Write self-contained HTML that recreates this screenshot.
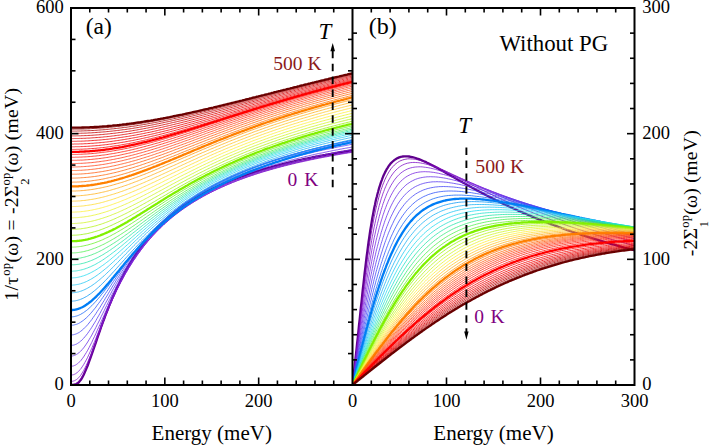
<!DOCTYPE html><html><head><meta charset="utf-8"><style>html,body{margin:0;padding:0;background:#fff;width:709px;height:445px;overflow:hidden}svg{display:block}text{font-family:"Liberation Serif",serif;fill:#000}</style></head><body>
<svg width="709" height="445" viewBox="0 0 709 445">
<defs><clipPath id="ca"><rect x="71.0" y="8.0" width="281.5" height="377.0"/></clipPath><clipPath id="cb"><rect x="352.5" y="8.0" width="282.0" height="377.0"/></clipPath></defs>
<g clip-path="url(#ca)" fill="none" stroke-linejoin="round">
<path d="M71.0,385.0 71.2,385.0 71.6,385.0 72.0,385.0 72.3,385.0 72.7,385.0 73.1,385.0 73.5,384.9 73.9,384.9 74.3,384.8 74.6,384.7 75.0,384.6 75.4,384.5 75.8,384.4 76.2,384.2 76.6,384.0 76.9,383.8 77.3,383.5 77.7,383.3 78.1,383.0 78.5,382.6 78.9,382.2 79.2,381.8 79.6,381.4 80.0,380.9 80.4,380.4 80.9,379.8 82.2,377.6 83.6,375.0 84.9,372.1 86.3,368.9 87.7,365.5 89.0,361.9 90.4,358.1 91.8,354.2 93.1,350.3 94.5,346.3 95.9,342.3 97.2,338.3 98.6,334.3 100.0,330.4 101.3,326.5 102.7,322.7 104.1,319.0 105.4,315.4 106.8,311.8 108.2,308.3 109.5,304.9 110.9,301.6 112.2,298.3 113.6,295.2 115.0,292.1 116.3,289.1 117.7,286.2 119.1,283.4 120.4,280.6 121.8,277.9 123.2,275.3 124.5,272.8 125.9,270.3 127.3,267.9 128.6,265.5 130.0,263.2 131.4,261.0 132.7,258.8 134.1,256.7 135.5,254.7 136.8,252.6 138.2,250.7 139.6,248.8 140.9,246.9 142.3,245.1 143.6,243.3 145.0,241.6 146.4,239.9 147.7,238.2 149.1,236.6 150.5,235.1 151.8,233.5 153.2,232.0 154.6,230.5 155.9,229.1 157.3,227.7 158.7,226.3 160.0,225.0 161.4,223.6 162.8,222.3 164.1,221.1 165.5,219.8 166.9,218.6 168.2,217.4 169.6,216.3 170.9,215.1 172.3,214.0 173.7,212.9 175.0,211.8 176.4,210.8 177.8,209.7 179.1,208.7 180.5,207.7 181.9,206.7 183.2,205.8 184.6,204.8 186.0,203.9 187.3,203.0 188.7,202.1 190.1,201.2 191.4,200.4 192.8,199.5 194.2,198.7 195.5,197.9 196.9,197.0 198.2,196.3 199.6,195.5 201.0,194.7 202.3,193.9 203.7,193.2 205.1,192.5 206.4,191.8 207.8,191.0 209.2,190.3 210.5,189.7 211.9,189.0 213.3,188.3 214.6,187.7 216.0,187.0 217.4,186.4 218.7,185.8 220.1,185.1 221.5,184.5 222.8,183.9 224.2,183.3 225.5,182.8 226.9,182.2 228.3,181.6 229.6,181.1 231.0,180.5 232.4,180.0 233.7,179.4 235.1,178.9 236.5,178.4 237.8,177.9 239.2,177.3 240.6,176.8 241.9,176.3 243.3,175.9 244.7,175.4 246.0,174.9 247.4,174.4 248.8,174.0 250.1,173.5 251.5,173.1 252.9,172.6 254.2,172.2 255.6,171.7 256.9,171.3 258.3,170.9 259.7,170.5 261.0,170.0 262.4,169.6 263.8,169.2 265.1,168.8 266.5,168.4 267.9,168.0 269.2,167.6 270.6,167.3 272.0,166.9 273.3,166.5 274.7,166.1 276.1,165.8 277.4,165.4 278.8,165.1 280.2,164.7 281.5,164.3 282.9,164.0 284.2,163.7 285.6,163.3 287.0,163.0 288.3,162.7 289.7,162.3 291.1,162.0 292.4,161.7 293.8,161.4 295.2,161.0 296.5,160.7 297.9,160.4 299.3,160.1 300.6,159.8 302.0,159.5 303.4,159.2 304.7,158.9 306.1,158.6 307.5,158.4 308.8,158.1 310.2,157.8 311.5,157.5 312.9,157.2 314.3,157.0 315.6,156.7 317.0,156.4 318.4,156.2 319.7,155.9 321.1,155.6 322.5,155.4 323.8,155.1 325.2,154.9 326.6,154.6 327.9,154.4 329.3,154.1 330.7,153.9 332.0,153.6 333.4,153.4 334.8,153.2 336.1,152.9 337.5,152.7 338.8,152.4 340.2,152.2 341.6,152.0 342.9,151.8 344.3,151.5 345.7,151.3 347.0,151.1 348.4,150.9 349.8,150.7 351.1,150.5 352.5,150.2" stroke="#5f008c" stroke-width="2.3"/>
<path d="M71.0,384.5 71.2,384.5 71.6,384.5 72.0,384.5 72.3,384.4 72.7,384.4 73.1,384.3 73.5,384.2 73.9,384.2 74.3,384.1 74.6,383.9 75.0,383.8 75.4,383.6 75.8,383.5 76.2,383.3 76.6,383.0 76.9,382.8 77.3,382.5 77.7,382.2 78.1,381.9 78.5,381.5 78.9,381.1 79.2,380.7 79.6,380.3 80.0,379.8 80.4,379.3 80.9,378.7 82.2,376.5 83.6,374.1 84.9,371.3 86.3,368.2 87.7,365.0 89.0,361.5 90.4,357.9 91.8,354.1 93.1,350.3 94.5,346.5 95.9,342.6 97.2,338.7 98.6,334.9 100.0,331.0 101.3,327.3 102.7,323.6 104.1,319.9 105.4,316.3 106.8,312.8 108.2,309.4 109.5,306.0 110.9,302.8 112.2,299.6 113.6,296.4 115.0,293.4 116.3,290.5 117.7,287.6 119.1,284.8 120.4,282.0 121.8,279.4 123.2,276.8 124.5,274.3 125.9,271.8 127.3,269.4 128.6,267.1 130.0,264.8 131.4,262.6 132.7,260.4 134.1,258.3 135.5,256.3 136.8,254.3 138.2,252.3 139.6,250.4 140.9,248.6 142.3,246.8 143.6,245.0 145.0,243.3 146.4,241.6 147.7,239.9 149.1,238.3 150.5,236.8 151.8,235.2 153.2,233.7 154.6,232.2 155.9,230.8 157.3,229.4 158.7,228.0 160.0,226.7 161.4,225.4 162.8,224.1 164.1,222.8 165.5,221.6 166.9,220.4 168.2,219.2 169.6,218.0 170.9,216.9 172.3,215.7 173.7,214.6 175.0,213.6 176.4,212.5 177.8,211.5 179.1,210.4 180.5,209.4 181.9,208.5 183.2,207.5 184.6,206.6 186.0,205.6 187.3,204.7 188.7,203.8 190.1,202.9 191.4,202.1 192.8,201.2 194.2,200.4 195.5,199.6 196.9,198.8 198.2,198.0 199.6,197.2 201.0,196.4 202.3,195.6 203.7,194.9 205.1,194.2 206.4,193.4 207.8,192.7 209.2,192.0 210.5,191.3 211.9,190.7 213.3,190.0 214.6,189.3 216.0,188.7 217.4,188.1 218.7,187.4 220.1,186.8 221.5,186.2 222.8,185.6 224.2,185.0 225.5,184.4 226.9,183.8 228.3,183.3 229.6,182.7 231.0,182.2 232.4,181.6 233.7,181.1 235.1,180.5 236.5,180.0 237.8,179.5 239.2,179.0 240.6,178.5 241.9,178.0 243.3,177.5 244.7,177.0 246.0,176.5 247.4,176.1 248.8,175.6 250.1,175.1 251.5,174.7 252.9,174.2 254.2,173.8 255.6,173.3 256.9,172.9 258.3,172.5 259.7,172.1 261.0,171.6 262.4,171.2 263.8,170.8 265.1,170.4 266.5,170.0 267.9,169.6 269.2,169.2 270.6,168.8 272.0,168.5 273.3,168.1 274.7,167.7 276.1,167.3 277.4,167.0 278.8,166.6 280.2,166.3 281.5,165.9 282.9,165.6 284.2,165.2 285.6,164.9 287.0,164.5 288.3,164.2 289.7,163.9 291.1,163.5 292.4,163.2 293.8,162.9 295.2,162.6 296.5,162.3 297.9,162.0 299.3,161.7 300.6,161.4 302.0,161.1 303.4,160.8 304.7,160.5 306.1,160.2 307.5,159.9 308.8,159.6 310.2,159.3 311.5,159.0 312.9,158.7 314.3,158.5 315.6,158.2 317.0,157.9 318.4,157.7 319.7,157.4 321.1,157.1 322.5,156.9 323.8,156.6 325.2,156.4 326.6,156.1 327.9,155.9 329.3,155.6 330.7,155.4 332.0,155.1 333.4,154.9 334.8,154.6 336.1,154.4 337.5,154.2 338.8,153.9 340.2,153.7 341.6,153.5 342.9,153.2 344.3,153.0 345.7,152.8 347.0,152.6 348.4,152.3 349.8,152.1 351.1,151.9 352.5,151.7" stroke="#7800af" stroke-width="0.8"/>
<path d="M71.0,381.4 71.2,381.4 71.6,381.4 72.0,381.3 72.3,381.3 72.7,381.2 73.1,381.1 73.5,381.0 73.9,380.9 74.3,380.8 74.6,380.6 75.0,380.4 75.4,380.2 75.8,380.0 76.2,379.8 76.6,379.5 76.9,379.2 77.3,378.9 77.7,378.6 78.1,378.2 78.5,377.8 78.9,377.4 79.2,377.0 79.6,376.6 80.0,376.1 80.4,375.6 80.9,375.0 82.2,372.9 83.6,370.6 84.9,368.1 86.3,365.3 87.7,362.2 89.0,359.0 90.4,355.7 91.8,352.2 93.1,348.7 94.5,345.1 95.9,341.5 97.2,337.8 98.6,334.2 100.0,330.5 101.3,327.0 102.7,323.4 104.1,319.9 105.4,316.4 106.8,313.1 108.2,309.7 109.5,306.5 110.9,303.3 112.2,300.2 113.6,297.1 115.0,294.2 116.3,291.3 117.7,288.5 119.1,285.7 120.4,283.0 121.8,280.4 123.2,277.8 124.5,275.4 125.9,272.9 127.3,270.6 128.6,268.3 130.0,266.0 131.4,263.8 132.7,261.7 134.1,259.6 135.5,257.6 136.8,255.6 138.2,253.6 139.6,251.7 140.9,249.9 142.3,248.1 143.6,246.3 145.0,244.6 146.4,242.9 147.7,241.3 149.1,239.7 150.5,238.1 151.8,236.6 153.2,235.1 154.6,233.6 155.9,232.2 157.3,230.7 158.7,229.4 160.0,228.0 161.4,226.7 162.8,225.4 164.1,224.1 165.5,222.9 166.9,221.7 168.2,220.5 169.6,219.3 170.9,218.2 172.3,217.0 173.7,215.9 175.0,214.9 176.4,213.8 177.8,212.8 179.1,211.7 180.5,210.7 181.9,209.7 183.2,208.8 184.6,207.8 186.0,206.9 187.3,206.0 188.7,205.1 190.1,204.2 191.4,203.3 192.8,202.4 194.2,201.6 195.5,200.8 196.9,200.0 198.2,199.2 199.6,198.4 201.0,197.6 202.3,196.8 203.7,196.1 205.1,195.3 206.4,194.6 207.8,193.9 209.2,193.2 210.5,192.5 211.9,191.8 213.3,191.1 214.6,190.5 216.0,189.8 217.4,189.2 218.7,188.5 220.1,187.9 221.5,187.3 222.8,186.7 224.2,186.1 225.5,185.5 226.9,184.9 228.3,184.3 229.6,183.8 231.0,183.2 232.4,182.6 233.7,182.1 235.1,181.6 236.5,181.0 237.8,180.5 239.2,180.0 240.6,179.5 241.9,179.0 243.3,178.5 244.7,178.0 246.0,177.5 247.4,177.0 248.8,176.5 250.1,176.1 251.5,175.6 252.9,175.2 254.2,174.7 255.6,174.3 256.9,173.8 258.3,173.4 259.7,173.0 261.0,172.5 262.4,172.1 263.8,171.7 265.1,171.3 266.5,170.9 267.9,170.5 269.2,170.1 270.6,169.7 272.0,169.3 273.3,168.9 274.7,168.6 276.1,168.2 277.4,167.8 278.8,167.5 280.2,167.1 281.5,166.7 282.9,166.4 284.2,166.0 285.6,165.7 287.0,165.3 288.3,165.0 289.7,164.7 291.1,164.3 292.4,164.0 293.8,163.7 295.2,163.4 296.5,163.0 297.9,162.7 299.3,162.4 300.6,162.1 302.0,161.8 303.4,161.5 304.7,161.2 306.1,160.9 307.5,160.6 308.8,160.3 310.2,160.0 311.5,159.7 312.9,159.5 314.3,159.2 315.6,158.9 317.0,158.6 318.4,158.3 319.7,158.1 321.1,157.8 322.5,157.5 323.8,157.3 325.2,157.0 326.6,156.8 327.9,156.5 329.3,156.3 330.7,156.0 332.0,155.8 333.4,155.5 334.8,155.3 336.1,155.0 337.5,154.8 338.8,154.5 340.2,154.3 341.6,154.1 342.9,153.8 344.3,153.6 345.7,153.4 347.0,153.2 348.4,152.9 349.8,152.7 351.1,152.5 352.5,152.3" stroke="#8214c8" stroke-width="0.8"/>
<path d="M71.0,375.0 71.2,375.0 71.6,375.0 72.0,375.0 72.3,374.9 72.7,374.9 73.1,374.8 73.5,374.7 73.9,374.5 74.3,374.4 74.6,374.2 75.0,374.0 75.4,373.8 75.8,373.6 76.2,373.3 76.6,373.0 76.9,372.8 77.3,372.5 77.7,372.1 78.1,371.8 78.5,371.4 78.9,371.0 79.2,370.6 79.6,370.2 80.0,369.8 80.4,369.3 80.9,368.7 82.2,366.8 83.6,364.7 84.9,362.4 86.3,359.9 87.7,357.2 89.0,354.3 90.4,351.3 91.8,348.2 93.1,345.0 94.5,341.7 95.9,338.4 97.2,335.0 98.6,331.7 100.0,328.3 101.3,324.9 102.7,321.6 104.1,318.3 105.4,315.0 106.8,311.8 108.2,308.6 109.5,305.5 110.9,302.5 112.2,299.5 113.6,296.6 115.0,293.7 116.3,290.9 117.7,288.1 119.1,285.4 120.4,282.8 121.8,280.3 123.2,277.8 124.5,275.3 125.9,272.9 127.3,270.6 128.6,268.3 130.0,266.1 131.4,264.0 132.7,261.8 134.1,259.8 135.5,257.8 136.8,255.8 138.2,253.9 139.6,252.0 140.9,250.1 142.3,248.4 143.6,246.6 145.0,244.9 146.4,243.2 147.7,241.6 149.1,240.0 150.5,238.4 151.8,236.9 153.2,235.4 154.6,233.9 155.9,232.5 157.3,231.1 158.7,229.7 160.0,228.3 161.4,227.0 162.8,225.7 164.1,224.4 165.5,223.2 166.9,222.0 168.2,220.8 169.6,219.6 170.9,218.4 172.3,217.3 173.7,216.2 175.0,215.1 176.4,214.0 177.8,213.0 179.1,212.0 180.5,210.9 181.9,209.9 183.2,209.0 184.6,208.0 186.0,207.1 187.3,206.1 188.7,205.2 190.1,204.3 191.4,203.5 192.8,202.6 194.2,201.7 195.5,200.9 196.9,200.1 198.2,199.3 199.6,198.5 201.0,197.7 202.3,196.9 203.7,196.1 205.1,195.4 206.4,194.7 207.8,193.9 209.2,193.2 210.5,192.5 211.9,191.8 213.3,191.1 214.6,190.5 216.0,189.8 217.4,189.1 218.7,188.5 220.1,187.9 221.5,187.2 222.8,186.6 224.2,186.0 225.5,185.4 226.9,184.8 228.3,184.2 229.6,183.7 231.0,183.1 232.4,182.5 233.7,182.0 235.1,181.4 236.5,180.9 237.8,180.3 239.2,179.8 240.6,179.3 241.9,178.8 243.3,178.3 244.7,177.8 246.0,177.3 247.4,176.8 248.8,176.3 250.1,175.8 251.5,175.4 252.9,174.9 254.2,174.5 255.6,174.0 256.9,173.6 258.3,173.1 259.7,172.7 261.0,172.2 262.4,171.8 263.8,171.4 265.1,171.0 266.5,170.6 267.9,170.2 269.2,169.8 270.6,169.4 272.0,169.0 273.3,168.6 274.7,168.2 276.1,167.8 277.4,167.4 278.8,167.1 280.2,166.7 281.5,166.3 282.9,166.0 284.2,165.6 285.6,165.2 287.0,164.9 288.3,164.5 289.7,164.2 291.1,163.9 292.4,163.5 293.8,163.2 295.2,162.9 296.5,162.5 297.9,162.2 299.3,161.9 300.6,161.6 302.0,161.3 303.4,161.0 304.7,160.7 306.1,160.3 307.5,160.0 308.8,159.7 310.2,159.5 311.5,159.2 312.9,158.9 314.3,158.6 315.6,158.3 317.0,158.0 318.4,157.7 319.7,157.5 321.1,157.2 322.5,156.9 323.8,156.6 325.2,156.4 326.6,156.1 327.9,155.9 329.3,155.6 330.7,155.3 332.0,155.1 333.4,154.8 334.8,154.6 336.1,154.3 337.5,154.1 338.8,153.8 340.2,153.6 341.6,153.4 342.9,153.1 344.3,152.9 345.7,152.6 347.0,152.4 348.4,152.2 349.8,152.0 351.1,151.7 352.5,151.5" stroke="#7d1ed4" stroke-width="0.8"/>
<path d="M71.0,366.2 71.2,366.2 71.6,366.2 72.0,366.2 72.3,366.1 72.7,366.1 73.1,366.0 73.5,365.9 73.9,365.7 74.3,365.6 74.6,365.4 75.0,365.3 75.4,365.1 75.8,364.9 76.2,364.6 76.6,364.4 76.9,364.1 77.3,363.8 77.7,363.5 78.1,363.2 78.5,362.9 78.9,362.5 79.2,362.2 79.6,361.8 80.0,361.4 80.4,361.0 80.9,360.5 82.2,358.8 83.6,356.9 84.9,354.8 86.3,352.6 87.7,350.2 89.0,347.7 90.4,345.0 91.8,342.3 93.1,339.4 94.5,336.5 95.9,333.5 97.2,330.5 98.6,327.4 100.0,324.4 101.3,321.3 102.7,318.2 104.1,315.2 105.4,312.1 106.8,309.1 108.2,306.1 109.5,303.2 110.9,300.3 112.2,297.5 113.6,294.7 115.0,291.9 116.3,289.2 117.7,286.6 119.1,284.0 120.4,281.5 121.8,279.0 123.2,276.5 124.5,274.2 125.9,271.8 127.3,269.6 128.6,267.3 130.0,265.2 131.4,263.0 132.7,261.0 134.1,258.9 135.5,256.9 136.8,255.0 138.2,253.1 139.6,251.2 140.9,249.4 142.3,247.6 143.6,245.9 145.0,244.2 146.4,242.5 147.7,240.9 149.1,239.3 150.5,237.7 151.8,236.2 153.2,234.7 154.6,233.2 155.9,231.8 157.3,230.4 158.7,229.0 160.0,227.7 161.4,226.3 162.8,225.0 164.1,223.8 165.5,222.5 166.9,221.3 168.2,220.1 169.6,218.9 170.9,217.7 172.3,216.6 173.7,215.5 175.0,214.4 176.4,213.3 177.8,212.3 179.1,211.2 180.5,210.2 181.9,209.2 183.2,208.2 184.6,207.2 186.0,206.3 187.3,205.4 188.7,204.4 190.1,203.5 191.4,202.6 192.8,201.8 194.2,200.9 195.5,200.1 196.9,199.2 198.2,198.4 199.6,197.6 201.0,196.8 202.3,196.0 203.7,195.2 205.1,194.5 206.4,193.7 207.8,193.0 209.2,192.3 210.5,191.6 211.9,190.8 213.3,190.2 214.6,189.5 216.0,188.8 217.4,188.1 218.7,187.5 220.1,186.8 221.5,186.2 222.8,185.6 224.2,184.9 225.5,184.3 226.9,183.7 228.3,183.1 229.6,182.5 231.0,182.0 232.4,181.4 233.7,180.8 235.1,180.3 236.5,179.7 237.8,179.2 239.2,178.6 240.6,178.1 241.9,177.6 243.3,177.1 244.7,176.6 246.0,176.1 247.4,175.6 248.8,175.1 250.1,174.6 251.5,174.1 252.9,173.6 254.2,173.2 255.6,172.7 256.9,172.2 258.3,171.8 259.7,171.3 261.0,170.9 262.4,170.5 263.8,170.0 265.1,169.6 266.5,169.2 267.9,168.8 269.2,168.3 270.6,167.9 272.0,167.5 273.3,167.1 274.7,166.7 276.1,166.4 277.4,166.0 278.8,165.6 280.2,165.2 281.5,164.8 282.9,164.5 284.2,164.1 285.6,163.7 287.0,163.4 288.3,163.0 289.7,162.7 291.1,162.3 292.4,162.0 293.8,161.6 295.2,161.3 296.5,161.0 297.9,160.6 299.3,160.3 300.6,160.0 302.0,159.6 303.4,159.3 304.7,159.0 306.1,158.7 307.5,158.4 308.8,158.1 310.2,157.8 311.5,157.5 312.9,157.2 314.3,156.9 315.6,156.6 317.0,156.3 318.4,156.0 319.7,155.7 321.1,155.5 322.5,155.2 323.8,154.9 325.2,154.6 326.6,154.3 327.9,154.1 329.3,153.8 330.7,153.5 332.0,153.3 333.4,153.0 334.8,152.8 336.1,152.5 337.5,152.3 338.8,152.0 340.2,151.8 341.6,151.5 342.9,151.3 344.3,151.0 345.7,150.8 347.0,150.5 348.4,150.3 349.8,150.1 351.1,149.8 352.5,149.6" stroke="#7828e1" stroke-width="0.8"/>
<path d="M71.0,356.0 71.2,356.0 71.6,356.0 72.0,356.0 72.3,356.0 72.7,355.9 73.1,355.8 73.5,355.7 73.9,355.6 74.3,355.5 74.6,355.3 75.0,355.2 75.4,355.0 75.8,354.8 76.2,354.6 76.6,354.4 76.9,354.2 77.3,353.9 77.7,353.7 78.1,353.4 78.5,353.1 78.9,352.8 79.2,352.5 79.6,352.1 80.0,351.8 80.4,351.4 80.9,351.0 82.2,349.5 83.6,347.9 84.9,346.1 86.3,344.1 87.7,342.0 89.0,339.8 90.4,337.5 91.8,335.1 93.1,332.6 94.5,330.0 95.9,327.4 97.2,324.7 98.6,322.0 100.0,319.2 101.3,316.4 102.7,313.6 104.1,310.8 105.4,308.1 106.8,305.3 108.2,302.5 109.5,299.8 110.9,297.1 112.2,294.4 113.6,291.8 115.0,289.2 116.3,286.6 117.7,284.1 119.1,281.7 120.4,279.2 121.8,276.8 123.2,274.5 124.5,272.2 125.9,270.0 127.3,267.8 128.6,265.6 130.0,263.5 131.4,261.4 132.7,259.4 134.1,257.4 135.5,255.4 136.8,253.5 138.2,251.6 139.6,249.8 140.9,248.0 142.3,246.3 143.6,244.5 145.0,242.9 146.4,241.2 147.7,239.6 149.1,238.0 150.5,236.5 151.8,234.9 153.2,233.4 154.6,232.0 155.9,230.5 157.3,229.1 158.7,227.8 160.0,226.4 161.4,225.1 162.8,223.8 164.1,222.5 165.5,221.3 166.9,220.0 168.2,218.8 169.6,217.6 170.9,216.5 172.3,215.3 173.7,214.2 175.0,213.1 176.4,212.0 177.8,211.0 179.1,209.9 180.5,208.9 181.9,207.9 183.2,206.9 184.6,205.9 186.0,204.9 187.3,204.0 188.7,203.1 190.1,202.2 191.4,201.3 192.8,200.4 194.2,199.5 195.5,198.6 196.9,197.8 198.2,197.0 199.6,196.1 201.0,195.3 202.3,194.5 203.7,193.8 205.1,193.0 206.4,192.2 207.8,191.5 209.2,190.7 210.5,190.0 211.9,189.3 213.3,188.6 214.6,187.9 216.0,187.2 217.4,186.5 218.7,185.9 220.1,185.2 221.5,184.6 222.8,183.9 224.2,183.3 225.5,182.7 226.9,182.0 228.3,181.4 229.6,180.8 231.0,180.2 232.4,179.7 233.7,179.1 235.1,178.5 236.5,178.0 237.8,177.4 239.2,176.9 240.6,176.3 241.9,175.8 243.3,175.3 244.7,174.7 246.0,174.2 247.4,173.7 248.8,173.2 250.1,172.7 251.5,172.2 252.9,171.7 254.2,171.3 255.6,170.8 256.9,170.3 258.3,169.8 259.7,169.4 261.0,168.9 262.4,168.5 263.8,168.0 265.1,167.6 266.5,167.2 267.9,166.7 269.2,166.3 270.6,165.9 272.0,165.5 273.3,165.1 274.7,164.7 276.1,164.3 277.4,163.9 278.8,163.5 280.2,163.1 281.5,162.7 282.9,162.3 284.2,162.0 285.6,161.6 287.0,161.2 288.3,160.8 289.7,160.5 291.1,160.1 292.4,159.8 293.8,159.4 295.2,159.1 296.5,158.7 297.9,158.4 299.3,158.0 300.6,157.7 302.0,157.4 303.4,157.1 304.7,156.7 306.1,156.4 307.5,156.1 308.8,155.8 310.2,155.5 311.5,155.1 312.9,154.8 314.3,154.5 315.6,154.2 317.0,153.9 318.4,153.6 319.7,153.3 321.1,153.1 322.5,152.8 323.8,152.5 325.2,152.2 326.6,151.9 327.9,151.6 329.3,151.4 330.7,151.1 332.0,150.8 333.4,150.5 334.8,150.3 336.1,150.0 337.5,149.8 338.8,149.5 340.2,149.2 341.6,149.0 342.9,148.7 344.3,148.5 345.7,148.2 347.0,148.0 348.4,147.7 349.8,147.5 351.1,147.2 352.5,147.0" stroke="#6932e8" stroke-width="0.8"/>
<path d="M71.0,345.4 71.2,345.4 71.6,345.4 72.0,345.3 72.3,345.3 72.7,345.2 73.1,345.2 73.5,345.1 73.9,345.0 74.3,344.9 74.6,344.8 75.0,344.6 75.4,344.5 75.8,344.3 76.2,344.2 76.6,344.0 76.9,343.8 77.3,343.6 77.7,343.3 78.1,343.1 78.5,342.8 78.9,342.6 79.2,342.3 79.6,342.0 80.0,341.7 80.4,341.4 80.9,341.0 82.2,339.7 83.6,338.3 84.9,336.8 86.3,335.1 87.7,333.3 89.0,331.4 90.4,329.4 91.8,327.3 93.1,325.1 94.5,322.9 95.9,320.6 97.2,318.2 98.6,315.8 100.0,313.3 101.3,310.8 102.7,308.3 104.1,305.8 105.4,303.3 106.8,300.8 108.2,298.3 109.5,295.8 110.9,293.3 112.2,290.8 113.6,288.3 115.0,285.9 116.3,283.5 117.7,281.1 119.1,278.8 120.4,276.5 121.8,274.2 123.2,272.0 124.5,269.8 125.9,267.7 127.3,265.5 128.6,263.5 130.0,261.4 131.4,259.4 132.7,257.4 134.1,255.5 135.5,253.6 136.8,251.7 138.2,249.9 139.6,248.1 140.9,246.4 142.3,244.6 143.6,243.0 145.0,241.3 146.4,239.7 147.7,238.1 149.1,236.5 150.5,235.0 151.8,233.5 153.2,232.0 154.6,230.5 155.9,229.1 157.3,227.7 158.7,226.3 160.0,225.0 161.4,223.7 162.8,222.4 164.1,221.1 165.5,219.9 166.9,218.6 168.2,217.4 169.6,216.2 170.9,215.1 172.3,213.9 173.7,212.8 175.0,211.7 176.4,210.6 177.8,209.5 179.1,208.5 180.5,207.4 181.9,206.4 183.2,205.4 184.6,204.4 186.0,203.5 187.3,202.5 188.7,201.6 190.1,200.7 191.4,199.8 192.8,198.9 194.2,198.0 195.5,197.1 196.9,196.3 198.2,195.4 199.6,194.6 201.0,193.8 202.3,193.0 203.7,192.2 205.1,191.4 206.4,190.6 207.8,189.9 209.2,189.1 210.5,188.4 211.9,187.6 213.3,186.9 214.6,186.2 216.0,185.5 217.4,184.8 218.7,184.2 220.1,183.5 221.5,182.8 222.8,182.2 224.2,181.5 225.5,180.9 226.9,180.3 228.3,179.6 229.6,179.0 231.0,178.4 232.4,177.8 233.7,177.2 235.1,176.7 236.5,176.1 237.8,175.5 239.2,175.0 240.6,174.4 241.9,173.9 243.3,173.3 244.7,172.8 246.0,172.3 247.4,171.7 248.8,171.2 250.1,170.7 251.5,170.2 252.9,169.7 254.2,169.2 255.6,168.7 256.9,168.3 258.3,167.8 259.7,167.3 261.0,166.9 262.4,166.4 263.8,165.9 265.1,165.5 266.5,165.1 267.9,164.6 269.2,164.2 270.6,163.7 272.0,163.3 273.3,162.9 274.7,162.5 276.1,162.1 277.4,161.7 278.8,161.3 280.2,160.9 281.5,160.5 282.9,160.1 284.2,159.7 285.6,159.3 287.0,158.9 288.3,158.5 289.7,158.2 291.1,157.8 292.4,157.4 293.8,157.1 295.2,156.7 296.5,156.4 297.9,156.0 299.3,155.7 300.6,155.3 302.0,155.0 303.4,154.6 304.7,154.3 306.1,154.0 307.5,153.6 308.8,153.3 310.2,153.0 311.5,152.7 312.9,152.3 314.3,152.0 315.6,151.7 317.0,151.4 318.4,151.1 319.7,150.8 321.1,150.5 322.5,150.2 323.8,149.9 325.2,149.6 326.6,149.3 327.9,149.0 329.3,148.8 330.7,148.5 332.0,148.2 333.4,147.9 334.8,147.6 336.1,147.4 337.5,147.1 338.8,146.8 340.2,146.6 341.6,146.3 342.9,146.0 344.3,145.8 345.7,145.5 347.0,145.2 348.4,145.0 349.8,144.7 351.1,144.5 352.5,144.2" stroke="#5a3cf0" stroke-width="0.8"/>
<path d="M71.0,334.9 71.2,334.9 71.6,334.9 72.0,334.9 72.3,334.9 72.7,334.8 73.1,334.8 73.5,334.7 73.9,334.6 74.3,334.5 74.6,334.4 75.0,334.3 75.4,334.2 75.8,334.0 76.2,333.9 76.6,333.7 76.9,333.6 77.3,333.4 77.7,333.2 78.1,333.0 78.5,332.8 78.9,332.6 79.2,332.3 79.6,332.1 80.0,331.8 80.4,331.5 80.9,331.2 82.2,330.1 83.6,328.9 84.9,327.6 86.3,326.2 87.7,324.7 89.0,323.0 90.4,321.3 91.8,319.5 93.1,317.6 94.5,315.6 95.9,313.6 97.2,311.5 98.6,309.4 100.0,307.3 101.3,305.1 102.7,302.8 104.1,300.6 105.4,298.3 106.8,296.1 108.2,293.8 109.5,291.5 110.9,289.2 112.2,287.0 113.6,284.7 115.0,282.5 116.3,280.2 117.7,278.0 119.1,275.9 120.4,273.7 121.8,271.6 123.2,269.5 124.5,267.4 125.9,265.3 127.3,263.3 128.6,261.3 130.0,259.4 131.4,257.5 132.7,255.6 134.1,253.7 135.5,251.9 136.8,250.1 138.2,248.3 139.6,246.6 140.9,244.9 142.3,243.2 143.6,241.5 145.0,239.9 146.4,238.3 147.7,236.7 149.1,235.2 150.5,233.7 151.8,232.2 153.2,230.8 154.6,229.3 155.9,227.9 157.3,226.5 158.7,225.2 160.0,223.9 161.4,222.5 162.8,221.3 164.1,220.0 165.5,218.7 166.9,217.5 168.2,216.3 169.6,215.1 170.9,214.0 172.3,212.8 173.7,211.7 175.0,210.6 176.4,209.5 177.8,208.4 179.1,207.4 180.5,206.3 181.9,205.3 183.2,204.3 184.6,203.3 186.0,202.4 187.3,201.4 188.7,200.5 190.1,199.5 191.4,198.6 192.8,197.7 194.2,196.8 195.5,195.9 196.9,195.1 198.2,194.2 199.6,193.4 201.0,192.6 202.3,191.8 203.7,191.0 205.1,190.2 206.4,189.4 207.8,188.6 209.2,187.9 210.5,187.1 211.9,186.4 213.3,185.6 214.6,184.9 216.0,184.2 217.4,183.5 218.7,182.8 220.1,182.1 221.5,181.5 222.8,180.8 224.2,180.2 225.5,179.5 226.9,178.9 228.3,178.2 229.6,177.6 231.0,177.0 232.4,176.4 233.7,175.8 235.1,175.2 236.5,174.6 237.8,174.0 239.2,173.5 240.6,172.9 241.9,172.3 243.3,171.8 244.7,171.3 246.0,170.7 247.4,170.2 248.8,169.7 250.1,169.1 251.5,168.6 252.9,168.1 254.2,167.6 255.6,167.1 256.9,166.6 258.3,166.1 259.7,165.6 261.0,165.2 262.4,164.7 263.8,164.2 265.1,163.8 266.5,163.3 267.9,162.9 269.2,162.4 270.6,162.0 272.0,161.5 273.3,161.1 274.7,160.7 276.1,160.3 277.4,159.8 278.8,159.4 280.2,159.0 281.5,158.6 282.9,158.2 284.2,157.8 285.6,157.4 287.0,157.0 288.3,156.6 289.7,156.2 291.1,155.9 292.4,155.5 293.8,155.1 295.2,154.7 296.5,154.4 297.9,154.0 299.3,153.7 300.6,153.3 302.0,152.9 303.4,152.6 304.7,152.2 306.1,151.9 307.5,151.6 308.8,151.2 310.2,150.9 311.5,150.6 312.9,150.2 314.3,149.9 315.6,149.6 317.0,149.3 318.4,149.0 319.7,148.6 321.1,148.3 322.5,148.0 323.8,147.7 325.2,147.4 326.6,147.1 327.9,146.8 329.3,146.5 330.7,146.2 332.0,145.9 333.4,145.6 334.8,145.4 336.1,145.1 337.5,144.8 338.8,144.5 340.2,144.2 341.6,144.0 342.9,143.7 344.3,143.4 345.7,143.1 347.0,142.9 348.4,142.6 349.8,142.4 351.1,142.1 352.5,141.8" stroke="#4648f5" stroke-width="0.8"/>
<path d="M71.0,325.3 71.2,325.3 71.6,325.3 72.0,325.3 72.3,325.2 72.7,325.2 73.1,325.1 73.5,325.1 73.9,325.0 74.3,324.9 74.6,324.8 75.0,324.8 75.4,324.6 75.8,324.5 76.2,324.4 76.6,324.3 76.9,324.1 77.3,324.0 77.7,323.8 78.1,323.6 78.5,323.5 78.9,323.3 79.2,323.1 79.6,322.9 80.0,322.6 80.4,322.4 80.9,322.1 82.2,321.2 83.6,320.2 84.9,319.1 86.3,317.9 87.7,316.6 89.0,315.2 90.4,313.7 91.8,312.1 93.1,310.5 94.5,308.8 95.9,307.1 97.2,305.2 98.6,303.4 100.0,301.5 101.3,299.6 102.7,297.6 104.1,295.6 105.4,293.6 106.8,291.6 108.2,289.5 109.5,287.5 110.9,285.4 112.2,283.4 113.6,281.3 115.0,279.3 116.3,277.2 117.7,275.2 119.1,273.2 120.4,271.2 121.8,269.2 123.2,267.3 124.5,265.3 125.9,263.4 127.3,261.5 128.6,259.6 130.0,257.8 131.4,255.9 132.7,254.1 134.1,252.4 135.5,250.6 136.8,248.9 138.2,247.2 139.6,245.5 140.9,243.9 142.3,242.2 143.6,240.6 145.0,239.1 146.4,237.5 147.7,236.0 149.1,234.5 150.5,233.0 151.8,231.6 153.2,230.2 154.6,228.8 155.9,227.4 157.3,226.0 158.7,224.7 160.0,223.4 161.4,222.1 162.8,220.8 164.1,219.6 165.5,218.3 166.9,217.1 168.2,215.9 169.6,214.8 170.9,213.6 172.3,212.5 173.7,211.4 175.0,210.3 176.4,209.2 177.8,208.1 179.1,207.0 180.5,206.0 181.9,205.0 183.2,204.0 184.6,203.0 186.0,202.0 187.3,201.1 188.7,200.1 190.1,199.2 191.4,198.3 192.8,197.4 194.2,196.5 195.5,195.6 196.9,194.7 198.2,193.9 199.6,193.0 201.0,192.2 202.3,191.4 203.7,190.6 205.1,189.8 206.4,189.0 207.8,188.2 209.2,187.4 210.5,186.7 211.9,185.9 213.3,185.2 214.6,184.5 216.0,183.8 217.4,183.1 218.7,182.4 220.1,181.7 221.5,181.0 222.8,180.3 224.2,179.7 225.5,179.0 226.9,178.3 228.3,177.7 229.6,177.1 231.0,176.4 232.4,175.8 233.7,175.2 235.1,174.6 236.5,174.0 237.8,173.4 239.2,172.9 240.6,172.3 241.9,171.7 243.3,171.1 244.7,170.6 246.0,170.0 247.4,169.5 248.8,169.0 250.1,168.4 251.5,167.9 252.9,167.4 254.2,166.9 255.6,166.4 256.9,165.9 258.3,165.4 259.7,164.9 261.0,164.4 262.4,163.9 263.8,163.4 265.1,162.9 266.5,162.5 267.9,162.0 269.2,161.6 270.6,161.1 272.0,160.7 273.3,160.2 274.7,159.8 276.1,159.3 277.4,158.9 278.8,158.5 280.2,158.1 281.5,157.6 282.9,157.2 284.2,156.8 285.6,156.4 287.0,156.0 288.3,155.6 289.7,155.2 291.1,154.8 292.4,154.4 293.8,154.0 295.2,153.7 296.5,153.3 297.9,152.9 299.3,152.5 300.6,152.2 302.0,151.8 303.4,151.5 304.7,151.1 306.1,150.7 307.5,150.4 308.8,150.0 310.2,149.7 311.5,149.4 312.9,149.0 314.3,148.7 315.6,148.4 317.0,148.0 318.4,147.7 319.7,147.4 321.1,147.0 322.5,146.7 323.8,146.4 325.2,146.1 326.6,145.8 327.9,145.5 329.3,145.2 330.7,144.9 332.0,144.6 333.4,144.3 334.8,144.0 336.1,143.7 337.5,143.4 338.8,143.1 340.2,142.8 341.6,142.5 342.9,142.2 344.3,142.0 345.7,141.7 347.0,141.4 348.4,141.1 349.8,140.9 351.1,140.6 352.5,140.3" stroke="#3255fa" stroke-width="0.8"/>
<path d="M71.0,316.9 71.2,316.9 71.6,316.9 72.0,316.8 72.3,316.8 72.7,316.8 73.1,316.7 73.5,316.7 73.9,316.6 74.3,316.6 74.6,316.5 75.0,316.4 75.4,316.3 75.8,316.2 76.2,316.1 76.6,316.0 76.9,315.9 77.3,315.8 77.7,315.6 78.1,315.5 78.5,315.3 78.9,315.2 79.2,315.0 79.6,314.8 80.0,314.6 80.4,314.5 80.9,314.2 82.2,313.4 83.6,312.6 84.9,311.6 86.3,310.6 87.7,309.5 89.0,308.3 90.4,307.0 91.8,305.7 93.1,304.3 94.5,302.8 95.9,301.3 97.2,299.8 98.6,298.2 100.0,296.5 101.3,294.8 102.7,293.1 104.1,291.4 105.4,289.6 106.8,287.8 108.2,286.0 109.5,284.1 110.9,282.3 112.2,280.5 113.6,278.6 115.0,276.8 116.3,274.9 117.7,273.1 119.1,271.2 120.4,269.4 121.8,267.6 123.2,265.8 124.5,264.0 125.9,262.2 127.3,260.4 128.6,258.7 130.0,256.9 131.4,255.2 132.7,253.5 134.1,251.9 135.5,250.2 136.8,248.6 138.2,246.9 139.6,245.4 140.9,243.8 142.3,242.2 143.6,240.7 145.0,239.2 146.4,237.7 147.7,236.2 149.1,234.8 150.5,233.4 151.8,232.0 153.2,230.6 154.6,229.2 155.9,227.9 157.3,226.6 158.7,225.3 160.0,224.0 161.4,222.7 162.8,221.5 164.1,220.2 165.5,219.0 166.9,217.8 168.2,216.7 169.6,215.5 170.9,214.4 172.3,213.3 173.7,212.2 175.0,211.1 176.4,210.0 177.8,208.9 179.1,207.9 180.5,206.9 181.9,205.9 183.2,204.9 184.6,203.9 186.0,202.9 187.3,202.0 188.7,201.0 190.1,200.1 191.4,199.2 192.8,198.3 194.2,197.4 195.5,196.5 196.9,195.6 198.2,194.8 199.6,193.9 201.0,193.1 202.3,192.3 203.7,191.5 205.1,190.7 206.4,189.9 207.8,189.1 209.2,188.3 210.5,187.6 211.9,186.8 213.3,186.1 214.6,185.3 216.0,184.6 217.4,183.9 218.7,183.2 220.1,182.5 221.5,181.8 222.8,181.1 224.2,180.5 225.5,179.8 226.9,179.2 228.3,178.5 229.6,177.9 231.0,177.2 232.4,176.6 233.7,176.0 235.1,175.4 236.5,174.8 237.8,174.2 239.2,173.6 240.6,173.0 241.9,172.4 243.3,171.9 244.7,171.3 246.0,170.7 247.4,170.2 248.8,169.6 250.1,169.1 251.5,168.6 252.9,168.0 254.2,167.5 255.6,167.0 256.9,166.5 258.3,166.0 259.7,165.5 261.0,165.0 262.4,164.5 263.8,164.0 265.1,163.5 266.5,163.0 267.9,162.6 269.2,162.1 270.6,161.6 272.0,161.2 273.3,160.7 274.7,160.3 276.1,159.8 277.4,159.4 278.8,158.9 280.2,158.5 281.5,158.1 282.9,157.7 284.2,157.2 285.6,156.8 287.0,156.4 288.3,156.0 289.7,155.6 291.1,155.2 292.4,154.8 293.8,154.4 295.2,154.0 296.5,153.6 297.9,153.2 299.3,152.9 300.6,152.5 302.0,152.1 303.4,151.7 304.7,151.4 306.1,151.0 307.5,150.6 308.8,150.3 310.2,149.9 311.5,149.6 312.9,149.2 314.3,148.9 315.6,148.5 317.0,148.2 318.4,147.9 319.7,147.5 321.1,147.2 322.5,146.9 323.8,146.5 325.2,146.2 326.6,145.9 327.9,145.6 329.3,145.3 330.7,144.9 332.0,144.6 333.4,144.3 334.8,144.0 336.1,143.7 337.5,143.4 338.8,143.1 340.2,142.8 341.6,142.5 342.9,142.2 344.3,141.9 345.7,141.6 347.0,141.4 348.4,141.1 349.8,140.8 351.1,140.5 352.5,140.2" stroke="#1969f8" stroke-width="0.8"/>
<path d="M71.0,310.1 71.2,310.1 71.6,310.1 72.0,310.0 72.3,310.0 72.7,310.0 73.1,310.0 73.5,309.9 73.9,309.9 74.3,309.8 74.6,309.8 75.0,309.7 75.4,309.6 75.8,309.5 76.2,309.5 76.6,309.4 76.9,309.3 77.3,309.1 77.7,309.0 78.1,308.9 78.5,308.8 78.9,308.6 79.2,308.5 79.6,308.4 80.0,308.2 80.4,308.0 80.9,307.8 82.2,307.2 83.6,306.5 84.9,305.7 86.3,304.8 87.7,303.8 89.0,302.8 90.4,301.8 91.8,300.6 93.1,299.4 94.5,298.2 95.9,296.9 97.2,295.5 98.6,294.2 100.0,292.7 101.3,291.3 102.7,289.8 104.1,288.2 105.4,286.7 106.8,285.1 108.2,283.5 109.5,281.9 110.9,280.3 112.2,278.6 113.6,277.0 115.0,275.3 116.3,273.7 117.7,272.0 119.1,270.4 120.4,268.7 121.8,267.0 123.2,265.4 124.5,263.7 125.9,262.1 127.3,260.5 128.6,258.9 130.0,257.3 131.4,255.7 132.7,254.1 134.1,252.5 135.5,251.0 136.8,249.5 138.2,247.9 139.6,246.4 140.9,245.0 142.3,243.5 143.6,242.0 145.0,240.6 146.4,239.2 147.7,237.8 149.1,236.4 150.5,235.1 151.8,233.7 153.2,232.4 154.6,231.1 155.9,229.8 157.3,228.5 158.7,227.3 160.0,226.0 161.4,224.8 162.8,223.6 164.1,222.4 165.5,221.2 166.9,220.1 168.2,218.9 169.6,217.8 170.9,216.7 172.3,215.6 173.7,214.5 175.0,213.5 176.4,212.4 177.8,211.4 179.1,210.3 180.5,209.3 181.9,208.3 183.2,207.4 184.6,206.4 186.0,205.4 187.3,204.5 188.7,203.6 190.1,202.7 191.4,201.7 192.8,200.8 194.2,200.0 195.5,199.1 196.9,198.2 198.2,197.4 199.6,196.5 201.0,195.7 202.3,194.9 203.7,194.1 205.1,193.3 206.4,192.5 207.8,191.7 209.2,191.0 210.5,190.2 211.9,189.5 213.3,188.7 214.6,188.0 216.0,187.3 217.4,186.6 218.7,185.8 220.1,185.2 221.5,184.5 222.8,183.8 224.2,183.1 225.5,182.4 226.9,181.8 228.3,181.1 229.6,180.5 231.0,179.9 232.4,179.2 233.7,178.6 235.1,178.0 236.5,177.4 237.8,176.8 239.2,176.2 240.6,175.6 241.9,175.0 243.3,174.4 244.7,173.9 246.0,173.3 247.4,172.7 248.8,172.2 250.1,171.6 251.5,171.1 252.9,170.6 254.2,170.0 255.6,169.5 256.9,169.0 258.3,168.5 259.7,168.0 261.0,167.5 262.4,167.0 263.8,166.5 265.1,166.0 266.5,165.5 267.9,165.0 269.2,164.5 270.6,164.1 272.0,163.6 273.3,163.1 274.7,162.7 276.1,162.2 277.4,161.8 278.8,161.3 280.2,160.9 281.5,160.5 282.9,160.0 284.2,159.6 285.6,159.2 287.0,158.7 288.3,158.3 289.7,157.9 291.1,157.5 292.4,157.1 293.8,156.7 295.2,156.3 296.5,155.9 297.9,155.5 299.3,155.1 300.6,154.7 302.0,154.3 303.4,154.0 304.7,153.6 306.1,153.2 307.5,152.8 308.8,152.5 310.2,152.1 311.5,151.8 312.9,151.4 314.3,151.0 315.6,150.7 317.0,150.3 318.4,150.0 319.7,149.7 321.1,149.3 322.5,149.0 323.8,148.6 325.2,148.3 326.6,148.0 327.9,147.6 329.3,147.3 330.7,147.0 332.0,146.7 333.4,146.4 334.8,146.0 336.1,145.7 337.5,145.4 338.8,145.1 340.2,144.8 341.6,144.5 342.9,144.2 344.3,143.9 345.7,143.6 347.0,143.3 348.4,143.0 349.8,142.7 351.1,142.4 352.5,142.1" stroke="#007df5" stroke-width="2.3"/>
<path d="M71.0,301.2 71.2,301.2 71.6,301.2 72.0,301.1 72.3,301.1 72.7,301.1 73.1,301.1 73.5,301.0 73.9,301.0 74.3,301.0 74.6,300.9 75.0,300.8 75.4,300.8 75.8,300.7 76.2,300.6 76.6,300.5 76.9,300.5 77.3,300.4 77.7,300.3 78.1,300.2 78.5,300.0 78.9,299.9 79.2,299.8 79.6,299.7 80.0,299.5 80.4,299.4 80.9,299.2 82.2,298.7 83.6,298.0 84.9,297.3 86.3,296.6 87.7,295.7 89.0,294.8 90.4,293.9 91.8,292.9 93.1,291.8 94.5,290.7 95.9,289.6 97.2,288.4 98.6,287.2 100.0,285.9 101.3,284.6 102.7,283.3 104.1,281.9 105.4,280.5 106.8,279.1 108.2,277.6 109.5,276.2 110.9,274.7 112.2,273.2 113.6,271.7 115.0,270.2 116.3,268.7 117.7,267.1 119.1,265.6 120.4,264.1 121.8,262.5 123.2,261.0 124.5,259.5 125.9,257.9 127.3,256.4 128.6,254.9 130.0,253.4 131.4,251.9 132.7,250.4 134.1,248.9 135.5,247.5 136.8,246.0 138.2,244.6 139.6,243.2 140.9,241.7 142.3,240.3 143.6,239.0 145.0,237.6 146.4,236.2 147.7,234.9 149.1,233.5 150.5,232.2 151.8,230.9 153.2,229.6 154.6,228.4 155.9,227.1 157.3,225.9 158.7,224.7 160.0,223.5 161.4,222.3 162.8,221.1 164.1,219.9 165.5,218.8 166.9,217.6 168.2,216.5 169.6,215.4 170.9,214.3 172.3,213.3 173.7,212.2 175.0,211.1 176.4,210.1 177.8,209.1 179.1,208.1 180.5,207.1 181.9,206.1 183.2,205.1 184.6,204.2 186.0,203.2 187.3,202.3 188.7,201.4 190.1,200.5 191.4,199.6 192.8,198.7 194.2,197.8 195.5,196.9 196.9,196.1 198.2,195.2 199.6,194.4 201.0,193.6 202.3,192.7 203.7,191.9 205.1,191.1 206.4,190.4 207.8,189.6 209.2,188.8 210.5,188.1 211.9,187.3 213.3,186.6 214.6,185.8 216.0,185.1 217.4,184.4 218.7,183.7 220.1,183.0 221.5,182.3 222.8,181.6 224.2,181.0 225.5,180.3 226.9,179.6 228.3,179.0 229.6,178.3 231.0,177.7 232.4,177.1 233.7,176.4 235.1,175.8 236.5,175.2 237.8,174.6 239.2,174.0 240.6,173.4 241.9,172.8 243.3,172.2 244.7,171.7 246.0,171.1 247.4,170.5 248.8,170.0 250.1,169.4 251.5,168.9 252.9,168.3 254.2,167.8 255.6,167.3 256.9,166.8 258.3,166.2 259.7,165.7 261.0,165.2 262.4,164.7 263.8,164.2 265.1,163.7 266.5,163.2 267.9,162.7 269.2,162.3 270.6,161.8 272.0,161.3 273.3,160.8 274.7,160.4 276.1,159.9 277.4,159.5 278.8,159.0 280.2,158.6 281.5,158.1 282.9,157.7 284.2,157.3 285.6,156.8 287.0,156.4 288.3,156.0 289.7,155.6 291.1,155.1 292.4,154.7 293.8,154.3 295.2,153.9 296.5,153.5 297.9,153.1 299.3,152.7 300.6,152.3 302.0,151.9 303.4,151.5 304.7,151.2 306.1,150.8 307.5,150.4 308.8,150.0 310.2,149.7 311.5,149.3 312.9,148.9 314.3,148.6 315.6,148.2 317.0,147.9 318.4,147.5 319.7,147.2 321.1,146.8 322.5,146.5 323.8,146.1 325.2,145.8 326.6,145.5 327.9,145.1 329.3,144.8 330.7,144.5 332.0,144.1 333.4,143.8 334.8,143.5 336.1,143.2 337.5,142.9 338.8,142.5 340.2,142.2 341.6,141.9 342.9,141.6 344.3,141.3 345.7,141.0 347.0,140.7 348.4,140.4 349.8,140.1 351.1,139.8 352.5,139.5" stroke="#0f98f5" stroke-width="0.8"/>
<path d="M71.0,292.8 71.2,292.8 71.6,292.8 72.0,292.8 72.3,292.8 72.7,292.8 73.1,292.8 73.5,292.7 73.9,292.7 74.3,292.7 74.6,292.6 75.0,292.6 75.4,292.5 75.8,292.4 76.2,292.4 76.6,292.3 76.9,292.2 77.3,292.1 77.7,292.1 78.1,292.0 78.5,291.9 78.9,291.8 79.2,291.7 79.6,291.5 80.0,291.4 80.4,291.3 80.9,291.2 82.2,290.7 83.6,290.1 84.9,289.5 86.3,288.8 87.7,288.1 89.0,287.3 90.4,286.5 91.8,285.6 93.1,284.7 94.5,283.7 95.9,282.7 97.2,281.6 98.6,280.5 100.0,279.4 101.3,278.2 102.7,277.0 104.1,275.8 105.4,274.5 106.8,273.2 108.2,271.9 109.5,270.6 110.9,269.3 112.2,267.9 113.6,266.5 115.0,265.2 116.3,263.8 117.7,262.4 119.1,261.0 120.4,259.5 121.8,258.1 123.2,256.7 124.5,255.3 125.9,253.9 127.3,252.5 128.6,251.0 130.0,249.6 131.4,248.2 132.7,246.8 134.1,245.4 135.5,244.1 136.8,242.7 138.2,241.3 139.6,240.0 140.9,238.6 142.3,237.3 143.6,235.9 145.0,234.6 146.4,233.3 147.7,232.0 149.1,230.8 150.5,229.5 151.8,228.2 153.2,227.0 154.6,225.8 155.9,224.6 157.3,223.4 158.7,222.2 160.0,221.0 161.4,219.9 162.8,218.7 164.1,217.6 165.5,216.5 166.9,215.3 168.2,214.3 169.6,213.2 170.9,212.1 172.3,211.1 173.7,210.0 175.0,209.0 176.4,208.0 177.8,207.0 179.1,206.0 180.5,205.0 181.9,204.0 183.2,203.1 184.6,202.1 186.0,201.2 187.3,200.2 188.7,199.3 190.1,198.4 191.4,197.5 192.8,196.7 194.2,195.8 195.5,194.9 196.9,194.1 198.2,193.2 199.6,192.4 201.0,191.6 202.3,190.8 203.7,190.0 205.1,189.2 206.4,188.4 207.8,187.6 209.2,186.9 210.5,186.1 211.9,185.4 213.3,184.6 214.6,183.9 216.0,183.2 217.4,182.5 218.7,181.8 220.1,181.1 221.5,180.4 222.8,179.7 224.2,179.0 225.5,178.3 226.9,177.7 228.3,177.0 229.6,176.4 231.0,175.7 232.4,175.1 233.7,174.5 235.1,173.9 236.5,173.3 237.8,172.6 239.2,172.0 240.6,171.4 241.9,170.9 243.3,170.3 244.7,169.7 246.0,169.1 247.4,168.6 248.8,168.0 250.1,167.4 251.5,166.9 252.9,166.4 254.2,165.8 255.6,165.3 256.9,164.8 258.3,164.2 259.7,163.7 261.0,163.2 262.4,162.7 263.8,162.2 265.1,161.7 266.5,161.2 267.9,160.7 269.2,160.2 270.6,159.7 272.0,159.3 273.3,158.8 274.7,158.3 276.1,157.9 277.4,157.4 278.8,156.9 280.2,156.5 281.5,156.1 282.9,155.6 284.2,155.2 285.6,154.7 287.0,154.3 288.3,153.9 289.7,153.4 291.1,153.0 292.4,152.6 293.8,152.2 295.2,151.8 296.5,151.4 297.9,151.0 299.3,150.6 300.6,150.2 302.0,149.8 303.4,149.4 304.7,149.0 306.1,148.6 307.5,148.2 308.8,147.9 310.2,147.5 311.5,147.1 312.9,146.7 314.3,146.4 315.6,146.0 317.0,145.7 318.4,145.3 319.7,144.9 321.1,144.6 322.5,144.2 323.8,143.9 325.2,143.6 326.6,143.2 327.9,142.9 329.3,142.5 330.7,142.2 332.0,141.9 333.4,141.5 334.8,141.2 336.1,140.9 337.5,140.6 338.8,140.2 340.2,139.9 341.6,139.6 342.9,139.3 344.3,139.0 345.7,138.7 347.0,138.4 348.4,138.1 349.8,137.8 351.1,137.5 352.5,137.2" stroke="#1eb4f5" stroke-width="0.8"/>
<path d="M71.0,285.1 71.2,285.1 71.6,285.1 72.0,285.1 72.3,285.1 72.7,285.1 73.1,285.0 73.5,285.0 73.9,285.0 74.3,285.0 74.6,284.9 75.0,284.9 75.4,284.8 75.8,284.8 76.2,284.7 76.6,284.6 76.9,284.6 77.3,284.5 77.7,284.4 78.1,284.3 78.5,284.3 78.9,284.2 79.2,284.1 79.6,284.0 80.0,283.9 80.4,283.8 80.9,283.6 82.2,283.2 83.6,282.7 84.9,282.2 86.3,281.6 87.7,280.9 89.0,280.2 90.4,279.5 91.8,278.7 93.1,277.9 94.5,277.0 95.9,276.1 97.2,275.2 98.6,274.2 100.0,273.2 101.3,272.1 102.7,271.0 104.1,269.9 105.4,268.8 106.8,267.7 108.2,266.5 109.5,265.3 110.9,264.1 112.2,262.8 113.6,261.6 115.0,260.3 116.3,259.0 117.7,257.8 119.1,256.5 120.4,255.2 121.8,253.8 123.2,252.5 124.5,251.2 125.9,249.9 127.3,248.6 128.6,247.3 130.0,245.9 131.4,244.6 132.7,243.3 134.1,242.0 135.5,240.7 136.8,239.4 138.2,238.1 139.6,236.8 140.9,235.6 142.3,234.3 143.6,233.0 145.0,231.8 146.4,230.5 147.7,229.3 149.1,228.1 150.5,226.9 151.8,225.7 153.2,224.5 154.6,223.3 155.9,222.1 157.3,221.0 158.7,219.8 160.0,218.7 161.4,217.6 162.8,216.5 164.1,215.4 165.5,214.3 166.9,213.2 168.2,212.1 169.6,211.1 170.9,210.0 172.3,209.0 173.7,208.0 175.0,207.0 176.4,206.0 177.8,205.0 179.1,204.0 180.5,203.0 181.9,202.1 183.2,201.2 184.6,200.2 186.0,199.3 187.3,198.4 188.7,197.5 190.1,196.6 191.4,195.7 192.8,194.9 194.2,194.0 195.5,193.1 196.9,192.3 198.2,191.5 199.6,190.6 201.0,189.8 202.3,189.0 203.7,188.2 205.1,187.5 206.4,186.7 207.8,185.9 209.2,185.1 210.5,184.4 211.9,183.6 213.3,182.9 214.6,182.2 216.0,181.5 217.4,180.8 218.7,180.1 220.1,179.4 221.5,178.7 222.8,178.0 224.2,177.3 225.5,176.6 226.9,176.0 228.3,175.3 229.6,174.7 231.0,174.0 232.4,173.4 233.7,172.8 235.1,172.2 236.5,171.5 237.8,170.9 239.2,170.3 240.6,169.7 241.9,169.1 243.3,168.6 244.7,168.0 246.0,167.4 247.4,166.8 248.8,166.3 250.1,165.7 251.5,165.2 252.9,164.6 254.2,164.1 255.6,163.5 256.9,163.0 258.3,162.5 259.7,162.0 261.0,161.5 262.4,160.9 263.8,160.4 265.1,159.9 266.5,159.4 267.9,158.9 269.2,158.5 270.6,158.0 272.0,157.5 273.3,157.0 274.7,156.5 276.1,156.1 277.4,155.6 278.8,155.2 280.2,154.7 281.5,154.2 282.9,153.8 284.2,153.4 285.6,152.9 287.0,152.5 288.3,152.0 289.7,151.6 291.1,151.2 292.4,150.8 293.8,150.4 295.2,149.9 296.5,149.5 297.9,149.1 299.3,148.7 300.6,148.3 302.0,147.9 303.4,147.5 304.7,147.1 306.1,146.7 307.5,146.4 308.8,146.0 310.2,145.6 311.5,145.2 312.9,144.8 314.3,144.5 315.6,144.1 317.0,143.7 318.4,143.4 319.7,143.0 321.1,142.7 322.5,142.3 323.8,142.0 325.2,141.6 326.6,141.3 327.9,140.9 329.3,140.6 330.7,140.2 332.0,139.9 333.4,139.6 334.8,139.2 336.1,138.9 337.5,138.6 338.8,138.2 340.2,137.9 341.6,137.6 342.9,137.3 344.3,137.0 345.7,136.7 347.0,136.4 348.4,136.0 349.8,135.7 351.1,135.4 352.5,135.1" stroke="#23c8f2" stroke-width="0.8"/>
<path d="M71.0,277.9 71.2,277.9 71.6,277.9 72.0,277.9 72.3,277.9 72.7,277.9 73.1,277.9 73.5,277.8 73.9,277.8 74.3,277.8 74.6,277.7 75.0,277.7 75.4,277.7 75.8,277.6 76.2,277.6 76.6,277.5 76.9,277.4 77.3,277.4 77.7,277.3 78.1,277.2 78.5,277.2 78.9,277.1 79.2,277.0 79.6,276.9 80.0,276.8 80.4,276.7 80.9,276.6 82.2,276.2 83.6,275.8 84.9,275.3 86.3,274.8 87.7,274.2 89.0,273.6 90.4,272.9 91.8,272.2 93.1,271.5 94.5,270.7 95.9,269.9 97.2,269.1 98.6,268.2 100.0,267.3 101.3,266.3 102.7,265.4 104.1,264.4 105.4,263.4 106.8,262.3 108.2,261.3 109.5,260.2 110.9,259.1 112.2,257.9 113.6,256.8 115.0,255.6 116.3,254.5 117.7,253.3 119.1,252.1 120.4,250.9 121.8,249.7 123.2,248.5 124.5,247.3 125.9,246.0 127.3,244.8 128.6,243.6 130.0,242.4 131.4,241.1 132.7,239.9 134.1,238.7 135.5,237.5 136.8,236.2 138.2,235.0 139.6,233.8 140.9,232.6 142.3,231.4 143.6,230.2 145.0,229.0 146.4,227.8 147.7,226.7 149.1,225.5 150.5,224.3 151.8,223.2 153.2,222.0 154.6,220.9 155.9,219.8 157.3,218.7 158.7,217.6 160.0,216.5 161.4,215.4 162.8,214.3 164.1,213.2 165.5,212.2 166.9,211.1 168.2,210.1 169.6,209.1 170.9,208.1 172.3,207.1 173.7,206.1 175.0,205.1 176.4,204.1 177.8,203.1 179.1,202.2 180.5,201.3 181.9,200.3 183.2,199.4 184.6,198.5 186.0,197.6 187.3,196.7 188.7,195.8 190.1,194.9 191.4,194.1 192.8,193.2 194.2,192.3 195.5,191.5 196.9,190.7 198.2,189.9 199.6,189.0 201.0,188.2 202.3,187.4 203.7,186.7 205.1,185.9 206.4,185.1 207.8,184.3 209.2,183.6 210.5,182.8 211.9,182.1 213.3,181.4 214.6,180.7 216.0,179.9 217.4,179.2 218.7,178.5 220.1,177.8 221.5,177.1 222.8,176.5 224.2,175.8 225.5,175.1 226.9,174.5 228.3,173.8 229.6,173.2 231.0,172.5 232.4,171.9 233.7,171.3 235.1,170.7 236.5,170.0 237.8,169.4 239.2,168.8 240.6,168.2 241.9,167.6 243.3,167.1 244.7,166.5 246.0,165.9 247.4,165.3 248.8,164.8 250.1,164.2 251.5,163.7 252.9,163.1 254.2,162.6 255.6,162.0 256.9,161.5 258.3,161.0 259.7,160.4 261.0,159.9 262.4,159.4 263.8,158.9 265.1,158.4 266.5,157.9 267.9,157.4 269.2,156.9 270.6,156.4 272.0,155.9 273.3,155.5 274.7,155.0 276.1,154.5 277.4,154.1 278.8,153.6 280.2,153.1 281.5,152.7 282.9,152.2 284.2,151.8 285.6,151.3 287.0,150.9 288.3,150.5 289.7,150.0 291.1,149.6 292.4,149.2 293.8,148.8 295.2,148.3 296.5,147.9 297.9,147.5 299.3,147.1 300.6,146.7 302.0,146.3 303.4,145.9 304.7,145.5 306.1,145.1 307.5,144.7 308.8,144.3 310.2,143.9 311.5,143.6 312.9,143.2 314.3,142.8 315.6,142.4 317.0,142.1 318.4,141.7 319.7,141.3 321.1,141.0 322.5,140.6 323.8,140.3 325.2,139.9 326.6,139.6 327.9,139.2 329.3,138.9 330.7,138.5 332.0,138.2 333.4,137.8 334.8,137.5 336.1,137.2 337.5,136.8 338.8,136.5 340.2,136.2 341.6,135.9 342.9,135.5 344.3,135.2 345.7,134.9 347.0,134.6 348.4,134.3 349.8,134.0 351.1,133.7 352.5,133.4" stroke="#28dcf0" stroke-width="0.8"/>
<path d="M71.0,271.2 71.2,271.2 71.6,271.2 72.0,271.2 72.3,271.2 72.7,271.2 73.1,271.1 73.5,271.1 73.9,271.1 74.3,271.1 74.6,271.0 75.0,271.0 75.4,271.0 75.8,270.9 76.2,270.9 76.6,270.8 76.9,270.8 77.3,270.7 77.7,270.7 78.1,270.6 78.5,270.5 78.9,270.4 79.2,270.4 79.6,270.3 80.0,270.2 80.4,270.1 80.9,270.0 82.2,269.7 83.6,269.3 84.9,268.9 86.3,268.4 87.7,267.9 89.0,267.3 90.4,266.8 91.8,266.1 93.1,265.5 94.5,264.8 95.9,264.1 97.2,263.3 98.6,262.5 100.0,261.7 101.3,260.9 102.7,260.0 104.1,259.1 105.4,258.2 106.8,257.2 108.2,256.2 109.5,255.3 110.9,254.2 112.2,253.2 113.6,252.2 115.0,251.1 116.3,250.1 117.7,249.0 119.1,247.9 120.4,246.8 121.8,245.7 123.2,244.5 124.5,243.4 125.9,242.3 127.3,241.1 128.6,240.0 130.0,238.9 131.4,237.7 132.7,236.6 134.1,235.4 135.5,234.3 136.8,233.1 138.2,232.0 139.6,230.8 140.9,229.7 142.3,228.6 143.6,227.4 145.0,226.3 146.4,225.2 147.7,224.1 149.1,223.0 150.5,221.8 151.8,220.7 153.2,219.7 154.6,218.6 155.9,217.5 157.3,216.4 158.7,215.4 160.0,214.3 161.4,213.3 162.8,212.2 164.1,211.2 165.5,210.2 166.9,209.2 168.2,208.2 169.6,207.2 170.9,206.2 172.3,205.2 173.7,204.2 175.0,203.3 176.4,202.3 177.8,201.4 179.1,200.5 180.5,199.5 181.9,198.6 183.2,197.7 184.6,196.8 186.0,195.9 187.3,195.1 188.7,194.2 190.1,193.3 191.4,192.5 192.8,191.6 194.2,190.8 195.5,190.0 196.9,189.2 198.2,188.4 199.6,187.6 201.0,186.8 202.3,186.0 203.7,185.2 205.1,184.4 206.4,183.7 207.8,182.9 209.2,182.2 210.5,181.4 211.9,180.7 213.3,180.0 214.6,179.3 216.0,178.5 217.4,177.8 218.7,177.1 220.1,176.5 221.5,175.8 222.8,175.1 224.2,174.4 225.5,173.8 226.9,173.1 228.3,172.5 229.6,171.8 231.0,171.2 232.4,170.5 233.7,169.9 235.1,169.3 236.5,168.7 237.8,168.1 239.2,167.5 240.6,166.9 241.9,166.3 243.3,165.7 244.7,165.1 246.0,164.6 247.4,164.0 248.8,163.4 250.1,162.9 251.5,162.3 252.9,161.8 254.2,161.2 255.6,160.7 256.9,160.1 258.3,159.6 259.7,159.1 261.0,158.6 262.4,158.1 263.8,157.6 265.1,157.0 266.5,156.5 267.9,156.0 269.2,155.6 270.6,155.1 272.0,154.6 273.3,154.1 274.7,153.6 276.1,153.1 277.4,152.7 278.8,152.2 280.2,151.8 281.5,151.3 282.9,150.8 284.2,150.4 285.6,150.0 287.0,149.5 288.3,149.1 289.7,148.6 291.1,148.2 292.4,147.8 293.8,147.3 295.2,146.9 296.5,146.5 297.9,146.1 299.3,145.7 300.6,145.3 302.0,144.9 303.4,144.5 304.7,144.1 306.1,143.7 307.5,143.3 308.8,142.9 310.2,142.5 311.5,142.1 312.9,141.7 314.3,141.4 315.6,141.0 317.0,140.6 318.4,140.2 319.7,139.9 321.1,139.5 322.5,139.1 323.8,138.8 325.2,138.4 326.6,138.1 327.9,137.7 329.3,137.4 330.7,137.0 332.0,136.7 333.4,136.3 334.8,136.0 336.1,135.7 337.5,135.3 338.8,135.0 340.2,134.7 341.6,134.3 342.9,134.0 344.3,133.7 345.7,133.4 347.0,133.0 348.4,132.7 349.8,132.4 351.1,132.1 352.5,131.8" stroke="#28e1cd" stroke-width="0.8"/>
<path d="M71.0,264.9 71.2,264.9 71.6,264.9 72.0,264.9 72.3,264.8 72.7,264.8 73.1,264.8 73.5,264.8 73.9,264.8 74.3,264.8 74.6,264.7 75.0,264.7 75.4,264.7 75.8,264.6 76.2,264.6 76.6,264.5 76.9,264.5 77.3,264.4 77.7,264.4 78.1,264.3 78.5,264.3 78.9,264.2 79.2,264.1 79.6,264.1 80.0,264.0 80.4,263.9 80.9,263.8 82.2,263.5 83.6,263.2 84.9,262.8 86.3,262.4 87.7,261.9 89.0,261.4 90.4,260.9 91.8,260.3 93.1,259.8 94.5,259.1 95.9,258.5 97.2,257.8 98.6,257.1 100.0,256.3 101.3,255.6 102.7,254.8 104.1,254.0 105.4,253.1 106.8,252.3 108.2,251.4 109.5,250.5 110.9,249.6 112.2,248.6 113.6,247.7 115.0,246.7 116.3,245.7 117.7,244.7 119.1,243.7 120.4,242.7 121.8,241.7 123.2,240.7 124.5,239.6 125.9,238.6 127.3,237.5 128.6,236.5 130.0,235.4 131.4,234.3 132.7,233.2 134.1,232.2 135.5,231.1 136.8,230.0 138.2,228.9 139.6,227.9 140.9,226.8 142.3,225.7 143.6,224.7 145.0,223.6 146.4,222.5 147.7,221.5 149.1,220.4 150.5,219.4 151.8,218.3 153.2,217.3 154.6,216.2 155.9,215.2 157.3,214.2 158.7,213.2 160.0,212.1 161.4,211.1 162.8,210.1 164.1,209.2 165.5,208.2 166.9,207.2 168.2,206.2 169.6,205.3 170.9,204.3 172.3,203.4 173.7,202.4 175.0,201.5 176.4,200.6 177.8,199.7 179.1,198.7 180.5,197.9 181.9,197.0 183.2,196.1 184.6,195.2 186.0,194.3 187.3,193.5 188.7,192.6 190.1,191.8 191.4,190.9 192.8,190.1 194.2,189.3 195.5,188.5 196.9,187.7 198.2,186.9 199.6,186.1 201.0,185.3 202.3,184.5 203.7,183.8 205.1,183.0 206.4,182.3 207.8,181.5 209.2,180.8 210.5,180.1 211.9,179.3 213.3,178.6 214.6,177.9 216.0,177.2 217.4,176.5 218.7,175.8 220.1,175.1 221.5,174.5 222.8,173.8 224.2,173.1 225.5,172.5 226.9,171.8 228.3,171.2 229.6,170.5 231.0,169.9 232.4,169.3 233.7,168.6 235.1,168.0 236.5,167.4 237.8,166.8 239.2,166.2 240.6,165.6 241.9,165.0 243.3,164.4 244.7,163.9 246.0,163.3 247.4,162.7 248.8,162.2 250.1,161.6 251.5,161.1 252.9,160.5 254.2,160.0 255.6,159.4 256.9,158.9 258.3,158.4 259.7,157.8 261.0,157.3 262.4,156.8 263.8,156.3 265.1,155.8 266.5,155.3 267.9,154.8 269.2,154.3 270.6,153.8 272.0,153.3 273.3,152.8 274.7,152.4 276.1,151.9 277.4,151.4 278.8,150.9 280.2,150.5 281.5,150.0 282.9,149.6 284.2,149.1 285.6,148.7 287.0,148.2 288.3,147.8 289.7,147.3 291.1,146.9 292.4,146.5 293.8,146.1 295.2,145.6 296.5,145.2 297.9,144.8 299.3,144.4 300.6,144.0 302.0,143.6 303.4,143.2 304.7,142.8 306.1,142.4 307.5,142.0 308.8,141.6 310.2,141.2 311.5,140.8 312.9,140.4 314.3,140.0 315.6,139.6 317.0,139.3 318.4,138.9 319.7,138.5 321.1,138.2 322.5,137.8 323.8,137.4 325.2,137.1 326.6,136.7 327.9,136.4 329.3,136.0 330.7,135.7 332.0,135.3 333.4,135.0 334.8,134.6 336.1,134.3 337.5,133.9 338.8,133.6 340.2,133.3 341.6,132.9 342.9,132.6 344.3,132.3 345.7,132.0 347.0,131.6 348.4,131.3 349.8,131.0 351.1,130.7 352.5,130.4" stroke="#28e6aa" stroke-width="0.8"/>
<path d="M71.0,258.8 71.2,258.8 71.6,258.8 72.0,258.8 72.3,258.8 72.7,258.8 73.1,258.8 73.5,258.8 73.9,258.7 74.3,258.7 74.6,258.7 75.0,258.7 75.4,258.6 75.8,258.6 76.2,258.6 76.6,258.5 76.9,258.5 77.3,258.4 77.7,258.4 78.1,258.3 78.5,258.3 78.9,258.2 79.2,258.2 79.6,258.1 80.0,258.0 80.4,258.0 80.9,257.9 82.2,257.6 83.6,257.3 84.9,257.0 86.3,256.6 87.7,256.2 89.0,255.7 90.4,255.3 91.8,254.8 93.1,254.2 94.5,253.7 95.9,253.1 97.2,252.5 98.6,251.8 100.0,251.1 101.3,250.5 102.7,249.7 104.1,249.0 105.4,248.2 106.8,247.4 108.2,246.6 109.5,245.8 110.9,245.0 112.2,244.1 113.6,243.3 115.0,242.4 116.3,241.5 117.7,240.6 119.1,239.6 120.4,238.7 121.8,237.7 123.2,236.8 124.5,235.8 125.9,234.8 127.3,233.9 128.6,232.9 130.0,231.9 131.4,230.9 132.7,229.9 134.1,228.9 135.5,227.9 136.8,226.9 138.2,225.9 139.6,224.8 140.9,223.8 142.3,222.8 143.6,221.8 145.0,220.8 146.4,219.8 147.7,218.8 149.1,217.8 150.5,216.8 151.8,215.8 153.2,214.8 154.6,213.8 155.9,212.8 157.3,211.8 158.7,210.9 160.0,209.9 161.4,208.9 162.8,208.0 164.1,207.0 165.5,206.1 166.9,205.1 168.2,204.2 169.6,203.3 170.9,202.4 172.3,201.4 173.7,200.5 175.0,199.6 176.4,198.7 177.8,197.8 179.1,197.0 180.5,196.1 181.9,195.2 183.2,194.4 184.6,193.5 186.0,192.7 187.3,191.8 188.7,191.0 190.1,190.2 191.4,189.4 192.8,188.5 194.2,187.7 195.5,186.9 196.9,186.2 198.2,185.4 199.6,184.6 201.0,183.8 202.3,183.1 203.7,182.3 205.1,181.6 206.4,180.8 207.8,180.1 209.2,179.4 210.5,178.6 211.9,177.9 213.3,177.2 214.6,176.5 216.0,175.8 217.4,175.1 218.7,174.5 220.1,173.8 221.5,173.1 222.8,172.4 224.2,171.8 225.5,171.1 226.9,170.5 228.3,169.9 229.6,169.2 231.0,168.6 232.4,168.0 233.7,167.3 235.1,166.7 236.5,166.1 237.8,165.5 239.2,164.9 240.6,164.3 241.9,163.8 243.3,163.2 244.7,162.6 246.0,162.0 247.4,161.5 248.8,160.9 250.1,160.3 251.5,159.8 252.9,159.2 254.2,158.7 255.6,158.2 256.9,157.6 258.3,157.1 259.7,156.6 261.0,156.1 262.4,155.5 263.8,155.0 265.1,154.5 266.5,154.0 267.9,153.5 269.2,153.0 270.6,152.5 272.0,152.1 273.3,151.6 274.7,151.1 276.1,150.6 277.4,150.1 278.8,149.7 280.2,149.2 281.5,148.8 282.9,148.3 284.2,147.8 285.6,147.4 287.0,147.0 288.3,146.5 289.7,146.1 291.1,145.6 292.4,145.2 293.8,144.8 295.2,144.3 296.5,143.9 297.9,143.5 299.3,143.1 300.6,142.7 302.0,142.3 303.4,141.9 304.7,141.5 306.1,141.1 307.5,140.7 308.8,140.3 310.2,139.9 311.5,139.5 312.9,139.1 314.3,138.7 315.6,138.3 317.0,138.0 318.4,137.6 319.7,137.2 321.1,136.8 322.5,136.5 323.8,136.1 325.2,135.7 326.6,135.4 327.9,135.0 329.3,134.7 330.7,134.3 332.0,134.0 333.4,133.6 334.8,133.3 336.1,132.9 337.5,132.6 338.8,132.2 340.2,131.9 341.6,131.6 342.9,131.2 344.3,130.9 345.7,130.6 347.0,130.3 348.4,129.9 349.8,129.6 351.1,129.3 352.5,129.0" stroke="#3ceb7d" stroke-width="0.8"/>
<path d="M71.0,253.0 71.2,253.0 71.6,253.0 72.0,253.0 72.3,252.9 72.7,252.9 73.1,252.9 73.5,252.9 73.9,252.9 74.3,252.9 74.6,252.8 75.0,252.8 75.4,252.8 75.8,252.8 76.2,252.7 76.6,252.7 76.9,252.7 77.3,252.6 77.7,252.6 78.1,252.5 78.5,252.5 78.9,252.4 79.2,252.4 79.6,252.3 80.0,252.3 80.4,252.2 80.9,252.1 82.2,251.9 83.6,251.6 84.9,251.3 86.3,250.9 87.7,250.6 89.0,250.2 90.4,249.7 91.8,249.3 93.1,248.8 94.5,248.3 95.9,247.8 97.2,247.2 98.6,246.6 100.0,246.0 101.3,245.4 102.7,244.7 104.1,244.1 105.4,243.4 106.8,242.6 108.2,241.9 109.5,241.2 110.9,240.4 112.2,239.6 113.6,238.8 115.0,238.0 116.3,237.2 117.7,236.3 119.1,235.5 120.4,234.6 121.8,233.7 123.2,232.8 124.5,231.9 125.9,231.0 127.3,230.1 128.6,229.2 130.0,228.3 131.4,227.3 132.7,226.4 134.1,225.5 135.5,224.5 136.8,223.6 138.2,222.6 139.6,221.7 140.9,220.7 142.3,219.8 143.6,218.8 145.0,217.8 146.4,216.9 147.7,215.9 149.1,215.0 150.5,214.0 151.8,213.1 153.2,212.2 154.6,211.2 155.9,210.3 157.3,209.3 158.7,208.4 160.0,207.5 161.4,206.6 162.8,205.6 164.1,204.7 165.5,203.8 166.9,202.9 168.2,202.0 169.6,201.1 170.9,200.2 172.3,199.3 173.7,198.5 175.0,197.6 176.4,196.7 177.8,195.9 179.1,195.0 180.5,194.2 181.9,193.3 183.2,192.5 184.6,191.6 186.0,190.8 187.3,190.0 188.7,189.2 190.1,188.4 191.4,187.6 192.8,186.8 194.2,186.0 195.5,185.2 196.9,184.5 198.2,183.7 199.6,182.9 201.0,182.2 202.3,181.4 203.7,180.7 205.1,180.0 206.4,179.2 207.8,178.5 209.2,177.8 210.5,177.1 211.9,176.4 213.3,175.7 214.6,175.0 216.0,174.3 217.4,173.6 218.7,172.9 220.1,172.3 221.5,171.6 222.8,171.0 224.2,170.3 225.5,169.7 226.9,169.0 228.3,168.4 229.6,167.8 231.0,167.1 232.4,166.5 233.7,165.9 235.1,165.3 236.5,164.7 237.8,164.1 239.2,163.5 240.6,162.9 241.9,162.3 243.3,161.8 244.7,161.2 246.0,160.6 247.4,160.1 248.8,159.5 250.1,158.9 251.5,158.4 252.9,157.8 254.2,157.3 255.6,156.8 256.9,156.2 258.3,155.7 259.7,155.2 261.0,154.7 262.4,154.2 263.8,153.6 265.1,153.1 266.5,152.6 267.9,152.1 269.2,151.6 270.6,151.2 272.0,150.7 273.3,150.2 274.7,149.7 276.1,149.2 277.4,148.8 278.8,148.3 280.2,147.8 281.5,147.4 282.9,146.9 284.2,146.5 285.6,146.0 287.0,145.6 288.3,145.1 289.7,144.7 291.1,144.2 292.4,143.8 293.8,143.4 295.2,143.0 296.5,142.5 297.9,142.1 299.3,141.7 300.6,141.3 302.0,140.9 303.4,140.5 304.7,140.0 306.1,139.6 307.5,139.2 308.8,138.9 310.2,138.5 311.5,138.1 312.9,137.7 314.3,137.3 315.6,136.9 317.0,136.5 318.4,136.1 319.7,135.8 321.1,135.4 322.5,135.0 323.8,134.7 325.2,134.3 326.6,133.9 327.9,133.6 329.3,133.2 330.7,132.9 332.0,132.5 333.4,132.2 334.8,131.8 336.1,131.5 337.5,131.1 338.8,130.8 340.2,130.4 341.6,130.1 342.9,129.8 344.3,129.4 345.7,129.1 347.0,128.8 348.4,128.5 349.8,128.1 351.1,127.8 352.5,127.5" stroke="#50f050" stroke-width="0.8"/>
<path d="M71.0,247.2 71.2,247.2 71.6,247.1 72.0,247.1 72.3,247.1 72.7,247.1 73.1,247.1 73.5,247.1 73.9,247.1 74.3,247.1 74.6,247.0 75.0,247.0 75.4,247.0 75.8,247.0 76.2,246.9 76.6,246.9 76.9,246.9 77.3,246.8 77.7,246.8 78.1,246.8 78.5,246.7 78.9,246.7 79.2,246.6 79.6,246.6 80.0,246.5 80.4,246.5 80.9,246.4 82.2,246.2 83.6,245.9 84.9,245.6 86.3,245.3 87.7,245.0 89.0,244.6 90.4,244.2 91.8,243.8 93.1,243.4 94.5,242.9 95.9,242.4 97.2,241.9 98.6,241.4 100.0,240.8 101.3,240.3 102.7,239.7 104.1,239.0 105.4,238.4 106.8,237.7 108.2,237.1 109.5,236.4 110.9,235.7 112.2,234.9 113.6,234.2 115.0,233.5 116.3,232.7 117.7,231.9 119.1,231.1 120.4,230.3 121.8,229.5 123.2,228.7 124.5,227.8 125.9,227.0 127.3,226.2 128.6,225.3 130.0,224.4 131.4,223.6 132.7,222.7 134.1,221.8 135.5,220.9 136.8,220.0 138.2,219.1 139.6,218.2 140.9,217.3 142.3,216.4 143.6,215.5 145.0,214.6 146.4,213.7 147.7,212.8 149.1,211.9 150.5,211.0 151.8,210.1 153.2,209.2 154.6,208.3 155.9,207.4 157.3,206.5 158.7,205.7 160.0,204.8 161.4,203.9 162.8,203.0 164.1,202.1 165.5,201.2 166.9,200.4 168.2,199.5 169.6,198.6 170.9,197.8 172.3,196.9 173.7,196.1 175.0,195.2 176.4,194.4 177.8,193.6 179.1,192.7 180.5,191.9 181.9,191.1 183.2,190.3 184.6,189.5 186.0,188.7 187.3,187.9 188.7,187.1 190.1,186.3 191.4,185.5 192.8,184.8 194.2,184.0 195.5,183.2 196.9,182.5 198.2,181.7 199.6,181.0 201.0,180.2 202.3,179.5 203.7,178.8 205.1,178.1 206.4,177.3 207.8,176.6 209.2,175.9 210.5,175.2 211.9,174.5 213.3,173.9 214.6,173.2 216.0,172.5 217.4,171.8 218.7,171.2 220.1,170.5 221.5,169.8 222.8,169.2 224.2,168.6 225.5,167.9 226.9,167.3 228.3,166.7 229.6,166.0 231.0,165.4 232.4,164.8 233.7,164.2 235.1,163.6 236.5,163.0 237.8,162.4 239.2,161.8 240.6,161.2 241.9,160.6 243.3,160.1 244.7,159.5 246.0,158.9 247.4,158.4 248.8,157.8 250.1,157.3 251.5,156.7 252.9,156.2 254.2,155.6 255.6,155.1 256.9,154.6 258.3,154.1 259.7,153.5 261.0,153.0 262.4,152.5 263.8,152.0 265.1,151.5 266.5,151.0 267.9,150.5 269.2,150.0 270.6,149.5 272.0,149.0 273.3,148.5 274.7,148.1 276.1,147.6 277.4,147.1 278.8,146.7 280.2,146.2 281.5,145.7 282.9,145.3 284.2,144.8 285.6,144.4 287.0,143.9 288.3,143.5 289.7,143.0 291.1,142.6 292.4,142.2 293.8,141.7 295.2,141.3 296.5,140.9 297.9,140.5 299.3,140.0 300.6,139.6 302.0,139.2 303.4,138.8 304.7,138.4 306.1,138.0 307.5,137.6 308.8,137.2 310.2,136.8 311.5,136.4 312.9,136.0 314.3,135.6 315.6,135.2 317.0,134.9 318.4,134.5 319.7,134.1 321.1,133.7 322.5,133.4 323.8,133.0 325.2,132.6 326.6,132.3 327.9,131.9 329.3,131.5 330.7,131.2 332.0,130.8 333.4,130.5 334.8,130.1 336.1,129.8 337.5,129.4 338.8,129.1 340.2,128.7 341.6,128.4 342.9,128.1 344.3,127.7 345.7,127.4 347.0,127.1 348.4,126.7 349.8,126.4 351.1,126.1 352.5,125.8" stroke="#68f028" stroke-width="0.8"/>
<path d="M71.0,241.2 71.2,241.2 71.6,241.2 72.0,241.2 72.3,241.2 72.7,241.2 73.1,241.2 73.5,241.2 73.9,241.2 74.3,241.2 74.6,241.2 75.0,241.1 75.4,241.1 75.8,241.1 76.2,241.1 76.6,241.0 76.9,241.0 77.3,241.0 77.7,240.9 78.1,240.9 78.5,240.8 78.9,240.8 79.2,240.8 79.6,240.7 80.0,240.7 80.4,240.6 80.9,240.6 82.2,240.3 83.6,240.1 84.9,239.9 86.3,239.6 87.7,239.3 89.0,238.9 90.4,238.6 91.8,238.2 93.1,237.8 94.5,237.4 95.9,236.9 97.2,236.5 98.6,236.0 100.0,235.5 101.3,234.9 102.7,234.4 104.1,233.8 105.4,233.2 106.8,232.6 108.2,232.0 109.5,231.4 110.9,230.7 112.2,230.1 113.6,229.4 115.0,228.7 116.3,228.0 117.7,227.2 119.1,226.5 120.4,225.8 121.8,225.0 123.2,224.2 124.5,223.5 125.9,222.7 127.3,221.9 128.6,221.1 130.0,220.3 131.4,219.5 132.7,218.6 134.1,217.8 135.5,217.0 136.8,216.1 138.2,215.3 139.6,214.5 140.9,213.6 142.3,212.8 143.6,211.9 145.0,211.1 146.4,210.2 147.7,209.3 149.1,208.5 150.5,207.6 151.8,206.8 153.2,205.9 154.6,205.1 155.9,204.2 157.3,203.4 158.7,202.5 160.0,201.7 161.4,200.8 162.8,200.0 164.1,199.1 165.5,198.3 166.9,197.4 168.2,196.6 169.6,195.8 170.9,195.0 172.3,194.1 173.7,193.3 175.0,192.5 176.4,191.7 177.8,190.9 179.1,190.1 180.5,189.3 181.9,188.5 183.2,187.7 184.6,186.9 186.0,186.1 187.3,185.4 188.7,184.6 190.1,183.8 191.4,183.1 192.8,182.3 194.2,181.6 195.5,180.8 196.9,180.1 198.2,179.3 199.6,178.6 201.0,177.9 202.3,177.2 203.7,176.5 205.1,175.8 206.4,175.0 207.8,174.4 209.2,173.7 210.5,173.0 211.9,172.3 213.3,171.6 214.6,170.9 216.0,170.3 217.4,169.6 218.7,169.0 220.1,168.3 221.5,167.7 222.8,167.0 224.2,166.4 225.5,165.8 226.9,165.1 228.3,164.5 229.6,163.9 231.0,163.3 232.4,162.7 233.7,162.1 235.1,161.5 236.5,160.9 237.8,160.3 239.2,159.7 240.6,159.1 241.9,158.6 243.3,158.0 244.7,157.4 246.0,156.9 247.4,156.3 248.8,155.7 250.1,155.2 251.5,154.7 252.9,154.1 254.2,153.6 255.6,153.0 256.9,152.5 258.3,152.0 259.7,151.5 261.0,151.0 262.4,150.5 263.8,149.9 265.1,149.4 266.5,148.9 267.9,148.4 269.2,148.0 270.6,147.5 272.0,147.0 273.3,146.5 274.7,146.0 276.1,145.5 277.4,145.1 278.8,144.6 280.2,144.1 281.5,143.7 282.9,143.2 284.2,142.8 285.6,142.3 287.0,141.9 288.3,141.4 289.7,141.0 291.1,140.5 292.4,140.1 293.8,139.7 295.2,139.3 296.5,138.8 297.9,138.4 299.3,138.0 300.6,137.6 302.0,137.2 303.4,136.7 304.7,136.3 306.1,135.9 307.5,135.5 308.8,135.1 310.2,134.7 311.5,134.3 312.9,133.9 314.3,133.6 315.6,133.2 317.0,132.8 318.4,132.4 319.7,132.0 321.1,131.6 322.5,131.3 323.8,130.9 325.2,130.5 326.6,130.2 327.9,129.8 329.3,129.4 330.7,129.1 332.0,128.7 333.4,128.4 334.8,128.0 336.1,127.7 337.5,127.3 338.8,127.0 340.2,126.6 341.6,126.3 342.9,125.9 344.3,125.6 345.7,125.3 347.0,124.9 348.4,124.6 349.8,124.3 351.1,124.0 352.5,123.6" stroke="#80f000" stroke-width="2.3"/>
<path d="M71.0,235.3 71.2,235.3 71.6,235.3 72.0,235.3 72.3,235.3 72.7,235.3 73.1,235.3 73.5,235.2 73.9,235.2 74.3,235.2 74.6,235.2 75.0,235.2 75.4,235.2 75.8,235.1 76.2,235.1 76.6,235.1 76.9,235.1 77.3,235.0 77.7,235.0 78.1,235.0 78.5,234.9 78.9,234.9 79.2,234.8 79.6,234.8 80.0,234.8 80.4,234.7 80.9,234.6 82.2,234.5 83.6,234.2 84.9,234.0 86.3,233.8 87.7,233.5 89.0,233.2 90.4,232.8 91.8,232.5 93.1,232.1 94.5,231.7 95.9,231.3 97.2,230.9 98.6,230.5 100.0,230.0 101.3,229.5 102.7,229.0 104.1,228.5 105.4,227.9 106.8,227.4 108.2,226.8 109.5,226.2 110.9,225.6 112.2,225.0 113.6,224.3 115.0,223.7 116.3,223.0 117.7,222.4 119.1,221.7 120.4,221.0 121.8,220.3 123.2,219.6 124.5,218.8 125.9,218.1 127.3,217.4 128.6,216.6 130.0,215.9 131.4,215.1 132.7,214.3 134.1,213.5 135.5,212.8 136.8,212.0 138.2,211.2 139.6,210.4 140.9,209.6 142.3,208.8 143.6,208.0 145.0,207.2 146.4,206.4 147.7,205.6 149.1,204.7 150.5,203.9 151.8,203.1 153.2,202.3 154.6,201.5 155.9,200.7 157.3,199.8 158.7,199.0 160.0,198.2 161.4,197.4 162.8,196.6 164.1,195.8 165.5,195.0 166.9,194.2 168.2,193.4 169.6,192.6 170.9,191.8 172.3,191.0 173.7,190.2 175.0,189.4 176.4,188.6 177.8,187.8 179.1,187.1 180.5,186.3 181.9,185.5 183.2,184.8 184.6,184.0 186.0,183.2 187.3,182.5 188.7,181.7 190.1,181.0 191.4,180.2 192.8,179.5 194.2,178.8 195.5,178.1 196.9,177.3 198.2,176.6 199.6,175.9 201.0,175.2 202.3,174.5 203.7,173.8 205.1,173.1 206.4,172.4 207.8,171.7 209.2,171.0 210.5,170.4 211.9,169.7 213.3,169.0 214.6,168.4 216.0,167.7 217.4,167.1 218.7,166.4 220.1,165.8 221.5,165.1 222.8,164.5 224.2,163.9 225.5,163.3 226.9,162.6 228.3,162.0 229.6,161.4 231.0,160.8 232.4,160.2 233.7,159.6 235.1,159.0 236.5,158.4 237.8,157.9 239.2,157.3 240.6,156.7 241.9,156.1 243.3,155.6 244.7,155.0 246.0,154.4 247.4,153.9 248.8,153.3 250.1,152.8 251.5,152.3 252.9,151.7 254.2,151.2 255.6,150.7 256.9,150.1 258.3,149.6 259.7,149.1 261.0,148.6 262.4,148.1 263.8,147.6 265.1,147.1 266.5,146.6 267.9,146.1 269.2,145.6 270.6,145.1 272.0,144.6 273.3,144.1 274.7,143.6 276.1,143.2 277.4,142.7 278.8,142.2 280.2,141.8 281.5,141.3 282.9,140.9 284.2,140.4 285.6,140.0 287.0,139.5 288.3,139.1 289.7,138.6 291.1,138.2 292.4,137.7 293.8,137.3 295.2,136.9 296.5,136.5 297.9,136.0 299.3,135.6 300.6,135.2 302.0,134.8 303.4,134.4 304.7,134.0 306.1,133.6 307.5,133.1 308.8,132.7 310.2,132.3 311.5,132.0 312.9,131.6 314.3,131.2 315.6,130.8 317.0,130.4 318.4,130.0 319.7,129.6 321.1,129.3 322.5,128.9 323.8,128.5 325.2,128.1 326.6,127.8 327.9,127.4 329.3,127.0 330.7,126.7 332.0,126.3 333.4,126.0 334.8,125.6 336.1,125.3 337.5,124.9 338.8,124.6 340.2,124.2 341.6,123.9 342.9,123.5 344.3,123.2 345.7,122.9 347.0,122.5 348.4,122.2 349.8,121.9 351.1,121.5 352.5,121.2" stroke="#9bf20d" stroke-width="0.8"/>
<path d="M71.0,229.4 71.2,229.4 71.6,229.4 72.0,229.4 72.3,229.4 72.7,229.4 73.1,229.4 73.5,229.3 73.9,229.3 74.3,229.3 74.6,229.3 75.0,229.3 75.4,229.3 75.8,229.2 76.2,229.2 76.6,229.2 76.9,229.2 77.3,229.1 77.7,229.1 78.1,229.1 78.5,229.0 78.9,229.0 79.2,229.0 79.6,228.9 80.0,228.9 80.4,228.9 80.9,228.8 82.2,228.6 83.6,228.4 84.9,228.2 86.3,228.0 87.7,227.7 89.0,227.4 90.4,227.1 91.8,226.8 93.1,226.5 94.5,226.1 95.9,225.8 97.2,225.4 98.6,224.9 100.0,224.5 101.3,224.1 102.7,223.6 104.1,223.1 105.4,222.6 106.8,222.1 108.2,221.6 109.5,221.0 110.9,220.4 112.2,219.9 113.6,219.3 115.0,218.7 116.3,218.1 117.7,217.4 119.1,216.8 120.4,216.2 121.8,215.5 123.2,214.8 124.5,214.2 125.9,213.5 127.3,212.8 128.6,212.1 130.0,211.4 131.4,210.6 132.7,209.9 134.1,209.2 135.5,208.4 136.8,207.7 138.2,207.0 139.6,206.2 140.9,205.4 142.3,204.7 143.6,203.9 145.0,203.2 146.4,202.4 147.7,201.6 149.1,200.8 150.5,200.1 151.8,199.3 153.2,198.5 154.6,197.7 155.9,197.0 157.3,196.2 158.7,195.4 160.0,194.6 161.4,193.8 162.8,193.1 164.1,192.3 165.5,191.5 166.9,190.7 168.2,190.0 169.6,189.2 170.9,188.4 172.3,187.7 173.7,186.9 175.0,186.2 176.4,185.4 177.8,184.6 179.1,183.9 180.5,183.1 181.9,182.4 183.2,181.7 184.6,180.9 186.0,180.2 187.3,179.4 188.7,178.7 190.1,178.0 191.4,177.3 192.8,176.6 194.2,175.8 195.5,175.1 196.9,174.4 198.2,173.7 199.6,173.0 201.0,172.3 202.3,171.7 203.7,171.0 205.1,170.3 206.4,169.6 207.8,168.9 209.2,168.3 210.5,167.6 211.9,167.0 213.3,166.3 214.6,165.7 216.0,165.0 217.4,164.4 218.7,163.7 220.1,163.1 221.5,162.5 222.8,161.8 224.2,161.2 225.5,160.6 226.9,160.0 228.3,159.4 229.6,158.8 231.0,158.2 232.4,157.6 233.7,157.0 235.1,156.4 236.5,155.8 237.8,155.3 239.2,154.7 240.6,154.1 241.9,153.6 243.3,153.0 244.7,152.4 246.0,151.9 247.4,151.3 248.8,150.8 250.1,150.3 251.5,149.7 252.9,149.2 254.2,148.7 255.6,148.1 256.9,147.6 258.3,147.1 259.7,146.6 261.0,146.1 262.4,145.6 263.8,145.1 265.1,144.6 266.5,144.1 267.9,143.6 269.2,143.1 270.6,142.6 272.0,142.1 273.3,141.6 274.7,141.2 276.1,140.7 277.4,140.2 278.8,139.7 280.2,139.3 281.5,138.8 282.9,138.4 284.2,137.9 285.6,137.5 287.0,137.0 288.3,136.6 289.7,136.1 291.1,135.7 292.4,135.3 293.8,134.8 295.2,134.4 296.5,134.0 297.9,133.5 299.3,133.1 300.6,132.7 302.0,132.3 303.4,131.9 304.7,131.5 306.1,131.1 307.5,130.7 308.8,130.3 310.2,129.9 311.5,129.5 312.9,129.1 314.3,128.7 315.6,128.3 317.0,127.9 318.4,127.5 319.7,127.1 321.1,126.8 322.5,126.4 323.8,126.0 325.2,125.6 326.6,125.3 327.9,124.9 329.3,124.5 330.7,124.2 332.0,123.8 333.4,123.4 334.8,123.1 336.1,122.7 337.5,122.4 338.8,122.0 340.2,121.7 341.6,121.3 342.9,121.0 344.3,120.7 345.7,120.3 347.0,120.0 348.4,119.6 349.8,119.3 351.1,119.0 352.5,118.7" stroke="#b7f31b" stroke-width="0.8"/>
<path d="M71.0,223.5 71.2,223.5 71.6,223.5 72.0,223.5 72.3,223.5 72.7,223.5 73.1,223.5 73.5,223.5 73.9,223.5 74.3,223.5 74.6,223.5 75.0,223.5 75.4,223.4 75.8,223.4 76.2,223.4 76.6,223.4 76.9,223.4 77.3,223.3 77.7,223.3 78.1,223.3 78.5,223.2 78.9,223.2 79.2,223.2 79.6,223.1 80.0,223.1 80.4,223.1 80.9,223.0 82.2,222.9 83.6,222.7 84.9,222.5 86.3,222.3 87.7,222.0 89.0,221.8 90.4,221.5 91.8,221.2 93.1,220.9 94.5,220.5 95.9,220.2 97.2,219.8 98.6,219.4 100.0,219.0 101.3,218.6 102.7,218.2 104.1,217.7 105.4,217.3 106.8,216.8 108.2,216.3 109.5,215.8 110.9,215.3 112.2,214.7 113.6,214.2 115.0,213.6 116.3,213.1 117.7,212.5 119.1,211.9 120.4,211.3 121.8,210.7 123.2,210.0 124.5,209.4 125.9,208.8 127.3,208.1 128.6,207.4 130.0,206.8 131.4,206.1 132.7,205.4 134.1,204.7 135.5,204.0 136.8,203.3 138.2,202.6 139.6,201.9 140.9,201.2 142.3,200.5 143.6,199.8 145.0,199.0 146.4,198.3 147.7,197.6 149.1,196.8 150.5,196.1 151.8,195.4 153.2,194.6 154.6,193.9 155.9,193.1 157.3,192.4 158.7,191.6 160.0,190.9 161.4,190.2 162.8,189.4 164.1,188.7 165.5,187.9 166.9,187.2 168.2,186.4 169.6,185.7 170.9,185.0 172.3,184.2 173.7,183.5 175.0,182.8 176.4,182.0 177.8,181.3 179.1,180.6 180.5,179.8 181.9,179.1 183.2,178.4 184.6,177.7 186.0,177.0 187.3,176.3 188.7,175.6 190.1,174.9 191.4,174.2 192.8,173.5 194.2,172.8 195.5,172.1 196.9,171.4 198.2,170.7 199.6,170.0 201.0,169.3 202.3,168.7 203.7,168.0 205.1,167.3 206.4,166.7 207.8,166.0 209.2,165.4 210.5,164.7 211.9,164.1 213.3,163.4 214.6,162.8 216.0,162.2 217.4,161.5 218.7,160.9 220.1,160.3 221.5,159.7 222.8,159.1 224.2,158.4 225.5,157.8 226.9,157.2 228.3,156.6 229.6,156.0 231.0,155.4 232.4,154.9 233.7,154.3 235.1,153.7 236.5,153.1 237.8,152.6 239.2,152.0 240.6,151.4 241.9,150.9 243.3,150.3 244.7,149.8 246.0,149.2 247.4,148.7 248.8,148.1 250.1,147.6 251.5,147.1 252.9,146.5 254.2,146.0 255.6,145.5 256.9,145.0 258.3,144.5 259.7,143.9 261.0,143.4 262.4,142.9 263.8,142.4 265.1,141.9 266.5,141.4 267.9,140.9 269.2,140.5 270.6,140.0 272.0,139.5 273.3,139.0 274.7,138.5 276.1,138.1 277.4,137.6 278.8,137.1 280.2,136.7 281.5,136.2 282.9,135.8 284.2,135.3 285.6,134.9 287.0,134.4 288.3,134.0 289.7,133.5 291.1,133.1 292.4,132.7 293.8,132.2 295.2,131.8 296.5,131.4 297.9,130.9 299.3,130.5 300.6,130.1 302.0,129.7 303.4,129.3 304.7,128.9 306.1,128.5 307.5,128.0 308.8,127.6 310.2,127.2 311.5,126.8 312.9,126.5 314.3,126.1 315.6,125.7 317.0,125.3 318.4,124.9 319.7,124.5 321.1,124.1 322.5,123.8 323.8,123.4 325.2,123.0 326.6,122.6 327.9,122.3 329.3,121.9 330.7,121.5 332.0,121.2 333.4,120.8 334.8,120.5 336.1,120.1 337.5,119.8 338.8,119.4 340.2,119.1 341.6,118.7 342.9,118.4 344.3,118.0 345.7,117.7 347.0,117.3 348.4,117.0 349.8,116.7 351.1,116.3 352.5,116.0" stroke="#d2f528" stroke-width="0.8"/>
<path d="M71.0,217.8 71.2,217.8 71.6,217.8 72.0,217.8 72.3,217.8 72.7,217.8 73.1,217.8 73.5,217.8 73.9,217.7 74.3,217.7 74.6,217.7 75.0,217.7 75.4,217.7 75.8,217.7 76.2,217.7 76.6,217.6 76.9,217.6 77.3,217.6 77.7,217.6 78.1,217.5 78.5,217.5 78.9,217.5 79.2,217.4 79.6,217.4 80.0,217.4 80.4,217.3 80.9,217.3 82.2,217.1 83.6,217.0 84.9,216.8 86.3,216.6 87.7,216.4 89.0,216.1 90.4,215.9 91.8,215.6 93.1,215.3 94.5,215.0 95.9,214.7 97.2,214.3 98.6,214.0 100.0,213.6 101.3,213.2 102.7,212.8 104.1,212.4 105.4,212.0 106.8,211.5 108.2,211.1 109.5,210.6 110.9,210.1 112.2,209.6 113.6,209.1 115.0,208.6 116.3,208.0 117.7,207.5 119.1,206.9 120.4,206.4 121.8,205.8 123.2,205.2 124.5,204.6 125.9,204.0 127.3,203.4 128.6,202.8 130.0,202.1 131.4,201.5 132.7,200.9 134.1,200.2 135.5,199.6 136.8,198.9 138.2,198.2 139.6,197.6 140.9,196.9 142.3,196.2 143.6,195.5 145.0,194.8 146.4,194.1 147.7,193.4 149.1,192.7 150.5,192.0 151.8,191.3 153.2,190.6 154.6,189.9 155.9,189.2 157.3,188.5 158.7,187.8 160.0,187.1 161.4,186.4 162.8,185.7 164.1,184.9 165.5,184.2 166.9,183.5 168.2,182.8 169.6,182.1 170.9,181.4 172.3,180.7 173.7,180.0 175.0,179.3 176.4,178.5 177.8,177.8 179.1,177.1 180.5,176.4 181.9,175.7 183.2,175.0 184.6,174.3 186.0,173.7 187.3,173.0 188.7,172.3 190.1,171.6 191.4,170.9 192.8,170.2 194.2,169.6 195.5,168.9 196.9,168.2 198.2,167.6 199.6,166.9 201.0,166.2 202.3,165.6 203.7,164.9 205.1,164.3 206.4,163.6 207.8,163.0 209.2,162.3 210.5,161.7 211.9,161.1 213.3,160.4 214.6,159.8 216.0,159.2 217.4,158.6 218.7,158.0 220.1,157.3 221.5,156.7 222.8,156.1 224.2,155.5 225.5,154.9 226.9,154.3 228.3,153.8 229.6,153.2 231.0,152.6 232.4,152.0 233.7,151.4 235.1,150.9 236.5,150.3 237.8,149.7 239.2,149.2 240.6,148.6 241.9,148.1 243.3,147.5 244.7,147.0 246.0,146.4 247.4,145.9 248.8,145.3 250.1,144.8 251.5,144.3 252.9,143.8 254.2,143.2 255.6,142.7 256.9,142.2 258.3,141.7 259.7,141.2 261.0,140.7 262.4,140.2 263.8,139.7 265.1,139.2 266.5,138.7 267.9,138.2 269.2,137.7 270.6,137.2 272.0,136.8 273.3,136.3 274.7,135.8 276.1,135.3 277.4,134.9 278.8,134.4 280.2,134.0 281.5,133.5 282.9,133.0 284.2,132.6 285.6,132.1 287.0,131.7 288.3,131.3 289.7,130.8 291.1,130.4 292.4,129.9 293.8,129.5 295.2,129.1 296.5,128.7 297.9,128.2 299.3,127.8 300.6,127.4 302.0,127.0 303.4,126.6 304.7,126.2 306.1,125.7 307.5,125.3 308.8,124.9 310.2,124.5 311.5,124.1 312.9,123.7 314.3,123.4 315.6,123.0 317.0,122.6 318.4,122.2 319.7,121.8 321.1,121.4 322.5,121.0 323.8,120.7 325.2,120.3 326.6,119.9 327.9,119.6 329.3,119.2 330.7,118.8 332.0,118.5 333.4,118.1 334.8,117.7 336.1,117.4 337.5,117.0 338.8,116.7 340.2,116.3 341.6,116.0 342.9,115.6 344.3,115.3 345.7,114.9 347.0,114.6 348.4,114.3 349.8,113.9 351.1,113.6 352.5,113.3" stroke="#e8f232" stroke-width="0.8"/>
<path d="M71.0,212.1 71.2,212.1 71.6,212.1 72.0,212.1 72.3,212.1 72.7,212.1 73.1,212.1 73.5,212.1 73.9,212.1 74.3,212.1 74.6,212.1 75.0,212.0 75.4,212.0 75.8,212.0 76.2,212.0 76.6,212.0 76.9,212.0 77.3,211.9 77.7,211.9 78.1,211.9 78.5,211.9 78.9,211.8 79.2,211.8 79.6,211.8 80.0,211.7 80.4,211.7 80.9,211.7 82.2,211.5 83.6,211.4 84.9,211.2 86.3,211.0 87.7,210.8 89.0,210.6 90.4,210.3 91.8,210.1 93.1,209.8 94.5,209.5 95.9,209.2 97.2,208.9 98.6,208.6 100.0,208.2 101.3,207.9 102.7,207.5 104.1,207.1 105.4,206.7 106.8,206.3 108.2,205.9 109.5,205.4 110.9,205.0 112.2,204.5 113.6,204.0 115.0,203.5 116.3,203.0 117.7,202.5 119.1,202.0 120.4,201.5 121.8,200.9 123.2,200.4 124.5,199.8 125.9,199.3 127.3,198.7 128.6,198.1 130.0,197.5 131.4,196.9 132.7,196.3 134.1,195.7 135.5,195.1 136.8,194.4 138.2,193.8 139.6,193.2 140.9,192.5 142.3,191.9 143.6,191.2 145.0,190.6 146.4,189.9 147.7,189.3 149.1,188.6 150.5,187.9 151.8,187.2 153.2,186.6 154.6,185.9 155.9,185.2 157.3,184.5 158.7,183.9 160.0,183.2 161.4,182.5 162.8,181.8 164.1,181.1 165.5,180.4 166.9,179.8 168.2,179.1 169.6,178.4 170.9,177.7 172.3,177.0 173.7,176.3 175.0,175.7 176.4,175.0 177.8,174.3 179.1,173.6 180.5,172.9 181.9,172.3 183.2,171.6 184.6,170.9 186.0,170.2 187.3,169.6 188.7,168.9 190.1,168.2 191.4,167.6 192.8,166.9 194.2,166.3 195.5,165.6 196.9,165.0 198.2,164.3 199.6,163.7 201.0,163.0 202.3,162.4 203.7,161.7 205.1,161.1 206.4,160.5 207.8,159.8 209.2,159.2 210.5,158.6 211.9,158.0 213.3,157.4 214.6,156.7 216.0,156.1 217.4,155.5 218.7,154.9 220.1,154.3 221.5,153.7 222.8,153.1 224.2,152.5 225.5,152.0 226.9,151.4 228.3,150.8 229.6,150.2 231.0,149.6 232.4,149.1 233.7,148.5 235.1,147.9 236.5,147.4 237.8,146.8 239.2,146.3 240.6,145.7 241.9,145.2 243.3,144.6 244.7,144.1 246.0,143.5 247.4,143.0 248.8,142.5 250.1,142.0 251.5,141.4 252.9,140.9 254.2,140.4 255.6,139.9 256.9,139.4 258.3,138.9 259.7,138.4 261.0,137.9 262.4,137.4 263.8,136.9 265.1,136.4 266.5,135.9 267.9,135.4 269.2,134.9 270.6,134.4 272.0,134.0 273.3,133.5 274.7,133.0 276.1,132.6 277.4,132.1 278.8,131.6 280.2,131.2 281.5,130.7 282.9,130.3 284.2,129.8 285.6,129.4 287.0,128.9 288.3,128.5 289.7,128.0 291.1,127.6 292.4,127.2 293.8,126.7 295.2,126.3 296.5,125.9 297.9,125.5 299.3,125.0 300.6,124.6 302.0,124.2 303.4,123.8 304.7,123.4 306.1,123.0 307.5,122.6 308.8,122.2 310.2,121.8 311.5,121.4 312.9,121.0 314.3,120.6 315.6,120.2 317.0,119.8 318.4,119.4 319.7,119.0 321.1,118.7 322.5,118.3 323.8,117.9 325.2,117.5 326.6,117.1 327.9,116.8 329.3,116.4 330.7,116.0 332.0,115.7 333.4,115.3 334.8,115.0 336.1,114.6 337.5,114.2 338.8,113.9 340.2,113.5 341.6,113.2 342.9,112.8 344.3,112.5 345.7,112.2 347.0,111.8 348.4,111.5 349.8,111.1 351.1,110.8 352.5,110.5" stroke="#fff03c" stroke-width="0.8"/>
<path d="M71.0,206.6 71.2,206.6 71.6,206.6 72.0,206.6 72.3,206.6 72.7,206.6 73.1,206.5 73.5,206.5 73.9,206.5 74.3,206.5 74.6,206.5 75.0,206.5 75.4,206.5 75.8,206.5 76.2,206.4 76.6,206.4 76.9,206.4 77.3,206.4 77.7,206.4 78.1,206.3 78.5,206.3 78.9,206.3 79.2,206.3 79.6,206.2 80.0,206.2 80.4,206.2 80.9,206.1 82.2,206.0 83.6,205.9 84.9,205.7 86.3,205.5 87.7,205.3 89.0,205.1 90.4,204.9 91.8,204.7 93.1,204.4 94.5,204.2 95.9,203.9 97.2,203.6 98.6,203.3 100.0,203.0 101.3,202.6 102.7,202.3 104.1,201.9 105.4,201.5 106.8,201.1 108.2,200.7 109.5,200.3 110.9,199.9 112.2,199.5 113.6,199.0 115.0,198.6 116.3,198.1 117.7,197.6 119.1,197.1 120.4,196.6 121.8,196.1 123.2,195.6 124.5,195.1 125.9,194.5 127.3,194.0 128.6,193.4 130.0,192.9 131.4,192.3 132.7,191.7 134.1,191.1 135.5,190.6 136.8,190.0 138.2,189.4 139.6,188.8 140.9,188.2 142.3,187.5 143.6,186.9 145.0,186.3 146.4,185.7 147.7,185.1 149.1,184.4 150.5,183.8 151.8,183.1 153.2,182.5 154.6,181.9 155.9,181.2 157.3,180.6 158.7,179.9 160.0,179.3 161.4,178.6 162.8,177.9 164.1,177.3 165.5,176.6 166.9,176.0 168.2,175.3 169.6,174.7 170.9,174.0 172.3,173.3 173.7,172.7 175.0,172.0 176.4,171.4 177.8,170.7 179.1,170.1 180.5,169.4 181.9,168.7 183.2,168.1 184.6,167.4 186.0,166.8 187.3,166.1 188.7,165.5 190.1,164.9 191.4,164.2 192.8,163.6 194.2,162.9 195.5,162.3 196.9,161.7 198.2,161.0 199.6,160.4 201.0,159.8 202.3,159.1 203.7,158.5 205.1,157.9 206.4,157.3 207.8,156.7 209.2,156.0 210.5,155.4 211.9,154.8 213.3,154.2 214.6,153.6 216.0,153.0 217.4,152.4 218.7,151.8 220.1,151.3 221.5,150.7 222.8,150.1 224.2,149.5 225.5,148.9 226.9,148.3 228.3,147.8 229.6,147.2 231.0,146.6 232.4,146.1 233.7,145.5 235.1,145.0 236.5,144.4 237.8,143.9 239.2,143.3 240.6,142.8 241.9,142.2 243.3,141.7 244.7,141.2 246.0,140.6 247.4,140.1 248.8,139.6 250.1,139.1 251.5,138.5 252.9,138.0 254.2,137.5 255.6,137.0 256.9,136.5 258.3,136.0 259.7,135.5 261.0,135.0 262.4,134.5 263.8,134.0 265.1,133.5 266.5,133.0 267.9,132.6 269.2,132.1 270.6,131.6 272.0,131.1 273.3,130.7 274.7,130.2 276.1,129.7 277.4,129.3 278.8,128.8 280.2,128.3 281.5,127.9 282.9,127.4 284.2,127.0 285.6,126.5 287.0,126.1 288.3,125.7 289.7,125.2 291.1,124.8 292.4,124.4 293.8,123.9 295.2,123.5 296.5,123.1 297.9,122.7 299.3,122.2 300.6,121.8 302.0,121.4 303.4,121.0 304.7,120.6 306.1,120.2 307.5,119.8 308.8,119.4 310.2,119.0 311.5,118.6 312.9,118.2 314.3,117.8 315.6,117.4 317.0,117.0 318.4,116.6 319.7,116.2 321.1,115.8 322.5,115.5 323.8,115.1 325.2,114.7 326.6,114.3 327.9,114.0 329.3,113.6 330.7,113.2 332.0,112.9 333.4,112.5 334.8,112.1 336.1,111.8 337.5,111.4 338.8,111.1 340.2,110.7 341.6,110.4 342.9,110.0 344.3,109.7 345.7,109.3 347.0,109.0 348.4,108.7 349.8,108.3 351.1,108.0 352.5,107.6" stroke="#ffdc34" stroke-width="0.8"/>
<path d="M71.0,201.2 71.2,201.2 71.6,201.2 72.0,201.2 72.3,201.2 72.7,201.2 73.1,201.1 73.5,201.1 73.9,201.1 74.3,201.1 74.6,201.1 75.0,201.1 75.4,201.1 75.8,201.1 76.2,201.1 76.6,201.0 76.9,201.0 77.3,201.0 77.7,201.0 78.1,201.0 78.5,200.9 78.9,200.9 79.2,200.9 79.6,200.9 80.0,200.8 80.4,200.8 80.9,200.8 82.2,200.6 83.6,200.5 84.9,200.4 86.3,200.2 87.7,200.0 89.0,199.8 90.4,199.6 91.8,199.4 93.1,199.2 94.5,198.9 95.9,198.7 97.2,198.4 98.6,198.1 100.0,197.8 101.3,197.5 102.7,197.2 104.1,196.8 105.4,196.5 106.8,196.1 108.2,195.7 109.5,195.3 110.9,194.9 112.2,194.5 113.6,194.1 115.0,193.7 116.3,193.2 117.7,192.8 119.1,192.3 120.4,191.8 121.8,191.4 123.2,190.9 124.5,190.4 125.9,189.9 127.3,189.4 128.6,188.8 130.0,188.3 131.4,187.8 132.7,187.2 134.1,186.7 135.5,186.1 136.8,185.6 138.2,185.0 139.6,184.4 140.9,183.9 142.3,183.3 143.6,182.7 145.0,182.1 146.4,181.5 147.7,180.9 149.1,180.3 150.5,179.7 151.8,179.1 153.2,178.5 154.6,177.8 155.9,177.2 157.3,176.6 158.7,176.0 160.0,175.4 161.4,174.7 162.8,174.1 164.1,173.5 165.5,172.8 166.9,172.2 168.2,171.6 169.6,170.9 170.9,170.3 172.3,169.7 173.7,169.0 175.0,168.4 176.4,167.8 177.8,167.1 179.1,166.5 180.5,165.9 181.9,165.2 183.2,164.6 184.6,164.0 186.0,163.3 187.3,162.7 188.7,162.1 190.1,161.5 191.4,160.8 192.8,160.2 194.2,159.6 195.5,159.0 196.9,158.4 198.2,157.7 199.6,157.1 201.0,156.5 202.3,155.9 203.7,155.3 205.1,154.7 206.4,154.1 207.8,153.5 209.2,152.9 210.5,152.3 211.9,151.7 213.3,151.1 214.6,150.5 216.0,149.9 217.4,149.3 218.7,148.8 220.1,148.2 221.5,147.6 222.8,147.0 224.2,146.5 225.5,145.9 226.9,145.3 228.3,144.8 229.6,144.2 231.0,143.7 232.4,143.1 233.7,142.6 235.1,142.0 236.5,141.5 237.8,140.9 239.2,140.4 240.6,139.8 241.9,139.3 243.3,138.8 244.7,138.3 246.0,137.7 247.4,137.2 248.8,136.7 250.1,136.2 251.5,135.7 252.9,135.1 254.2,134.6 255.6,134.1 256.9,133.6 258.3,133.1 259.7,132.6 261.0,132.1 262.4,131.7 263.8,131.2 265.1,130.7 266.5,130.2 267.9,129.7 269.2,129.2 270.6,128.8 272.0,128.3 273.3,127.8 274.7,127.4 276.1,126.9 277.4,126.4 278.8,126.0 280.2,125.5 281.5,125.1 282.9,124.6 284.2,124.2 285.6,123.7 287.0,123.3 288.3,122.9 289.7,122.4 291.1,122.0 292.4,121.6 293.8,121.1 295.2,120.7 296.5,120.3 297.9,119.9 299.3,119.4 300.6,119.0 302.0,118.6 303.4,118.2 304.7,117.8 306.1,117.4 307.5,117.0 308.8,116.6 310.2,116.2 311.5,115.8 312.9,115.4 314.3,115.0 315.6,114.6 317.0,114.2 318.4,113.8 319.7,113.4 321.1,113.1 322.5,112.7 323.8,112.3 325.2,111.9 326.6,111.6 327.9,111.2 329.3,110.8 330.7,110.5 332.0,110.1 333.4,109.7 334.8,109.4 336.1,109.0 337.5,108.6 338.8,108.3 340.2,107.9 341.6,107.6 342.9,107.2 344.3,106.9 345.7,106.5 347.0,106.2 348.4,105.9 349.8,105.5 351.1,105.2 352.5,104.8" stroke="#ffc82c" stroke-width="0.8"/>
<path d="M71.0,196.0 71.2,196.0 71.6,196.0 72.0,196.0 72.3,196.0 72.7,196.0 73.1,196.0 73.5,195.9 73.9,195.9 74.3,195.9 74.6,195.9 75.0,195.9 75.4,195.9 75.8,195.9 76.2,195.9 76.6,195.8 76.9,195.8 77.3,195.8 77.7,195.8 78.1,195.8 78.5,195.8 78.9,195.7 79.2,195.7 79.6,195.7 80.0,195.7 80.4,195.6 80.9,195.6 82.2,195.5 83.6,195.4 84.9,195.2 86.3,195.1 87.7,194.9 89.0,194.7 90.4,194.5 91.8,194.3 93.1,194.1 94.5,193.9 95.9,193.6 97.2,193.4 98.6,193.1 100.0,192.8 101.3,192.5 102.7,192.2 104.1,191.9 105.4,191.6 106.8,191.2 108.2,190.9 109.5,190.5 110.9,190.1 112.2,189.7 113.6,189.3 115.0,188.9 116.3,188.5 117.7,188.1 119.1,187.7 120.4,187.2 121.8,186.8 123.2,186.3 124.5,185.8 125.9,185.4 127.3,184.9 128.6,184.4 130.0,183.9 131.4,183.4 132.7,182.9 134.1,182.3 135.5,181.8 136.8,181.3 138.2,180.8 139.6,180.2 140.9,179.7 142.3,179.1 143.6,178.5 145.0,178.0 146.4,177.4 147.7,176.8 149.1,176.3 150.5,175.7 151.8,175.1 153.2,174.5 154.6,173.9 155.9,173.3 157.3,172.7 158.7,172.1 160.0,171.6 161.4,170.9 162.8,170.3 164.1,169.7 165.5,169.1 166.9,168.5 168.2,167.9 169.6,167.3 170.9,166.7 172.3,166.1 173.7,165.5 175.0,164.9 176.4,164.3 177.8,163.6 179.1,163.0 180.5,162.4 181.9,161.8 183.2,161.2 184.6,160.6 186.0,160.0 187.3,159.4 188.7,158.8 190.1,158.2 191.4,157.5 192.8,156.9 194.2,156.3 195.5,155.7 196.9,155.1 198.2,154.5 199.6,153.9 201.0,153.3 202.3,152.7 203.7,152.2 205.1,151.6 206.4,151.0 207.8,150.4 209.2,149.8 210.5,149.2 211.9,148.6 213.3,148.1 214.6,147.5 216.0,146.9 217.4,146.3 218.7,145.8 220.1,145.2 221.5,144.6 222.8,144.1 224.2,143.5 225.5,143.0 226.9,142.4 228.3,141.8 229.6,141.3 231.0,140.7 232.4,140.2 233.7,139.7 235.1,139.1 236.5,138.6 237.8,138.0 239.2,137.5 240.6,137.0 241.9,136.5 243.3,135.9 244.7,135.4 246.0,134.9 247.4,134.4 248.8,133.9 250.1,133.4 251.5,132.9 252.9,132.3 254.2,131.8 255.6,131.3 256.9,130.9 258.3,130.4 259.7,129.9 261.0,129.4 262.4,128.9 263.8,128.4 265.1,127.9 266.5,127.5 267.9,127.0 269.2,126.5 270.6,126.0 272.0,125.6 273.3,125.1 274.7,124.6 276.1,124.2 277.4,123.7 278.8,123.3 280.2,122.8 281.5,122.4 282.9,121.9 284.2,121.5 285.6,121.0 287.0,120.6 288.3,120.2 289.7,119.7 291.1,119.3 292.4,118.9 293.8,118.4 295.2,118.0 296.5,117.6 297.9,117.2 299.3,116.7 300.6,116.3 302.0,115.9 303.4,115.5 304.7,115.1 306.1,114.7 307.5,114.3 308.8,113.9 310.2,113.5 311.5,113.1 312.9,112.7 314.3,112.3 315.6,111.9 317.0,111.5 318.4,111.1 319.7,110.8 321.1,110.4 322.5,110.0 323.8,109.6 325.2,109.2 326.6,108.9 327.9,108.5 329.3,108.1 330.7,107.8 332.0,107.4 333.4,107.0 334.8,106.7 336.1,106.3 337.5,106.0 338.8,105.6 340.2,105.2 341.6,104.9 342.9,104.5 344.3,104.2 345.7,103.8 347.0,103.5 348.4,103.2 349.8,102.8 351.1,102.5 352.5,102.1" stroke="#ffb220" stroke-width="0.8"/>
<path d="M71.0,191.0 71.2,191.0 71.6,191.0 72.0,191.0 72.3,191.0 72.7,191.0 73.1,191.0 73.5,191.0 73.9,191.0 74.3,191.0 74.6,191.0 75.0,191.0 75.4,191.0 75.8,191.0 76.2,190.9 76.6,190.9 76.9,190.9 77.3,190.9 77.7,190.9 78.1,190.9 78.5,190.8 78.9,190.8 79.2,190.8 79.6,190.8 80.0,190.7 80.4,190.7 80.9,190.7 82.2,190.6 83.6,190.5 84.9,190.3 86.3,190.2 87.7,190.0 89.0,189.9 90.4,189.7 91.8,189.5 93.1,189.3 94.5,189.1 95.9,188.8 97.2,188.6 98.6,188.3 100.0,188.1 101.3,187.8 102.7,187.5 104.1,187.2 105.4,186.9 106.8,186.6 108.2,186.3 109.5,185.9 110.9,185.6 112.2,185.2 113.6,184.8 115.0,184.4 116.3,184.0 117.7,183.6 119.1,183.2 120.4,182.8 121.8,182.4 123.2,182.0 124.5,181.5 125.9,181.1 127.3,180.6 128.6,180.1 130.0,179.7 131.4,179.2 132.7,178.7 134.1,178.2 135.5,177.7 136.8,177.2 138.2,176.7 139.6,176.2 140.9,175.6 142.3,175.1 143.6,174.6 145.0,174.1 146.4,173.5 147.7,173.0 149.1,172.4 150.5,171.9 151.8,171.3 153.2,170.8 154.6,170.2 155.9,169.6 157.3,169.1 158.7,168.5 160.0,167.9 161.4,167.3 162.8,166.8 164.1,166.2 165.5,165.6 166.9,165.0 168.2,164.4 169.6,163.8 170.9,163.2 172.3,162.7 173.7,162.1 175.0,161.5 176.4,160.9 177.8,160.3 179.1,159.7 180.5,159.1 181.9,158.5 183.2,157.9 184.6,157.3 186.0,156.8 187.3,156.2 188.7,155.6 190.1,155.0 191.4,154.4 192.8,153.8 194.2,153.2 195.5,152.6 196.9,152.1 198.2,151.5 199.6,150.9 201.0,150.3 202.3,149.7 203.7,149.1 205.1,148.6 206.4,148.0 207.8,147.4 209.2,146.9 210.5,146.3 211.9,145.7 213.3,145.2 214.6,144.6 216.0,144.0 217.4,143.5 218.7,142.9 220.1,142.4 221.5,141.8 222.8,141.2 224.2,140.7 225.5,140.1 226.9,139.6 228.3,139.1 229.6,138.5 231.0,138.0 232.4,137.4 233.7,136.9 235.1,136.4 236.5,135.9 237.8,135.3 239.2,134.8 240.6,134.3 241.9,133.8 243.3,133.2 244.7,132.7 246.0,132.2 247.4,131.7 248.8,131.2 250.1,130.7 251.5,130.2 252.9,129.7 254.2,129.2 255.6,128.7 256.9,128.2 258.3,127.7 259.7,127.2 261.0,126.8 262.4,126.3 263.8,125.8 265.1,125.3 266.5,124.9 267.9,124.4 269.2,123.9 270.6,123.4 272.0,123.0 273.3,122.5 274.7,122.1 276.1,121.6 277.4,121.2 278.8,120.7 280.2,120.3 281.5,119.8 282.9,119.4 284.2,118.9 285.6,118.5 287.0,118.0 288.3,117.6 289.7,117.2 291.1,116.7 292.4,116.3 293.8,115.9 295.2,115.5 296.5,115.1 297.9,114.6 299.3,114.2 300.6,113.8 302.0,113.4 303.4,113.0 304.7,112.6 306.1,112.2 307.5,111.8 308.8,111.4 310.2,111.0 311.5,110.6 312.9,110.2 314.3,109.8 315.6,109.4 317.0,109.0 318.4,108.6 319.7,108.2 321.1,107.9 322.5,107.5 323.8,107.1 325.2,106.7 326.6,106.3 327.9,106.0 329.3,105.6 330.7,105.2 332.0,104.9 333.4,104.5 334.8,104.1 336.1,103.8 337.5,103.4 338.8,103.1 340.2,102.7 341.6,102.4 342.9,102.0 344.3,101.7 345.7,101.3 347.0,101.0 348.4,100.6 349.8,100.3 351.1,100.0 352.5,99.6" stroke="#ff9910" stroke-width="0.8"/>
<path d="M71.0,186.4 71.2,186.4 71.6,186.4 72.0,186.4 72.3,186.4 72.7,186.4 73.1,186.4 73.5,186.4 73.9,186.4 74.3,186.4 74.6,186.4 75.0,186.4 75.4,186.4 75.8,186.4 76.2,186.4 76.6,186.3 76.9,186.3 77.3,186.3 77.7,186.3 78.1,186.3 78.5,186.3 78.9,186.2 79.2,186.2 79.6,186.2 80.0,186.2 80.4,186.1 80.9,186.1 82.2,186.0 83.6,185.9 84.9,185.8 86.3,185.7 87.7,185.5 89.0,185.3 90.4,185.2 91.8,185.0 93.1,184.8 94.5,184.6 95.9,184.4 97.2,184.2 98.6,183.9 100.0,183.7 101.3,183.4 102.7,183.1 104.1,182.9 105.4,182.6 106.8,182.3 108.2,181.9 109.5,181.6 110.9,181.3 112.2,180.9 113.6,180.6 115.0,180.2 116.3,179.9 117.7,179.5 119.1,179.1 120.4,178.7 121.8,178.3 123.2,177.9 124.5,177.5 125.9,177.0 127.3,176.6 128.6,176.2 130.0,175.7 131.4,175.3 132.7,174.8 134.1,174.3 135.5,173.9 136.8,173.4 138.2,172.9 139.6,172.4 140.9,171.9 142.3,171.4 143.6,170.9 145.0,170.4 146.4,169.9 147.7,169.4 149.1,168.8 150.5,168.3 151.8,167.8 153.2,167.2 154.6,166.7 155.9,166.2 157.3,165.6 158.7,165.1 160.0,164.5 161.4,164.0 162.8,163.4 164.1,162.9 165.5,162.3 166.9,161.7 168.2,161.2 169.6,160.6 170.9,160.0 172.3,159.5 173.7,158.9 175.0,158.3 176.4,157.8 177.8,157.2 179.1,156.6 180.5,156.1 181.9,155.5 183.2,154.9 184.6,154.3 186.0,153.8 187.3,153.2 188.7,152.6 190.1,152.1 191.4,151.5 192.8,150.9 194.2,150.3 195.5,149.8 196.9,149.2 198.2,148.6 199.6,148.1 201.0,147.5 202.3,146.9 203.7,146.4 205.1,145.8 206.4,145.3 207.8,144.7 209.2,144.1 210.5,143.6 211.9,143.0 213.3,142.5 214.6,141.9 216.0,141.4 217.4,140.8 218.7,140.3 220.1,139.7 221.5,139.2 222.8,138.7 224.2,138.1 225.5,137.6 226.9,137.1 228.3,136.5 229.6,136.0 231.0,135.5 232.4,134.9 233.7,134.4 235.1,133.9 236.5,133.4 237.8,132.8 239.2,132.3 240.6,131.8 241.9,131.3 243.3,130.8 244.7,130.3 246.0,129.8 247.4,129.3 248.8,128.8 250.1,128.3 251.5,127.8 252.9,127.3 254.2,126.8 255.6,126.3 256.9,125.8 258.3,125.4 259.7,124.9 261.0,124.4 262.4,123.9 263.8,123.4 265.1,123.0 266.5,122.5 267.9,122.0 269.2,121.6 270.6,121.1 272.0,120.7 273.3,120.2 274.7,119.7 276.1,119.3 277.4,118.8 278.8,118.4 280.2,117.9 281.5,117.5 282.9,117.1 284.2,116.6 285.6,116.2 287.0,115.7 288.3,115.3 289.7,114.9 291.1,114.5 292.4,114.0 293.8,113.6 295.2,113.2 296.5,112.8 297.9,112.4 299.3,111.9 300.6,111.5 302.0,111.1 303.4,110.7 304.7,110.3 306.1,109.9 307.5,109.5 308.8,109.1 310.2,108.7 311.5,108.3 312.9,107.9 314.3,107.5 315.6,107.1 317.0,106.7 318.4,106.4 319.7,106.0 321.1,105.6 322.5,105.2 323.8,104.8 325.2,104.5 326.6,104.1 327.9,103.7 329.3,103.4 330.7,103.0 332.0,102.6 333.4,102.3 334.8,101.9 336.1,101.5 337.5,101.2 338.8,100.8 340.2,100.5 341.6,100.1 342.9,99.8 344.3,99.4 345.7,99.1 347.0,98.7 348.4,98.4 349.8,98.0 351.1,97.7 352.5,97.4" stroke="#ff8000" stroke-width="2.3"/>
<path d="M71.0,182.2 71.2,182.2 71.6,182.2 72.0,182.2 72.3,182.2 72.7,182.2 73.1,182.2 73.5,182.1 73.9,182.1 74.3,182.1 74.6,182.1 75.0,182.1 75.4,182.1 75.8,182.1 76.2,182.1 76.6,182.1 76.9,182.1 77.3,182.0 77.7,182.0 78.1,182.0 78.5,182.0 78.9,182.0 79.2,182.0 79.6,181.9 80.0,181.9 80.4,181.9 80.9,181.9 82.2,181.8 83.6,181.7 84.9,181.6 86.3,181.4 87.7,181.3 89.0,181.1 90.4,181.0 91.8,180.8 93.1,180.6 94.5,180.4 95.9,180.2 97.2,180.0 98.6,179.8 100.0,179.6 101.3,179.3 102.7,179.1 104.1,178.8 105.4,178.5 106.8,178.2 108.2,177.9 109.5,177.6 110.9,177.3 112.2,177.0 113.6,176.7 115.0,176.3 116.3,176.0 117.7,175.6 119.1,175.2 120.4,174.9 121.8,174.5 123.2,174.1 124.5,173.7 125.9,173.3 127.3,172.9 128.6,172.5 130.0,172.0 131.4,171.6 132.7,171.2 134.1,170.7 135.5,170.3 136.8,169.8 138.2,169.4 139.6,168.9 140.9,168.4 142.3,167.9 143.6,167.5 145.0,167.0 146.4,166.5 147.7,166.0 149.1,165.5 150.5,165.0 151.8,164.5 153.2,164.0 154.6,163.4 155.9,162.9 157.3,162.4 158.7,161.9 160.0,161.3 161.4,160.8 162.8,160.3 164.1,159.7 165.5,159.2 166.9,158.7 168.2,158.1 169.6,157.6 170.9,157.0 172.3,156.5 173.7,156.0 175.0,155.4 176.4,154.9 177.8,154.3 179.1,153.8 180.5,153.2 181.9,152.6 183.2,152.1 184.6,151.5 186.0,151.0 187.3,150.4 188.7,149.9 190.1,149.3 191.4,148.8 192.8,148.2 194.2,147.7 195.5,147.1 196.9,146.6 198.2,146.0 199.6,145.5 201.0,144.9 202.3,144.4 203.7,143.8 205.1,143.3 206.4,142.7 207.8,142.2 209.2,141.6 210.5,141.1 211.9,140.5 213.3,140.0 214.6,139.5 216.0,138.9 217.4,138.4 218.7,137.9 220.1,137.3 221.5,136.8 222.8,136.3 224.2,135.7 225.5,135.2 226.9,134.7 228.3,134.2 229.6,133.6 231.0,133.1 232.4,132.6 233.7,132.1 235.1,131.6 236.5,131.1 237.8,130.6 239.2,130.1 240.6,129.5 241.9,129.0 243.3,128.5 244.7,128.0 246.0,127.5 247.4,127.1 248.8,126.6 250.1,126.1 251.5,125.6 252.9,125.1 254.2,124.6 255.6,124.1 256.9,123.6 258.3,123.2 259.7,122.7 261.0,122.2 262.4,121.7 263.8,121.3 265.1,120.8 266.5,120.3 267.9,119.9 269.2,119.4 270.6,119.0 272.0,118.5 273.3,118.1 274.7,117.6 276.1,117.2 277.4,116.7 278.8,116.3 280.2,115.8 281.5,115.4 282.9,114.9 284.2,114.5 285.6,114.1 287.0,113.6 288.3,113.2 289.7,112.8 291.1,112.4 292.4,111.9 293.8,111.5 295.2,111.1 296.5,110.7 297.9,110.3 299.3,109.9 300.6,109.4 302.0,109.0 303.4,108.6 304.7,108.2 306.1,107.8 307.5,107.4 308.8,107.0 310.2,106.6 311.5,106.2 312.9,105.8 314.3,105.5 315.6,105.1 317.0,104.7 318.4,104.3 319.7,103.9 321.1,103.5 322.5,103.2 323.8,102.8 325.2,102.4 326.6,102.0 327.9,101.7 329.3,101.3 330.7,100.9 332.0,100.6 333.4,100.2 334.8,99.8 336.1,99.5 337.5,99.1 338.8,98.8 340.2,98.4 341.6,98.1 342.9,97.7 344.3,97.4 345.7,97.0 347.0,96.7 348.4,96.3 349.8,96.0 351.1,95.6 352.5,95.3" stroke="#ff7406" stroke-width="0.8"/>
<path d="M71.0,178.1 71.2,178.1 71.6,178.1 72.0,178.1 72.3,178.1 72.7,178.1 73.1,178.1 73.5,178.1 73.9,178.1 74.3,178.1 74.6,178.1 75.0,178.1 75.4,178.1 75.8,178.0 76.2,178.0 76.6,178.0 76.9,178.0 77.3,178.0 77.7,178.0 78.1,178.0 78.5,177.9 78.9,177.9 79.2,177.9 79.6,177.9 80.0,177.9 80.4,177.8 80.9,177.8 82.2,177.7 83.6,177.6 84.9,177.5 86.3,177.4 87.7,177.3 89.0,177.1 90.4,177.0 91.8,176.8 93.1,176.7 94.5,176.5 95.9,176.3 97.2,176.1 98.6,175.9 100.0,175.6 101.3,175.4 102.7,175.2 104.1,174.9 105.4,174.7 106.8,174.4 108.2,174.1 109.5,173.8 110.9,173.5 112.2,173.2 113.6,172.9 115.0,172.6 116.3,172.3 117.7,171.9 119.1,171.6 120.4,171.2 121.8,170.8 123.2,170.5 124.5,170.1 125.9,169.7 127.3,169.3 128.6,168.9 130.0,168.5 131.4,168.1 132.7,167.7 134.1,167.3 135.5,166.8 136.8,166.4 138.2,166.0 139.6,165.5 140.9,165.1 142.3,164.6 143.6,164.2 145.0,163.7 146.4,163.2 147.7,162.7 149.1,162.3 150.5,161.8 151.8,161.3 153.2,160.8 154.6,160.3 155.9,159.8 157.3,159.3 158.7,158.8 160.0,158.3 161.4,157.8 162.8,157.3 164.1,156.8 165.5,156.2 166.9,155.7 168.2,155.2 169.6,154.7 170.9,154.2 172.3,153.6 173.7,153.1 175.0,152.6 176.4,152.0 177.8,151.5 179.1,151.0 180.5,150.4 181.9,149.9 183.2,149.4 184.6,148.8 186.0,148.3 187.3,147.8 188.7,147.2 190.1,146.7 191.4,146.2 192.8,145.6 194.2,145.1 195.5,144.5 196.9,144.0 198.2,143.5 199.6,142.9 201.0,142.4 202.3,141.9 203.7,141.3 205.1,140.8 206.4,140.3 207.8,139.7 209.2,139.2 210.5,138.7 211.9,138.1 213.3,137.6 214.6,137.1 216.0,136.6 217.4,136.0 218.7,135.5 220.1,135.0 221.5,134.5 222.8,133.9 224.2,133.4 225.5,132.9 226.9,132.4 228.3,131.9 229.6,131.4 231.0,130.9 232.4,130.4 233.7,129.8 235.1,129.3 236.5,128.8 237.8,128.3 239.2,127.8 240.6,127.3 241.9,126.8 243.3,126.4 244.7,125.9 246.0,125.4 247.4,124.9 248.8,124.4 250.1,123.9 251.5,123.4 252.9,122.9 254.2,122.5 255.6,122.0 256.9,121.5 258.3,121.0 259.7,120.6 261.0,120.1 262.4,119.6 263.8,119.2 265.1,118.7 266.5,118.3 267.9,117.8 269.2,117.3 270.6,116.9 272.0,116.4 273.3,116.0 274.7,115.5 276.1,115.1 277.4,114.6 278.8,114.2 280.2,113.8 281.5,113.3 282.9,112.9 284.2,112.5 285.6,112.0 287.0,111.6 288.3,111.2 289.7,110.7 291.1,110.3 292.4,109.9 293.8,109.5 295.2,109.1 296.5,108.7 297.9,108.2 299.3,107.8 300.6,107.4 302.0,107.0 303.4,106.6 304.7,106.2 306.1,105.8 307.5,105.4 308.8,105.0 310.2,104.6 311.5,104.2 312.9,103.8 314.3,103.4 315.6,103.1 317.0,102.7 318.4,102.3 319.7,101.9 321.1,101.5 322.5,101.1 323.8,100.8 325.2,100.4 326.6,100.0 327.9,99.6 329.3,99.3 330.7,98.9 332.0,98.5 333.4,98.2 334.8,97.8 336.1,97.5 337.5,97.1 338.8,96.8 340.2,96.4 341.6,96.0 342.9,95.7 344.3,95.3 345.7,95.0 347.0,94.7 348.4,94.3 349.8,94.0 351.1,93.6 352.5,93.3" stroke="#ff690c" stroke-width="0.8"/>
<path d="M71.0,174.2 71.2,174.2 71.6,174.2 72.0,174.2 72.3,174.2 72.7,174.2 73.1,174.2 73.5,174.2 73.9,174.2 74.3,174.2 74.6,174.2 75.0,174.2 75.4,174.2 75.8,174.2 76.2,174.2 76.6,174.2 76.9,174.1 77.3,174.1 77.7,174.1 78.1,174.1 78.5,174.1 78.9,174.1 79.2,174.0 79.6,174.0 80.0,174.0 80.4,174.0 80.9,174.0 82.2,173.9 83.6,173.8 84.9,173.7 86.3,173.6 87.7,173.5 89.0,173.3 90.4,173.2 91.8,173.0 93.1,172.9 94.5,172.7 95.9,172.5 97.2,172.3 98.6,172.1 100.0,171.9 101.3,171.7 102.7,171.5 104.1,171.2 105.4,171.0 106.8,170.7 108.2,170.5 109.5,170.2 110.9,169.9 112.2,169.6 113.6,169.3 115.0,169.0 116.3,168.7 117.7,168.4 119.1,168.0 120.4,167.7 121.8,167.4 123.2,167.0 124.5,166.6 125.9,166.3 127.3,165.9 128.6,165.5 130.0,165.1 131.4,164.8 132.7,164.4 134.1,164.0 135.5,163.5 136.8,163.1 138.2,162.7 139.6,162.3 140.9,161.8 142.3,161.4 143.6,161.0 145.0,160.5 146.4,160.1 147.7,159.6 149.1,159.2 150.5,158.7 151.8,158.2 153.2,157.8 154.6,157.3 155.9,156.8 157.3,156.3 158.7,155.8 160.0,155.4 161.4,154.9 162.8,154.4 164.1,153.9 165.5,153.4 166.9,152.9 168.2,152.4 169.6,151.9 170.9,151.4 172.3,150.9 173.7,150.3 175.0,149.8 176.4,149.3 177.8,148.8 179.1,148.3 180.5,147.8 181.9,147.3 183.2,146.7 184.6,146.2 186.0,145.7 187.3,145.2 188.7,144.7 190.1,144.1 191.4,143.6 192.8,143.1 194.2,142.6 195.5,142.0 196.9,141.5 198.2,141.0 199.6,140.5 201.0,140.0 202.3,139.4 203.7,138.9 205.1,138.4 206.4,137.9 207.8,137.4 209.2,136.8 210.5,136.3 211.9,135.8 213.3,135.3 214.6,134.8 216.0,134.3 217.4,133.7 218.7,133.2 220.1,132.7 221.5,132.2 222.8,131.7 224.2,131.2 225.5,130.7 226.9,130.2 228.3,129.7 229.6,129.2 231.0,128.7 232.4,128.2 233.7,127.7 235.1,127.2 236.5,126.7 237.8,126.2 239.2,125.7 240.6,125.2 241.9,124.7 243.3,124.2 244.7,123.7 246.0,123.3 247.4,122.8 248.8,122.3 250.1,121.8 251.5,121.3 252.9,120.9 254.2,120.4 255.6,119.9 256.9,119.5 258.3,119.0 259.7,118.5 261.0,118.1 262.4,117.6 263.8,117.1 265.1,116.7 266.5,116.2 267.9,115.8 269.2,115.3 270.6,114.9 272.0,114.4 273.3,114.0 274.7,113.5 276.1,113.1 277.4,112.6 278.8,112.2 280.2,111.8 281.5,111.3 282.9,110.9 284.2,110.5 285.6,110.0 287.0,109.6 288.3,109.2 289.7,108.8 291.1,108.3 292.4,107.9 293.8,107.5 295.2,107.1 296.5,106.7 297.9,106.3 299.3,105.9 300.6,105.5 302.0,105.1 303.4,104.6 304.7,104.2 306.1,103.8 307.5,103.4 308.8,103.1 310.2,102.7 311.5,102.3 312.9,101.9 314.3,101.5 315.6,101.1 317.0,100.7 318.4,100.3 319.7,100.0 321.1,99.6 322.5,99.2 323.8,98.8 325.2,98.4 326.6,98.1 327.9,97.7 329.3,97.3 330.7,97.0 332.0,96.6 333.4,96.2 334.8,95.9 336.1,95.5 337.5,95.2 338.8,94.8 340.2,94.5 341.6,94.1 342.9,93.7 344.3,93.4 345.7,93.1 347.0,92.7 348.4,92.4 349.8,92.0 351.1,91.7 352.5,91.3" stroke="#ff5d12" stroke-width="0.8"/>
<path d="M71.0,170.5 71.2,170.5 71.6,170.5 72.0,170.5 72.3,170.5 72.7,170.5 73.1,170.5 73.5,170.5 73.9,170.5 74.3,170.5 74.6,170.5 75.0,170.5 75.4,170.5 75.8,170.5 76.2,170.5 76.6,170.5 76.9,170.4 77.3,170.4 77.7,170.4 78.1,170.4 78.5,170.4 78.9,170.4 79.2,170.4 79.6,170.3 80.0,170.3 80.4,170.3 80.9,170.3 82.2,170.2 83.6,170.1 84.9,170.0 86.3,169.9 87.7,169.8 89.0,169.7 90.4,169.5 91.8,169.4 93.1,169.2 94.5,169.1 95.9,168.9 97.2,168.7 98.6,168.5 100.0,168.3 101.3,168.1 102.7,167.9 104.1,167.7 105.4,167.4 106.8,167.2 108.2,167.0 109.5,166.7 110.9,166.4 112.2,166.1 113.6,165.9 115.0,165.6 116.3,165.3 117.7,165.0 119.1,164.7 120.4,164.3 121.8,164.0 123.2,163.7 124.5,163.3 125.9,163.0 127.3,162.6 128.6,162.3 130.0,161.9 131.4,161.5 132.7,161.1 134.1,160.8 135.5,160.4 136.8,160.0 138.2,159.6 139.6,159.2 140.9,158.7 142.3,158.3 143.6,157.9 145.0,157.5 146.4,157.0 147.7,156.6 149.1,156.2 150.5,155.7 151.8,155.3 153.2,154.8 154.6,154.4 155.9,153.9 157.3,153.4 158.7,153.0 160.0,152.5 161.4,152.0 162.8,151.6 164.1,151.1 165.5,150.6 166.9,150.1 168.2,149.6 169.6,149.2 170.9,148.7 172.3,148.2 173.7,147.7 175.0,147.2 176.4,146.7 177.8,146.2 179.1,145.7 180.5,145.2 181.9,144.7 183.2,144.2 184.6,143.7 186.0,143.2 187.3,142.7 188.7,142.2 190.1,141.7 191.4,141.2 192.8,140.6 194.2,140.1 195.5,139.6 196.9,139.1 198.2,138.6 199.6,138.1 201.0,137.6 202.3,137.1 203.7,136.6 205.1,136.1 206.4,135.6 207.8,135.1 209.2,134.5 210.5,134.0 211.9,133.5 213.3,133.0 214.6,132.5 216.0,132.0 217.4,131.5 218.7,131.0 220.1,130.5 221.5,130.0 222.8,129.5 224.2,129.0 225.5,128.5 226.9,128.0 228.3,127.5 229.6,127.0 231.0,126.5 232.4,126.1 233.7,125.6 235.1,125.1 236.5,124.6 237.8,124.1 239.2,123.6 240.6,123.1 241.9,122.7 243.3,122.2 244.7,121.7 246.0,121.2 247.4,120.7 248.8,120.3 250.1,119.8 251.5,119.3 252.9,118.9 254.2,118.4 255.6,117.9 256.9,117.5 258.3,117.0 259.7,116.5 261.0,116.1 262.4,115.6 263.8,115.2 265.1,114.7 266.5,114.3 267.9,113.8 269.2,113.4 270.6,112.9 272.0,112.5 273.3,112.0 274.7,111.6 276.1,111.2 277.4,110.7 278.8,110.3 280.2,109.8 281.5,109.4 282.9,109.0 284.2,108.6 285.6,108.1 287.0,107.7 288.3,107.3 289.7,106.9 291.1,106.4 292.4,106.0 293.8,105.6 295.2,105.2 296.5,104.8 297.9,104.4 299.3,104.0 300.6,103.6 302.0,103.2 303.4,102.8 304.7,102.4 306.1,102.0 307.5,101.6 308.8,101.2 310.2,100.8 311.5,100.4 312.9,100.0 314.3,99.6 315.6,99.2 317.0,98.8 318.4,98.5 319.7,98.1 321.1,97.7 322.5,97.3 323.8,97.0 325.2,96.6 326.6,96.2 327.9,95.8 329.3,95.5 330.7,95.1 332.0,94.7 333.4,94.4 334.8,94.0 336.1,93.7 337.5,93.3 338.8,92.9 340.2,92.6 341.6,92.2 342.9,91.9 344.3,91.5 345.7,91.2 347.0,90.8 348.4,90.5 349.8,90.2 351.1,89.8 352.5,89.5" stroke="#ff5218" stroke-width="0.8"/>
<path d="M71.0,167.0 71.2,167.0 71.6,167.0 72.0,167.0 72.3,167.0 72.7,167.0 73.1,167.0 73.5,167.0 73.9,167.0 74.3,167.0 74.6,166.9 75.0,166.9 75.4,166.9 75.8,166.9 76.2,166.9 76.6,166.9 76.9,166.9 77.3,166.9 77.7,166.9 78.1,166.9 78.5,166.8 78.9,166.8 79.2,166.8 79.6,166.8 80.0,166.8 80.4,166.8 80.9,166.7 82.2,166.7 83.6,166.6 84.9,166.5 86.3,166.4 87.7,166.3 89.0,166.2 90.4,166.0 91.8,165.9 93.1,165.8 94.5,165.6 95.9,165.4 97.2,165.3 98.6,165.1 100.0,164.9 101.3,164.7 102.7,164.5 104.1,164.3 105.4,164.1 106.8,163.8 108.2,163.6 109.5,163.3 110.9,163.1 112.2,162.8 113.6,162.5 115.0,162.3 116.3,162.0 117.7,161.7 119.1,161.4 120.4,161.1 121.8,160.8 123.2,160.5 124.5,160.1 125.9,159.8 127.3,159.5 128.6,159.1 130.0,158.8 131.4,158.4 132.7,158.0 134.1,157.7 135.5,157.3 136.8,156.9 138.2,156.5 139.6,156.1 140.9,155.7 142.3,155.3 143.6,154.9 145.0,154.5 146.4,154.1 147.7,153.7 149.1,153.3 150.5,152.9 151.8,152.4 153.2,152.0 154.6,151.6 155.9,151.1 157.3,150.7 158.7,150.2 160.0,149.8 161.4,149.3 162.8,148.9 164.1,148.4 165.5,147.9 166.9,147.5 168.2,147.0 169.6,146.5 170.9,146.1 172.3,145.6 173.7,145.1 175.0,144.6 176.4,144.1 177.8,143.7 179.1,143.2 180.5,142.7 181.9,142.2 183.2,141.7 184.6,141.2 186.0,140.7 187.3,140.3 188.7,139.8 190.1,139.3 191.4,138.8 192.8,138.3 194.2,137.8 195.5,137.3 196.9,136.8 198.2,136.3 199.6,135.8 201.0,135.3 202.3,134.8 203.7,134.3 205.1,133.8 206.4,133.3 207.8,132.8 209.2,132.3 210.5,131.8 211.9,131.4 213.3,130.9 214.6,130.4 216.0,129.9 217.4,129.4 218.7,128.9 220.1,128.4 221.5,127.9 222.8,127.4 224.2,126.9 225.5,126.4 226.9,126.0 228.3,125.5 229.6,125.0 231.0,124.5 232.4,124.0 233.7,123.5 235.1,123.1 236.5,122.6 237.8,122.1 239.2,121.6 240.6,121.1 241.9,120.7 243.3,120.2 244.7,119.7 246.0,119.3 247.4,118.8 248.8,118.3 250.1,117.9 251.5,117.4 252.9,116.9 254.2,116.5 255.6,116.0 256.9,115.6 258.3,115.1 259.7,114.6 261.0,114.2 262.4,113.7 263.8,113.3 265.1,112.8 266.5,112.4 267.9,111.9 269.2,111.5 270.6,111.1 272.0,110.6 273.3,110.2 274.7,109.7 276.1,109.3 277.4,108.9 278.8,108.4 280.2,108.0 281.5,107.6 282.9,107.2 284.2,106.7 285.6,106.3 287.0,105.9 288.3,105.5 289.7,105.1 291.1,104.6 292.4,104.2 293.8,103.8 295.2,103.4 296.5,103.0 297.9,102.6 299.3,102.2 300.6,101.8 302.0,101.4 303.4,101.0 304.7,100.6 306.1,100.2 307.5,99.8 308.8,99.4 310.2,99.0 311.5,98.6 312.9,98.2 314.3,97.8 315.6,97.5 317.0,97.1 318.4,96.7 319.7,96.3 321.1,95.9 322.5,95.6 323.8,95.2 325.2,94.8 326.6,94.4 327.9,94.1 329.3,93.7 330.7,93.3 332.0,93.0 333.4,92.6 334.8,92.2 336.1,91.9 337.5,91.5 338.8,91.2 340.2,90.8 341.6,90.5 342.9,90.1 344.3,89.8 345.7,89.4 347.0,89.1 348.4,88.7 349.8,88.4 351.1,88.0 352.5,87.7" stroke="#ff461e" stroke-width="0.8"/>
<path d="M71.0,163.6 71.2,163.6 71.6,163.6 72.0,163.6 72.3,163.6 72.7,163.6 73.1,163.6 73.5,163.6 73.9,163.6 74.3,163.6 74.6,163.5 75.0,163.5 75.4,163.5 75.8,163.5 76.2,163.5 76.6,163.5 76.9,163.5 77.3,163.5 77.7,163.5 78.1,163.5 78.5,163.4 78.9,163.4 79.2,163.4 79.6,163.4 80.0,163.4 80.4,163.4 80.9,163.3 82.2,163.3 83.6,163.2 84.9,163.1 86.3,163.0 87.7,162.9 89.0,162.8 90.4,162.7 91.8,162.6 93.1,162.4 94.5,162.3 95.9,162.1 97.2,161.9 98.6,161.8 100.0,161.6 101.3,161.4 102.7,161.2 104.1,161.0 105.4,160.8 106.8,160.6 108.2,160.3 109.5,160.1 110.9,159.9 112.2,159.6 113.6,159.4 115.0,159.1 116.3,158.8 117.7,158.5 119.1,158.3 120.4,158.0 121.8,157.7 123.2,157.4 124.5,157.1 125.9,156.7 127.3,156.4 128.6,156.1 130.0,155.8 131.4,155.4 132.7,155.1 134.1,154.7 135.5,154.4 136.8,154.0 138.2,153.6 139.6,153.2 140.9,152.9 142.3,152.5 143.6,152.1 145.0,151.7 146.4,151.3 147.7,150.9 149.1,150.5 150.5,150.1 151.8,149.7 153.2,149.3 154.6,148.8 155.9,148.4 157.3,148.0 158.7,147.6 160.0,147.1 161.4,146.7 162.8,146.2 164.1,145.8 165.5,145.4 166.9,144.9 168.2,144.5 169.6,144.0 170.9,143.5 172.3,143.1 173.7,142.6 175.0,142.2 176.4,141.7 177.8,141.2 179.1,140.8 180.5,140.3 181.9,139.8 183.2,139.4 184.6,138.9 186.0,138.4 187.3,137.9 188.7,137.5 190.1,137.0 191.4,136.5 192.8,136.0 194.2,135.5 195.5,135.1 196.9,134.6 198.2,134.1 199.6,133.6 201.0,133.1 202.3,132.6 203.7,132.2 205.1,131.7 206.4,131.2 207.8,130.7 209.2,130.2 210.5,129.7 211.9,129.3 213.3,128.8 214.6,128.3 216.0,127.8 217.4,127.3 218.7,126.9 220.1,126.4 221.5,125.9 222.8,125.4 224.2,124.9 225.5,124.5 226.9,124.0 228.3,123.5 229.6,123.0 231.0,122.6 232.4,122.1 233.7,121.6 235.1,121.1 236.5,120.7 237.8,120.2 239.2,119.7 240.6,119.3 241.9,118.8 243.3,118.3 244.7,117.9 246.0,117.4 247.4,116.9 248.8,116.5 250.1,116.0 251.5,115.6 252.9,115.1 254.2,114.7 255.6,114.2 256.9,113.7 258.3,113.3 259.7,112.8 261.0,112.4 262.4,112.0 263.8,111.5 265.1,111.1 266.5,110.6 267.9,110.2 269.2,109.7 270.6,109.3 272.0,108.9 273.3,108.4 274.7,108.0 276.1,107.6 277.4,107.1 278.8,106.7 280.2,106.3 281.5,105.9 282.9,105.4 284.2,105.0 285.6,104.6 287.0,104.2 288.3,103.8 289.7,103.4 291.1,102.9 292.4,102.5 293.8,102.1 295.2,101.7 296.5,101.3 297.9,100.9 299.3,100.5 300.6,100.1 302.0,99.7 303.4,99.3 304.7,98.9 306.1,98.5 307.5,98.1 308.8,97.7 310.2,97.3 311.5,97.0 312.9,96.6 314.3,96.2 315.6,95.8 317.0,95.4 318.4,95.0 319.7,94.7 321.1,94.3 322.5,93.9 323.8,93.5 325.2,93.2 326.6,92.8 327.9,92.4 329.3,92.1 330.7,91.7 332.0,91.3 333.4,91.0 334.8,90.6 336.1,90.3 337.5,89.9 338.8,89.5 340.2,89.2 341.6,88.8 342.9,88.5 344.3,88.1 345.7,87.8 347.0,87.4 348.4,87.1 349.8,86.8 351.1,86.4 352.5,86.1" stroke="#ff3818" stroke-width="0.8"/>
<path d="M71.0,160.3 71.2,160.3 71.6,160.3 72.0,160.3 72.3,160.3 72.7,160.3 73.1,160.3 73.5,160.3 73.9,160.3 74.3,160.3 74.6,160.3 75.0,160.3 75.4,160.3 75.8,160.3 76.2,160.3 76.6,160.3 76.9,160.3 77.3,160.2 77.7,160.2 78.1,160.2 78.5,160.2 78.9,160.2 79.2,160.2 79.6,160.2 80.0,160.2 80.4,160.1 80.9,160.1 82.2,160.1 83.6,160.0 84.9,159.9 86.3,159.8 87.7,159.7 89.0,159.6 90.4,159.5 91.8,159.4 93.1,159.2 94.5,159.1 95.9,158.9 97.2,158.8 98.6,158.6 100.0,158.5 101.3,158.3 102.7,158.1 104.1,157.9 105.4,157.7 106.8,157.5 108.2,157.3 109.5,157.0 110.9,156.8 112.2,156.6 113.6,156.3 115.0,156.1 116.3,155.8 117.7,155.6 119.1,155.3 120.4,155.0 121.8,154.7 123.2,154.4 124.5,154.1 125.9,153.8 127.3,153.5 128.6,153.2 130.0,152.9 131.4,152.6 132.7,152.2 134.1,151.9 135.5,151.5 136.8,151.2 138.2,150.8 139.6,150.5 140.9,150.1 142.3,149.8 143.6,149.4 145.0,149.0 146.4,148.6 147.7,148.2 149.1,147.9 150.5,147.5 151.8,147.1 153.2,146.7 154.6,146.3 155.9,145.9 157.3,145.4 158.7,145.0 160.0,144.6 161.4,144.2 162.8,143.8 164.1,143.3 165.5,142.9 166.9,142.5 168.2,142.0 169.6,141.6 170.9,141.2 172.3,140.7 173.7,140.3 175.0,139.8 176.4,139.4 177.8,138.9 179.1,138.5 180.5,138.0 181.9,137.6 183.2,137.1 184.6,136.6 186.0,136.2 187.3,135.7 188.7,135.3 190.1,134.8 191.4,134.3 192.8,133.9 194.2,133.4 195.5,132.9 196.9,132.5 198.2,132.0 199.6,131.5 201.0,131.1 202.3,130.6 203.7,130.1 205.1,129.7 206.4,129.2 207.8,128.7 209.2,128.2 210.5,127.8 211.9,127.3 213.3,126.8 214.6,126.4 216.0,125.9 217.4,125.4 218.7,124.9 220.1,124.5 221.5,124.0 222.8,123.5 224.2,123.1 225.5,122.6 226.9,122.1 228.3,121.7 229.6,121.2 231.0,120.7 232.4,120.3 233.7,119.8 235.1,119.3 236.5,118.9 237.8,118.4 239.2,118.0 240.6,117.5 241.9,117.0 243.3,116.6 244.7,116.1 246.0,115.7 247.4,115.2 248.8,114.8 250.1,114.3 251.5,113.9 252.9,113.4 254.2,113.0 255.6,112.5 256.9,112.1 258.3,111.6 259.7,111.2 261.0,110.8 262.4,110.3 263.8,109.9 265.1,109.4 266.5,109.0 267.9,108.6 269.2,108.1 270.6,107.7 272.0,107.3 273.3,106.8 274.7,106.4 276.1,106.0 277.4,105.6 278.8,105.1 280.2,104.7 281.5,104.3 282.9,103.9 284.2,103.5 285.6,103.0 287.0,102.6 288.3,102.2 289.7,101.8 291.1,101.4 292.4,101.0 293.8,100.6 295.2,100.2 296.5,99.8 297.9,99.4 299.3,99.0 300.6,98.6 302.0,98.2 303.4,97.8 304.7,97.4 306.1,97.0 307.5,96.6 308.8,96.2 310.2,95.8 311.5,95.4 312.9,95.1 314.3,94.7 315.6,94.3 317.0,93.9 318.4,93.5 319.7,93.2 321.1,92.8 322.5,92.4 323.8,92.0 325.2,91.7 326.6,91.3 327.9,90.9 329.3,90.6 330.7,90.2 332.0,89.9 333.4,89.5 334.8,89.1 336.1,88.8 337.5,88.4 338.8,88.1 340.2,87.7 341.6,87.4 342.9,87.0 344.3,86.7 345.7,86.3 347.0,86.0 348.4,85.6 349.8,85.3 351.1,85.0 352.5,84.6" stroke="#ff2a12" stroke-width="0.8"/>
<path d="M71.0,157.3 71.2,157.3 71.6,157.3 72.0,157.3 72.3,157.3 72.7,157.3 73.1,157.3 73.5,157.3 73.9,157.3 74.3,157.3 74.6,157.3 75.0,157.2 75.4,157.2 75.8,157.2 76.2,157.2 76.6,157.2 76.9,157.2 77.3,157.2 77.7,157.2 78.1,157.2 78.5,157.2 78.9,157.1 79.2,157.1 79.6,157.1 80.0,157.1 80.4,157.1 80.9,157.1 82.2,157.0 83.6,156.9 84.9,156.9 86.3,156.8 87.7,156.7 89.0,156.6 90.4,156.5 91.8,156.4 93.1,156.2 94.5,156.1 95.9,156.0 97.2,155.8 98.6,155.7 100.0,155.5 101.3,155.3 102.7,155.1 104.1,155.0 105.4,154.8 106.8,154.6 108.2,154.4 109.5,154.1 110.9,153.9 112.2,153.7 113.6,153.5 115.0,153.2 116.3,153.0 117.7,152.7 119.1,152.5 120.4,152.2 121.8,151.9 123.2,151.7 124.5,151.4 125.9,151.1 127.3,150.8 128.6,150.5 130.0,150.2 131.4,149.9 132.7,149.6 134.1,149.2 135.5,148.9 136.8,148.6 138.2,148.2 139.6,147.9 140.9,147.5 142.3,147.2 143.6,146.8 145.0,146.5 146.4,146.1 147.7,145.7 149.1,145.4 150.5,145.0 151.8,144.6 153.2,144.2 154.6,143.8 155.9,143.4 157.3,143.1 158.7,142.7 160.0,142.3 161.4,141.8 162.8,141.4 164.1,141.0 165.5,140.6 166.9,140.2 168.2,139.8 169.6,139.4 170.9,138.9 172.3,138.5 173.7,138.1 175.0,137.6 176.4,137.2 177.8,136.8 179.1,136.3 180.5,135.9 181.9,135.5 183.2,135.0 184.6,134.6 186.0,134.1 187.3,133.7 188.7,133.2 190.1,132.8 191.4,132.3 192.8,131.9 194.2,131.4 195.5,131.0 196.9,130.5 198.2,130.1 199.6,129.6 201.0,129.2 202.3,128.7 203.7,128.2 205.1,127.8 206.4,127.3 207.8,126.9 209.2,126.4 210.5,126.0 211.9,125.5 213.3,125.0 214.6,124.6 216.0,124.1 217.4,123.7 218.7,123.2 220.1,122.7 221.5,122.3 222.8,121.8 224.2,121.4 225.5,120.9 226.9,120.5 228.3,120.0 229.6,119.5 231.0,119.1 232.4,118.6 233.7,118.2 235.1,117.7 236.5,117.3 237.8,116.8 239.2,116.4 240.6,115.9 241.9,115.5 243.3,115.0 244.7,114.6 246.0,114.1 247.4,113.7 248.8,113.2 250.1,112.8 251.5,112.4 252.9,111.9 254.2,111.5 255.6,111.0 256.9,110.6 258.3,110.2 259.7,109.7 261.0,109.3 262.4,108.9 263.8,108.4 265.1,108.0 266.5,107.6 267.9,107.1 269.2,106.7 270.6,106.3 272.0,105.9 273.3,105.4 274.7,105.0 276.1,104.6 277.4,104.2 278.8,103.7 280.2,103.3 281.5,102.9 282.9,102.5 284.2,102.1 285.6,101.7 287.0,101.3 288.3,100.9 289.7,100.5 291.1,100.0 292.4,99.6 293.8,99.2 295.2,98.8 296.5,98.4 297.9,98.0 299.3,97.6 300.6,97.3 302.0,96.9 303.4,96.5 304.7,96.1 306.1,95.7 307.5,95.3 308.8,94.9 310.2,94.5 311.5,94.2 312.9,93.8 314.3,93.4 315.6,93.0 317.0,92.6 318.4,92.3 319.7,91.9 321.1,91.5 322.5,91.1 323.8,90.8 325.2,90.4 326.6,90.0 327.9,89.7 329.3,89.3 330.7,89.0 332.0,88.6 333.4,88.2 334.8,87.9 336.1,87.5 337.5,87.2 338.8,86.8 340.2,86.5 341.6,86.1 342.9,85.8 344.3,85.4 345.7,85.1 347.0,84.7 348.4,84.4 349.8,84.0 351.1,83.7 352.5,83.4" stroke="#ff1c0c" stroke-width="0.8"/>
<path d="M71.0,154.4 71.2,154.4 71.6,154.4 72.0,154.4 72.3,154.4 72.7,154.4 73.1,154.4 73.5,154.4 73.9,154.4 74.3,154.4 74.6,154.4 75.0,154.4 75.4,154.4 75.8,154.4 76.2,154.4 76.6,154.4 76.9,154.4 77.3,154.4 77.7,154.4 78.1,154.3 78.5,154.3 78.9,154.3 79.2,154.3 79.6,154.3 80.0,154.3 80.4,154.3 80.9,154.2 82.2,154.2 83.6,154.1 84.9,154.0 86.3,154.0 87.7,153.9 89.0,153.8 90.4,153.7 91.8,153.6 93.1,153.4 94.5,153.3 95.9,153.2 97.2,153.0 98.6,152.9 100.0,152.7 101.3,152.6 102.7,152.4 104.1,152.2 105.4,152.1 106.8,151.9 108.2,151.7 109.5,151.5 110.9,151.3 112.2,151.0 113.6,150.8 115.0,150.6 116.3,150.4 117.7,150.1 119.1,149.9 120.4,149.6 121.8,149.4 123.2,149.1 124.5,148.8 125.9,148.5 127.3,148.3 128.6,148.0 130.0,147.7 131.4,147.4 132.7,147.1 134.1,146.8 135.5,146.5 136.8,146.2 138.2,145.8 139.6,145.5 140.9,145.2 142.3,144.8 143.6,144.5 145.0,144.1 146.4,143.8 147.7,143.4 149.1,143.1 150.5,142.7 151.8,142.4 153.2,142.0 154.6,141.6 155.9,141.2 157.3,140.9 158.7,140.5 160.0,140.1 161.4,139.7 162.8,139.3 164.1,138.9 165.5,138.5 166.9,138.1 168.2,137.7 169.6,137.3 170.9,136.9 172.3,136.5 173.7,136.1 175.0,135.7 176.4,135.2 177.8,134.8 179.1,134.4 180.5,134.0 181.9,133.6 183.2,133.1 184.6,132.7 186.0,132.3 187.3,131.8 188.7,131.4 190.1,131.0 191.4,130.5 192.8,130.1 194.2,129.7 195.5,129.2 196.9,128.8 198.2,128.3 199.6,127.9 201.0,127.5 202.3,127.0 203.7,126.6 205.1,126.1 206.4,125.7 207.8,125.2 209.2,124.8 210.5,124.3 211.9,123.9 213.3,123.5 214.6,123.0 216.0,122.6 217.4,122.1 218.7,121.7 220.1,121.2 221.5,120.8 222.8,120.3 224.2,119.9 225.5,119.4 226.9,119.0 228.3,118.5 229.6,118.1 231.0,117.7 232.4,117.2 233.7,116.8 235.1,116.3 236.5,115.9 237.8,115.4 239.2,115.0 240.6,114.6 241.9,114.1 243.3,113.7 244.7,113.2 246.0,112.8 247.4,112.4 248.8,111.9 250.1,111.5 251.5,111.1 252.9,110.6 254.2,110.2 255.6,109.8 256.9,109.3 258.3,108.9 259.7,108.5 261.0,108.0 262.4,107.6 263.8,107.2 265.1,106.8 266.5,106.4 267.9,105.9 269.2,105.5 270.6,105.1 272.0,104.7 273.3,104.3 274.7,103.8 276.1,103.4 277.4,103.0 278.8,102.6 280.2,102.2 281.5,101.8 282.9,101.4 284.2,101.0 285.6,100.6 287.0,100.2 288.3,99.8 289.7,99.4 291.1,99.0 292.4,98.6 293.8,98.2 295.2,97.8 296.5,97.4 297.9,97.0 299.3,96.6 300.6,96.2 302.0,95.8 303.4,95.4 304.7,95.0 306.1,94.6 307.5,94.3 308.8,93.9 310.2,93.5 311.5,93.1 312.9,92.7 314.3,92.4 315.6,92.0 317.0,91.6 318.4,91.2 319.7,90.9 321.1,90.5 322.5,90.1 323.8,89.8 325.2,89.4 326.6,89.0 327.9,88.7 329.3,88.3 330.7,88.0 332.0,87.6 333.4,87.2 334.8,86.9 336.1,86.5 337.5,86.2 338.8,85.8 340.2,85.5 341.6,85.1 342.9,84.8 344.3,84.5 345.7,84.1 347.0,83.8 348.4,83.4 349.8,83.1 351.1,82.7 352.5,82.4" stroke="#ff0e06" stroke-width="0.8"/>
<path d="M71.0,151.9 71.2,151.9 71.6,151.9 72.0,151.9 72.3,151.9 72.7,151.9 73.1,151.9 73.5,151.9 73.9,151.9 74.3,151.9 74.6,151.9 75.0,151.9 75.4,151.9 75.8,151.8 76.2,151.8 76.6,151.8 76.9,151.8 77.3,151.8 77.7,151.8 78.1,151.8 78.5,151.8 78.9,151.8 79.2,151.8 79.6,151.7 80.0,151.7 80.4,151.7 80.9,151.7 82.2,151.6 83.6,151.6 84.9,151.5 86.3,151.4 87.7,151.3 89.0,151.3 90.4,151.2 91.8,151.1 93.1,150.9 94.5,150.8 95.9,150.7 97.2,150.6 98.6,150.4 100.0,150.3 101.3,150.1 102.7,150.0 104.1,149.8 105.4,149.6 106.8,149.4 108.2,149.3 109.5,149.1 110.9,148.9 112.2,148.7 113.6,148.4 115.0,148.2 116.3,148.0 117.7,147.8 119.1,147.5 120.4,147.3 121.8,147.1 123.2,146.8 124.5,146.5 125.9,146.3 127.3,146.0 128.6,145.7 130.0,145.5 131.4,145.2 132.7,144.9 134.1,144.6 135.5,144.3 136.8,144.0 138.2,143.7 139.6,143.4 140.9,143.1 142.3,142.7 143.6,142.4 145.0,142.1 146.4,141.8 147.7,141.4 149.1,141.1 150.5,140.7 151.8,140.4 153.2,140.0 154.6,139.7 155.9,139.3 157.3,138.9 158.7,138.6 160.0,138.2 161.4,137.8 162.8,137.5 164.1,137.1 165.5,136.7 166.9,136.3 168.2,135.9 169.6,135.5 170.9,135.1 172.3,134.7 173.7,134.3 175.0,133.9 176.4,133.5 177.8,133.1 179.1,132.7 180.5,132.3 181.9,131.9 183.2,131.5 184.6,131.1 186.0,130.7 187.3,130.3 188.7,129.8 190.1,129.4 191.4,129.0 192.8,128.6 194.2,128.2 195.5,127.7 196.9,127.3 198.2,126.9 199.6,126.5 201.0,126.0 202.3,125.6 203.7,125.2 205.1,124.7 206.4,124.3 207.8,123.9 209.2,123.4 210.5,123.0 211.9,122.6 213.3,122.1 214.6,121.7 216.0,121.3 217.4,120.8 218.7,120.4 220.1,120.0 221.5,119.5 222.8,119.1 224.2,118.7 225.5,118.2 226.9,117.8 228.3,117.4 229.6,116.9 231.0,116.5 232.4,116.1 233.7,115.6 235.1,115.2 236.5,114.8 237.8,114.4 239.2,113.9 240.6,113.5 241.9,113.1 243.3,112.6 244.7,112.2 246.0,111.8 247.4,111.3 248.8,110.9 250.1,110.5 251.5,110.1 252.9,109.6 254.2,109.2 255.6,108.8 256.9,108.4 258.3,108.0 259.7,107.5 261.0,107.1 262.4,106.7 263.8,106.3 265.1,105.9 266.5,105.5 267.9,105.0 269.2,104.6 270.6,104.2 272.0,103.8 273.3,103.4 274.7,103.0 276.1,102.6 277.4,102.2 278.8,101.8 280.2,101.4 281.5,101.0 282.9,100.6 284.2,100.2 285.6,99.8 287.0,99.4 288.3,99.0 289.7,98.6 291.1,98.2 292.4,97.8 293.8,97.4 295.2,97.0 296.5,96.6 297.9,96.2 299.3,95.8 300.6,95.5 302.0,95.1 303.4,94.7 304.7,94.3 306.1,93.9 307.5,93.5 308.8,93.2 310.2,92.8 311.5,92.4 312.9,92.0 314.3,91.7 315.6,91.3 317.0,90.9 318.4,90.6 319.7,90.2 321.1,89.8 322.5,89.5 323.8,89.1 325.2,88.7 326.6,88.4 327.9,88.0 329.3,87.7 330.7,87.3 332.0,87.0 333.4,86.6 334.8,86.3 336.1,85.9 337.5,85.6 338.8,85.2 340.2,84.9 341.6,84.5 342.9,84.2 344.3,83.8 345.7,83.5 347.0,83.2 348.4,82.8 349.8,82.5 351.1,82.2 352.5,81.8" stroke="#ff0000" stroke-width="2.3"/>
<path d="M71.0,149.4 71.2,149.4 71.6,149.4 72.0,149.4 72.3,149.4 72.7,149.4 73.1,149.4 73.5,149.4 73.9,149.4 74.3,149.4 74.6,149.4 75.0,149.4 75.4,149.4 75.8,149.4 76.2,149.4 76.6,149.3 76.9,149.3 77.3,149.3 77.7,149.3 78.1,149.3 78.5,149.3 78.9,149.3 79.2,149.3 79.6,149.3 80.0,149.3 80.4,149.2 80.9,149.2 82.2,149.2 83.6,149.1 84.9,149.0 86.3,149.0 87.7,148.9 89.0,148.8 90.4,148.7 91.8,148.6 93.1,148.5 94.5,148.4 95.9,148.3 97.2,148.1 98.6,148.0 100.0,147.9 101.3,147.7 102.7,147.6 104.1,147.4 105.4,147.3 106.8,147.1 108.2,146.9 109.5,146.7 110.9,146.5 112.2,146.3 113.6,146.1 115.0,145.9 116.3,145.7 117.7,145.5 119.1,145.3 120.4,145.1 121.8,144.8 123.2,144.6 124.5,144.3 125.9,144.1 127.3,143.8 128.6,143.6 130.0,143.3 131.4,143.0 132.7,142.8 134.1,142.5 135.5,142.2 136.8,141.9 138.2,141.6 139.6,141.3 140.9,141.0 142.3,140.7 143.6,140.4 145.0,140.1 146.4,139.8 147.7,139.4 149.1,139.1 150.5,138.8 151.8,138.4 153.2,138.1 154.6,137.8 155.9,137.4 157.3,137.1 158.7,136.7 160.0,136.4 161.4,136.0 162.8,135.6 164.1,135.3 165.5,134.9 166.9,134.5 168.2,134.2 169.6,133.8 170.9,133.4 172.3,133.0 173.7,132.7 175.0,132.3 176.4,131.9 177.8,131.5 179.1,131.1 180.5,130.7 181.9,130.3 183.2,129.9 184.6,129.5 186.0,129.1 187.3,128.7 188.7,128.3 190.1,127.9 191.4,127.5 192.8,127.1 194.2,126.7 195.5,126.3 196.9,125.9 198.2,125.5 199.6,125.1 201.0,124.6 202.3,124.2 203.7,123.8 205.1,123.4 206.4,123.0 207.8,122.6 209.2,122.1 210.5,121.7 211.9,121.3 213.3,120.9 214.6,120.5 216.0,120.0 217.4,119.6 218.7,119.2 220.1,118.8 221.5,118.4 222.8,117.9 224.2,117.5 225.5,117.1 226.9,116.7 228.3,116.2 229.6,115.8 231.0,115.4 232.4,115.0 233.7,114.6 235.1,114.1 236.5,113.7 237.8,113.3 239.2,112.9 240.6,112.5 241.9,112.0 243.3,111.6 244.7,111.2 246.0,110.8 247.4,110.4 248.8,110.0 250.1,109.5 251.5,109.1 252.9,108.7 254.2,108.3 255.6,107.9 256.9,107.5 258.3,107.1 259.7,106.6 261.0,106.2 262.4,105.8 263.8,105.4 265.1,105.0 266.5,104.6 267.9,104.2 269.2,103.8 270.6,103.4 272.0,103.0 273.3,102.6 274.7,102.2 276.1,101.8 277.4,101.4 278.8,101.0 280.2,100.6 281.5,100.2 282.9,99.8 284.2,99.4 285.6,99.0 287.0,98.6 288.3,98.2 289.7,97.8 291.1,97.5 292.4,97.1 293.8,96.7 295.2,96.3 296.5,95.9 297.9,95.5 299.3,95.1 300.6,94.8 302.0,94.4 303.4,94.0 304.7,93.6 306.1,93.3 307.5,92.9 308.8,92.5 310.2,92.1 311.5,91.8 312.9,91.4 314.3,91.0 315.6,90.7 317.0,90.3 318.4,89.9 319.7,89.6 321.1,89.2 322.5,88.9 323.8,88.5 325.2,88.1 326.6,87.8 327.9,87.4 329.3,87.1 330.7,86.7 332.0,86.4 333.4,86.0 334.8,85.7 336.1,85.3 337.5,85.0 338.8,84.6 340.2,84.3 341.6,84.0 342.9,83.6 344.3,83.3 345.7,82.9 347.0,82.6 348.4,82.3 349.8,81.9 351.1,81.6 352.5,81.3" stroke="#fa0000" stroke-width="0.8"/>
<path d="M71.0,146.8 71.2,146.8 71.6,146.8 72.0,146.8 72.3,146.8 72.7,146.8 73.1,146.8 73.5,146.8 73.9,146.8 74.3,146.8 74.6,146.8 75.0,146.8 75.4,146.7 75.8,146.7 76.2,146.7 76.6,146.7 76.9,146.7 77.3,146.7 77.7,146.7 78.1,146.7 78.5,146.7 78.9,146.7 79.2,146.7 79.6,146.7 80.0,146.6 80.4,146.6 80.9,146.6 82.2,146.6 83.6,146.5 84.9,146.4 86.3,146.4 87.7,146.3 89.0,146.2 90.4,146.1 91.8,146.0 93.1,145.9 94.5,145.8 95.9,145.7 97.2,145.6 98.6,145.5 100.0,145.3 101.3,145.2 102.7,145.0 104.1,144.9 105.4,144.7 106.8,144.6 108.2,144.4 109.5,144.2 110.9,144.1 112.2,143.9 113.6,143.7 115.0,143.5 116.3,143.3 117.7,143.1 119.1,142.9 120.4,142.6 121.8,142.4 123.2,142.2 124.5,142.0 125.9,141.7 127.3,141.5 128.6,141.2 130.0,141.0 131.4,140.7 132.7,140.5 134.1,140.2 135.5,139.9 136.8,139.6 138.2,139.4 139.6,139.1 140.9,138.8 142.3,138.5 143.6,138.2 145.0,137.9 146.4,137.6 147.7,137.3 149.1,137.0 150.5,136.6 151.8,136.3 153.2,136.0 154.6,135.7 155.9,135.3 157.3,135.0 158.7,134.7 160.0,134.3 161.4,134.0 162.8,133.6 164.1,133.3 165.5,132.9 166.9,132.6 168.2,132.2 169.6,131.9 170.9,131.5 172.3,131.1 173.7,130.8 175.0,130.4 176.4,130.0 177.8,129.7 179.1,129.3 180.5,128.9 181.9,128.5 183.2,128.1 184.6,127.8 186.0,127.4 187.3,127.0 188.7,126.6 190.1,126.2 191.4,125.8 192.8,125.4 194.2,125.0 195.5,124.6 196.9,124.2 198.2,123.8 199.6,123.4 201.0,123.0 202.3,122.6 203.7,122.2 205.1,121.8 206.4,121.4 207.8,121.0 209.2,120.6 210.5,120.2 211.9,119.8 213.3,119.4 214.6,119.0 216.0,118.6 217.4,118.2 218.7,117.8 220.1,117.4 221.5,116.9 222.8,116.5 224.2,116.1 225.5,115.7 226.9,115.3 228.3,114.9 229.6,114.5 231.0,114.1 232.4,113.7 233.7,113.2 235.1,112.8 236.5,112.4 237.8,112.0 239.2,111.6 240.6,111.2 241.9,110.8 243.3,110.4 244.7,110.0 246.0,109.6 247.4,109.2 248.8,108.7 250.1,108.3 251.5,107.9 252.9,107.5 254.2,107.1 255.6,106.7 256.9,106.3 258.3,105.9 259.7,105.5 261.0,105.1 262.4,104.7 263.8,104.3 265.1,103.9 266.5,103.5 267.9,103.1 269.2,102.7 270.6,102.3 272.0,101.9 273.3,101.5 274.7,101.1 276.1,100.7 277.4,100.3 278.8,100.0 280.2,99.6 281.5,99.2 282.9,98.8 284.2,98.4 285.6,98.0 287.0,97.6 288.3,97.2 289.7,96.9 291.1,96.5 292.4,96.1 293.8,95.7 295.2,95.3 296.5,95.0 297.9,94.6 299.3,94.2 300.6,93.8 302.0,93.5 303.4,93.1 304.7,92.7 306.1,92.3 307.5,92.0 308.8,91.6 310.2,91.2 311.5,90.9 312.9,90.5 314.3,90.2 315.6,89.8 317.0,89.4 318.4,89.1 319.7,88.7 321.1,88.4 322.5,88.0 323.8,87.6 325.2,87.3 326.6,86.9 327.9,86.6 329.3,86.2 330.7,85.9 332.0,85.5 333.4,85.2 334.8,84.9 336.1,84.5 337.5,84.2 338.8,83.8 340.2,83.5 341.6,83.1 342.9,82.8 344.3,82.5 345.7,82.1 347.0,81.8 348.4,81.5 349.8,81.1 351.1,80.8 352.5,80.5" stroke="#f50000" stroke-width="0.8"/>
<path d="M71.0,144.1 71.2,144.1 71.6,144.1 72.0,144.1 72.3,144.1 72.7,144.1 73.1,144.1 73.5,144.1 73.9,144.1 74.3,144.0 74.6,144.0 75.0,144.0 75.4,144.0 75.8,144.0 76.2,144.0 76.6,144.0 76.9,144.0 77.3,144.0 77.7,144.0 78.1,144.0 78.5,144.0 78.9,144.0 79.2,144.0 79.6,143.9 80.0,143.9 80.4,143.9 80.9,143.9 82.2,143.9 83.6,143.8 84.9,143.7 86.3,143.7 87.7,143.6 89.0,143.5 90.4,143.4 91.8,143.3 93.1,143.3 94.5,143.1 95.9,143.0 97.2,142.9 98.6,142.8 100.0,142.7 101.3,142.5 102.7,142.4 104.1,142.3 105.4,142.1 106.8,142.0 108.2,141.8 109.5,141.6 110.9,141.5 112.2,141.3 113.6,141.1 115.0,140.9 116.3,140.7 117.7,140.5 119.1,140.3 120.4,140.1 121.8,139.9 123.2,139.7 124.5,139.5 125.9,139.2 127.3,139.0 128.6,138.8 130.0,138.5 131.4,138.3 132.7,138.0 134.1,137.8 135.5,137.5 136.8,137.3 138.2,137.0 139.6,136.7 140.9,136.4 142.3,136.2 143.6,135.9 145.0,135.6 146.4,135.3 147.7,135.0 149.1,134.7 150.5,134.4 151.8,134.1 153.2,133.8 154.6,133.5 155.9,133.1 157.3,132.8 158.7,132.5 160.0,132.2 161.4,131.8 162.8,131.5 164.1,131.2 165.5,130.8 166.9,130.5 168.2,130.2 169.6,129.8 170.9,129.5 172.3,129.1 173.7,128.8 175.0,128.4 176.4,128.0 177.8,127.7 179.1,127.3 180.5,127.0 181.9,126.6 183.2,126.2 184.6,125.8 186.0,125.5 187.3,125.1 188.7,124.7 190.1,124.3 191.4,124.0 192.8,123.6 194.2,123.2 195.5,122.8 196.9,122.4 198.2,122.1 199.6,121.7 201.0,121.3 202.3,120.9 203.7,120.5 205.1,120.1 206.4,119.7 207.8,119.3 209.2,118.9 210.5,118.5 211.9,118.1 213.3,117.7 214.6,117.4 216.0,117.0 217.4,116.6 218.7,116.2 220.1,115.8 221.5,115.4 222.8,115.0 224.2,114.6 225.5,114.2 226.9,113.8 228.3,113.4 229.6,113.0 231.0,112.6 232.4,112.2 233.7,111.8 235.1,111.4 236.5,111.0 237.8,110.6 239.2,110.2 240.6,109.8 241.9,109.4 243.3,109.0 244.7,108.6 246.0,108.2 247.4,107.8 248.8,107.4 250.1,107.0 251.5,106.6 252.9,106.2 254.2,105.8 255.6,105.4 256.9,105.0 258.3,104.6 259.7,104.2 261.0,103.8 262.4,103.4 263.8,103.0 265.1,102.6 266.5,102.2 267.9,101.8 269.2,101.5 270.6,101.1 272.0,100.7 273.3,100.3 274.7,99.9 276.1,99.5 277.4,99.1 278.8,98.7 280.2,98.4 281.5,98.0 282.9,97.6 284.2,97.2 285.6,96.8 287.0,96.5 288.3,96.1 289.7,95.7 291.1,95.3 292.4,94.9 293.8,94.6 295.2,94.2 296.5,93.8 297.9,93.5 299.3,93.1 300.6,92.7 302.0,92.3 303.4,92.0 304.7,91.6 306.1,91.2 307.5,90.9 308.8,90.5 310.2,90.2 311.5,89.8 312.9,89.4 314.3,89.1 315.6,88.7 317.0,88.4 318.4,88.0 319.7,87.6 321.1,87.3 322.5,86.9 323.8,86.6 325.2,86.2 326.6,85.9 327.9,85.5 329.3,85.2 330.7,84.9 332.0,84.5 333.4,84.2 334.8,83.8 336.1,83.5 337.5,83.1 338.8,82.8 340.2,82.5 341.6,82.1 342.9,81.8 344.3,81.5 345.7,81.1 347.0,80.8 348.4,80.5 349.8,80.1 351.1,79.8 352.5,79.5" stroke="#f00000" stroke-width="0.8"/>
<path d="M71.0,141.3 71.2,141.3 71.6,141.3 72.0,141.3 72.3,141.3 72.7,141.3 73.1,141.3 73.5,141.3 73.9,141.3 74.3,141.3 74.6,141.3 75.0,141.3 75.4,141.3 75.8,141.3 76.2,141.3 76.6,141.3 76.9,141.2 77.3,141.2 77.7,141.2 78.1,141.2 78.5,141.2 78.9,141.2 79.2,141.2 79.6,141.2 80.0,141.2 80.4,141.2 80.9,141.2 82.2,141.1 83.6,141.1 84.9,141.0 86.3,140.9 87.7,140.9 89.0,140.8 90.4,140.7 91.8,140.6 93.1,140.5 94.5,140.4 95.9,140.3 97.2,140.2 98.6,140.1 100.0,140.0 101.3,139.9 102.7,139.7 104.1,139.6 105.4,139.5 106.8,139.3 108.2,139.2 109.5,139.0 110.9,138.8 112.2,138.7 113.6,138.5 115.0,138.3 116.3,138.1 117.7,137.9 119.1,137.7 120.4,137.5 121.8,137.3 123.2,137.1 124.5,136.9 125.9,136.7 127.3,136.5 128.6,136.3 130.0,136.0 131.4,135.8 132.7,135.5 134.1,135.3 135.5,135.1 136.8,134.8 138.2,134.5 139.6,134.3 140.9,134.0 142.3,133.8 143.6,133.5 145.0,133.2 146.4,132.9 147.7,132.6 149.1,132.4 150.5,132.1 151.8,131.8 153.2,131.5 154.6,131.2 155.9,130.9 157.3,130.6 158.7,130.2 160.0,129.9 161.4,129.6 162.8,129.3 164.1,129.0 165.5,128.6 166.9,128.3 168.2,128.0 169.6,127.7 170.9,127.3 172.3,127.0 173.7,126.6 175.0,126.3 176.4,126.0 177.8,125.6 179.1,125.3 180.5,124.9 181.9,124.6 183.2,124.2 184.6,123.8 186.0,123.5 187.3,123.1 188.7,122.8 190.1,122.4 191.4,122.0 192.8,121.7 194.2,121.3 195.5,120.9 196.9,120.5 198.2,120.2 199.6,119.8 201.0,119.4 202.3,119.0 203.7,118.7 205.1,118.3 206.4,117.9 207.8,117.5 209.2,117.1 210.5,116.8 211.9,116.4 213.3,116.0 214.6,115.6 216.0,115.2 217.4,114.8 218.7,114.5 220.1,114.1 221.5,113.7 222.8,113.3 224.2,112.9 225.5,112.5 226.9,112.1 228.3,111.7 229.6,111.3 231.0,111.0 232.4,110.6 233.7,110.2 235.1,109.8 236.5,109.4 237.8,109.0 239.2,108.6 240.6,108.2 241.9,107.8 243.3,107.4 244.7,107.0 246.0,106.7 247.4,106.3 248.8,105.9 250.1,105.5 251.5,105.1 252.9,104.7 254.2,104.3 255.6,103.9 256.9,103.5 258.3,103.2 259.7,102.8 261.0,102.4 262.4,102.0 263.8,101.6 265.1,101.2 266.5,100.8 267.9,100.5 269.2,100.1 270.6,99.7 272.0,99.3 273.3,98.9 274.7,98.5 276.1,98.2 277.4,97.8 278.8,97.4 280.2,97.0 281.5,96.7 282.9,96.3 284.2,95.9 285.6,95.5 287.0,95.2 288.3,94.8 289.7,94.4 291.1,94.0 292.4,93.7 293.8,93.3 295.2,92.9 296.5,92.6 297.9,92.2 299.3,91.8 300.6,91.5 302.0,91.1 303.4,90.7 304.7,90.4 306.1,90.0 307.5,89.7 308.8,89.3 310.2,88.9 311.5,88.6 312.9,88.2 314.3,87.9 315.6,87.5 317.0,87.2 318.4,86.8 319.7,86.5 321.1,86.1 322.5,85.8 323.8,85.4 325.2,85.1 326.6,84.7 327.9,84.4 329.3,84.0 330.7,83.7 332.0,83.3 333.4,83.0 334.8,82.7 336.1,82.3 337.5,82.0 338.8,81.7 340.2,81.3 341.6,81.0 342.9,80.7 344.3,80.3 345.7,80.0 347.0,79.7 348.4,79.3 349.8,79.0 351.1,78.7 352.5,78.4" stroke="#eb0000" stroke-width="0.8"/>
<path d="M71.0,138.6 71.2,138.6 71.6,138.6 72.0,138.6 72.3,138.6 72.7,138.6 73.1,138.6 73.5,138.6 73.9,138.5 74.3,138.5 74.6,138.5 75.0,138.5 75.4,138.5 75.8,138.5 76.2,138.5 76.6,138.5 76.9,138.5 77.3,138.5 77.7,138.5 78.1,138.5 78.5,138.5 78.9,138.5 79.2,138.5 79.6,138.4 80.0,138.4 80.4,138.4 80.9,138.4 82.2,138.4 83.6,138.3 84.9,138.3 86.3,138.2 87.7,138.1 89.0,138.1 90.4,138.0 91.8,137.9 93.1,137.8 94.5,137.7 95.9,137.6 97.2,137.5 98.6,137.4 100.0,137.3 101.3,137.2 102.7,137.1 104.1,136.9 105.4,136.8 106.8,136.7 108.2,136.5 109.5,136.4 110.9,136.2 112.2,136.0 113.6,135.9 115.0,135.7 116.3,135.5 117.7,135.3 119.1,135.2 120.4,135.0 121.8,134.8 123.2,134.6 124.5,134.4 125.9,134.2 127.3,134.0 128.6,133.7 130.0,133.5 131.4,133.3 132.7,133.1 134.1,132.8 135.5,132.6 136.8,132.3 138.2,132.1 139.6,131.9 140.9,131.6 142.3,131.3 143.6,131.1 145.0,130.8 146.4,130.5 147.7,130.3 149.1,130.0 150.5,129.7 151.8,129.4 153.2,129.1 154.6,128.9 155.9,128.6 157.3,128.3 158.7,128.0 160.0,127.7 161.4,127.4 162.8,127.1 164.1,126.8 165.5,126.4 166.9,126.1 168.2,125.8 169.6,125.5 170.9,125.2 172.3,124.8 173.7,124.5 175.0,124.2 176.4,123.8 177.8,123.5 179.1,123.2 180.5,122.8 181.9,122.5 183.2,122.1 184.6,121.8 186.0,121.5 187.3,121.1 188.7,120.8 190.1,120.4 191.4,120.0 192.8,119.7 194.2,119.3 195.5,119.0 196.9,118.6 198.2,118.3 199.6,117.9 201.0,117.5 202.3,117.2 203.7,116.8 205.1,116.4 206.4,116.1 207.8,115.7 209.2,115.3 210.5,114.9 211.9,114.6 213.3,114.2 214.6,113.8 216.0,113.5 217.4,113.1 218.7,112.7 220.1,112.3 221.5,111.9 222.8,111.6 224.2,111.2 225.5,110.8 226.9,110.4 228.3,110.0 229.6,109.7 231.0,109.3 232.4,108.9 233.7,108.5 235.1,108.1 236.5,107.8 237.8,107.4 239.2,107.0 240.6,106.6 241.9,106.2 243.3,105.9 244.7,105.5 246.0,105.1 247.4,104.7 248.8,104.3 250.1,103.9 251.5,103.6 252.9,103.2 254.2,102.8 255.6,102.4 256.9,102.0 258.3,101.7 259.7,101.3 261.0,100.9 262.4,100.5 263.8,100.2 265.1,99.8 266.5,99.4 267.9,99.0 269.2,98.6 270.6,98.3 272.0,97.9 273.3,97.5 274.7,97.1 276.1,96.8 277.4,96.4 278.8,96.0 280.2,95.6 281.5,95.3 282.9,94.9 284.2,94.5 285.6,94.2 287.0,93.8 288.3,93.4 289.7,93.1 291.1,92.7 292.4,92.3 293.8,92.0 295.2,91.6 296.5,91.2 297.9,90.9 299.3,90.5 300.6,90.2 302.0,89.8 303.4,89.4 304.7,89.1 306.1,88.7 307.5,88.4 308.8,88.0 310.2,87.7 311.5,87.3 312.9,86.9 314.3,86.6 315.6,86.2 317.0,85.9 318.4,85.5 319.7,85.2 321.1,84.9 322.5,84.5 323.8,84.2 325.2,83.8 326.6,83.5 327.9,83.1 329.3,82.8 330.7,82.5 332.0,82.1 333.4,81.8 334.8,81.4 336.1,81.1 337.5,80.8 338.8,80.4 340.2,80.1 341.6,79.8 342.9,79.4 344.3,79.1 345.7,78.8 347.0,78.5 348.4,78.1 349.8,77.8 351.1,77.5 352.5,77.2" stroke="#de0000" stroke-width="0.8"/>
<path d="M71.0,135.9 71.2,135.9 71.6,135.9 72.0,135.9 72.3,135.9 72.7,135.9 73.1,135.9 73.5,135.9 73.9,135.9 74.3,135.9 74.6,135.9 75.0,135.9 75.4,135.9 75.8,135.9 76.2,135.9 76.6,135.8 76.9,135.8 77.3,135.8 77.7,135.8 78.1,135.8 78.5,135.8 78.9,135.8 79.2,135.8 79.6,135.8 80.0,135.8 80.4,135.8 80.9,135.8 82.2,135.7 83.6,135.7 84.9,135.6 86.3,135.6 87.7,135.5 89.0,135.4 90.4,135.4 91.8,135.3 93.1,135.2 94.5,135.1 95.9,135.0 97.2,134.9 98.6,134.8 100.0,134.7 101.3,134.6 102.7,134.5 104.1,134.3 105.4,134.2 106.8,134.1 108.2,133.9 109.5,133.8 110.9,133.6 112.2,133.5 113.6,133.3 115.0,133.2 116.3,133.0 117.7,132.8 119.1,132.6 120.4,132.5 121.8,132.3 123.2,132.1 124.5,131.9 125.9,131.7 127.3,131.5 128.6,131.3 130.0,131.1 131.4,130.9 132.7,130.6 134.1,130.4 135.5,130.2 136.8,130.0 138.2,129.7 139.6,129.5 140.9,129.2 142.3,129.0 143.6,128.7 145.0,128.5 146.4,128.2 147.7,128.0 149.1,127.7 150.5,127.4 151.8,127.2 153.2,126.9 154.6,126.6 155.9,126.3 157.3,126.0 158.7,125.8 160.0,125.5 161.4,125.2 162.8,124.9 164.1,124.6 165.5,124.3 166.9,124.0 168.2,123.7 169.6,123.4 170.9,123.0 172.3,122.7 173.7,122.4 175.0,122.1 176.4,121.8 177.8,121.4 179.1,121.1 180.5,120.8 181.9,120.5 183.2,120.1 184.6,119.8 186.0,119.5 187.3,119.1 188.7,118.8 190.1,118.4 191.4,118.1 192.8,117.8 194.2,117.4 195.5,117.1 196.9,116.7 198.2,116.4 199.6,116.0 201.0,115.7 202.3,115.3 203.7,115.0 205.1,114.6 206.4,114.2 207.8,113.9 209.2,113.5 210.5,113.2 211.9,112.8 213.3,112.4 214.6,112.1 216.0,111.7 217.4,111.3 218.7,111.0 220.1,110.6 221.5,110.2 222.8,109.9 224.2,109.5 225.5,109.1 226.9,108.8 228.3,108.4 229.6,108.0 231.0,107.7 232.4,107.3 233.7,106.9 235.1,106.5 236.5,106.2 237.8,105.8 239.2,105.4 240.6,105.0 241.9,104.7 243.3,104.3 244.7,103.9 246.0,103.6 247.4,103.2 248.8,102.8 250.1,102.4 251.5,102.1 252.9,101.7 254.2,101.3 255.6,100.9 256.9,100.6 258.3,100.2 259.7,99.8 261.0,99.5 262.4,99.1 263.8,98.7 265.1,98.3 266.5,98.0 267.9,97.6 269.2,97.2 270.6,96.9 272.0,96.5 273.3,96.1 274.7,95.7 276.1,95.4 277.4,95.0 278.8,94.6 280.2,94.3 281.5,93.9 282.9,93.6 284.2,93.2 285.6,92.8 287.0,92.5 288.3,92.1 289.7,91.7 291.1,91.4 292.4,91.0 293.8,90.7 295.2,90.3 296.5,89.9 297.9,89.6 299.3,89.2 300.6,88.9 302.0,88.5 303.4,88.2 304.7,87.8 306.1,87.4 307.5,87.1 308.8,86.7 310.2,86.4 311.5,86.0 312.9,85.7 314.3,85.3 315.6,85.0 317.0,84.6 318.4,84.3 319.7,84.0 321.1,83.6 322.5,83.3 323.8,82.9 325.2,82.6 326.6,82.2 327.9,81.9 329.3,81.6 330.7,81.2 332.0,80.9 333.4,80.6 334.8,80.2 336.1,79.9 337.5,79.6 338.8,79.2 340.2,78.9 341.6,78.6 342.9,78.2 344.3,77.9 345.7,77.6 347.0,77.3 348.4,76.9 349.8,76.6 351.1,76.3 352.5,76.0" stroke="#d00000" stroke-width="0.8"/>
<path d="M71.0,133.4 71.2,133.4 71.6,133.4 72.0,133.4 72.3,133.4 72.7,133.4 73.1,133.4 73.5,133.4 73.9,133.4 74.3,133.4 74.6,133.4 75.0,133.4 75.4,133.4 75.8,133.3 76.2,133.3 76.6,133.3 76.9,133.3 77.3,133.3 77.7,133.3 78.1,133.3 78.5,133.3 78.9,133.3 79.2,133.3 79.6,133.3 80.0,133.3 80.4,133.3 80.9,133.2 82.2,133.2 83.6,133.2 84.9,133.1 86.3,133.1 87.7,133.0 89.0,132.9 90.4,132.9 91.8,132.8 93.1,132.7 94.5,132.6 95.9,132.5 97.2,132.4 98.6,132.3 100.0,132.2 101.3,132.1 102.7,132.0 104.1,131.9 105.4,131.8 106.8,131.6 108.2,131.5 109.5,131.4 110.9,131.2 112.2,131.1 113.6,130.9 115.0,130.8 116.3,130.6 117.7,130.4 119.1,130.3 120.4,130.1 121.8,129.9 123.2,129.7 124.5,129.6 125.9,129.4 127.3,129.2 128.6,129.0 130.0,128.8 131.4,128.6 132.7,128.4 134.1,128.1 135.5,127.9 136.8,127.7 138.2,127.5 139.6,127.2 140.9,127.0 142.3,126.8 143.6,126.5 145.0,126.3 146.4,126.0 147.7,125.8 149.1,125.5 150.5,125.3 151.8,125.0 153.2,124.8 154.6,124.5 155.9,124.2 157.3,123.9 158.7,123.7 160.0,123.4 161.4,123.1 162.8,122.8 164.1,122.5 165.5,122.2 166.9,121.9 168.2,121.7 169.6,121.4 170.9,121.1 172.3,120.7 173.7,120.4 175.0,120.1 176.4,119.8 177.8,119.5 179.1,119.2 180.5,118.9 181.9,118.6 183.2,118.2 184.6,117.9 186.0,117.6 187.3,117.3 188.7,116.9 190.1,116.6 191.4,116.3 192.8,115.9 194.2,115.6 195.5,115.3 196.9,114.9 198.2,114.6 199.6,114.3 201.0,113.9 202.3,113.6 203.7,113.2 205.1,112.9 206.4,112.5 207.8,112.2 209.2,111.8 210.5,111.5 211.9,111.1 213.3,110.8 214.6,110.4 216.0,110.1 217.4,109.7 218.7,109.4 220.1,109.0 221.5,108.6 222.8,108.3 224.2,107.9 225.5,107.6 226.9,107.2 228.3,106.8 229.6,106.5 231.0,106.1 232.4,105.8 233.7,105.4 235.1,105.0 236.5,104.7 237.8,104.3 239.2,103.9 240.6,103.6 241.9,103.2 243.3,102.8 244.7,102.5 246.0,102.1 247.4,101.8 248.8,101.4 250.1,101.0 251.5,100.7 252.9,100.3 254.2,99.9 255.6,99.6 256.9,99.2 258.3,98.8 259.7,98.5 261.0,98.1 262.4,97.7 263.8,97.4 265.1,97.0 266.5,96.6 267.9,96.3 269.2,95.9 270.6,95.5 272.0,95.2 273.3,94.8 274.7,94.5 276.1,94.1 277.4,93.7 278.8,93.4 280.2,93.0 281.5,92.7 282.9,92.3 284.2,91.9 285.6,91.6 287.0,91.2 288.3,90.9 289.7,90.5 291.1,90.1 292.4,89.8 293.8,89.4 295.2,89.1 296.5,88.7 297.9,88.4 299.3,88.0 300.6,87.7 302.0,87.3 303.4,87.0 304.7,86.6 306.1,86.3 307.5,85.9 308.8,85.6 310.2,85.2 311.5,84.9 312.9,84.5 314.3,84.2 315.6,83.8 317.0,83.5 318.4,83.2 319.7,82.8 321.1,82.5 322.5,82.1 323.8,81.8 325.2,81.5 326.6,81.1 327.9,80.8 329.3,80.4 330.7,80.1 332.0,79.8 333.4,79.4 334.8,79.1 336.1,78.8 337.5,78.4 338.8,78.1 340.2,77.8 341.6,77.5 342.9,77.1 344.3,76.8 345.7,76.5 347.0,76.2 348.4,75.8 349.8,75.5 351.1,75.2 352.5,74.9" stroke="#c30000" stroke-width="0.8"/>
<path d="M71.0,131.1 71.2,131.1 71.6,131.1 72.0,131.1 72.3,131.1 72.7,131.1 73.1,131.1 73.5,131.1 73.9,131.1 74.3,131.1 74.6,131.1 75.0,131.1 75.4,131.1 75.8,131.1 76.2,131.1 76.6,131.1 76.9,131.1 77.3,131.0 77.7,131.0 78.1,131.0 78.5,131.0 78.9,131.0 79.2,131.0 79.6,131.0 80.0,131.0 80.4,131.0 80.9,131.0 82.2,130.9 83.6,130.9 84.9,130.8 86.3,130.8 87.7,130.7 89.0,130.7 90.4,130.6 91.8,130.5 93.1,130.5 94.5,130.4 95.9,130.3 97.2,130.2 98.6,130.1 100.0,130.0 101.3,129.9 102.7,129.8 104.1,129.7 105.4,129.6 106.8,129.4 108.2,129.3 109.5,129.2 110.9,129.0 112.2,128.9 113.6,128.8 115.0,128.6 116.3,128.5 117.7,128.3 119.1,128.1 120.4,128.0 121.8,127.8 123.2,127.6 124.5,127.4 125.9,127.3 127.3,127.1 128.6,126.9 130.0,126.7 131.4,126.5 132.7,126.3 134.1,126.1 135.5,125.9 136.8,125.7 138.2,125.4 139.6,125.2 140.9,125.0 142.3,124.8 143.6,124.5 145.0,124.3 146.4,124.1 147.7,123.8 149.1,123.6 150.5,123.3 151.8,123.1 153.2,122.8 154.6,122.6 155.9,122.3 157.3,122.1 158.7,121.8 160.0,121.5 161.4,121.2 162.8,121.0 164.1,120.7 165.5,120.4 166.9,120.1 168.2,119.9 169.6,119.6 170.9,119.3 172.3,119.0 173.7,118.7 175.0,118.4 176.4,118.1 177.8,117.8 179.1,117.5 180.5,117.2 181.9,116.9 183.2,116.6 184.6,116.2 186.0,115.9 187.3,115.6 188.7,115.3 190.1,115.0 191.4,114.7 192.8,114.3 194.2,114.0 195.5,113.7 196.9,113.4 198.2,113.0 199.6,112.7 201.0,112.4 202.3,112.0 203.7,111.7 205.1,111.4 206.4,111.0 207.8,110.7 209.2,110.4 210.5,110.0 211.9,109.7 213.3,109.3 214.6,109.0 216.0,108.6 217.4,108.3 218.7,107.9 220.1,107.6 221.5,107.2 222.8,106.9 224.2,106.5 225.5,106.2 226.9,105.8 228.3,105.5 229.6,105.1 231.0,104.8 232.4,104.4 233.7,104.1 235.1,103.7 236.5,103.4 237.8,103.0 239.2,102.7 240.6,102.3 241.9,101.9 243.3,101.6 244.7,101.2 246.0,100.9 247.4,100.5 248.8,100.2 250.1,99.8 251.5,99.4 252.9,99.1 254.2,98.7 255.6,98.4 256.9,98.0 258.3,97.7 259.7,97.3 261.0,96.9 262.4,96.6 263.8,96.2 265.1,95.9 266.5,95.5 267.9,95.1 269.2,94.8 270.6,94.4 272.0,94.1 273.3,93.7 274.7,93.4 276.1,93.0 277.4,92.7 278.8,92.3 280.2,91.9 281.5,91.6 282.9,91.2 284.2,90.9 285.6,90.5 287.0,90.2 288.3,89.8 289.7,89.5 291.1,89.1 292.4,88.8 293.8,88.4 295.2,88.1 296.5,87.7 297.9,87.4 299.3,87.0 300.6,86.7 302.0,86.3 303.4,86.0 304.7,85.6 306.1,85.3 307.5,84.9 308.8,84.6 310.2,84.3 311.5,83.9 312.9,83.6 314.3,83.2 315.6,82.9 317.0,82.5 318.4,82.2 319.7,81.9 321.1,81.5 322.5,81.2 323.8,80.9 325.2,80.5 326.6,80.2 327.9,79.9 329.3,79.5 330.7,79.2 332.0,78.9 333.4,78.5 334.8,78.2 336.1,77.9 337.5,77.5 338.8,77.2 340.2,76.9 341.6,76.6 342.9,76.2 344.3,75.9 345.7,75.6 347.0,75.3 348.4,74.9 349.8,74.6 351.1,74.3 352.5,74.0" stroke="#ac0000" stroke-width="0.8"/>
<path d="M71.0,129.2 71.2,129.2 71.6,129.2 72.0,129.2 72.3,129.2 72.7,129.2 73.1,129.2 73.5,129.2 73.9,129.2 74.3,129.1 74.6,129.1 75.0,129.1 75.4,129.1 75.8,129.1 76.2,129.1 76.6,129.1 76.9,129.1 77.3,129.1 77.7,129.1 78.1,129.1 78.5,129.1 78.9,129.1 79.2,129.1 79.6,129.1 80.0,129.1 80.4,129.1 80.9,129.0 82.2,129.0 83.6,129.0 84.9,128.9 86.3,128.9 87.7,128.8 89.0,128.8 90.4,128.7 91.8,128.6 93.1,128.5 94.5,128.5 95.9,128.4 97.2,128.3 98.6,128.2 100.0,128.1 101.3,128.0 102.7,127.9 104.1,127.8 105.4,127.7 106.8,127.6 108.2,127.5 109.5,127.3 110.9,127.2 112.2,127.1 113.6,126.9 115.0,126.8 116.3,126.6 117.7,126.5 119.1,126.3 120.4,126.2 121.8,126.0 123.2,125.8 124.5,125.7 125.9,125.5 127.3,125.3 128.6,125.1 130.0,124.9 131.4,124.8 132.7,124.6 134.1,124.4 135.5,124.2 136.8,124.0 138.2,123.7 139.6,123.5 140.9,123.3 142.3,123.1 143.6,122.9 145.0,122.7 146.4,122.4 147.7,122.2 149.1,122.0 150.5,121.7 151.8,121.5 153.2,121.2 154.6,121.0 155.9,120.7 157.3,120.5 158.7,120.2 160.0,120.0 161.4,119.7 162.8,119.4 164.1,119.2 165.5,118.9 166.9,118.6 168.2,118.4 169.6,118.1 170.9,117.8 172.3,117.5 173.7,117.2 175.0,117.0 176.4,116.7 177.8,116.4 179.1,116.1 180.5,115.8 181.9,115.5 183.2,115.2 184.6,114.9 186.0,114.6 187.3,114.3 188.7,114.0 190.1,113.7 191.4,113.4 192.8,113.0 194.2,112.7 195.5,112.4 196.9,112.1 198.2,111.8 199.6,111.5 201.0,111.1 202.3,110.8 203.7,110.5 205.1,110.2 206.4,109.8 207.8,109.5 209.2,109.2 210.5,108.8 211.9,108.5 213.3,108.2 214.6,107.8 216.0,107.5 217.4,107.2 218.7,106.8 220.1,106.5 221.5,106.2 222.8,105.8 224.2,105.5 225.5,105.1 226.9,104.8 228.3,104.5 229.6,104.1 231.0,103.8 232.4,103.4 233.7,103.1 235.1,102.7 236.5,102.4 237.8,102.0 239.2,101.7 240.6,101.3 241.9,101.0 243.3,100.6 244.7,100.3 246.0,99.9 247.4,99.6 248.8,99.2 250.1,98.9 251.5,98.5 252.9,98.2 254.2,97.8 255.6,97.5 256.9,97.1 258.3,96.8 259.7,96.4 261.0,96.1 262.4,95.7 263.8,95.4 265.1,95.0 266.5,94.7 267.9,94.3 269.2,94.0 270.6,93.6 272.0,93.3 273.3,92.9 274.7,92.6 276.1,92.2 277.4,91.9 278.8,91.5 280.2,91.2 281.5,90.8 282.9,90.5 284.2,90.1 285.6,89.8 287.0,89.4 288.3,89.1 289.7,88.7 291.1,88.4 292.4,88.1 293.8,87.7 295.2,87.4 296.5,87.0 297.9,86.7 299.3,86.3 300.6,86.0 302.0,85.6 303.4,85.3 304.7,85.0 306.1,84.6 307.5,84.3 308.8,83.9 310.2,83.6 311.5,83.3 312.9,82.9 314.3,82.6 315.6,82.2 317.0,81.9 318.4,81.6 319.7,81.2 321.1,80.9 322.5,80.6 323.8,80.2 325.2,79.9 326.6,79.6 327.9,79.2 329.3,78.9 330.7,78.6 332.0,78.2 333.4,77.9 334.8,77.6 336.1,77.3 337.5,76.9 338.8,76.6 340.2,76.3 341.6,76.0 342.9,75.6 344.3,75.3 345.7,75.0 347.0,74.7 348.4,74.4 349.8,74.0 351.1,73.7 352.5,73.4" stroke="#960000" stroke-width="0.8"/>
<path d="M71.0,127.7 71.2,127.7 71.6,127.7 72.0,127.7 72.3,127.7 72.7,127.7 73.1,127.7 73.5,127.7 73.9,127.7 74.3,127.7 74.6,127.7 75.0,127.7 75.4,127.7 75.8,127.7 76.2,127.6 76.6,127.6 76.9,127.6 77.3,127.6 77.7,127.6 78.1,127.6 78.5,127.6 78.9,127.6 79.2,127.6 79.6,127.6 80.0,127.6 80.4,127.6 80.9,127.6 82.2,127.5 83.6,127.5 84.9,127.4 86.3,127.4 87.7,127.3 89.0,127.3 90.4,127.2 91.8,127.2 93.1,127.1 94.5,127.0 95.9,126.9 97.2,126.9 98.6,126.8 100.0,126.7 101.3,126.6 102.7,126.5 104.1,126.4 105.4,126.3 106.8,126.2 108.2,126.0 109.5,125.9 110.9,125.8 112.2,125.7 113.6,125.5 115.0,125.4 116.3,125.3 117.7,125.1 119.1,125.0 120.4,124.8 121.8,124.7 123.2,124.5 124.5,124.3 125.9,124.2 127.3,124.0 128.6,123.8 130.0,123.6 131.4,123.5 132.7,123.3 134.1,123.1 135.5,122.9 136.8,122.7 138.2,122.5 139.6,122.3 140.9,122.1 142.3,121.9 143.6,121.7 145.0,121.4 146.4,121.2 147.7,121.0 149.1,120.8 150.5,120.6 151.8,120.3 153.2,120.1 154.6,119.8 155.9,119.6 157.3,119.4 158.7,119.1 160.0,118.9 161.4,118.6 162.8,118.4 164.1,118.1 165.5,117.9 166.9,117.6 168.2,117.3 169.6,117.1 170.9,116.8 172.3,116.5 173.7,116.2 175.0,116.0 176.4,115.7 177.8,115.4 179.1,115.1 180.5,114.8 181.9,114.6 183.2,114.3 184.6,114.0 186.0,113.7 187.3,113.4 188.7,113.1 190.1,112.8 191.4,112.5 192.8,112.2 194.2,111.9 195.5,111.6 196.9,111.3 198.2,111.0 199.6,110.7 201.0,110.3 202.3,110.0 203.7,109.7 205.1,109.4 206.4,109.1 207.8,108.8 209.2,108.4 210.5,108.1 211.9,107.8 213.3,107.5 214.6,107.1 216.0,106.8 217.4,106.5 218.7,106.2 220.1,105.8 221.5,105.5 222.8,105.2 224.2,104.8 225.5,104.5 226.9,104.2 228.3,103.8 229.6,103.5 231.0,103.2 232.4,102.8 233.7,102.5 235.1,102.2 236.5,101.8 237.8,101.5 239.2,101.2 240.6,100.8 241.9,100.5 243.3,100.1 244.7,99.8 246.0,99.4 247.4,99.1 248.8,98.8 250.1,98.4 251.5,98.1 252.9,97.7 254.2,97.4 255.6,97.1 256.9,96.7 258.3,96.4 259.7,96.0 261.0,95.7 262.4,95.3 263.8,95.0 265.1,94.6 266.5,94.3 267.9,94.0 269.2,93.6 270.6,93.3 272.0,92.9 273.3,92.6 274.7,92.2 276.1,91.9 277.4,91.5 278.8,91.2 280.2,90.9 281.5,90.5 282.9,90.2 284.2,89.8 285.6,89.5 287.0,89.1 288.3,88.8 289.7,88.5 291.1,88.1 292.4,87.8 293.8,87.4 295.2,87.1 296.5,86.8 297.9,86.4 299.3,86.1 300.6,85.7 302.0,85.4 303.4,85.1 304.7,84.7 306.1,84.4 307.5,84.1 308.8,83.7 310.2,83.4 311.5,83.0 312.9,82.7 314.3,82.4 315.6,82.0 317.0,81.7 318.4,81.4 319.7,81.0 321.1,80.7 322.5,80.4 323.8,80.1 325.2,79.7 326.6,79.4 327.9,79.1 329.3,78.7 330.7,78.4 332.0,78.1 333.4,77.8 334.8,77.4 336.1,77.1 337.5,76.8 338.8,76.5 340.2,76.1 341.6,75.8 342.9,75.5 344.3,75.2 345.7,74.9 347.0,74.6 348.4,74.2 349.8,73.9 351.1,73.6 352.5,73.3" stroke="#690000" stroke-width="2.3"/>
</g>
<g clip-path="url(#cb)" fill="none" stroke-linejoin="round">
<path d="M352.5,385.0 352.7,383.4 353.3,377.9 354.0,372.3 354.6,366.7 355.2,361.0 355.9,355.2 356.5,349.3 357.1,343.4 357.8,337.4 358.4,331.3 359.0,325.2 359.7,319.2 360.3,313.1 360.9,307.0 361.6,301.1 362.2,295.1 362.8,289.2 363.5,283.4 364.1,277.9 364.7,272.3 365.4,266.9 366.0,261.6 366.6,256.6 367.3,251.6 367.9,246.9 368.5,242.3 369.2,237.8 369.8,233.5 370.4,229.4 371.1,225.5 371.7,221.7 372.3,218.0 373.0,214.5 373.6,211.2 374.2,208.0 374.9,205.0 375.5,202.1 376.1,199.3 376.8,196.7 377.4,194.2 378.1,191.8 378.7,189.5 379.3,187.4 380.0,185.3 380.6,183.4 381.2,181.6 381.9,179.8 382.5,178.1 383.1,176.6 383.8,175.1 384.4,173.7 385.0,172.4 385.7,171.1 386.3,170.0 386.9,168.9 387.6,167.8 388.2,166.8 388.8,165.9 389.5,165.0 390.1,164.2 391.0,163.1 392.7,161.5 394.3,160.1 396.0,159.0 397.6,158.1 399.2,157.4 400.9,156.9 402.5,156.5 404.2,156.3 405.8,156.3 407.4,156.4 409.1,156.5 410.7,156.8 412.4,157.1 414.0,157.5 415.6,158.0 417.3,158.6 418.9,159.1 420.6,159.8 422.2,160.5 423.8,161.2 425.5,161.9 427.1,162.7 428.8,163.5 430.4,164.4 432.0,165.2 433.7,166.1 435.3,166.9 437.0,167.8 438.6,168.7 440.2,169.7 441.9,170.6 443.5,171.5 445.2,172.4 446.8,173.4 448.4,174.3 450.1,175.2 451.7,176.2 453.4,177.1 455.0,178.1 456.7,179.0 458.3,179.9 459.9,180.9 461.6,181.8 463.2,182.7 464.9,183.6 466.5,184.6 468.1,185.5 469.8,186.4 471.4,187.3 473.1,188.2 474.7,189.1 476.3,190.0 478.0,190.9 479.6,191.7 481.3,192.6 482.9,193.5 484.5,194.3 486.2,195.2 487.8,196.0 489.5,196.9 491.1,197.7 492.7,198.5 494.4,199.4 496.0,200.2 497.7,201.0 499.3,201.8 500.9,202.6 502.6,203.4 504.2,204.2 505.9,205.0 507.5,205.7 509.1,206.5 510.8,207.3 512.4,208.0 514.1,208.8 515.7,209.5 517.3,210.2 519.0,211.0 520.6,211.7 522.3,212.4 523.9,213.1 525.5,213.8 527.2,214.5 528.8,215.2 530.5,215.9 532.1,216.6 533.7,217.3 535.4,218.0 537.0,218.6 538.7,219.3 540.3,219.9 541.9,220.6 543.6,221.2 545.2,221.9 546.9,222.5 548.5,223.1 550.1,223.8 551.8,224.4 553.4,225.0 555.1,225.6 556.7,226.2 558.3,226.8 560.0,227.4 561.6,228.0 563.3,228.6 564.9,229.2 566.5,229.8 568.2,230.3 569.8,230.9 571.5,231.5 573.1,232.0 574.8,232.6 576.4,233.1 578.0,233.7 579.7,234.2 581.3,234.8 583.0,235.3 584.6,235.8 586.2,236.4 587.9,236.9 589.5,237.4 591.2,237.9 592.8,238.4 594.4,238.9 596.1,239.4 597.7,239.9 599.4,240.4 601.0,240.9 602.6,241.4 604.3,241.9 605.9,242.4 607.6,242.9 609.2,243.3 610.8,243.8 612.5,244.3 614.1,244.7 615.8,245.2 617.4,245.7 619.0,246.1 620.7,246.6 622.3,247.0 624.0,247.5 625.6,247.9 627.2,248.4 628.9,248.8 630.5,249.2 632.2,249.7 633.8,250.1 635.4,250.5" stroke="#5f008c" stroke-width="2.3"/>
<path d="M352.5,385.0 352.7,383.4 353.3,378.0 354.0,372.7 354.6,367.3 355.2,361.8 355.9,356.3 356.5,350.9 357.1,345.3 357.8,339.7 358.4,334.1 359.0,328.5 359.7,322.9 360.3,317.2 360.9,311.7 361.6,306.2 362.2,300.6 362.8,295.1 363.5,289.9 364.1,284.5 364.7,279.3 365.4,274.3 366.0,269.3 366.6,264.4 367.3,259.7 367.9,255.2 368.5,250.7 369.2,246.4 369.8,242.2 370.4,238.2 371.1,234.3 371.7,230.5 372.3,226.9 373.0,223.4 373.6,220.1 374.2,216.9 374.9,213.8 375.5,210.8 376.1,208.0 376.8,205.3 377.4,202.7 378.1,200.2 378.7,197.8 379.3,195.6 380.0,193.4 380.6,191.3 381.2,189.4 381.9,187.5 382.5,185.7 383.1,184.0 383.8,182.4 384.4,180.9 385.0,179.4 385.7,178.0 386.3,176.7 386.9,175.5 387.6,174.3 388.2,173.2 388.8,172.1 389.5,171.1 390.1,170.1 391.0,168.8 392.7,166.8 394.3,165.1 396.0,163.6 397.6,162.4 399.2,161.4 400.9,160.6 402.5,160.0 404.2,159.5 405.8,159.2 407.4,158.9 409.1,158.8 410.7,158.9 412.4,159.0 414.0,159.1 415.6,159.4 417.3,159.7 418.9,160.1 420.6,160.6 422.2,161.1 423.8,161.6 425.5,162.2 427.1,162.8 428.8,163.4 430.4,164.1 432.0,164.8 433.7,165.5 435.3,166.3 437.0,167.0 438.6,167.8 440.2,168.6 441.9,169.4 443.5,170.2 445.2,171.0 446.8,171.8 448.4,172.7 450.1,173.5 451.7,174.3 453.4,175.2 455.0,176.0 456.7,176.9 458.3,177.7 459.9,178.6 461.6,179.4 463.2,180.3 464.9,181.1 466.5,182.0 468.1,182.8 469.8,183.7 471.4,184.5 473.1,185.4 474.7,186.2 476.3,187.0 478.0,187.8 479.6,188.7 481.3,189.5 482.9,190.3 484.5,191.1 486.2,191.9 487.8,192.7 489.5,193.5 491.1,194.3 492.7,195.1 494.4,195.9 496.0,196.7 497.7,197.4 499.3,198.2 500.9,199.0 502.6,199.7 504.2,200.5 505.9,201.2 507.5,202.0 509.1,202.7 510.8,203.4 512.4,204.1 514.1,204.9 515.7,205.6 517.3,206.3 519.0,207.0 520.6,207.7 522.3,208.4 523.9,209.1 525.5,209.8 527.2,210.4 528.8,211.1 530.5,211.8 532.1,212.4 533.7,213.1 535.4,213.8 537.0,214.4 538.7,215.1 540.3,215.7 541.9,216.3 543.6,217.0 545.2,217.6 546.9,218.2 548.5,218.8 550.1,219.4 551.8,220.0 553.4,220.6 555.1,221.2 556.7,221.8 558.3,222.4 560.0,223.0 561.6,223.6 563.3,224.2 564.9,224.7 566.5,225.3 568.2,225.9 569.8,226.4 571.5,227.0 573.1,227.5 574.8,228.1 576.4,228.6 578.0,229.2 579.7,229.7 581.3,230.2 583.0,230.8 584.6,231.3 586.2,231.8 587.9,232.3 589.5,232.8 591.2,233.3 592.8,233.9 594.4,234.4 596.1,234.9 597.7,235.4 599.4,235.8 601.0,236.3 602.6,236.8 604.3,237.3 605.9,237.8 607.6,238.3 609.2,238.7 610.8,239.2 612.5,239.7 614.1,240.1 615.8,240.6 617.4,241.0 619.0,241.5 620.7,242.0 622.3,242.4 624.0,242.8 625.6,243.3 627.2,243.7 628.9,244.2 630.5,244.6 632.2,245.0 633.8,245.5 635.4,245.9" stroke="#7800af" stroke-width="0.8"/>
<path d="M352.5,385.0 352.7,383.5 353.3,378.3 354.0,373.1 354.6,367.9 355.2,362.7 355.9,357.5 356.5,352.3 357.1,347.1 357.8,341.9 358.4,336.7 359.0,331.5 359.7,326.3 360.3,321.2 360.9,316.1 361.6,311.0 362.2,306.0 362.8,301.1 363.5,296.1 364.1,291.2 364.7,286.5 365.4,281.8 366.0,277.2 366.6,272.6 367.3,268.3 367.9,263.9 368.5,259.7 369.2,255.7 369.8,251.7 370.4,247.8 371.1,244.0 371.7,240.4 372.3,236.8 373.0,233.4 373.6,230.1 374.2,226.9 374.9,223.8 375.5,220.9 376.1,218.0 376.8,215.3 377.4,212.6 378.1,210.1 378.7,207.6 379.3,205.3 380.0,203.0 380.6,200.9 381.2,198.8 381.9,196.8 382.5,194.9 383.1,193.1 383.8,191.4 384.4,189.7 385.0,188.1 385.7,186.6 386.3,185.2 386.9,183.8 387.6,182.5 388.2,181.2 388.8,180.0 389.5,178.9 390.1,177.8 391.0,176.3 392.7,173.9 394.3,171.8 396.0,170.0 397.6,168.5 399.2,167.2 400.9,166.0 402.5,165.1 404.2,164.3 405.8,163.7 407.4,163.2 409.1,162.9 410.7,162.6 412.4,162.5 414.0,162.4 415.6,162.5 417.3,162.6 418.9,162.7 420.6,163.0 422.2,163.3 423.8,163.6 425.5,164.0 427.1,164.4 428.8,164.9 430.4,165.4 432.0,166.0 433.7,166.5 435.3,167.1 437.0,167.7 438.6,168.4 440.2,169.0 441.9,169.7 443.5,170.4 445.2,171.1 446.8,171.8 448.4,172.5 450.1,173.2 451.7,174.0 453.4,174.7 455.0,175.5 456.7,176.2 458.3,177.0 459.9,177.7 461.6,178.5 463.2,179.2 464.9,180.0 466.5,180.8 468.1,181.6 469.8,182.3 471.4,183.1 473.1,183.9 474.7,184.6 476.3,185.4 478.0,186.1 479.6,186.9 481.3,187.7 482.9,188.4 484.5,189.2 486.2,189.9 487.8,190.7 489.5,191.4 491.1,192.2 492.7,192.9 494.4,193.6 496.0,194.4 497.7,195.1 499.3,195.8 500.9,196.5 502.6,197.2 504.2,198.0 505.9,198.7 507.5,199.4 509.1,200.1 510.8,200.8 512.4,201.4 514.1,202.1 515.7,202.8 517.3,203.5 519.0,204.2 520.6,204.8 522.3,205.5 523.9,206.2 525.5,206.8 527.2,207.5 528.8,208.1 530.5,208.7 532.1,209.4 533.7,210.0 535.4,210.7 537.0,211.3 538.7,211.9 540.3,212.5 541.9,213.1 543.6,213.7 545.2,214.3 546.9,214.9 548.5,215.5 550.1,216.1 551.8,216.7 553.4,217.3 555.1,217.9 556.7,218.5 558.3,219.0 560.0,219.6 561.6,220.2 563.3,220.7 564.9,221.3 566.5,221.8 568.2,222.4 569.8,222.9 571.5,223.5 573.1,224.0 574.8,224.5 576.4,225.1 578.0,225.6 579.7,226.1 581.3,226.6 583.0,227.2 584.6,227.7 586.2,228.2 587.9,228.7 589.5,229.2 591.2,229.7 592.8,230.2 594.4,230.7 596.1,231.2 597.7,231.7 599.4,232.2 601.0,232.6 602.6,233.1 604.3,233.6 605.9,234.1 607.6,234.5 609.2,235.0 610.8,235.5 612.5,235.9 614.1,236.4 615.8,236.8 617.4,237.3 619.0,237.7 620.7,238.2 622.3,238.6 624.0,239.1 625.6,239.5 627.2,239.9 628.9,240.4 630.5,240.8 632.2,241.2 633.8,241.7 635.4,242.1" stroke="#8214c8" stroke-width="0.8"/>
<path d="M352.5,385.0 352.7,383.6 353.3,378.7 354.0,373.8 354.6,369.0 355.2,364.1 355.9,359.2 356.5,354.4 357.1,349.5 357.8,344.7 358.4,340.0 359.0,335.2 359.7,330.4 360.3,325.7 360.9,321.0 361.6,316.4 362.2,311.7 362.8,307.3 363.5,302.7 364.1,298.3 364.7,293.9 365.4,289.6 366.0,285.4 366.6,281.2 367.3,277.1 367.9,273.1 368.5,269.2 369.2,265.3 369.8,261.6 370.4,257.9 371.1,254.3 371.7,250.8 372.3,247.4 373.0,244.2 373.6,240.9 374.2,237.8 374.9,234.8 375.5,231.9 376.1,229.1 376.8,226.3 377.4,223.7 378.1,221.1 378.7,218.6 379.3,216.2 380.0,213.9 380.6,211.7 381.2,209.6 381.9,207.5 382.5,205.5 383.1,203.6 383.8,201.8 384.4,200.0 385.0,198.3 385.7,196.7 386.3,195.1 386.9,193.6 387.6,192.2 388.2,190.8 388.8,189.5 389.5,188.2 390.1,187.0 391.0,185.3 392.7,182.6 394.3,180.1 396.0,178.0 397.6,176.1 399.2,174.5 400.9,173.0 402.5,171.8 404.2,170.7 405.8,169.8 407.4,169.0 409.1,168.4 410.7,167.9 412.4,167.5 414.0,167.2 415.6,167.0 417.3,166.9 418.9,166.8 420.6,166.8 422.2,166.9 423.8,167.1 425.5,167.3 427.1,167.5 428.8,167.8 430.4,168.1 432.0,168.5 433.7,168.9 435.3,169.3 437.0,169.8 438.6,170.3 440.2,170.8 441.9,171.3 443.5,171.9 445.2,172.4 446.8,173.0 448.4,173.6 450.1,174.2 451.7,174.9 453.4,175.5 455.0,176.1 456.7,176.8 458.3,177.4 459.9,178.1 461.6,178.8 463.2,179.4 464.9,180.1 466.5,180.8 468.1,181.5 469.8,182.2 471.4,182.9 473.1,183.5 474.7,184.2 476.3,184.9 478.0,185.6 479.6,186.3 481.3,187.0 482.9,187.7 484.5,188.4 486.2,189.1 487.8,189.7 489.5,190.4 491.1,191.1 492.7,191.8 494.4,192.5 496.0,193.1 497.7,193.8 499.3,194.5 500.9,195.2 502.6,195.8 504.2,196.5 505.9,197.2 507.5,197.8 509.1,198.5 510.8,199.1 512.4,199.8 514.1,200.4 515.7,201.1 517.3,201.7 519.0,202.3 520.6,203.0 522.3,203.6 523.9,204.2 525.5,204.8 527.2,205.5 528.8,206.1 530.5,206.7 532.1,207.3 533.7,207.9 535.4,208.5 537.0,209.1 538.7,209.7 540.3,210.3 541.9,210.9 543.6,211.4 545.2,212.0 546.9,212.6 548.5,213.2 550.1,213.7 551.8,214.3 553.4,214.9 555.1,215.4 556.7,216.0 558.3,216.5 560.0,217.1 561.6,217.6 563.3,218.2 564.9,218.7 566.5,219.2 568.2,219.8 569.8,220.3 571.5,220.8 573.1,221.3 574.8,221.8 576.4,222.4 578.0,222.9 579.7,223.4 581.3,223.9 583.0,224.4 584.6,224.9 586.2,225.4 587.9,225.9 589.5,226.4 591.2,226.9 592.8,227.3 594.4,227.8 596.1,228.3 597.7,228.8 599.4,229.3 601.0,229.7 602.6,230.2 604.3,230.7 605.9,231.1 607.6,231.6 609.2,232.0 610.8,232.5 612.5,232.9 614.1,233.4 615.8,233.8 617.4,234.3 619.0,234.7 620.7,235.1 622.3,235.6 624.0,236.0 625.6,236.4 627.2,236.9 628.9,237.3 630.5,237.7 632.2,238.1 633.8,238.6 635.4,239.0" stroke="#7d1ed4" stroke-width="0.8"/>
<path d="M352.5,385.0 352.7,383.7 353.3,379.2 354.0,374.7 354.6,370.2 355.2,365.7 355.9,361.2 356.5,356.8 357.1,352.4 357.8,347.9 358.4,343.6 359.0,339.2 359.7,334.8 360.3,330.6 360.9,326.3 361.6,322.0 362.2,317.8 362.8,313.7 363.5,309.5 364.1,305.5 364.7,301.5 365.4,297.5 366.0,293.6 366.6,289.8 367.3,286.0 367.9,282.2 368.5,278.6 369.2,275.0 369.8,271.5 370.4,268.1 371.1,264.7 371.7,261.4 372.3,258.2 373.0,255.0 373.6,251.9 374.2,248.9 374.9,246.0 375.5,243.2 376.1,240.4 376.8,237.7 377.4,235.1 378.1,232.6 378.7,230.1 379.3,227.7 380.0,225.4 380.6,223.1 381.2,221.0 381.9,218.9 382.5,216.8 383.1,214.8 383.8,212.9 384.4,211.1 385.0,209.3 385.7,207.6 386.3,206.0 386.9,204.4 387.6,202.8 388.2,201.3 388.8,199.9 389.5,198.5 390.1,197.2 391.0,195.3 392.7,192.3 394.3,189.6 396.0,187.1 397.6,184.9 399.2,183.0 400.9,181.2 402.5,179.7 404.2,178.3 405.8,177.1 407.4,176.1 409.1,175.2 410.7,174.4 412.4,173.7 414.0,173.2 415.6,172.7 417.3,172.4 418.9,172.1 420.6,171.9 422.2,171.8 423.8,171.7 425.5,171.7 427.1,171.8 428.8,171.8 430.4,172.0 432.0,172.2 433.7,172.4 435.3,172.7 437.0,173.0 438.6,173.3 440.2,173.7 441.9,174.1 443.5,174.5 445.2,174.9 446.8,175.4 448.4,175.8 450.1,176.3 451.7,176.8 453.4,177.3 455.0,177.9 456.7,178.4 458.3,178.9 459.9,179.5 461.6,180.1 463.2,180.6 464.9,181.2 466.5,181.8 468.1,182.4 469.8,183.0 471.4,183.6 473.1,184.2 474.7,184.8 476.3,185.4 478.0,186.0 479.6,186.6 481.3,187.3 482.9,187.9 484.5,188.5 486.2,189.1 487.8,189.7 489.5,190.4 491.1,191.0 492.7,191.6 494.4,192.2 496.0,192.8 497.7,193.5 499.3,194.1 500.9,194.7 502.6,195.3 504.2,195.9 505.9,196.5 507.5,197.1 509.1,197.7 510.8,198.3 512.4,198.9 514.1,199.5 515.7,200.1 517.3,200.7 519.0,201.3 520.6,201.9 522.3,202.5 523.9,203.1 525.5,203.7 527.2,204.3 528.8,204.8 530.5,205.4 532.1,206.0 533.7,206.6 535.4,207.1 537.0,207.7 538.7,208.2 540.3,208.8 541.9,209.4 543.6,209.9 545.2,210.5 546.9,211.0 548.5,211.6 550.1,212.1 551.8,212.6 553.4,213.2 555.1,213.7 556.7,214.2 558.3,214.8 560.0,215.3 561.6,215.8 563.3,216.3 564.9,216.8 566.5,217.3 568.2,217.9 569.8,218.4 571.5,218.9 573.1,219.4 574.8,219.9 576.4,220.4 578.0,220.9 579.7,221.3 581.3,221.8 583.0,222.3 584.6,222.8 586.2,223.3 587.9,223.7 589.5,224.2 591.2,224.7 592.8,225.2 594.4,225.6 596.1,226.1 597.7,226.6 599.4,227.0 601.0,227.5 602.6,227.9 604.3,228.4 605.9,228.8 607.6,229.3 609.2,229.7 610.8,230.1 612.5,230.6 614.1,231.0 615.8,231.5 617.4,231.9 619.0,232.3 620.7,232.7 622.3,233.2 624.0,233.6 625.6,234.0 627.2,234.4 628.9,234.8 630.5,235.3 632.2,235.7 633.8,236.1 635.4,236.5" stroke="#7828e1" stroke-width="0.8"/>
<path d="M352.5,385.0 352.7,383.8 353.3,379.7 354.0,375.6 354.6,371.5 355.2,367.4 355.9,363.3 356.5,359.3 357.1,355.3 357.8,351.2 358.4,347.2 359.0,343.2 359.7,339.3 360.3,335.4 360.9,331.4 361.6,327.6 362.2,323.7 362.8,319.9 363.5,316.1 364.1,312.5 364.7,308.8 365.4,305.1 366.0,301.5 366.6,298.0 367.3,294.5 367.9,291.0 368.5,287.7 369.2,284.3 369.8,281.0 370.4,277.8 371.1,274.6 371.7,271.5 372.3,268.5 373.0,265.5 373.6,262.6 374.2,259.8 374.9,256.9 375.5,254.2 376.1,251.5 376.8,248.9 377.4,246.4 378.1,243.9 378.7,241.5 379.3,239.1 380.0,236.8 380.6,234.6 381.2,232.4 381.9,230.3 382.5,228.3 383.1,226.3 383.8,224.3 384.4,222.4 385.0,220.6 385.7,218.9 386.3,217.1 386.9,215.5 387.6,213.9 388.2,212.3 388.8,210.8 389.5,209.3 390.1,207.9 391.0,205.9 392.7,202.6 394.3,199.7 396.0,196.9 397.6,194.5 399.2,192.2 400.9,190.2 402.5,188.4 404.2,186.7 405.8,185.2 407.4,183.9 409.1,182.8 410.7,181.7 412.4,180.8 414.0,180.0 415.6,179.3 417.3,178.7 418.9,178.2 420.6,177.8 422.2,177.5 423.8,177.2 425.5,177.0 427.1,176.8 428.8,176.8 430.4,176.7 432.0,176.8 433.7,176.8 435.3,176.9 437.0,177.0 438.6,177.2 440.2,177.4 441.9,177.7 443.5,177.9 445.2,178.2 446.8,178.5 448.4,178.9 450.1,179.2 451.7,179.6 453.4,180.0 455.0,180.4 456.7,180.8 458.3,181.3 459.9,181.7 461.6,182.2 463.2,182.6 464.9,183.1 466.5,183.6 468.1,184.1 469.8,184.6 471.4,185.1 473.1,185.6 474.7,186.2 476.3,186.7 478.0,187.2 479.6,187.8 481.3,188.3 482.9,188.8 484.5,189.4 486.2,189.9 487.8,190.5 489.5,191.0 491.1,191.6 492.7,192.2 494.4,192.7 496.0,193.3 497.7,193.8 499.3,194.4 500.9,194.9 502.6,195.5 504.2,196.1 505.9,196.6 507.5,197.2 509.1,197.7 510.8,198.3 512.4,198.8 514.1,199.4 515.7,199.9 517.3,200.5 519.0,201.0 520.6,201.6 522.3,202.1 523.9,202.7 525.5,203.2 527.2,203.7 528.8,204.3 530.5,204.8 532.1,205.3 533.7,205.9 535.4,206.4 537.0,206.9 538.7,207.5 540.3,208.0 541.9,208.5 543.6,209.0 545.2,209.5 546.9,210.1 548.5,210.6 550.1,211.1 551.8,211.6 553.4,212.1 555.1,212.6 556.7,213.1 558.3,213.6 560.0,214.1 561.6,214.6 563.3,215.1 564.9,215.6 566.5,216.1 568.2,216.6 569.8,217.0 571.5,217.5 573.1,218.0 574.8,218.5 576.4,218.9 578.0,219.4 579.7,219.9 581.3,220.3 583.0,220.8 584.6,221.3 586.2,221.7 587.9,222.2 589.5,222.6 591.2,223.1 592.8,223.5 594.4,224.0 596.1,224.4 597.7,224.9 599.4,225.3 601.0,225.8 602.6,226.2 604.3,226.6 605.9,227.1 607.6,227.5 609.2,227.9 610.8,228.4 612.5,228.8 614.1,229.2 615.8,229.6 617.4,230.0 619.0,230.5 620.7,230.9 622.3,231.3 624.0,231.7 625.6,232.1 627.2,232.5 628.9,232.9 630.5,233.3 632.2,233.7 633.8,234.1 635.4,234.5" stroke="#6932e8" stroke-width="0.8"/>
<path d="M352.5,385.0 352.7,383.9 353.3,380.2 354.0,376.4 354.6,372.8 355.2,369.0 355.9,365.3 356.5,361.7 357.1,358.0 357.8,354.3 358.4,350.7 359.0,347.0 359.7,343.4 360.3,339.9 360.9,336.3 361.6,332.7 362.2,329.3 362.8,325.8 363.5,322.3 364.1,318.9 364.7,315.5 365.4,312.2 366.0,308.9 366.6,305.6 367.3,302.4 367.9,299.2 368.5,296.1 369.2,293.0 369.8,289.9 370.4,286.9 371.1,283.9 371.7,281.0 372.3,278.2 373.0,275.4 373.6,272.6 374.2,269.9 374.9,267.2 375.5,264.6 376.1,262.1 376.8,259.6 377.4,257.1 378.1,254.7 378.7,252.4 379.3,250.1 380.0,247.8 380.6,245.6 381.2,243.5 381.9,241.4 382.5,239.4 383.1,237.4 383.8,235.5 384.4,233.6 385.0,231.7 385.7,229.9 386.3,228.2 386.9,226.5 387.6,224.9 388.2,223.3 388.8,221.7 389.5,220.2 390.1,218.7 391.0,216.6 392.7,213.2 394.3,210.0 396.0,207.0 397.6,204.3 399.2,201.9 400.9,199.6 402.5,197.5 404.2,195.6 405.8,193.9 407.4,192.3 409.1,190.9 410.7,189.6 412.4,188.5 414.0,187.4 415.6,186.5 417.3,185.7 418.9,185.0 420.6,184.3 422.2,183.8 423.8,183.3 425.5,182.9 427.1,182.6 428.8,182.3 430.4,182.1 432.0,181.9 433.7,181.8 435.3,181.8 437.0,181.7 438.6,181.8 440.2,181.8 441.9,181.9 443.5,182.0 445.2,182.2 446.8,182.3 448.4,182.5 450.1,182.8 451.7,183.0 453.4,183.3 455.0,183.6 456.7,183.9 458.3,184.2 459.9,184.5 461.6,184.9 463.2,185.3 464.9,185.6 466.5,186.0 468.1,186.4 469.8,186.9 471.4,187.3 473.1,187.7 474.7,188.1 476.3,188.6 478.0,189.0 479.6,189.5 481.3,189.9 482.9,190.4 484.5,190.9 486.2,191.4 487.8,191.8 489.5,192.3 491.1,192.8 492.7,193.3 494.4,193.8 496.0,194.3 497.7,194.8 499.3,195.3 500.9,195.8 502.6,196.3 504.2,196.8 505.9,197.3 507.5,197.8 509.1,198.3 510.8,198.8 512.4,199.3 514.1,199.8 515.7,200.3 517.3,200.8 519.0,201.3 520.6,201.8 522.3,202.3 523.9,202.8 525.5,203.3 527.2,203.8 528.8,204.3 530.5,204.8 532.1,205.2 533.7,205.7 535.4,206.2 537.0,206.7 538.7,207.2 540.3,207.7 541.9,208.2 543.6,208.7 545.2,209.2 546.9,209.6 548.5,210.1 550.1,210.6 551.8,211.1 553.4,211.5 555.1,212.0 556.7,212.5 558.3,213.0 560.0,213.4 561.6,213.9 563.3,214.4 564.9,214.8 566.5,215.3 568.2,215.7 569.8,216.2 571.5,216.6 573.1,217.1 574.8,217.6 576.4,218.0 578.0,218.4 579.7,218.9 581.3,219.3 583.0,219.8 584.6,220.2 586.2,220.7 587.9,221.1 589.5,221.5 591.2,222.0 592.8,222.4 594.4,222.8 596.1,223.2 597.7,223.7 599.4,224.1 601.0,224.5 602.6,224.9 604.3,225.4 605.9,225.8 607.6,226.2 609.2,226.6 610.8,227.0 612.5,227.4 614.1,227.8 615.8,228.2 617.4,228.6 619.0,229.0 620.7,229.4 622.3,229.8 624.0,230.2 625.6,230.6 627.2,231.0 628.9,231.4 630.5,231.8 632.2,232.2 633.8,232.6 635.4,232.9" stroke="#5a3cf0" stroke-width="0.8"/>
<path d="M352.5,385.0 352.7,384.0 353.3,380.6 354.0,377.2 354.6,373.9 355.2,370.5 355.9,367.1 356.5,363.8 357.1,360.4 357.8,357.1 358.4,353.8 359.0,350.5 359.7,347.2 360.3,343.9 360.9,340.7 361.6,337.4 362.2,334.3 362.8,331.1 363.5,327.9 364.1,324.8 364.7,321.7 365.4,318.6 366.0,315.6 366.6,312.5 367.3,309.6 367.9,306.6 368.5,303.7 369.2,300.8 369.8,298.0 370.4,295.2 371.1,292.4 371.7,289.7 372.3,287.0 373.0,284.4 373.6,281.8 374.2,279.2 374.9,276.7 375.5,274.2 376.1,271.8 376.8,269.4 377.4,267.1 378.1,264.8 378.7,262.5 379.3,260.3 380.0,258.1 380.6,256.0 381.2,253.9 381.9,251.9 382.5,249.9 383.1,247.9 383.8,246.0 384.4,244.1 385.0,242.3 385.7,240.5 386.3,238.8 386.9,237.1 387.6,235.4 388.2,233.8 388.8,232.2 389.5,230.7 390.1,229.2 391.0,227.0 392.7,223.5 394.3,220.1 396.0,217.0 397.6,214.2 399.2,211.5 400.9,209.0 402.5,206.8 404.2,204.6 405.8,202.7 407.4,200.9 409.1,199.3 410.7,197.8 412.4,196.4 414.0,195.2 415.6,194.0 417.3,193.0 418.9,192.1 420.6,191.3 422.2,190.5 423.8,189.8 425.5,189.3 427.1,188.7 428.8,188.3 430.4,187.9 432.0,187.6 433.7,187.3 435.3,187.0 437.0,186.9 438.6,186.7 440.2,186.6 441.9,186.6 443.5,186.5 445.2,186.6 446.8,186.6 448.4,186.7 450.1,186.8 451.7,186.9 453.4,187.0 455.0,187.2 456.7,187.4 458.3,187.6 459.9,187.8 461.6,188.1 463.2,188.3 464.9,188.6 466.5,188.9 468.1,189.2 469.8,189.5 471.4,189.9 473.1,190.2 474.7,190.6 476.3,190.9 478.0,191.3 479.6,191.6 481.3,192.0 482.9,192.4 484.5,192.8 486.2,193.2 487.8,193.6 489.5,194.0 491.1,194.4 492.7,194.9 494.4,195.3 496.0,195.7 497.7,196.1 499.3,196.6 500.9,197.0 502.6,197.4 504.2,197.9 505.9,198.3 507.5,198.8 509.1,199.2 510.8,199.7 512.4,200.1 514.1,200.6 515.7,201.0 517.3,201.5 519.0,201.9 520.6,202.4 522.3,202.8 523.9,203.3 525.5,203.7 527.2,204.2 528.8,204.6 530.5,205.1 532.1,205.6 533.7,206.0 535.4,206.5 537.0,206.9 538.7,207.4 540.3,207.8 541.9,208.3 543.6,208.7 545.2,209.2 546.9,209.6 548.5,210.0 550.1,210.5 551.8,210.9 553.4,211.4 555.1,211.8 556.7,212.3 558.3,212.7 560.0,213.1 561.6,213.6 563.3,214.0 564.9,214.4 566.5,214.9 568.2,215.3 569.8,215.7 571.5,216.2 573.1,216.6 574.8,217.0 576.4,217.4 578.0,217.9 579.7,218.3 581.3,218.7 583.0,219.1 584.6,219.5 586.2,220.0 587.9,220.4 589.5,220.8 591.2,221.2 592.8,221.6 594.4,222.0 596.1,222.4 597.7,222.8 599.4,223.2 601.0,223.6 602.6,224.0 604.3,224.4 605.9,224.8 607.6,225.2 609.2,225.6 610.8,226.0 612.5,226.4 614.1,226.8 615.8,227.2 617.4,227.6 619.0,227.9 620.7,228.3 622.3,228.7 624.0,229.1 625.6,229.5 627.2,229.9 628.9,230.2 630.5,230.6 632.2,231.0 633.8,231.3 635.4,231.7" stroke="#4648f5" stroke-width="0.8"/>
<path d="M352.5,385.0 352.7,384.1 353.3,381.0 354.0,377.9 354.6,374.9 355.2,371.8 355.9,368.7 356.5,365.7 357.1,362.6 357.8,359.6 358.4,356.6 359.0,353.5 359.7,350.5 360.3,347.6 360.9,344.6 361.6,341.6 362.2,338.7 362.8,335.8 363.5,332.9 364.1,330.0 364.7,327.1 365.4,324.3 366.0,321.5 366.6,318.7 367.3,316.0 367.9,313.3 368.5,310.5 369.2,307.9 369.8,305.2 370.4,302.6 371.1,300.0 371.7,297.5 372.3,295.0 373.0,292.5 373.6,290.1 374.2,287.7 374.9,285.3 375.5,282.9 376.1,280.6 376.8,278.4 377.4,276.1 378.1,273.9 378.7,271.8 379.3,269.6 380.0,267.6 380.6,265.5 381.2,263.5 381.9,261.5 382.5,259.6 383.1,257.7 383.8,255.8 384.4,254.0 385.0,252.2 385.7,250.4 386.3,248.7 386.9,247.0 387.6,245.4 388.2,243.7 388.8,242.2 389.5,240.6 390.1,239.1 391.0,236.9 392.7,233.3 394.3,229.9 396.0,226.7 397.6,223.7 399.2,220.9 400.9,218.3 402.5,215.8 404.2,213.6 405.8,211.4 407.4,209.5 409.1,207.7 410.7,206.0 412.4,204.4 414.0,203.0 415.6,201.6 417.3,200.4 418.9,199.3 420.6,198.3 422.2,197.4 423.8,196.5 425.5,195.8 427.1,195.1 428.8,194.4 430.4,193.9 432.0,193.4 433.7,192.9 435.3,192.5 437.0,192.2 438.6,191.9 440.2,191.7 441.9,191.5 443.5,191.3 445.2,191.2 446.8,191.1 448.4,191.0 450.1,191.0 451.7,191.0 453.4,191.1 455.0,191.1 456.7,191.2 458.3,191.3 459.9,191.4 461.6,191.5 463.2,191.7 464.9,191.9 466.5,192.1 468.1,192.3 469.8,192.5 471.4,192.7 473.1,193.0 474.7,193.3 476.3,193.5 478.0,193.8 479.6,194.1 481.3,194.4 482.9,194.7 484.5,195.0 486.2,195.4 487.8,195.7 489.5,196.0 491.1,196.4 492.7,196.7 494.4,197.1 496.0,197.4 497.7,197.8 499.3,198.2 500.9,198.6 502.6,198.9 504.2,199.3 505.9,199.7 507.5,200.1 509.1,200.5 510.8,200.9 512.4,201.3 514.1,201.7 515.7,202.1 517.3,202.5 519.0,202.9 520.6,203.3 522.3,203.7 523.9,204.1 525.5,204.5 527.2,204.9 528.8,205.3 530.5,205.7 532.1,206.1 533.7,206.6 535.4,207.0 537.0,207.4 538.7,207.8 540.3,208.2 541.9,208.6 543.6,209.0 545.2,209.4 546.9,209.8 548.5,210.3 550.1,210.7 551.8,211.1 553.4,211.5 555.1,211.9 556.7,212.3 558.3,212.7 560.0,213.1 561.6,213.5 563.3,213.9 564.9,214.3 566.5,214.7 568.2,215.1 569.8,215.5 571.5,216.0 573.1,216.4 574.8,216.8 576.4,217.2 578.0,217.5 579.7,217.9 581.3,218.3 583.0,218.7 584.6,219.1 586.2,219.5 587.9,219.9 589.5,220.3 591.2,220.7 592.8,221.1 594.4,221.5 596.1,221.9 597.7,222.2 599.4,222.6 601.0,223.0 602.6,223.4 604.3,223.8 605.9,224.1 607.6,224.5 609.2,224.9 610.8,225.3 612.5,225.6 614.1,226.0 615.8,226.4 617.4,226.8 619.0,227.1 620.7,227.5 622.3,227.9 624.0,228.2 625.6,228.6 627.2,228.9 628.9,229.3 630.5,229.7 632.2,230.0 633.8,230.4 635.4,230.7" stroke="#3255fa" stroke-width="0.8"/>
<path d="M352.5,385.0 352.7,384.2 353.3,381.3 354.0,378.5 354.6,375.7 355.2,372.9 355.9,370.1 356.5,367.3 357.1,364.5 357.8,361.7 358.4,359.0 359.0,356.2 359.7,353.4 360.3,350.7 360.9,348.0 361.6,345.3 362.2,342.6 362.8,339.9 363.5,337.2 364.1,334.6 364.7,331.9 365.4,329.3 366.0,326.7 366.6,324.1 367.3,321.6 367.9,319.1 368.5,316.6 369.2,314.1 369.8,311.6 370.4,309.2 371.1,306.8 371.7,304.4 372.3,302.1 373.0,299.7 373.6,297.4 374.2,295.2 374.9,292.9 375.5,290.7 376.1,288.5 376.8,286.4 377.4,284.2 378.1,282.2 378.7,280.1 379.3,278.1 380.0,276.1 380.6,274.1 381.2,272.1 381.9,270.3 382.5,268.4 383.1,266.5 383.8,264.7 384.4,262.9 385.0,261.2 385.7,259.5 386.3,257.8 386.9,256.1 387.6,254.5 388.2,252.9 388.8,251.3 389.5,249.8 390.1,248.3 391.0,246.1 392.7,242.5 394.3,239.0 396.0,235.8 397.6,232.7 399.2,229.8 400.9,227.1 402.5,224.5 404.2,222.1 405.8,219.9 407.4,217.7 409.1,215.8 410.7,213.9 412.4,212.2 414.0,210.6 415.6,209.1 417.3,207.7 418.9,206.4 420.6,205.3 422.2,204.2 423.8,203.2 425.5,202.2 427.1,201.4 428.8,200.6 430.4,199.9 432.0,199.2 433.7,198.6 435.3,198.1 437.0,197.6 438.6,197.2 440.2,196.8 441.9,196.5 443.5,196.2 445.2,195.9 446.8,195.7 448.4,195.5 450.1,195.4 451.7,195.3 453.4,195.2 455.0,195.1 456.7,195.1 458.3,195.1 459.9,195.1 461.6,195.1 463.2,195.2 464.9,195.3 466.5,195.4 468.1,195.5 469.8,195.6 471.4,195.7 473.1,195.9 474.7,196.1 476.3,196.3 478.0,196.5 479.6,196.7 481.3,196.9 482.9,197.1 484.5,197.4 486.2,197.6 487.8,197.9 489.5,198.2 491.1,198.4 492.7,198.7 494.4,199.0 496.0,199.3 497.7,199.6 499.3,199.9 500.9,200.2 502.6,200.6 504.2,200.9 505.9,201.2 507.5,201.5 509.1,201.9 510.8,202.2 512.4,202.6 514.1,202.9 515.7,203.3 517.3,203.6 519.0,204.0 520.6,204.3 522.3,204.7 523.9,205.1 525.5,205.4 527.2,205.8 528.8,206.1 530.5,206.5 532.1,206.9 533.7,207.3 535.4,207.6 537.0,208.0 538.7,208.4 540.3,208.7 541.9,209.1 543.6,209.5 545.2,209.9 546.9,210.2 548.5,210.6 550.1,211.0 551.8,211.4 553.4,211.8 555.1,212.1 556.7,212.5 558.3,212.9 560.0,213.3 561.6,213.6 563.3,214.0 564.9,214.4 566.5,214.8 568.2,215.1 569.8,215.5 571.5,215.9 573.1,216.3 574.8,216.6 576.4,217.0 578.0,217.4 579.7,217.8 581.3,218.1 583.0,218.5 584.6,218.9 586.2,219.2 587.9,219.6 589.5,220.0 591.2,220.3 592.8,220.7 594.4,221.1 596.1,221.4 597.7,221.8 599.4,222.2 601.0,222.5 602.6,222.9 604.3,223.2 605.9,223.6 607.6,224.0 609.2,224.3 610.8,224.7 612.5,225.0 614.1,225.4 615.8,225.7 617.4,226.1 619.0,226.5 620.7,226.8 622.3,227.2 624.0,227.5 625.6,227.8 627.2,228.2 628.9,228.5 630.5,228.9 632.2,229.2 633.8,229.6 635.4,229.9" stroke="#1969f8" stroke-width="0.8"/>
<path d="M352.5,385.0 352.7,384.2 353.3,381.6 354.0,379.0 354.6,376.5 355.2,373.9 355.9,371.3 356.5,368.7 357.1,366.2 357.8,363.6 358.4,361.1 359.0,358.5 359.7,356.0 360.3,353.5 360.9,350.9 361.6,348.4 362.2,345.9 362.8,343.4 363.5,341.0 364.1,338.5 364.7,336.1 365.4,333.7 366.0,331.3 366.6,328.9 367.3,326.5 367.9,324.2 368.5,321.8 369.2,319.5 369.8,317.2 370.4,314.9 371.1,312.7 371.7,310.5 372.3,308.2 373.0,306.0 373.6,303.9 374.2,301.8 374.9,299.6 375.5,297.5 376.1,295.5 376.8,293.4 377.4,291.4 378.1,289.4 378.7,287.5 379.3,285.5 380.0,283.6 380.6,281.7 381.2,279.9 381.9,278.0 382.5,276.2 383.1,274.4 383.8,272.7 384.4,271.0 385.0,269.3 385.7,267.6 386.3,265.9 386.9,264.3 387.6,262.7 388.2,261.2 388.8,259.6 389.5,258.1 390.1,256.6 391.0,254.5 392.7,250.9 394.3,247.4 396.0,244.1 397.6,241.0 399.2,238.1 400.9,235.3 402.5,232.6 404.2,230.1 405.8,227.7 407.4,225.5 409.1,223.4 410.7,221.4 412.4,219.6 414.0,217.8 415.6,216.2 417.3,214.7 418.9,213.3 420.6,211.9 422.2,210.7 423.8,209.5 425.5,208.5 427.1,207.5 428.8,206.5 430.4,205.7 432.0,204.9 433.7,204.1 435.3,203.5 437.0,202.9 438.6,202.3 440.2,201.8 441.9,201.3 443.5,200.9 445.2,200.5 446.8,200.2 448.4,199.9 450.1,199.6 451.7,199.4 453.4,199.2 455.0,199.0 456.7,198.9 458.3,198.8 459.9,198.7 461.6,198.6 463.2,198.6 464.9,198.6 466.5,198.6 468.1,198.6 469.8,198.6 471.4,198.7 473.1,198.8 474.7,198.9 476.3,199.0 478.0,199.1 479.6,199.2 481.3,199.4 482.9,199.5 484.5,199.7 486.2,199.9 487.8,200.1 489.5,200.3 491.1,200.5 492.7,200.7 494.4,200.9 496.0,201.2 497.7,201.4 499.3,201.7 500.9,201.9 502.6,202.2 504.2,202.4 505.9,202.7 507.5,203.0 509.1,203.3 510.8,203.6 512.4,203.9 514.1,204.2 515.7,204.5 517.3,204.8 519.0,205.1 520.6,205.4 522.3,205.7 523.9,206.0 525.5,206.3 527.2,206.6 528.8,207.0 530.5,207.3 532.1,207.6 533.7,208.0 535.4,208.3 537.0,208.6 538.7,209.0 540.3,209.3 541.9,209.6 543.6,210.0 545.2,210.3 546.9,210.7 548.5,211.0 550.1,211.3 551.8,211.7 553.4,212.0 555.1,212.4 556.7,212.7 558.3,213.1 560.0,213.4 561.6,213.8 563.3,214.1 564.9,214.5 566.5,214.8 568.2,215.2 569.8,215.5 571.5,215.8 573.1,216.2 574.8,216.5 576.4,216.9 578.0,217.2 579.7,217.6 581.3,217.9 583.0,218.3 584.6,218.6 586.2,219.0 587.9,219.3 589.5,219.7 591.2,220.0 592.8,220.4 594.4,220.7 596.1,221.0 597.7,221.4 599.4,221.7 601.0,222.1 602.6,222.4 604.3,222.8 605.9,223.1 607.6,223.4 609.2,223.8 610.8,224.1 612.5,224.5 614.1,224.8 615.8,225.1 617.4,225.5 619.0,225.8 620.7,226.1 622.3,226.5 624.0,226.8 625.6,227.1 627.2,227.5 628.9,227.8 630.5,228.1 632.2,228.5 633.8,228.8 635.4,229.1" stroke="#007df5" stroke-width="2.3"/>
<path d="M352.5,385.0 352.7,384.3 353.3,381.9 354.0,379.5 354.6,377.1 355.2,374.7 355.9,372.3 356.5,370.0 357.1,367.6 357.8,365.2 358.4,362.9 359.0,360.5 359.7,358.2 360.3,355.8 360.9,353.5 361.6,351.2 362.2,348.9 362.8,346.6 363.5,344.3 364.1,342.0 364.7,339.7 365.4,337.5 366.0,335.2 366.6,333.0 367.3,330.8 367.9,328.6 368.5,326.4 369.2,324.3 369.8,322.1 370.4,320.0 371.1,317.9 371.7,315.8 372.3,313.7 373.0,311.6 373.6,309.6 374.2,307.6 374.9,305.6 375.5,303.6 376.1,301.7 376.8,299.7 377.4,297.8 378.1,295.9 378.7,294.0 379.3,292.2 380.0,290.4 380.6,288.6 381.2,286.8 381.9,285.0 382.5,283.3 383.1,281.6 383.8,279.9 384.4,278.2 385.0,276.6 385.7,274.9 386.3,273.3 386.9,271.8 387.6,270.2 388.2,268.7 388.8,267.2 389.5,265.7 390.1,264.2 391.0,262.1 392.7,258.5 394.3,255.1 396.0,251.8 397.6,248.7 399.2,245.7 400.9,242.9 402.5,240.2 404.2,237.6 405.8,235.2 407.4,232.9 409.1,230.7 410.7,228.6 412.4,226.6 414.0,224.8 415.6,223.0 417.3,221.4 418.9,219.8 420.6,218.4 422.2,217.0 423.8,215.7 425.5,214.5 427.1,213.4 428.8,212.3 430.4,211.3 432.0,210.4 433.7,209.5 435.3,208.7 437.0,208.0 438.6,207.3 440.2,206.7 441.9,206.1 443.5,205.5 445.2,205.0 446.8,204.6 448.4,204.2 450.1,203.8 451.7,203.5 453.4,203.2 455.0,202.9 456.7,202.6 458.3,202.4 459.9,202.2 461.6,202.1 463.2,202.0 464.9,201.9 466.5,201.8 468.1,201.7 469.8,201.7 471.4,201.6 473.1,201.6 474.7,201.6 476.3,201.7 478.0,201.7 479.6,201.8 481.3,201.8 482.9,201.9 484.5,202.0 486.2,202.1 487.8,202.3 489.5,202.4 491.1,202.5 492.7,202.7 494.4,202.9 496.0,203.0 497.7,203.2 499.3,203.4 500.9,203.6 502.6,203.8 504.2,204.0 505.9,204.2 507.5,204.5 509.1,204.7 510.8,204.9 512.4,205.2 514.1,205.4 515.7,205.7 517.3,205.9 519.0,206.2 520.6,206.4 522.3,206.7 523.9,207.0 525.5,207.3 527.2,207.5 528.8,207.8 530.5,208.1 532.1,208.4 533.7,208.7 535.4,209.0 537.0,209.3 538.7,209.6 540.3,209.9 541.9,210.2 543.6,210.5 545.2,210.8 546.9,211.1 548.5,211.4 550.1,211.7 551.8,212.0 553.4,212.3 555.1,212.7 556.7,213.0 558.3,213.3 560.0,213.6 561.6,213.9 563.3,214.2 564.9,214.6 566.5,214.9 568.2,215.2 569.8,215.5 571.5,215.8 573.1,216.2 574.8,216.5 576.4,216.8 578.0,217.1 579.7,217.5 581.3,217.8 583.0,218.1 584.6,218.4 586.2,218.8 587.9,219.1 589.5,219.4 591.2,219.7 592.8,220.0 594.4,220.4 596.1,220.7 597.7,221.0 599.4,221.3 601.0,221.7 602.6,222.0 604.3,222.3 605.9,222.6 607.6,223.0 609.2,223.3 610.8,223.6 612.5,223.9 614.1,224.2 615.8,224.6 617.4,224.9 619.0,225.2 620.7,225.5 622.3,225.8 624.0,226.2 625.6,226.5 627.2,226.8 628.9,227.1 630.5,227.4 632.2,227.7 633.8,228.1 635.4,228.4" stroke="#0f98f5" stroke-width="0.8"/>
<path d="M352.5,385.0 352.7,384.3 353.3,382.1 354.0,379.9 354.6,377.7 355.2,375.5 355.9,373.3 356.5,371.1 357.1,368.9 357.8,366.7 358.4,364.5 359.0,362.3 359.7,360.1 360.3,358.0 360.9,355.8 361.6,353.6 362.2,351.5 362.8,349.3 363.5,347.2 364.1,345.1 364.7,343.0 365.4,340.9 366.0,338.8 366.6,336.7 367.3,334.6 367.9,332.6 368.5,330.6 369.2,328.5 369.8,326.5 370.4,324.5 371.1,322.5 371.7,320.6 372.3,318.6 373.0,316.7 373.6,314.8 374.2,312.9 374.9,311.0 375.5,309.1 376.1,307.2 376.8,305.4 377.4,303.6 378.1,301.8 378.7,300.0 379.3,298.2 380.0,296.5 380.6,294.8 381.2,293.1 381.9,291.4 382.5,289.7 383.1,288.1 383.8,286.5 384.4,284.8 385.0,283.3 385.7,281.7 386.3,280.1 386.9,278.6 387.6,277.1 388.2,275.6 388.8,274.2 389.5,272.7 390.1,271.3 391.0,269.2 392.7,265.7 394.3,262.3 396.0,259.1 397.6,256.0 399.2,253.0 400.9,250.1 402.5,247.4 404.2,244.8 405.8,242.3 407.4,239.9 409.1,237.6 410.7,235.5 412.4,233.5 414.0,231.5 415.6,229.7 417.3,227.9 418.9,226.3 420.6,224.7 422.2,223.2 423.8,221.8 425.5,220.5 427.1,219.2 428.8,218.1 430.4,217.0 432.0,215.9 433.7,214.9 435.3,214.0 437.0,213.2 438.6,212.4 440.2,211.6 441.9,210.9 443.5,210.3 445.2,209.7 446.8,209.1 448.4,208.6 450.1,208.1 451.7,207.7 453.4,207.3 455.0,206.9 456.7,206.6 458.3,206.2 459.9,206.0 461.6,205.7 463.2,205.5 464.9,205.3 466.5,205.1 468.1,205.0 469.8,204.8 471.4,204.7 473.1,204.6 474.7,204.6 476.3,204.5 478.0,204.5 479.6,204.5 481.3,204.5 482.9,204.5 484.5,204.5 486.2,204.6 487.8,204.6 489.5,204.7 491.1,204.8 492.7,204.8 494.4,205.0 496.0,205.1 497.7,205.2 499.3,205.3 500.9,205.5 502.6,205.6 504.2,205.8 505.9,205.9 507.5,206.1 509.1,206.3 510.8,206.5 512.4,206.6 514.1,206.8 515.7,207.1 517.3,207.3 519.0,207.5 520.6,207.7 522.3,207.9 523.9,208.1 525.5,208.4 527.2,208.6 528.8,208.9 530.5,209.1 532.1,209.3 533.7,209.6 535.4,209.9 537.0,210.1 538.7,210.4 540.3,210.6 541.9,210.9 543.6,211.2 545.2,211.4 546.9,211.7 548.5,212.0 550.1,212.3 551.8,212.5 553.4,212.8 555.1,213.1 556.7,213.4 558.3,213.7 560.0,214.0 561.6,214.3 563.3,214.5 564.9,214.8 566.5,215.1 568.2,215.4 569.8,215.7 571.5,216.0 573.1,216.3 574.8,216.6 576.4,216.9 578.0,217.2 579.7,217.5 581.3,217.8 583.0,218.1 584.6,218.4 586.2,218.7 587.9,219.0 589.5,219.3 591.2,219.6 592.8,219.9 594.4,220.2 596.1,220.5 597.7,220.8 599.4,221.1 601.0,221.4 602.6,221.7 604.3,222.0 605.9,222.3 607.6,222.6 609.2,222.9 610.8,223.2 612.5,223.5 614.1,223.8 615.8,224.1 617.4,224.5 619.0,224.8 620.7,225.1 622.3,225.4 624.0,225.7 625.6,226.0 627.2,226.3 628.9,226.6 630.5,226.9 632.2,227.2 633.8,227.5 635.4,227.8" stroke="#1eb4f5" stroke-width="0.8"/>
<path d="M352.5,385.0 352.7,384.4 353.3,382.3 354.0,380.3 354.6,378.2 355.2,376.2 355.9,374.1 356.5,372.1 357.1,370.0 357.8,368.0 358.4,365.9 359.0,363.9 359.7,361.9 360.3,359.9 360.9,357.8 361.6,355.8 362.2,353.8 362.8,351.8 363.5,349.8 364.1,347.9 364.7,345.9 365.4,343.9 366.0,342.0 366.6,340.0 367.3,338.1 367.9,336.2 368.5,334.3 369.2,332.4 369.8,330.5 370.4,328.6 371.1,326.7 371.7,324.9 372.3,323.0 373.0,321.2 373.6,319.4 374.2,317.6 374.9,315.8 375.5,314.1 376.1,312.3 376.8,310.6 377.4,308.8 378.1,307.1 378.7,305.4 379.3,303.8 380.0,302.1 380.6,300.4 381.2,298.8 381.9,297.2 382.5,295.6 383.1,294.0 383.8,292.5 384.4,290.9 385.0,289.4 385.7,287.9 386.3,286.4 386.9,284.9 387.6,283.5 388.2,282.0 388.8,280.6 389.5,279.2 390.1,277.8 391.0,275.8 392.7,272.4 394.3,269.1 396.0,265.9 397.6,262.8 399.2,259.8 400.9,257.0 402.5,254.2 404.2,251.6 405.8,249.1 407.4,246.7 409.1,244.4 410.7,242.2 412.4,240.0 414.0,238.0 415.6,236.1 417.3,234.3 418.9,232.6 420.6,230.9 422.2,229.3 423.8,227.8 425.5,226.4 427.1,225.1 428.8,223.8 430.4,222.6 432.0,221.5 433.7,220.4 435.3,219.4 437.0,218.4 438.6,217.5 440.2,216.6 441.9,215.8 443.5,215.1 445.2,214.4 446.8,213.7 448.4,213.1 450.1,212.5 451.7,212.0 453.4,211.5 455.0,211.0 456.7,210.6 458.3,210.2 459.9,209.8 461.6,209.5 463.2,209.2 464.9,208.9 466.5,208.6 468.1,208.4 469.8,208.2 471.4,208.0 473.1,207.8 474.7,207.7 476.3,207.5 478.0,207.4 479.6,207.3 481.3,207.3 482.9,207.2 484.5,207.2 486.2,207.2 487.8,207.1 489.5,207.1 491.1,207.2 492.7,207.2 494.4,207.2 496.0,207.3 497.7,207.3 499.3,207.4 500.9,207.5 502.6,207.6 504.2,207.7 505.9,207.8 507.5,207.9 509.1,208.0 510.8,208.2 512.4,208.3 514.1,208.5 515.7,208.6 517.3,208.8 519.0,209.0 520.6,209.1 522.3,209.3 523.9,209.5 525.5,209.7 527.2,209.9 528.8,210.1 530.5,210.3 532.1,210.5 533.7,210.7 535.4,210.9 537.0,211.1 538.7,211.4 540.3,211.6 541.9,211.8 543.6,212.0 545.2,212.3 546.9,212.5 548.5,212.8 550.1,213.0 551.8,213.3 553.4,213.5 555.1,213.8 556.7,214.0 558.3,214.3 560.0,214.5 561.6,214.8 563.3,215.0 564.9,215.3 566.5,215.6 568.2,215.8 569.8,216.1 571.5,216.4 573.1,216.6 574.8,216.9 576.4,217.2 578.0,217.5 579.7,217.7 581.3,218.0 583.0,218.3 584.6,218.6 586.2,218.8 587.9,219.1 589.5,219.4 591.2,219.7 592.8,219.9 594.4,220.2 596.1,220.5 597.7,220.8 599.4,221.1 601.0,221.4 602.6,221.6 604.3,221.9 605.9,222.2 607.6,222.5 609.2,222.8 610.8,223.1 612.5,223.4 614.1,223.6 615.8,223.9 617.4,224.2 619.0,224.5 620.7,224.8 622.3,225.1 624.0,225.4 625.6,225.6 627.2,225.9 628.9,226.2 630.5,226.5 632.2,226.8 633.8,227.1 635.4,227.4" stroke="#23c8f2" stroke-width="0.8"/>
<path d="M352.5,385.0 352.7,384.4 353.3,382.5 354.0,380.6 354.6,378.7 355.2,376.8 355.9,374.8 356.5,373.0 357.1,371.0 357.8,369.1 358.4,367.2 359.0,365.3 359.7,363.4 360.3,361.6 360.9,359.7 361.6,357.8 362.2,355.9 362.8,354.1 363.5,352.2 364.1,350.3 364.7,348.5 365.4,346.7 366.0,344.8 366.6,343.0 367.3,341.2 367.9,339.4 368.5,337.6 369.2,335.8 369.8,334.0 370.4,332.3 371.1,330.5 371.7,328.8 372.3,327.0 373.0,325.3 373.6,323.6 374.2,321.9 374.9,320.2 375.5,318.5 376.1,316.9 376.8,315.2 377.4,313.6 378.1,312.0 378.7,310.4 379.3,308.8 380.0,307.2 380.6,305.6 381.2,304.1 381.9,302.5 382.5,301.0 383.1,299.5 383.8,298.0 384.4,296.5 385.0,295.0 385.7,293.6 386.3,292.2 386.9,290.7 387.6,289.3 388.2,287.9 388.8,286.6 389.5,285.2 390.1,283.9 391.0,281.9 392.7,278.6 394.3,275.3 396.0,272.2 397.6,269.1 399.2,266.2 400.9,263.4 402.5,260.7 404.2,258.1 405.8,255.5 407.4,253.1 409.1,250.8 410.7,248.5 412.4,246.4 414.0,244.3 415.6,242.4 417.3,240.5 418.9,238.7 420.6,237.0 422.2,235.3 423.8,233.7 425.5,232.2 427.1,230.8 428.8,229.5 430.4,228.2 432.0,226.9 433.7,225.8 435.3,224.7 437.0,223.6 438.6,222.6 440.2,221.7 441.9,220.8 443.5,219.9 445.2,219.1 446.8,218.4 448.4,217.7 450.1,217.0 451.7,216.4 453.4,215.8 455.0,215.2 456.7,214.7 458.3,214.2 459.9,213.8 461.6,213.3 463.2,213.0 464.9,212.6 466.5,212.2 468.1,211.9 469.8,211.6 471.4,211.4 473.1,211.1 474.7,210.9 476.3,210.7 478.0,210.5 479.6,210.4 481.3,210.2 482.9,210.1 484.5,210.0 486.2,209.9 487.8,209.8 489.5,209.8 491.1,209.7 492.7,209.7 494.4,209.7 496.0,209.7 497.7,209.7 499.3,209.7 500.9,209.7 502.6,209.8 504.2,209.8 505.9,209.9 507.5,209.9 509.1,210.0 510.8,210.1 512.4,210.2 514.1,210.3 515.7,210.4 517.3,210.5 519.0,210.6 520.6,210.8 522.3,210.9 523.9,211.0 525.5,211.2 527.2,211.3 528.8,211.5 530.5,211.7 532.1,211.8 533.7,212.0 535.4,212.2 537.0,212.4 538.7,212.5 540.3,212.7 541.9,212.9 543.6,213.1 545.2,213.3 546.9,213.5 548.5,213.7 550.1,213.9 551.8,214.2 553.4,214.4 555.1,214.6 556.7,214.8 558.3,215.0 560.0,215.3 561.6,215.5 563.3,215.7 564.9,216.0 566.5,216.2 568.2,216.4 569.8,216.7 571.5,216.9 573.1,217.2 574.8,217.4 576.4,217.6 578.0,217.9 579.7,218.1 581.3,218.4 583.0,218.6 584.6,218.9 586.2,219.2 587.9,219.4 589.5,219.7 591.2,219.9 592.8,220.2 594.4,220.4 596.1,220.7 597.7,221.0 599.4,221.2 601.0,221.5 602.6,221.8 604.3,222.0 605.9,222.3 607.6,222.5 609.2,222.8 610.8,223.1 612.5,223.3 614.1,223.6 615.8,223.9 617.4,224.2 619.0,224.4 620.7,224.7 622.3,225.0 624.0,225.2 625.6,225.5 627.2,225.8 628.9,226.0 630.5,226.3 632.2,226.6 633.8,226.9 635.4,227.1" stroke="#28dcf0" stroke-width="0.8"/>
<path d="M352.5,385.0 352.7,384.5 353.3,382.7 354.0,380.9 354.6,379.1 355.2,377.3 355.9,375.5 356.5,373.7 357.1,371.9 357.8,370.2 358.4,368.4 359.0,366.6 359.7,364.8 360.3,363.1 360.9,361.3 361.6,359.5 362.2,357.8 362.8,356.0 363.5,354.3 364.1,352.6 364.7,350.8 365.4,349.1 366.0,347.4 366.6,345.7 367.3,344.0 367.9,342.3 368.5,340.6 369.2,338.9 369.8,337.2 370.4,335.6 371.1,333.9 371.7,332.3 372.3,330.6 373.0,329.0 373.6,327.4 374.2,325.8 374.9,324.2 375.5,322.6 376.1,321.0 376.8,319.5 377.4,317.9 378.1,316.4 378.7,314.8 379.3,313.3 380.0,311.8 380.6,310.3 381.2,308.8 381.9,307.4 382.5,305.9 383.1,304.5 383.8,303.0 384.4,301.6 385.0,300.2 385.7,298.8 386.3,297.4 386.9,296.1 387.6,294.7 388.2,293.4 388.8,292.0 389.5,290.7 390.1,289.4 391.0,287.5 392.7,284.3 394.3,281.1 396.0,278.1 397.6,275.1 399.2,272.2 400.9,269.4 402.5,266.7 404.2,264.1 405.8,261.6 407.4,259.2 409.1,256.9 410.7,254.6 412.4,252.4 414.0,250.4 415.6,248.4 417.3,246.4 418.9,244.6 420.6,242.8 422.2,241.1 423.8,239.5 425.5,237.9 427.1,236.4 428.8,235.0 430.4,233.6 432.0,232.3 433.7,231.1 435.3,229.9 437.0,228.8 438.6,227.7 440.2,226.7 441.9,225.7 443.5,224.8 445.2,223.9 446.8,223.1 448.4,222.3 450.1,221.5 451.7,220.8 453.4,220.1 455.0,219.5 456.7,218.9 458.3,218.3 459.9,217.8 461.6,217.3 463.2,216.8 464.9,216.4 466.5,216.0 468.1,215.6 469.8,215.2 471.4,214.9 473.1,214.6 474.7,214.3 476.3,214.0 478.0,213.8 479.6,213.5 481.3,213.3 482.9,213.1 484.5,213.0 486.2,212.8 487.8,212.7 489.5,212.6 491.1,212.5 492.7,212.4 494.4,212.3 496.0,212.2 497.7,212.2 499.3,212.1 500.9,212.1 502.6,212.1 504.2,212.1 505.9,212.1 507.5,212.1 509.1,212.1 510.8,212.2 512.4,212.2 514.1,212.3 515.7,212.3 517.3,212.4 519.0,212.5 520.6,212.6 522.3,212.6 523.9,212.7 525.5,212.8 527.2,213.0 528.8,213.1 530.5,213.2 532.1,213.3 533.7,213.5 535.4,213.6 537.0,213.7 538.7,213.9 540.3,214.0 541.9,214.2 543.6,214.4 545.2,214.5 546.9,214.7 548.5,214.9 550.1,215.1 551.8,215.2 553.4,215.4 555.1,215.6 556.7,215.8 558.3,216.0 560.0,216.2 561.6,216.4 563.3,216.6 564.9,216.8 566.5,217.0 568.2,217.2 569.8,217.4 571.5,217.6 573.1,217.9 574.8,218.1 576.4,218.3 578.0,218.5 579.7,218.8 581.3,219.0 583.0,219.2 584.6,219.4 586.2,219.7 587.9,219.9 589.5,220.1 591.2,220.4 592.8,220.6 594.4,220.8 596.1,221.1 597.7,221.3 599.4,221.6 601.0,221.8 602.6,222.0 604.3,222.3 605.9,222.5 607.6,222.8 609.2,223.0 610.8,223.3 612.5,223.5 614.1,223.8 615.8,224.0 617.4,224.3 619.0,224.5 620.7,224.8 622.3,225.0 624.0,225.3 625.6,225.5 627.2,225.8 628.9,226.1 630.5,226.3 632.2,226.6 633.8,226.8 635.4,227.1" stroke="#28e1cd" stroke-width="0.8"/>
<path d="M352.5,385.0 352.7,384.5 353.3,382.8 354.0,381.1 354.6,379.5 355.2,377.8 355.9,376.1 356.5,374.4 357.1,372.8 357.8,371.1 358.4,369.4 359.0,367.8 359.7,366.1 360.3,364.4 360.9,362.8 361.6,361.1 362.2,359.5 362.8,357.8 363.5,356.2 364.1,354.6 364.7,352.9 365.4,351.3 366.0,349.7 366.6,348.1 367.3,346.5 367.9,344.9 368.5,343.3 369.2,341.7 369.8,340.1 370.4,338.5 371.1,337.0 371.7,335.4 372.3,333.9 373.0,332.3 373.6,330.8 374.2,329.3 374.9,327.8 375.5,326.3 376.1,324.8 376.8,323.3 377.4,321.8 378.1,320.4 378.7,318.9 379.3,317.4 380.0,316.0 380.6,314.6 381.2,313.2 381.9,311.8 382.5,310.4 383.1,309.0 383.8,307.6 384.4,306.3 385.0,304.9 385.7,303.6 386.3,302.3 386.9,300.9 387.6,299.6 388.2,298.3 388.8,297.1 389.5,295.8 390.1,294.5 391.0,292.7 392.7,289.6 394.3,286.5 396.0,283.5 397.6,280.6 399.2,277.8 400.9,275.1 402.5,272.4 404.2,269.8 405.8,267.4 407.4,264.9 409.1,262.6 410.7,260.4 412.4,258.2 414.0,256.1 415.6,254.1 417.3,252.1 418.9,250.2 420.6,248.4 422.2,246.7 423.8,245.0 425.5,243.4 427.1,241.9 428.8,240.4 430.4,239.0 432.0,237.6 433.7,236.3 435.3,235.0 437.0,233.8 438.6,232.7 440.2,231.6 441.9,230.6 443.5,229.6 445.2,228.6 446.8,227.7 448.4,226.8 450.1,226.0 451.7,225.2 453.4,224.5 455.0,223.8 456.7,223.1 458.3,222.5 459.9,221.9 461.6,221.3 463.2,220.8 464.9,220.2 466.5,219.8 468.1,219.3 469.8,218.9 471.4,218.5 473.1,218.1 474.7,217.7 476.3,217.4 478.0,217.1 479.6,216.8 481.3,216.5 482.9,216.3 484.5,216.0 486.2,215.8 487.8,215.6 489.5,215.4 491.1,215.3 492.7,215.1 494.4,215.0 496.0,214.9 497.7,214.8 499.3,214.7 500.9,214.6 502.6,214.5 504.2,214.5 505.9,214.4 507.5,214.4 509.1,214.4 510.8,214.4 512.4,214.4 514.1,214.4 515.7,214.4 517.3,214.4 519.0,214.4 520.6,214.5 522.3,214.5 523.9,214.6 525.5,214.7 527.2,214.7 528.8,214.8 530.5,214.9 532.1,215.0 533.7,215.1 535.4,215.2 537.0,215.3 538.7,215.4 540.3,215.5 541.9,215.6 543.6,215.8 545.2,215.9 546.9,216.0 548.5,216.2 550.1,216.3 551.8,216.5 553.4,216.6 555.1,216.8 556.7,216.9 558.3,217.1 560.0,217.3 561.6,217.4 563.3,217.6 564.9,217.8 566.5,218.0 568.2,218.2 569.8,218.3 571.5,218.5 573.1,218.7 574.8,218.9 576.4,219.1 578.0,219.3 579.7,219.5 581.3,219.7 583.0,219.9 584.6,220.1 586.2,220.3 587.9,220.5 589.5,220.8 591.2,221.0 592.8,221.2 594.4,221.4 596.1,221.6 597.7,221.8 599.4,222.1 601.0,222.3 602.6,222.5 604.3,222.7 605.9,223.0 607.6,223.2 609.2,223.4 610.8,223.6 612.5,223.9 614.1,224.1 615.8,224.3 617.4,224.6 619.0,224.8 620.7,225.0 622.3,225.3 624.0,225.5 625.6,225.8 627.2,226.0 628.9,226.2 630.5,226.5 632.2,226.7 633.8,227.0 635.4,227.2" stroke="#28e6aa" stroke-width="0.8"/>
<path d="M352.5,385.0 352.7,384.5 353.3,383.0 354.0,381.4 354.6,379.8 355.2,378.2 355.9,376.6 356.5,375.1 357.1,373.5 357.8,371.9 358.4,370.4 359.0,368.8 359.7,367.2 360.3,365.7 360.9,364.1 361.6,362.5 362.2,361.0 362.8,359.4 363.5,357.9 364.1,356.4 364.7,354.8 365.4,353.3 366.0,351.8 366.6,350.2 367.3,348.7 367.9,347.2 368.5,345.7 369.2,344.2 369.8,342.7 370.4,341.2 371.1,339.8 371.7,338.3 372.3,336.8 373.0,335.4 373.6,333.9 374.2,332.5 374.9,331.0 375.5,329.6 376.1,328.2 376.8,326.8 377.4,325.4 378.1,324.0 378.7,322.6 379.3,321.2 380.0,319.8 380.6,318.5 381.2,317.1 381.9,315.8 382.5,314.4 383.1,313.1 383.8,311.8 384.4,310.5 385.0,309.2 385.7,307.9 386.3,306.7 386.9,305.4 387.6,304.1 388.2,302.9 388.8,301.7 389.5,300.5 390.1,299.2 391.0,297.5 392.7,294.4 394.3,291.4 396.0,288.6 397.6,285.7 399.2,283.0 400.9,280.3 402.5,277.7 404.2,275.2 405.8,272.7 407.4,270.3 409.1,268.0 410.7,265.8 412.4,263.6 414.0,261.5 415.6,259.5 417.3,257.5 418.9,255.6 420.6,253.8 422.2,252.0 423.8,250.3 425.5,248.7 427.1,247.1 428.8,245.6 430.4,244.1 432.0,242.7 433.7,241.3 435.3,240.0 437.0,238.8 438.6,237.6 440.2,236.4 441.9,235.3 443.5,234.3 445.2,233.3 446.8,232.3 448.4,231.4 450.1,230.5 451.7,229.6 453.4,228.8 455.0,228.0 456.7,227.3 458.3,226.6 459.9,225.9 461.6,225.3 463.2,224.7 464.9,224.1 466.5,223.5 468.1,223.0 469.8,222.5 471.4,222.1 473.1,221.6 474.7,221.2 476.3,220.8 478.0,220.4 479.6,220.1 481.3,219.8 482.9,219.4 484.5,219.2 486.2,218.9 487.8,218.6 489.5,218.4 491.1,218.2 492.7,218.0 494.4,217.8 496.0,217.6 497.7,217.5 499.3,217.3 500.9,217.2 502.6,217.1 504.2,217.0 505.9,216.9 507.5,216.8 509.1,216.7 510.8,216.7 512.4,216.6 514.1,216.6 515.7,216.5 517.3,216.5 519.0,216.5 520.6,216.5 522.3,216.5 523.9,216.5 525.5,216.6 527.2,216.6 528.8,216.6 530.5,216.7 532.1,216.7 533.7,216.8 535.4,216.9 537.0,216.9 538.7,217.0 540.3,217.1 541.9,217.2 543.6,217.3 545.2,217.4 546.9,217.5 548.5,217.6 550.1,217.7 551.8,217.8 553.4,217.9 555.1,218.1 556.7,218.2 558.3,218.3 560.0,218.5 561.6,218.6 563.3,218.8 564.9,218.9 566.5,219.1 568.2,219.2 569.8,219.4 571.5,219.5 573.1,219.7 574.8,219.9 576.4,220.0 578.0,220.2 579.7,220.4 581.3,220.6 583.0,220.8 584.6,220.9 586.2,221.1 587.9,221.3 589.5,221.5 591.2,221.7 592.8,221.9 594.4,222.1 596.1,222.3 597.7,222.5 599.4,222.7 601.0,222.9 602.6,223.1 604.3,223.3 605.9,223.5 607.6,223.7 609.2,223.9 610.8,224.1 612.5,224.3 614.1,224.6 615.8,224.8 617.4,225.0 619.0,225.2 620.7,225.4 622.3,225.6 624.0,225.9 625.6,226.1 627.2,226.3 628.9,226.5 630.5,226.8 632.2,227.0 633.8,227.2 635.4,227.4" stroke="#3ceb7d" stroke-width="0.8"/>
<path d="M352.5,385.0 352.7,384.6 353.3,383.1 354.0,381.6 354.6,380.1 355.2,378.6 355.9,377.1 356.5,375.6 357.1,374.1 357.8,372.7 358.4,371.2 359.0,369.7 359.7,368.2 360.3,366.8 360.9,365.3 361.6,363.8 362.2,362.3 362.8,360.9 363.5,359.4 364.1,358.0 364.7,356.5 365.4,355.1 366.0,353.6 366.6,352.2 367.3,350.7 367.9,349.3 368.5,347.9 369.2,346.5 369.8,345.1 370.4,343.7 371.1,342.2 371.7,340.9 372.3,339.5 373.0,338.1 373.6,336.7 374.2,335.3 374.9,334.0 375.5,332.6 376.1,331.2 376.8,329.9 377.4,328.6 378.1,327.2 378.7,325.9 379.3,324.6 380.0,323.3 380.6,322.0 381.2,320.7 381.9,319.4 382.5,318.1 383.1,316.9 383.8,315.6 384.4,314.4 385.0,313.1 385.7,311.9 386.3,310.7 386.9,309.5 387.6,308.3 388.2,307.1 388.8,305.9 389.5,304.7 390.1,303.5 391.0,301.8 392.7,298.9 394.3,296.0 396.0,293.2 397.6,290.4 399.2,287.7 400.9,285.1 402.5,282.6 404.2,280.1 405.8,277.7 407.4,275.3 409.1,273.0 410.7,270.8 412.4,268.7 414.0,266.6 415.6,264.5 417.3,262.6 418.9,260.7 420.6,258.8 422.2,257.0 423.8,255.3 425.5,253.7 427.1,252.0 428.8,250.5 430.4,249.0 432.0,247.5 433.7,246.1 435.3,244.8 437.0,243.5 438.6,242.3 440.2,241.1 441.9,239.9 443.5,238.8 445.2,237.7 446.8,236.7 448.4,235.7 450.1,234.8 451.7,233.9 453.4,233.0 455.0,232.2 456.7,231.4 458.3,230.6 459.9,229.9 461.6,229.2 463.2,228.5 464.9,227.9 466.5,227.3 468.1,226.7 469.8,226.2 471.4,225.6 473.1,225.1 474.7,224.7 476.3,224.2 478.0,223.8 479.6,223.4 481.3,223.0 482.9,222.6 484.5,222.3 486.2,221.9 487.8,221.6 489.5,221.4 491.1,221.1 492.7,220.8 494.4,220.6 496.0,220.4 497.7,220.2 499.3,220.0 500.9,219.8 502.6,219.6 504.2,219.5 505.9,219.3 507.5,219.2 509.1,219.1 510.8,219.0 512.4,218.9 514.1,218.8 515.7,218.8 517.3,218.7 519.0,218.6 520.6,218.6 522.3,218.6 523.9,218.5 525.5,218.5 527.2,218.5 528.8,218.5 530.5,218.5 532.1,218.5 533.7,218.6 535.4,218.6 537.0,218.6 538.7,218.7 540.3,218.7 541.9,218.8 543.6,218.8 545.2,218.9 546.9,219.0 548.5,219.1 550.1,219.1 551.8,219.2 553.4,219.3 555.1,219.4 556.7,219.5 558.3,219.6 560.0,219.7 561.6,219.9 563.3,220.0 564.9,220.1 566.5,220.2 568.2,220.4 569.8,220.5 571.5,220.6 573.1,220.8 574.8,220.9 576.4,221.1 578.0,221.2 579.7,221.4 581.3,221.5 583.0,221.7 584.6,221.8 586.2,222.0 587.9,222.2 589.5,222.3 591.2,222.5 592.8,222.7 594.4,222.8 596.1,223.0 597.7,223.2 599.4,223.4 601.0,223.6 602.6,223.8 604.3,223.9 605.9,224.1 607.6,224.3 609.2,224.5 610.8,224.7 612.5,224.9 614.1,225.1 615.8,225.3 617.4,225.5 619.0,225.7 620.7,225.9 622.3,226.1 624.0,226.3 625.6,226.5 627.2,226.7 628.9,226.9 630.5,227.1 632.2,227.3 633.8,227.6 635.4,227.8" stroke="#50f050" stroke-width="0.8"/>
<path d="M352.5,385.0 352.7,384.6 353.3,383.2 354.0,381.8 354.6,380.4 355.2,378.9 355.9,377.5 356.5,376.1 357.1,374.7 357.8,373.3 358.4,371.9 359.0,370.5 359.7,369.1 360.3,367.7 360.9,366.3 361.6,364.9 362.2,363.6 362.8,362.2 363.5,360.8 364.1,359.4 364.7,358.0 365.4,356.7 366.0,355.3 366.6,353.9 367.3,352.6 367.9,351.2 368.5,349.9 369.2,348.5 369.8,347.2 370.4,345.8 371.1,344.5 371.7,343.2 372.3,341.8 373.0,340.5 373.6,339.2 374.2,337.9 374.9,336.6 375.5,335.3 376.1,334.0 376.8,332.7 377.4,331.4 378.1,330.2 378.7,328.9 379.3,327.7 380.0,326.4 380.6,325.2 381.2,323.9 381.9,322.7 382.5,321.5 383.1,320.3 383.8,319.1 384.4,317.9 385.0,316.7 385.7,315.5 386.3,314.3 386.9,313.1 387.6,312.0 388.2,310.8 388.8,309.7 389.5,308.6 390.1,307.4 391.0,305.8 392.7,302.9 394.3,300.1 396.0,297.4 397.6,294.7 399.2,292.1 400.9,289.6 402.5,287.1 404.2,284.6 405.8,282.3 407.4,279.9 409.1,277.7 410.7,275.5 412.4,273.4 414.0,271.3 415.6,269.3 417.3,267.3 418.9,265.4 420.6,263.6 422.2,261.8 423.8,260.0 425.5,258.3 427.1,256.7 428.8,255.1 430.4,253.6 432.0,252.1 433.7,250.7 435.3,249.3 437.0,248.0 438.6,246.7 440.2,245.5 441.9,244.3 443.5,243.1 445.2,242.0 446.8,240.9 448.4,239.9 450.1,238.9 451.7,238.0 453.4,237.1 455.0,236.2 456.7,235.3 458.3,234.5 459.9,233.7 461.6,233.0 463.2,232.3 464.9,231.6 466.5,230.9 468.1,230.3 469.8,229.7 471.4,229.1 473.1,228.5 474.7,228.0 476.3,227.5 478.0,227.0 479.6,226.6 481.3,226.1 482.9,225.7 484.5,225.3 486.2,224.9 487.8,224.6 489.5,224.3 491.1,223.9 492.7,223.6 494.4,223.3 496.0,223.1 497.7,222.8 499.3,222.6 500.9,222.4 502.6,222.2 504.2,222.0 505.9,221.8 507.5,221.6 509.1,221.4 510.8,221.3 512.4,221.2 514.1,221.0 515.7,220.9 517.3,220.8 519.0,220.7 520.6,220.7 522.3,220.6 523.9,220.5 525.5,220.5 527.2,220.4 528.8,220.4 530.5,220.4 532.1,220.4 533.7,220.3 535.4,220.3 537.0,220.3 538.7,220.4 540.3,220.4 541.9,220.4 543.6,220.4 545.2,220.5 546.9,220.5 548.5,220.5 550.1,220.6 551.8,220.7 553.4,220.7 555.1,220.8 556.7,220.9 558.3,220.9 560.0,221.0 561.6,221.1 563.3,221.2 564.9,221.3 566.5,221.4 568.2,221.5 569.8,221.6 571.5,221.7 573.1,221.8 574.8,222.0 576.4,222.1 578.0,222.2 579.7,222.3 581.3,222.5 583.0,222.6 584.6,222.7 586.2,222.9 587.9,223.0 589.5,223.2 591.2,223.3 592.8,223.5 594.4,223.6 596.1,223.8 597.7,223.9 599.4,224.1 601.0,224.3 602.6,224.4 604.3,224.6 605.9,224.8 607.6,224.9 609.2,225.1 610.8,225.3 612.5,225.5 614.1,225.7 615.8,225.8 617.4,226.0 619.0,226.2 620.7,226.4 622.3,226.6 624.0,226.8 625.6,227.0 627.2,227.1 628.9,227.3 630.5,227.5 632.2,227.7 633.8,227.9 635.4,228.1" stroke="#68f028" stroke-width="0.8"/>
<path d="M352.5,385.0 352.7,384.6 353.3,383.3 354.0,381.9 354.6,380.6 355.2,379.3 355.9,377.9 356.5,376.6 357.1,375.3 357.8,373.9 358.4,372.6 359.0,371.3 359.7,369.9 360.3,368.6 360.9,367.3 361.6,366.0 362.2,364.6 362.8,363.3 363.5,362.0 364.1,360.7 364.7,359.4 365.4,358.1 366.0,356.8 366.6,355.5 367.3,354.2 367.9,352.9 368.5,351.6 369.2,350.3 369.8,349.0 370.4,347.8 371.1,346.5 371.7,345.2 372.3,344.0 373.0,342.7 373.6,341.5 374.2,340.2 374.9,339.0 375.5,337.7 376.1,336.5 376.8,335.3 377.4,334.0 378.1,332.8 378.7,331.6 379.3,330.4 380.0,329.2 380.6,328.0 381.2,326.8 381.9,325.7 382.5,324.5 383.1,323.3 383.8,322.2 384.4,321.0 385.0,319.9 385.7,318.7 386.3,317.6 386.9,316.5 387.6,315.3 388.2,314.2 388.8,313.1 389.5,312.0 390.1,310.9 391.0,309.3 392.7,306.6 394.3,303.9 396.0,301.2 397.6,298.6 399.2,296.1 400.9,293.6 402.5,291.2 404.2,288.8 405.8,286.4 407.4,284.2 409.1,282.0 410.7,279.8 412.4,277.7 414.0,275.6 415.6,273.6 417.3,271.7 418.9,269.8 420.6,267.9 422.2,266.1 423.8,264.4 425.5,262.7 427.1,261.1 428.8,259.5 430.4,257.9 432.0,256.4 433.7,255.0 435.3,253.6 437.0,252.2 438.6,250.9 440.2,249.6 441.9,248.4 443.5,247.2 445.2,246.1 446.8,244.9 448.4,243.9 450.1,242.8 451.7,241.8 453.4,240.9 455.0,240.0 456.7,239.1 458.3,238.2 459.9,237.4 461.6,236.6 463.2,235.8 464.9,235.1 466.5,234.4 468.1,233.7 469.8,233.0 471.4,232.4 473.1,231.8 474.7,231.2 476.3,230.7 478.0,230.1 479.6,229.6 481.3,229.2 482.9,228.7 484.5,228.2 486.2,227.8 487.8,227.4 489.5,227.0 491.1,226.7 492.7,226.3 494.4,226.0 496.0,225.7 497.7,225.4 499.3,225.1 500.9,224.8 502.6,224.6 504.2,224.3 505.9,224.1 507.5,223.9 509.1,223.7 510.8,223.5 512.4,223.3 514.1,223.2 515.7,223.0 517.3,222.9 519.0,222.8 520.6,222.7 522.3,222.5 523.9,222.4 525.5,222.4 527.2,222.3 528.8,222.2 530.5,222.1 532.1,222.1 533.7,222.0 535.4,222.0 537.0,222.0 538.7,222.0 540.3,221.9 541.9,221.9 543.6,221.9 545.2,221.9 546.9,222.0 548.5,222.0 550.1,222.0 551.8,222.0 553.4,222.1 555.1,222.1 556.7,222.1 558.3,222.2 560.0,222.3 561.6,222.3 563.3,222.4 564.9,222.5 566.5,222.5 568.2,222.6 569.8,222.7 571.5,222.8 573.1,222.9 574.8,223.0 576.4,223.1 578.0,223.2 579.7,223.3 581.3,223.4 583.0,223.5 584.6,223.6 586.2,223.7 587.9,223.9 589.5,224.0 591.2,224.1 592.8,224.2 594.4,224.4 596.1,224.5 597.7,224.7 599.4,224.8 601.0,224.9 602.6,225.1 604.3,225.2 605.9,225.4 607.6,225.5 609.2,225.7 610.8,225.9 612.5,226.0 614.1,226.2 615.8,226.3 617.4,226.5 619.0,226.7 620.7,226.9 622.3,227.0 624.0,227.2 625.6,227.4 627.2,227.5 628.9,227.7 630.5,227.9 632.2,228.1 633.8,228.3 635.4,228.5" stroke="#80f000" stroke-width="2.3"/>
<path d="M352.5,385.0 352.7,384.6 353.3,383.3 354.0,382.1 354.6,380.8 355.2,379.5 355.9,378.3 356.5,377.0 357.1,375.7 357.8,374.4 358.4,373.2 359.0,371.9 359.7,370.7 360.3,369.4 360.9,368.1 361.6,366.9 362.2,365.6 362.8,364.4 363.5,363.1 364.1,361.9 364.7,360.6 365.4,359.4 366.0,358.1 366.6,356.9 367.3,355.6 367.9,354.4 368.5,353.2 369.2,351.9 369.8,350.7 370.4,349.5 371.1,348.3 371.7,347.1 372.3,345.9 373.0,344.7 373.6,343.5 374.2,342.3 374.9,341.1 375.5,339.9 376.1,338.7 376.8,337.5 377.4,336.4 378.1,335.2 378.7,334.1 379.3,332.9 380.0,331.7 380.6,330.6 381.2,329.5 381.9,328.3 382.5,327.2 383.1,326.1 383.8,325.0 384.4,323.9 385.0,322.8 385.7,321.7 386.3,320.6 386.9,319.5 387.6,318.4 388.2,317.3 388.8,316.3 389.5,315.2 390.1,314.1 391.0,312.6 392.7,309.9 394.3,307.3 396.0,304.7 397.6,302.2 399.2,299.7 400.9,297.3 402.5,294.9 404.2,292.6 405.8,290.3 407.4,288.1 409.1,285.9 410.7,283.8 412.4,281.7 414.0,279.6 415.6,277.7 417.3,275.7 418.9,273.8 420.6,272.0 422.2,270.2 423.8,268.5 425.5,266.8 427.1,265.1 428.8,263.5 430.4,262.0 432.0,260.5 433.7,259.0 435.3,257.6 437.0,256.2 438.6,254.8 440.2,253.5 441.9,252.3 443.5,251.1 445.2,249.9 446.8,248.7 448.4,247.6 450.1,246.6 451.7,245.5 453.4,244.5 455.0,243.6 456.7,242.6 458.3,241.7 459.9,240.9 461.6,240.0 463.2,239.2 464.9,238.4 466.5,237.7 468.1,237.0 469.8,236.3 471.4,235.6 473.1,234.9 474.7,234.3 476.3,233.7 478.0,233.2 479.6,232.6 481.3,232.1 482.9,231.6 484.5,231.1 486.2,230.6 487.8,230.2 489.5,229.7 491.1,229.3 492.7,228.9 494.4,228.6 496.0,228.2 497.7,227.9 499.3,227.5 500.9,227.2 502.6,226.9 504.2,226.7 505.9,226.4 507.5,226.2 509.1,225.9 510.8,225.7 512.4,225.5 514.1,225.3 515.7,225.1 517.3,224.9 519.0,224.8 520.6,224.6 522.3,224.5 523.9,224.3 525.5,224.2 527.2,224.1 528.8,224.0 530.5,223.9 532.1,223.8 533.7,223.7 535.4,223.7 537.0,223.6 538.7,223.5 540.3,223.5 541.9,223.5 543.6,223.4 545.2,223.4 546.9,223.4 548.5,223.4 550.1,223.4 551.8,223.4 553.4,223.4 555.1,223.4 556.7,223.4 558.3,223.4 560.0,223.5 561.6,223.5 563.3,223.5 564.9,223.6 566.5,223.6 568.2,223.7 569.8,223.8 571.5,223.8 573.1,223.9 574.8,224.0 576.4,224.0 578.0,224.1 579.7,224.2 581.3,224.3 583.0,224.4 584.6,224.5 586.2,224.6 587.9,224.7 589.5,224.8 591.2,224.9 592.8,225.0 594.4,225.1 596.1,225.2 597.7,225.4 599.4,225.5 601.0,225.6 602.6,225.7 604.3,225.9 605.9,226.0 607.6,226.1 609.2,226.3 610.8,226.4 612.5,226.6 614.1,226.7 615.8,226.9 617.4,227.0 619.0,227.2 620.7,227.3 622.3,227.5 624.0,227.6 625.6,227.8 627.2,228.0 628.9,228.1 630.5,228.3 632.2,228.5 633.8,228.6 635.4,228.8" stroke="#9bf20d" stroke-width="0.8"/>
<path d="M352.5,385.0 352.7,384.6 353.3,383.4 354.0,382.2 354.6,381.0 355.2,379.8 355.9,378.6 356.5,377.4 357.1,376.1 357.8,374.9 358.4,373.7 359.0,372.5 359.7,371.3 360.3,370.1 360.9,368.9 361.6,367.7 362.2,366.5 362.8,365.3 363.5,364.1 364.1,362.9 364.7,361.7 365.4,360.5 366.0,359.3 366.6,358.2 367.3,357.0 367.9,355.8 368.5,354.6 369.2,353.4 369.8,352.3 370.4,351.1 371.1,349.9 371.7,348.8 372.3,347.6 373.0,346.5 373.6,345.3 374.2,344.2 374.9,343.0 375.5,341.9 376.1,340.8 376.8,339.6 377.4,338.5 378.1,337.4 378.7,336.3 379.3,335.2 380.0,334.1 380.6,333.0 381.2,331.9 381.9,330.8 382.5,329.7 383.1,328.6 383.8,327.6 384.4,326.5 385.0,325.4 385.7,324.4 386.3,323.3 386.9,322.3 387.6,321.2 388.2,320.2 388.8,319.2 389.5,318.1 390.1,317.1 391.0,315.6 392.7,313.0 394.3,310.5 396.0,308.0 397.6,305.5 399.2,303.1 400.9,300.8 402.5,298.4 404.2,296.1 405.8,293.9 407.4,291.7 409.1,289.6 410.7,287.5 412.4,285.4 414.0,283.4 415.6,281.5 417.3,279.5 418.9,277.7 420.6,275.9 422.2,274.1 423.8,272.3 425.5,270.6 427.1,269.0 428.8,267.4 430.4,265.8 432.0,264.3 433.7,262.8 435.3,261.4 437.0,260.0 438.6,258.6 440.2,257.3 441.9,256.0 443.5,254.8 445.2,253.6 446.8,252.4 448.4,251.3 450.1,250.2 451.7,249.1 453.4,248.1 455.0,247.1 456.7,246.1 458.3,245.2 459.9,244.3 461.6,243.4 463.2,242.5 464.9,241.7 466.5,240.9 468.1,240.2 469.8,239.4 471.4,238.7 473.1,238.0 474.7,237.4 476.3,236.7 478.0,236.1 479.6,235.5 481.3,235.0 482.9,234.4 484.5,233.9 486.2,233.4 487.8,232.9 489.5,232.4 491.1,232.0 492.7,231.6 494.4,231.1 496.0,230.7 497.7,230.4 499.3,230.0 500.9,229.7 502.6,229.3 504.2,229.0 505.9,228.7 507.5,228.4 509.1,228.1 510.8,227.9 512.4,227.6 514.1,227.4 515.7,227.2 517.3,227.0 519.0,226.8 520.6,226.6 522.3,226.4 523.9,226.2 525.5,226.1 527.2,225.9 528.8,225.8 530.5,225.7 532.1,225.6 533.7,225.4 535.4,225.3 537.0,225.2 538.7,225.2 540.3,225.1 541.9,225.0 543.6,225.0 545.2,224.9 546.9,224.9 548.5,224.8 550.1,224.8 551.8,224.8 553.4,224.7 555.1,224.7 556.7,224.7 558.3,224.7 560.0,224.7 561.6,224.7 563.3,224.8 564.9,224.8 566.5,224.8 568.2,224.8 569.8,224.9 571.5,224.9 573.1,225.0 574.8,225.0 576.4,225.1 578.0,225.1 579.7,225.2 581.3,225.2 583.0,225.3 584.6,225.4 586.2,225.5 587.9,225.6 589.5,225.6 591.2,225.7 592.8,225.8 594.4,225.9 596.1,226.0 597.7,226.1 599.4,226.2 601.0,226.3 602.6,226.4 604.3,226.6 605.9,226.7 607.6,226.8 609.2,226.9 610.8,227.0 612.5,227.2 614.1,227.3 615.8,227.4 617.4,227.6 619.0,227.7 620.7,227.8 622.3,228.0 624.0,228.1 625.6,228.3 627.2,228.4 628.9,228.6 630.5,228.7 632.2,228.9 633.8,229.0 635.4,229.2" stroke="#b7f31b" stroke-width="0.8"/>
<path d="M352.5,385.0 352.7,384.7 353.3,383.5 354.0,382.3 354.6,381.2 355.2,380.0 355.9,378.9 356.5,377.7 357.1,376.5 357.8,375.4 358.4,374.2 359.0,373.1 359.7,371.9 360.3,370.8 360.9,369.6 361.6,368.5 362.2,367.3 362.8,366.2 363.5,365.0 364.1,363.9 364.7,362.7 365.4,361.6 366.0,360.5 366.6,359.3 367.3,358.2 367.9,357.1 368.5,355.9 369.2,354.8 369.8,353.7 370.4,352.6 371.1,351.5 371.7,350.4 372.3,349.2 373.0,348.1 373.6,347.0 374.2,345.9 374.9,344.8 375.5,343.8 376.1,342.7 376.8,341.6 377.4,340.5 378.1,339.4 378.7,338.4 379.3,337.3 380.0,336.2 380.6,335.2 381.2,334.1 381.9,333.1 382.5,332.0 383.1,331.0 383.8,329.9 384.4,328.9 385.0,327.9 385.7,326.9 386.3,325.8 386.9,324.8 387.6,323.8 388.2,322.8 388.8,321.8 389.5,320.8 390.1,319.9 391.0,318.4 392.7,315.9 394.3,313.4 396.0,311.0 397.6,308.6 399.2,306.3 400.9,304.0 402.5,301.7 404.2,299.5 405.8,297.3 407.4,295.1 409.1,293.0 410.7,291.0 412.4,288.9 414.0,287.0 415.6,285.0 417.3,283.1 418.9,281.3 420.6,279.5 422.2,277.7 423.8,276.0 425.5,274.3 427.1,272.7 428.8,271.0 430.4,269.5 432.0,268.0 433.7,266.5 435.3,265.0 437.0,263.6 438.6,262.2 440.2,260.9 441.9,259.6 443.5,258.3 445.2,257.1 446.8,255.9 448.4,254.8 450.1,253.6 451.7,252.6 453.4,251.5 455.0,250.5 456.7,249.5 458.3,248.5 459.9,247.6 461.6,246.7 463.2,245.8 464.9,244.9 466.5,244.1 468.1,243.3 469.8,242.5 471.4,241.8 473.1,241.1 474.7,240.4 476.3,239.7 478.0,239.0 479.6,238.4 481.3,237.8 482.9,237.2 484.5,236.7 486.2,236.1 487.8,235.6 489.5,235.1 491.1,234.6 492.7,234.1 494.4,233.7 496.0,233.2 497.7,232.8 499.3,232.4 500.9,232.1 502.6,231.7 504.2,231.3 505.9,231.0 507.5,230.7 509.1,230.4 510.8,230.1 512.4,229.8 514.1,229.5 515.7,229.3 517.3,229.0 519.0,228.8 520.6,228.6 522.3,228.3 523.9,228.1 525.5,228.0 527.2,227.8 528.8,227.6 530.5,227.5 532.1,227.3 533.7,227.2 535.4,227.0 537.0,226.9 538.7,226.8 540.3,226.7 541.9,226.6 543.6,226.5 545.2,226.4 546.9,226.4 548.5,226.3 550.1,226.2 551.8,226.2 553.4,226.1 555.1,226.1 556.7,226.1 558.3,226.0 560.0,226.0 561.6,226.0 563.3,226.0 564.9,226.0 566.5,226.0 568.2,226.0 569.8,226.0 571.5,226.0 573.1,226.1 574.8,226.1 576.4,226.1 578.0,226.2 579.7,226.2 581.3,226.2 583.0,226.3 584.6,226.4 586.2,226.4 587.9,226.5 589.5,226.5 591.2,226.6 592.8,226.7 594.4,226.8 596.1,226.8 597.7,226.9 599.4,227.0 601.0,227.1 602.6,227.2 604.3,227.3 605.9,227.4 607.6,227.5 609.2,227.6 610.8,227.7 612.5,227.8 614.1,227.9 615.8,228.0 617.4,228.2 619.0,228.3 620.7,228.4 622.3,228.5 624.0,228.7 625.6,228.8 627.2,228.9 628.9,229.1 630.5,229.2 632.2,229.4 633.8,229.5 635.4,229.6" stroke="#d2f528" stroke-width="0.8"/>
<path d="M352.5,385.0 352.7,384.7 353.3,383.6 354.0,382.4 354.6,381.3 355.2,380.2 355.9,379.1 356.5,378.0 357.1,376.9 357.8,375.8 358.4,374.7 359.0,373.6 359.7,372.5 360.3,371.4 360.9,370.3 361.6,369.2 362.2,368.1 362.8,367.0 363.5,365.9 364.1,364.8 364.7,363.7 365.4,362.6 366.0,361.5 366.6,360.4 367.3,359.3 367.9,358.2 368.5,357.2 369.2,356.1 369.8,355.0 370.4,353.9 371.1,352.9 371.7,351.8 372.3,350.7 373.0,349.7 373.6,348.6 374.2,347.5 374.9,346.5 375.5,345.4 376.1,344.4 376.8,343.4 377.4,342.3 378.1,341.3 378.7,340.2 379.3,339.2 380.0,338.2 380.6,337.2 381.2,336.2 381.9,335.1 382.5,334.1 383.1,333.1 383.8,332.1 384.4,331.1 385.0,330.1 385.7,329.2 386.3,328.2 386.9,327.2 387.6,326.2 388.2,325.3 388.8,324.3 389.5,323.3 390.1,322.4 391.0,321.0 392.7,318.6 394.3,316.2 396.0,313.8 397.6,311.5 399.2,309.2 400.9,306.9 402.5,304.7 404.2,302.6 405.8,300.4 407.4,298.3 409.1,296.2 410.7,294.2 412.4,292.2 414.0,290.3 415.6,288.4 417.3,286.5 418.9,284.7 420.6,282.9 422.2,281.1 423.8,279.4 425.5,277.8 427.1,276.1 428.8,274.5 430.4,273.0 432.0,271.4 433.7,269.9 435.3,268.5 437.0,267.1 438.6,265.7 440.2,264.3 441.9,263.0 443.5,261.8 445.2,260.5 446.8,259.3 448.4,258.1 450.1,257.0 451.7,255.9 453.4,254.8 455.0,253.7 456.7,252.7 458.3,251.7 459.9,250.7 461.6,249.8 463.2,248.9 464.9,248.0 466.5,247.2 468.1,246.3 469.8,245.5 471.4,244.8 473.1,244.0 474.7,243.3 476.3,242.6 478.0,241.9 479.6,241.2 481.3,240.6 482.9,240.0 484.5,239.4 486.2,238.8 487.8,238.2 489.5,237.7 491.1,237.2 492.7,236.7 494.4,236.2 496.0,235.7 497.7,235.3 499.3,234.8 500.9,234.4 502.6,234.0 504.2,233.6 505.9,233.3 507.5,232.9 509.1,232.6 510.8,232.2 512.4,231.9 514.1,231.6 515.7,231.3 517.3,231.0 519.0,230.8 520.6,230.5 522.3,230.3 523.9,230.1 525.5,229.8 527.2,229.6 528.8,229.4 530.5,229.2 532.1,229.1 533.7,228.9 535.4,228.7 537.0,228.6 538.7,228.4 540.3,228.3 541.9,228.2 543.6,228.1 545.2,228.0 546.9,227.9 548.5,227.8 550.1,227.7 551.8,227.6 553.4,227.5 555.1,227.5 556.7,227.4 558.3,227.4 560.0,227.3 561.6,227.3 563.3,227.3 564.9,227.2 566.5,227.2 568.2,227.2 569.8,227.2 571.5,227.2 573.1,227.2 574.8,227.2 576.4,227.2 578.0,227.2 579.7,227.2 581.3,227.3 583.0,227.3 584.6,227.3 586.2,227.4 587.9,227.4 589.5,227.5 591.2,227.5 592.8,227.6 594.4,227.6 596.1,227.7 597.7,227.7 599.4,227.8 601.0,227.9 602.6,228.0 604.3,228.0 605.9,228.1 607.6,228.2 609.2,228.3 610.8,228.4 612.5,228.5 614.1,228.6 615.8,228.7 617.4,228.8 619.0,228.9 620.7,229.0 622.3,229.1 624.0,229.2 625.6,229.4 627.2,229.5 628.9,229.6 630.5,229.7 632.2,229.8 633.8,230.0 635.4,230.1" stroke="#e8f232" stroke-width="0.8"/>
<path d="M352.5,385.0 352.7,384.7 353.3,383.6 354.0,382.5 354.6,381.5 355.2,380.4 355.9,379.4 356.5,378.3 357.1,377.2 357.8,376.2 358.4,375.1 359.0,374.0 359.7,373.0 360.3,371.9 360.9,370.9 361.6,369.8 362.2,368.7 362.8,367.7 363.5,366.6 364.1,365.6 364.7,364.5 365.4,363.5 366.0,362.4 366.6,361.4 367.3,360.3 367.9,359.3 368.5,358.3 369.2,357.2 369.8,356.2 370.4,355.2 371.1,354.1 371.7,353.1 372.3,352.1 373.0,351.1 373.6,350.0 374.2,349.0 374.9,348.0 375.5,347.0 376.1,346.0 376.8,345.0 377.4,344.0 378.1,343.0 378.7,342.0 379.3,341.0 380.0,340.0 380.6,339.0 381.2,338.0 381.9,337.1 382.5,336.1 383.1,335.1 383.8,334.2 384.4,333.2 385.0,332.2 385.7,331.3 386.3,330.3 386.9,329.4 387.6,328.5 388.2,327.5 388.8,326.6 389.5,325.7 390.1,324.7 391.0,323.4 392.7,321.0 394.3,318.7 396.0,316.4 397.6,314.1 399.2,311.9 400.9,309.7 402.5,307.6 404.2,305.4 405.8,303.3 407.4,301.3 409.1,299.3 410.7,297.3 412.4,295.3 414.0,293.4 415.6,291.5 417.3,289.7 418.9,287.9 420.6,286.1 422.2,284.4 423.8,282.7 425.5,281.0 427.1,279.4 428.8,277.8 430.4,276.2 432.0,274.7 433.7,273.2 435.3,271.8 437.0,270.4 438.6,269.0 440.2,267.6 441.9,266.3 443.5,265.0 445.2,263.7 446.8,262.5 448.4,261.3 450.1,260.2 451.7,259.0 453.4,257.9 455.0,256.9 456.7,255.8 458.3,254.8 459.9,253.8 461.6,252.9 463.2,251.9 464.9,251.0 466.5,250.1 468.1,249.3 469.8,248.4 471.4,247.6 473.1,246.9 474.7,246.1 476.3,245.4 478.0,244.6 479.6,243.9 481.3,243.3 482.9,242.6 484.5,242.0 486.2,241.4 487.8,240.8 489.5,240.2 491.1,239.7 492.7,239.1 494.4,238.6 496.0,238.1 497.7,237.6 499.3,237.2 500.9,236.7 502.6,236.3 504.2,235.9 505.9,235.5 507.5,235.1 509.1,234.7 510.8,234.4 512.4,234.0 514.1,233.7 515.7,233.4 517.3,233.0 519.0,232.8 520.6,232.5 522.3,232.2 523.9,231.9 525.5,231.7 527.2,231.5 528.8,231.2 530.5,231.0 532.1,230.8 533.7,230.6 535.4,230.4 537.0,230.2 538.7,230.1 540.3,229.9 541.9,229.8 543.6,229.6 545.2,229.5 546.9,229.4 548.5,229.2 550.1,229.1 551.8,229.0 553.4,228.9 555.1,228.8 556.7,228.8 558.3,228.7 560.0,228.6 561.6,228.6 563.3,228.5 564.9,228.5 566.5,228.4 568.2,228.4 569.8,228.3 571.5,228.3 573.1,228.3 574.8,228.3 576.4,228.3 578.0,228.3 579.7,228.3 581.3,228.3 583.0,228.3 584.6,228.3 586.2,228.3 587.9,228.3 589.5,228.4 591.2,228.4 592.8,228.4 594.4,228.5 596.1,228.5 597.7,228.6 599.4,228.6 601.0,228.7 602.6,228.7 604.3,228.8 605.9,228.9 607.6,228.9 609.2,229.0 610.8,229.1 612.5,229.2 614.1,229.3 615.8,229.3 617.4,229.4 619.0,229.5 620.7,229.6 622.3,229.7 624.0,229.8 625.6,229.9 627.2,230.0 628.9,230.1 630.5,230.2 632.2,230.4 633.8,230.5 635.4,230.6" stroke="#fff03c" stroke-width="0.8"/>
<path d="M352.5,385.0 352.7,384.7 353.3,383.7 354.0,382.6 354.6,381.6 355.2,380.6 355.9,379.6 356.5,378.6 357.1,377.5 357.8,376.5 358.4,375.5 359.0,374.5 359.7,373.4 360.3,372.4 360.9,371.4 361.6,370.4 362.2,369.4 362.8,368.4 363.5,367.3 364.1,366.3 364.7,365.3 365.4,364.3 366.0,363.3 366.6,362.3 367.3,361.3 367.9,360.3 368.5,359.3 369.2,358.3 369.8,357.3 370.4,356.3 371.1,355.3 371.7,354.3 372.3,353.3 373.0,352.4 373.6,351.4 374.2,350.4 374.9,349.4 375.5,348.4 376.1,347.5 376.8,346.5 377.4,345.5 378.1,344.6 378.7,343.6 379.3,342.7 380.0,341.7 380.6,340.7 381.2,339.8 381.9,338.9 382.5,337.9 383.1,337.0 383.8,336.0 384.4,335.1 385.0,334.2 385.7,333.3 386.3,332.3 386.9,331.4 387.6,330.5 388.2,329.6 388.8,328.7 389.5,327.8 390.1,326.9 391.0,325.6 392.7,323.3 394.3,321.0 396.0,318.8 397.6,316.6 399.2,314.4 400.9,312.3 402.5,310.2 404.2,308.1 405.8,306.1 407.4,304.1 409.1,302.1 410.7,300.1 412.4,298.2 414.0,296.3 415.6,294.5 417.3,292.7 418.9,290.9 420.6,289.1 422.2,287.4 423.8,285.7 425.5,284.1 427.1,282.5 428.8,280.9 430.4,279.3 432.0,277.8 433.7,276.3 435.3,274.9 437.0,273.5 438.6,272.1 440.2,270.7 441.9,269.4 443.5,268.1 445.2,266.8 446.8,265.6 448.4,264.4 450.1,263.2 451.7,262.1 453.4,261.0 455.0,259.9 456.7,258.8 458.3,257.8 459.9,256.8 461.6,255.8 463.2,254.8 464.9,253.9 466.5,253.0 468.1,252.1 469.8,251.3 471.4,250.4 473.1,249.6 474.7,248.8 476.3,248.1 478.0,247.3 479.6,246.6 481.3,245.9 482.9,245.2 484.5,244.6 486.2,243.9 487.8,243.3 489.5,242.7 491.1,242.1 492.7,241.6 494.4,241.0 496.0,240.5 497.7,240.0 499.3,239.5 500.9,239.0 502.6,238.5 504.2,238.1 505.9,237.7 507.5,237.2 509.1,236.8 510.8,236.4 512.4,236.1 514.1,235.7 515.7,235.4 517.3,235.0 519.0,234.7 520.6,234.4 522.3,234.1 523.9,233.8 525.5,233.5 527.2,233.3 528.8,233.0 530.5,232.8 532.1,232.5 533.7,232.3 535.4,232.1 537.0,231.9 538.7,231.7 540.3,231.5 541.9,231.3 543.6,231.2 545.2,231.0 546.9,230.9 548.5,230.7 550.1,230.6 551.8,230.4 553.4,230.3 555.1,230.2 556.7,230.1 558.3,230.0 560.0,229.9 561.6,229.8 563.3,229.8 564.9,229.7 566.5,229.6 568.2,229.6 569.8,229.5 571.5,229.5 573.1,229.4 574.8,229.4 576.4,229.4 578.0,229.3 579.7,229.3 581.3,229.3 583.0,229.3 584.6,229.3 586.2,229.3 587.9,229.3 589.5,229.3 591.2,229.3 592.8,229.3 594.4,229.4 596.1,229.4 597.7,229.4 599.4,229.5 601.0,229.5 602.6,229.5 604.3,229.6 605.9,229.6 607.6,229.7 609.2,229.7 610.8,229.8 612.5,229.9 614.1,229.9 615.8,230.0 617.4,230.1 619.0,230.2 620.7,230.2 622.3,230.3 624.0,230.4 625.6,230.5 627.2,230.6 628.9,230.7 630.5,230.8 632.2,230.9 633.8,231.0 635.4,231.1" stroke="#ffdc34" stroke-width="0.8"/>
<path d="M352.5,385.0 352.7,384.7 353.3,383.7 354.0,382.7 354.6,381.8 355.2,380.8 355.9,379.8 356.5,378.8 357.1,377.8 357.8,376.8 358.4,375.8 359.0,374.9 359.7,373.9 360.3,372.9 360.9,371.9 361.6,370.9 362.2,370.0 362.8,369.0 363.5,368.0 364.1,367.0 364.7,366.1 365.4,365.1 366.0,364.1 366.6,363.1 367.3,362.2 367.9,361.2 368.5,360.3 369.2,359.3 369.8,358.3 370.4,357.4 371.1,356.4 371.7,355.5 372.3,354.5 373.0,353.6 373.6,352.6 374.2,351.7 374.9,350.7 375.5,349.8 376.1,348.8 376.8,347.9 377.4,347.0 378.1,346.0 378.7,345.1 379.3,344.2 380.0,343.3 380.6,342.3 381.2,341.4 381.9,340.5 382.5,339.6 383.1,338.7 383.8,337.8 384.4,336.9 385.0,336.0 385.7,335.1 386.3,334.2 386.9,333.3 387.6,332.4 388.2,331.6 388.8,330.7 389.5,329.8 390.1,328.9 391.0,327.7 392.7,325.4 394.3,323.2 396.0,321.1 397.6,318.9 399.2,316.8 400.9,314.7 402.5,312.7 404.2,310.6 405.8,308.6 407.4,306.7 409.1,304.7 410.7,302.8 412.4,300.9 414.0,299.1 415.6,297.3 417.3,295.5 418.9,293.7 420.6,292.0 422.2,290.3 423.8,288.6 425.5,287.0 427.1,285.4 428.8,283.8 430.4,282.3 432.0,280.8 433.7,279.3 435.3,277.9 437.0,276.4 438.6,275.1 440.2,273.7 441.9,272.4 443.5,271.1 445.2,269.8 446.8,268.6 448.4,267.3 450.1,266.2 451.7,265.0 453.4,263.9 455.0,262.8 456.7,261.7 458.3,260.6 459.9,259.6 461.6,258.6 463.2,257.6 464.9,256.7 466.5,255.8 468.1,254.9 469.8,254.0 471.4,253.1 473.1,252.3 474.7,251.5 476.3,250.7 478.0,249.9 479.6,249.2 481.3,248.5 482.9,247.8 484.5,247.1 486.2,246.4 487.8,245.8 489.5,245.1 491.1,244.5 492.7,243.9 494.4,243.4 496.0,242.8 497.7,242.3 499.3,241.7 500.9,241.2 502.6,240.7 504.2,240.3 505.9,239.8 507.5,239.4 509.1,238.9 510.8,238.5 512.4,238.1 514.1,237.7 515.7,237.3 517.3,237.0 519.0,236.6 520.6,236.3 522.3,236.0 523.9,235.6 525.5,235.3 527.2,235.0 528.8,234.8 530.5,234.5 532.1,234.2 533.7,234.0 535.4,233.8 537.0,233.5 538.7,233.3 540.3,233.1 541.9,232.9 543.6,232.7 545.2,232.5 546.9,232.3 548.5,232.2 550.1,232.0 551.8,231.9 553.4,231.7 555.1,231.6 556.7,231.5 558.3,231.3 560.0,231.2 561.6,231.1 563.3,231.0 564.9,230.9 566.5,230.8 568.2,230.8 569.8,230.7 571.5,230.6 573.1,230.6 574.8,230.5 576.4,230.5 578.0,230.4 579.7,230.4 581.3,230.3 583.0,230.3 584.6,230.3 586.2,230.3 587.9,230.3 589.5,230.2 591.2,230.2 592.8,230.2 594.4,230.2 596.1,230.3 597.7,230.3 599.4,230.3 601.0,230.3 602.6,230.3 604.3,230.4 605.9,230.4 607.6,230.4 609.2,230.5 610.8,230.5 612.5,230.6 614.1,230.6 615.8,230.7 617.4,230.7 619.0,230.8 620.7,230.9 622.3,230.9 624.0,231.0 625.6,231.1 627.2,231.2 628.9,231.2 630.5,231.3 632.2,231.4 633.8,231.5 635.4,231.6" stroke="#ffc82c" stroke-width="0.8"/>
<path d="M352.5,385.0 352.7,384.7 353.3,383.8 354.0,382.8 354.6,381.9 355.2,380.9 355.9,380.0 356.5,379.0 357.1,378.1 357.8,377.1 358.4,376.2 359.0,375.2 359.7,374.3 360.3,373.3 360.9,372.4 361.6,371.4 362.2,370.5 362.8,369.6 363.5,368.6 364.1,367.7 364.7,366.7 365.4,365.8 366.0,364.9 366.6,363.9 367.3,363.0 367.9,362.1 368.5,361.1 369.2,360.2 369.8,359.3 370.4,358.4 371.1,357.4 371.7,356.5 372.3,355.6 373.0,354.7 373.6,353.8 374.2,352.8 374.9,351.9 375.5,351.0 376.1,350.1 376.8,349.2 377.4,348.3 378.1,347.4 378.7,346.5 379.3,345.6 380.0,344.7 380.6,343.8 381.2,342.9 381.9,342.1 382.5,341.2 383.1,340.3 383.8,339.4 384.4,338.6 385.0,337.7 385.7,336.8 386.3,336.0 386.9,335.1 387.6,334.2 388.2,333.4 388.8,332.5 389.5,331.7 390.1,330.8 391.0,329.6 392.7,327.4 394.3,325.3 396.0,323.2 397.6,321.1 399.2,319.0 400.9,317.0 402.5,315.0 404.2,313.0 405.8,311.1 407.4,309.1 409.1,307.2 410.7,305.4 412.4,303.5 414.0,301.7 415.6,299.9 417.3,298.1 418.9,296.4 420.6,294.7 422.2,293.0 423.8,291.4 425.5,289.8 427.1,288.2 428.8,286.6 430.4,285.1 432.0,283.6 433.7,282.1 435.3,280.7 437.0,279.3 438.6,277.9 440.2,276.5 441.9,275.2 443.5,273.9 445.2,272.6 446.8,271.4 448.4,270.2 450.1,269.0 451.7,267.8 453.4,266.7 455.0,265.6 456.7,264.5 458.3,263.4 459.9,262.4 461.6,261.4 463.2,260.4 464.9,259.4 466.5,258.5 468.1,257.5 469.8,256.6 471.4,255.8 473.1,254.9 474.7,254.1 476.3,253.3 478.0,252.5 479.6,251.7 481.3,251.0 482.9,250.2 484.5,249.5 486.2,248.8 487.8,248.2 489.5,247.5 491.1,246.9 492.7,246.3 494.4,245.7 496.0,245.1 497.7,244.5 499.3,244.0 500.9,243.4 502.6,242.9 504.2,242.4 505.9,241.9 507.5,241.5 509.1,241.0 510.8,240.6 512.4,240.1 514.1,239.7 515.7,239.3 517.3,238.9 519.0,238.5 520.6,238.2 522.3,237.8 523.9,237.5 525.5,237.2 527.2,236.8 528.8,236.5 530.5,236.2 532.1,235.9 533.7,235.7 535.4,235.4 537.0,235.2 538.7,234.9 540.3,234.7 541.9,234.5 543.6,234.2 545.2,234.0 546.9,233.8 548.5,233.6 550.1,233.5 551.8,233.3 553.4,233.1 555.1,233.0 556.7,232.8 558.3,232.7 560.0,232.5 561.6,232.4 563.3,232.3 564.9,232.2 566.5,232.1 568.2,232.0 569.8,231.9 571.5,231.8 573.1,231.7 574.8,231.6 576.4,231.6 578.0,231.5 579.7,231.4 581.3,231.4 583.0,231.3 584.6,231.3 586.2,231.3 587.9,231.2 589.5,231.2 591.2,231.2 592.8,231.2 594.4,231.2 596.1,231.1 597.7,231.1 599.4,231.1 601.0,231.2 602.6,231.2 604.3,231.2 605.9,231.2 607.6,231.2 609.2,231.2 610.8,231.3 612.5,231.3 614.1,231.3 615.8,231.4 617.4,231.4 619.0,231.5 620.7,231.5 622.3,231.6 624.0,231.6 625.6,231.7 627.2,231.8 628.9,231.8 630.5,231.9 632.2,232.0 633.8,232.1 635.4,232.1" stroke="#ffb220" stroke-width="0.8"/>
<path d="M352.5,385.0 352.7,384.7 353.3,383.8 354.0,382.9 354.6,382.0 355.2,381.1 355.9,380.1 356.5,379.2 357.1,378.3 357.8,377.4 358.4,376.5 359.0,375.6 359.7,374.7 360.3,373.7 360.9,372.8 361.6,371.9 362.2,371.0 362.8,370.1 363.5,369.2 364.1,368.3 364.7,367.4 365.4,366.5 366.0,365.6 366.6,364.7 367.3,363.8 367.9,362.9 368.5,362.0 369.2,361.1 369.8,360.2 370.4,359.3 371.1,358.4 371.7,357.5 372.3,356.6 373.0,355.7 373.6,354.8 374.2,354.0 374.9,353.1 375.5,352.2 376.1,351.3 376.8,350.4 377.4,349.6 378.1,348.7 378.7,347.8 379.3,347.0 380.0,346.1 380.6,345.2 381.2,344.4 381.9,343.5 382.5,342.7 383.1,341.8 383.8,341.0 384.4,340.1 385.0,339.3 385.7,338.4 386.3,337.6 386.9,336.8 387.6,335.9 388.2,335.1 388.8,334.3 389.5,333.4 390.1,332.6 391.0,331.4 392.7,329.3 394.3,327.2 396.0,325.2 397.6,323.1 399.2,321.1 400.9,319.2 402.5,317.2 404.2,315.3 405.8,313.3 407.4,311.5 409.1,309.6 410.7,307.8 412.4,305.9 414.0,304.2 415.6,302.4 417.3,300.7 418.9,299.0 420.6,297.3 422.2,295.6 423.8,294.0 425.5,292.4 427.1,290.9 428.8,289.3 430.4,287.8 432.0,286.3 433.7,284.9 435.3,283.4 437.0,282.0 438.6,280.6 440.2,279.3 441.9,278.0 443.5,276.7 445.2,275.4 446.8,274.1 448.4,272.9 450.1,271.7 451.7,270.5 453.4,269.4 455.0,268.3 456.7,267.2 458.3,266.1 459.9,265.0 461.6,264.0 463.2,263.0 464.9,262.0 466.5,261.1 468.1,260.1 469.8,259.2 471.4,258.3 473.1,257.5 474.7,256.6 476.3,255.8 478.0,255.0 479.6,254.2 481.3,253.4 482.9,252.7 484.5,251.9 486.2,251.2 487.8,250.5 489.5,249.9 491.1,249.2 492.7,248.6 494.4,247.9 496.0,247.3 497.7,246.7 499.3,246.2 500.9,245.6 502.6,245.1 504.2,244.5 505.9,244.0 507.5,243.5 509.1,243.1 510.8,242.6 512.4,242.1 514.1,241.7 515.7,241.3 517.3,240.9 519.0,240.5 520.6,240.1 522.3,239.7 523.9,239.3 525.5,239.0 527.2,238.6 528.8,238.3 530.5,238.0 532.1,237.7 533.7,237.4 535.4,237.1 537.0,236.8 538.7,236.5 540.3,236.3 541.9,236.0 543.6,235.8 545.2,235.6 546.9,235.3 548.5,235.1 550.1,234.9 551.8,234.7 553.4,234.6 555.1,234.4 556.7,234.2 558.3,234.0 560.0,233.9 561.6,233.7 563.3,233.6 564.9,233.5 566.5,233.3 568.2,233.2 569.8,233.1 571.5,233.0 573.1,232.9 574.8,232.8 576.4,232.7 578.0,232.6 579.7,232.5 581.3,232.5 583.0,232.4 584.6,232.4 586.2,232.3 587.9,232.2 589.5,232.2 591.2,232.2 592.8,232.1 594.4,232.1 596.1,232.1 597.7,232.1 599.4,232.0 601.0,232.0 602.6,232.0 604.3,232.0 605.9,232.0 607.6,232.0 609.2,232.0 610.8,232.1 612.5,232.1 614.1,232.1 615.8,232.1 617.4,232.2 619.0,232.2 620.7,232.2 622.3,232.3 624.0,232.3 625.6,232.4 627.2,232.4 628.9,232.5 630.5,232.5 632.2,232.6 633.8,232.7 635.4,232.7" stroke="#ff9910" stroke-width="0.8"/>
<path d="M352.5,385.0 352.7,384.7 353.3,383.9 354.0,383.0 354.6,382.1 355.2,381.2 355.9,380.3 356.5,379.4 357.1,378.5 357.8,377.7 358.4,376.8 359.0,375.9 359.7,375.0 360.3,374.1 360.9,373.2 361.6,372.4 362.2,371.5 362.8,370.6 363.5,369.7 364.1,368.9 364.7,368.0 365.4,367.1 366.0,366.2 366.6,365.4 367.3,364.5 367.9,363.6 368.5,362.7 369.2,361.9 369.8,361.0 370.4,360.2 371.1,359.3 371.7,358.4 372.3,357.6 373.0,356.7 373.6,355.9 374.2,355.0 374.9,354.1 375.5,353.3 376.1,352.4 376.8,351.6 377.4,350.7 378.1,349.9 378.7,349.1 379.3,348.2 380.0,347.4 380.6,346.5 381.2,345.7 381.9,344.9 382.5,344.1 383.1,343.2 383.8,342.4 384.4,341.6 385.0,340.8 385.7,340.0 386.3,339.1 386.9,338.3 387.6,337.5 388.2,336.7 388.8,335.9 389.5,335.1 390.1,334.3 391.0,333.1 392.7,331.1 394.3,329.1 396.0,327.1 397.6,325.1 399.2,323.1 400.9,321.2 402.5,319.3 404.2,317.4 405.8,315.5 407.4,313.7 409.1,311.9 410.7,310.1 412.4,308.3 414.0,306.5 415.6,304.8 417.3,303.1 418.9,301.4 420.6,299.8 422.2,298.2 423.8,296.5 425.5,295.0 427.1,293.4 428.8,291.9 430.4,290.4 432.0,288.9 433.7,287.5 435.3,286.1 437.0,284.7 438.6,283.3 440.2,281.9 441.9,280.6 443.5,279.3 445.2,278.0 446.8,276.8 448.4,275.6 450.1,274.4 451.7,273.2 453.4,272.0 455.0,270.9 456.7,269.8 458.3,268.7 459.9,267.7 461.6,266.6 463.2,265.6 464.9,264.6 466.5,263.7 468.1,262.7 469.8,261.8 471.4,260.9 473.1,260.0 474.7,259.1 476.3,258.3 478.0,257.5 479.6,256.6 481.3,255.9 482.9,255.1 484.5,254.3 486.2,253.6 487.8,252.9 489.5,252.2 491.1,251.5 492.7,250.9 494.4,250.2 496.0,249.6 497.7,249.0 499.3,248.4 500.9,247.8 502.6,247.2 504.2,246.7 505.9,246.2 507.5,245.6 509.1,245.1 510.8,244.6 512.4,244.2 514.1,243.7 515.7,243.3 517.3,242.8 519.0,242.4 520.6,242.0 522.3,241.6 523.9,241.2 525.5,240.8 527.2,240.5 528.8,240.1 530.5,239.8 532.1,239.4 533.7,239.1 535.4,238.8 537.0,238.5 538.7,238.2 540.3,237.9 541.9,237.7 543.6,237.4 545.2,237.2 546.9,236.9 548.5,236.7 550.1,236.5 551.8,236.2 553.4,236.0 555.1,235.8 556.7,235.6 558.3,235.5 560.0,235.3 561.6,235.1 563.3,234.9 564.9,234.8 566.5,234.6 568.2,234.5 569.8,234.4 571.5,234.2 573.1,234.1 574.8,234.0 576.4,233.9 578.0,233.8 579.7,233.7 581.3,233.6 583.0,233.5 584.6,233.5 586.2,233.4 587.9,233.3 589.5,233.3 591.2,233.2 592.8,233.2 594.4,233.1 596.1,233.1 597.7,233.0 599.4,233.0 601.0,233.0 602.6,233.0 604.3,232.9 605.9,232.9 607.6,232.9 609.2,232.9 610.8,232.9 612.5,232.9 614.1,232.9 615.8,232.9 617.4,233.0 619.0,233.0 620.7,233.0 622.3,233.0 624.0,233.1 625.6,233.1 627.2,233.1 628.9,233.2 630.5,233.2 632.2,233.3 633.8,233.3 635.4,233.4" stroke="#ff8000" stroke-width="2.3"/>
<path d="M352.5,385.0 352.7,384.7 353.3,383.9 354.0,383.0 354.6,382.2 355.2,381.3 355.9,380.5 356.5,379.6 357.1,378.8 357.8,377.9 358.4,377.0 359.0,376.2 359.7,375.3 360.3,374.5 360.9,373.6 361.6,372.8 362.2,371.9 362.8,371.1 363.5,370.2 364.1,369.4 364.7,368.5 365.4,367.7 366.0,366.8 366.6,366.0 367.3,365.2 367.9,364.3 368.5,363.5 369.2,362.6 369.8,361.8 370.4,361.0 371.1,360.1 371.7,359.3 372.3,358.5 373.0,357.6 373.6,356.8 374.2,356.0 374.9,355.1 375.5,354.3 376.1,353.5 376.8,352.7 377.4,351.8 378.1,351.0 378.7,350.2 379.3,349.4 380.0,348.6 380.6,347.8 381.2,347.0 381.9,346.2 382.5,345.4 383.1,344.6 383.8,343.8 384.4,343.0 385.0,342.2 385.7,341.4 386.3,340.6 386.9,339.8 387.6,339.0 388.2,338.2 388.8,337.4 389.5,336.7 390.1,335.9 391.0,334.7 392.7,332.7 394.3,330.8 396.0,328.8 397.6,326.9 399.2,325.0 400.9,323.1 402.5,321.2 404.2,319.4 405.8,317.6 407.4,315.7 409.1,314.0 410.7,312.2 412.4,310.5 414.0,308.7 415.6,307.0 417.3,305.4 418.9,303.7 420.6,302.1 422.2,300.5 423.8,298.9 425.5,297.4 427.1,295.8 428.8,294.3 430.4,292.8 432.0,291.4 433.7,289.9 435.3,288.5 437.0,287.1 438.6,285.8 440.2,284.4 441.9,283.1 443.5,281.8 445.2,280.6 446.8,279.3 448.4,278.1 450.1,276.9 451.7,275.7 453.4,274.6 455.0,273.4 456.7,272.3 458.3,271.2 459.9,270.2 461.6,269.1 463.2,268.1 464.9,267.1 466.5,266.1 468.1,265.2 469.8,264.2 471.4,263.3 473.1,262.4 474.7,261.5 476.3,260.7 478.0,259.8 479.6,259.0 481.3,258.2 482.9,257.4 484.5,256.6 486.2,255.9 487.8,255.2 489.5,254.4 491.1,253.7 492.7,253.1 494.4,252.4 496.0,251.8 497.7,251.1 499.3,250.5 500.9,249.9 502.6,249.3 504.2,248.8 505.9,248.2 507.5,247.7 509.1,247.1 510.8,246.6 512.4,246.1 514.1,245.6 515.7,245.2 517.3,244.7 519.0,244.3 520.6,243.8 522.3,243.4 523.9,243.0 525.5,242.6 527.2,242.2 528.8,241.8 530.5,241.5 532.1,241.1 533.7,240.8 535.4,240.5 537.0,240.1 538.7,239.8 540.3,239.5 541.9,239.2 543.6,239.0 545.2,238.7 546.9,238.4 548.5,238.2 550.1,237.9 551.8,237.7 553.4,237.5 555.1,237.2 556.7,237.0 558.3,236.8 560.0,236.6 561.6,236.4 563.3,236.3 564.9,236.1 566.5,235.9 568.2,235.8 569.8,235.6 571.5,235.5 573.1,235.3 574.8,235.2 576.4,235.1 578.0,234.9 579.7,234.8 581.3,234.7 583.0,234.6 584.6,234.5 586.2,234.4 587.9,234.4 589.5,234.3 591.2,234.2 592.8,234.1 594.4,234.1 596.1,234.0 597.7,234.0 599.4,233.9 601.0,233.9 602.6,233.9 604.3,233.8 605.9,233.8 607.6,233.8 609.2,233.8 610.8,233.7 612.5,233.7 614.1,233.7 615.8,233.7 617.4,233.7 619.0,233.7 620.7,233.7 622.3,233.8 624.0,233.8 625.6,233.8 627.2,233.8 628.9,233.9 630.5,233.9 632.2,233.9 633.8,234.0 635.4,234.0" stroke="#ff7406" stroke-width="0.8"/>
<path d="M352.5,385.0 352.7,384.8 353.3,383.9 354.0,383.1 354.6,382.3 355.2,381.4 355.9,380.6 356.5,379.8 357.1,378.9 357.8,378.1 358.4,377.3 359.0,376.5 359.7,375.6 360.3,374.8 360.9,374.0 361.6,373.2 362.2,372.3 362.8,371.5 363.5,370.7 364.1,369.9 364.7,369.0 365.4,368.2 366.0,367.4 366.6,366.6 367.3,365.8 367.9,364.9 368.5,364.1 369.2,363.3 369.8,362.5 370.4,361.7 371.1,360.9 371.7,360.1 372.3,359.3 373.0,358.5 373.6,357.7 374.2,356.8 374.9,356.0 375.5,355.2 376.1,354.4 376.8,353.6 377.4,352.8 378.1,352.1 378.7,351.3 379.3,350.5 380.0,349.7 380.6,348.9 381.2,348.1 381.9,347.3 382.5,346.5 383.1,345.8 383.8,345.0 384.4,344.2 385.0,343.4 385.7,342.7 386.3,341.9 386.9,341.1 387.6,340.4 388.2,339.6 388.8,338.8 389.5,338.1 390.1,337.3 391.0,336.2 392.7,334.3 394.3,332.3 396.0,330.4 397.6,328.6 399.2,326.7 400.9,324.8 402.5,323.0 404.2,321.2 405.8,319.4 407.4,317.6 409.1,315.9 410.7,314.2 412.4,312.5 414.0,310.8 415.6,309.1 417.3,307.5 418.9,305.8 420.6,304.2 422.2,302.7 423.8,301.1 425.5,299.6 427.1,298.0 428.8,296.6 430.4,295.1 432.0,293.6 433.7,292.2 435.3,290.8 437.0,289.4 438.6,288.1 440.2,286.7 441.9,285.4 443.5,284.1 445.2,282.9 446.8,281.6 448.4,280.4 450.1,279.2 451.7,278.0 453.4,276.9 455.0,275.7 456.7,274.6 458.3,273.5 459.9,272.5 461.6,271.4 463.2,270.4 464.9,269.4 466.5,268.4 468.1,267.4 469.8,266.5 471.4,265.5 473.1,264.6 474.7,263.7 476.3,262.8 478.0,262.0 479.6,261.2 481.3,260.3 482.9,259.5 484.5,258.8 486.2,258.0 487.8,257.2 489.5,256.5 491.1,255.8 492.7,255.1 494.4,254.4 496.0,253.8 497.7,253.1 499.3,252.5 500.9,251.9 502.6,251.3 504.2,250.7 505.9,250.1 507.5,249.5 509.1,249.0 510.8,248.4 512.4,247.9 514.1,247.4 515.7,246.9 517.3,246.5 519.0,246.0 520.6,245.5 522.3,245.1 523.9,244.7 525.5,244.2 527.2,243.8 528.8,243.4 530.5,243.1 532.1,242.7 533.7,242.3 535.4,242.0 537.0,241.6 538.7,241.3 540.3,241.0 541.9,240.7 543.6,240.4 545.2,240.1 546.9,239.8 548.5,239.5 550.1,239.2 551.8,239.0 553.4,238.7 555.1,238.5 556.7,238.3 558.3,238.1 560.0,237.8 561.6,237.6 563.3,237.4 564.9,237.2 566.5,237.1 568.2,236.9 569.8,236.7 571.5,236.5 573.1,236.4 574.8,236.2 576.4,236.1 578.0,236.0 579.7,235.8 581.3,235.7 583.0,235.6 584.6,235.5 586.2,235.4 587.9,235.3 589.5,235.2 591.2,235.1 592.8,235.0 594.4,234.9 596.1,234.9 597.7,234.8 599.4,234.7 601.0,234.7 602.6,234.6 604.3,234.6 605.9,234.5 607.6,234.5 609.2,234.5 610.8,234.4 612.5,234.4 614.1,234.4 615.8,234.4 617.4,234.4 619.0,234.4 620.7,234.4 622.3,234.4 624.0,234.4 625.6,234.4 627.2,234.4 628.9,234.4 630.5,234.4 632.2,234.5 633.8,234.5 635.4,234.5" stroke="#ff690c" stroke-width="0.8"/>
<path d="M352.5,385.0 352.7,384.8 353.3,384.0 354.0,383.1 354.6,382.3 355.2,381.5 355.9,380.7 356.5,379.9 357.1,379.1 357.8,378.3 358.4,377.5 359.0,376.7 359.7,375.9 360.3,375.1 360.9,374.3 361.6,373.5 362.2,372.7 362.8,371.9 363.5,371.1 364.1,370.3 364.7,369.5 365.4,368.7 366.0,367.9 366.6,367.1 367.3,366.3 367.9,365.5 368.5,364.7 369.2,363.9 369.8,363.2 370.4,362.4 371.1,361.6 371.7,360.8 372.3,360.0 373.0,359.2 373.6,358.4 374.2,357.7 374.9,356.9 375.5,356.1 376.1,355.3 376.8,354.5 377.4,353.8 378.1,353.0 378.7,352.2 379.3,351.5 380.0,350.7 380.6,349.9 381.2,349.2 381.9,348.4 382.5,347.6 383.1,346.9 383.8,346.1 384.4,345.4 385.0,344.6 385.7,343.8 386.3,343.1 386.9,342.3 387.6,341.6 388.2,340.9 388.8,340.1 389.5,339.4 390.1,338.6 391.0,337.5 392.7,335.7 394.3,333.8 396.0,331.9 397.6,330.1 399.2,328.3 400.9,326.5 402.5,324.7 404.2,322.9 405.8,321.1 407.4,319.4 409.1,317.7 410.7,316.0 412.4,314.3 414.0,312.6 415.6,311.0 417.3,309.4 418.9,307.8 420.6,306.2 422.2,304.7 423.8,303.1 425.5,301.6 427.1,300.1 428.8,298.6 430.4,297.2 432.0,295.7 433.7,294.3 435.3,292.9 437.0,291.6 438.6,290.2 440.2,288.9 441.9,287.6 443.5,286.3 445.2,285.1 446.8,283.8 448.4,282.6 450.1,281.4 451.7,280.2 453.4,279.1 455.0,277.9 456.7,276.8 458.3,275.7 459.9,274.6 461.6,273.6 463.2,272.5 464.9,271.5 466.5,270.5 468.1,269.5 469.8,268.6 471.4,267.6 473.1,266.7 474.7,265.8 476.3,264.9 478.0,264.1 479.6,263.2 481.3,262.4 482.9,261.6 484.5,260.8 486.2,260.0 487.8,259.2 489.5,258.5 491.1,257.7 492.7,257.0 494.4,256.3 496.0,255.6 497.7,255.0 499.3,254.3 500.9,253.7 502.6,253.1 504.2,252.5 505.9,251.9 507.5,251.3 509.1,250.7 510.8,250.2 512.4,249.6 514.1,249.1 515.7,248.6 517.3,248.1 519.0,247.6 520.6,247.1 522.3,246.7 523.9,246.2 525.5,245.8 527.2,245.4 528.8,244.9 530.5,244.5 532.1,244.2 533.7,243.8 535.4,243.4 537.0,243.0 538.7,242.7 540.3,242.3 541.9,242.0 543.6,241.7 545.2,241.4 546.9,241.1 548.5,240.8 550.1,240.5 551.8,240.2 553.4,240.0 555.1,239.7 556.7,239.5 558.3,239.2 560.0,239.0 561.6,238.8 563.3,238.5 564.9,238.3 566.5,238.1 568.2,237.9 569.8,237.7 571.5,237.6 573.1,237.4 574.8,237.2 576.4,237.1 578.0,236.9 579.7,236.8 581.3,236.6 583.0,236.5 584.6,236.4 586.2,236.2 587.9,236.1 589.5,236.0 591.2,235.9 592.8,235.8 594.4,235.7 596.1,235.6 597.7,235.6 599.4,235.5 601.0,235.4 602.6,235.3 604.3,235.3 605.9,235.2 607.6,235.2 609.2,235.1 610.8,235.1 612.5,235.1 614.1,235.0 615.8,235.0 617.4,235.0 619.0,235.0 620.7,234.9 622.3,234.9 624.0,234.9 625.6,234.9 627.2,234.9 628.9,234.9 630.5,234.9 632.2,234.9 633.8,235.0 635.4,235.0" stroke="#ff5d12" stroke-width="0.8"/>
<path d="M352.5,385.0 352.7,384.8 353.3,384.0 354.0,383.2 354.6,382.4 355.2,381.6 355.9,380.9 356.5,380.1 357.1,379.3 357.8,378.5 358.4,377.7 359.0,376.9 359.7,376.2 360.3,375.4 360.9,374.6 361.6,373.8 362.2,373.1 362.8,372.3 363.5,371.5 364.1,370.7 364.7,369.9 365.4,369.2 366.0,368.4 366.6,367.6 367.3,366.8 367.9,366.1 368.5,365.3 369.2,364.5 369.8,363.8 370.4,363.0 371.1,362.2 371.7,361.5 372.3,360.7 373.0,359.9 373.6,359.2 374.2,358.4 374.9,357.7 375.5,356.9 376.1,356.1 376.8,355.4 377.4,354.6 378.1,353.9 378.7,353.1 379.3,352.4 380.0,351.6 380.6,350.9 381.2,350.1 381.9,349.4 382.5,348.6 383.1,347.9 383.8,347.2 384.4,346.4 385.0,345.7 385.7,345.0 386.3,344.2 386.9,343.5 387.6,342.8 388.2,342.0 388.8,341.3 389.5,340.6 390.1,339.9 391.0,338.8 392.7,337.0 394.3,335.1 396.0,333.3 397.6,331.5 399.2,329.7 400.9,328.0 402.5,326.2 404.2,324.5 405.8,322.8 407.4,321.1 409.1,319.4 410.7,317.7 412.4,316.1 414.0,314.4 415.6,312.8 417.3,311.2 418.9,309.6 420.6,308.1 422.2,306.5 423.8,305.0 425.5,303.5 427.1,302.1 428.8,300.6 430.4,299.2 432.0,297.7 433.7,296.3 435.3,295.0 437.0,293.6 438.6,292.3 440.2,291.0 441.9,289.7 443.5,288.4 445.2,287.1 446.8,285.9 448.4,284.7 450.1,283.5 451.7,282.3 453.4,281.1 455.0,280.0 456.7,278.9 458.3,277.8 459.9,276.7 461.6,275.6 463.2,274.6 464.9,273.6 466.5,272.6 468.1,271.6 469.8,270.6 471.4,269.7 473.1,268.7 474.7,267.8 476.3,266.9 478.0,266.0 479.6,265.2 481.3,264.3 482.9,263.5 484.5,262.7 486.2,261.9 487.8,261.1 489.5,260.4 491.1,259.6 492.7,258.9 494.4,258.2 496.0,257.5 497.7,256.8 499.3,256.1 500.9,255.5 502.6,254.8 504.2,254.2 505.9,253.6 507.5,253.0 509.1,252.4 510.8,251.8 512.4,251.3 514.1,250.7 515.7,250.2 517.3,249.7 519.0,249.2 520.6,248.7 522.3,248.2 523.9,247.8 525.5,247.3 527.2,246.9 528.8,246.4 530.5,246.0 532.1,245.6 533.7,245.2 535.4,244.8 537.0,244.4 538.7,244.0 540.3,243.7 541.9,243.3 543.6,243.0 545.2,242.7 546.9,242.3 548.5,242.0 550.1,241.7 551.8,241.4 553.4,241.2 555.1,240.9 556.7,240.6 558.3,240.4 560.0,240.1 561.6,239.9 563.3,239.6 564.9,239.4 566.5,239.2 568.2,239.0 569.8,238.8 571.5,238.6 573.1,238.4 574.8,238.2 576.4,238.0 578.0,237.9 579.7,237.7 581.3,237.5 583.0,237.4 584.6,237.2 586.2,237.1 587.9,237.0 589.5,236.8 591.2,236.7 592.8,236.6 594.4,236.5 596.1,236.4 597.7,236.3 599.4,236.2 601.0,236.1 602.6,236.1 604.3,236.0 605.9,235.9 607.6,235.8 609.2,235.8 610.8,235.7 612.5,235.7 614.1,235.6 615.8,235.6 617.4,235.6 619.0,235.5 620.7,235.5 622.3,235.5 624.0,235.5 625.6,235.4 627.2,235.4 628.9,235.4 630.5,235.4 632.2,235.4 633.8,235.4 635.4,235.4" stroke="#ff5218" stroke-width="0.8"/>
<path d="M352.5,385.0 352.7,384.8 353.3,384.0 354.0,383.3 354.6,382.5 355.2,381.7 355.9,381.0 356.5,380.2 357.1,379.4 357.8,378.7 358.4,377.9 359.0,377.2 359.7,376.4 360.3,375.7 360.9,374.9 361.6,374.1 362.2,373.4 362.8,372.6 363.5,371.9 364.1,371.1 364.7,370.4 365.4,369.6 366.0,368.9 366.6,368.1 367.3,367.3 367.9,366.6 368.5,365.8 369.2,365.1 369.8,364.3 370.4,363.6 371.1,362.9 371.7,362.1 372.3,361.4 373.0,360.6 373.6,359.9 374.2,359.1 374.9,358.4 375.5,357.7 376.1,356.9 376.8,356.2 377.4,355.4 378.1,354.7 378.7,354.0 379.3,353.2 380.0,352.5 380.6,351.8 381.2,351.1 381.9,350.3 382.5,349.6 383.1,348.9 383.8,348.2 384.4,347.5 385.0,346.7 385.7,346.0 386.3,345.3 386.9,344.6 387.6,343.9 388.2,343.2 388.8,342.5 389.5,341.8 390.1,341.1 391.0,340.0 392.7,338.2 394.3,336.4 396.0,334.7 397.6,332.9 399.2,331.1 400.9,329.4 402.5,327.7 404.2,326.0 405.8,324.3 407.4,322.6 409.1,321.0 410.7,319.3 412.4,317.7 414.0,316.1 415.6,314.5 417.3,313.0 418.9,311.4 420.6,309.9 422.2,308.4 423.8,306.9 425.5,305.4 427.1,303.9 428.8,302.5 430.4,301.1 432.0,299.7 433.7,298.3 435.3,296.9 437.0,295.6 438.6,294.2 440.2,292.9 441.9,291.6 443.5,290.4 445.2,289.1 446.8,287.9 448.4,286.7 450.1,285.5 451.7,284.3 453.4,283.1 455.0,282.0 456.7,280.9 458.3,279.8 459.9,278.7 461.6,277.6 463.2,276.6 464.9,275.6 466.5,274.6 468.1,273.6 469.8,272.6 471.4,271.6 473.1,270.7 474.7,269.8 476.3,268.9 478.0,268.0 479.6,267.1 481.3,266.3 482.9,265.4 484.5,264.6 486.2,263.8 487.8,263.0 489.5,262.2 491.1,261.5 492.7,260.7 494.4,260.0 496.0,259.3 497.7,258.6 499.3,257.9 500.9,257.2 502.6,256.6 504.2,255.9 505.9,255.3 507.5,254.7 509.1,254.1 510.8,253.5 512.4,253.0 514.1,252.4 515.7,251.8 517.3,251.3 519.0,250.8 520.6,250.3 522.3,249.8 523.9,249.3 525.5,248.8 527.2,248.4 528.8,247.9 530.5,247.5 532.1,247.0 533.7,246.6 535.4,246.2 537.0,245.8 538.7,245.4 540.3,245.1 541.9,244.7 543.6,244.3 545.2,244.0 546.9,243.6 548.5,243.3 550.1,243.0 551.8,242.7 553.4,242.4 555.1,242.1 556.7,241.8 558.3,241.5 560.0,241.3 561.6,241.0 563.3,240.7 564.9,240.5 566.5,240.3 568.2,240.0 569.8,239.8 571.5,239.6 573.1,239.4 574.8,239.2 576.4,239.0 578.0,238.8 579.7,238.6 581.3,238.5 583.0,238.3 584.6,238.2 586.2,238.0 587.9,237.9 589.5,237.7 591.2,237.6 592.8,237.5 594.4,237.3 596.1,237.2 597.7,237.1 599.4,237.0 601.0,236.9 602.6,236.8 604.3,236.7 605.9,236.6 607.6,236.6 609.2,236.5 610.8,236.4 612.5,236.4 614.1,236.3 615.8,236.2 617.4,236.2 619.0,236.1 620.7,236.1 622.3,236.1 624.0,236.0 625.6,236.0 627.2,236.0 628.9,236.0 630.5,236.0 632.2,235.9 633.8,235.9 635.4,235.9" stroke="#ff461e" stroke-width="0.8"/>
<path d="M352.5,385.0 352.7,384.8 353.3,384.0 354.0,383.3 354.6,382.6 355.2,381.8 355.9,381.1 356.5,380.3 357.1,379.6 357.8,378.9 358.4,378.1 359.0,377.4 359.7,376.6 360.3,375.9 360.9,375.2 361.6,374.4 362.2,373.7 362.8,373.0 363.5,372.2 364.1,371.5 364.7,370.8 365.4,370.0 366.0,369.3 366.6,368.6 367.3,367.8 367.9,367.1 368.5,366.4 369.2,365.6 369.8,364.9 370.4,364.2 371.1,363.4 371.7,362.7 372.3,362.0 373.0,361.3 373.6,360.6 374.2,359.8 374.9,359.1 375.5,358.4 376.1,357.7 376.8,357.0 377.4,356.2 378.1,355.5 378.7,354.8 379.3,354.1 380.0,353.4 380.6,352.7 381.2,352.0 381.9,351.3 382.5,350.6 383.1,349.8 383.8,349.1 384.4,348.4 385.0,347.7 385.7,347.0 386.3,346.3 386.9,345.7 387.6,345.0 388.2,344.3 388.8,343.6 389.5,342.9 390.1,342.2 391.0,341.2 392.7,339.4 394.3,337.7 396.0,335.9 397.6,334.2 399.2,332.5 400.9,330.8 402.5,329.1 404.2,327.5 405.8,325.8 407.4,324.2 409.1,322.5 410.7,320.9 412.4,319.3 414.0,317.8 415.6,316.2 417.3,314.7 418.9,313.1 420.6,311.6 422.2,310.1 423.8,308.7 425.5,307.2 427.1,305.8 428.8,304.3 430.4,302.9 432.0,301.6 433.7,300.2 435.3,298.8 437.0,297.5 438.6,296.2 440.2,294.9 441.9,293.6 443.5,292.3 445.2,291.1 446.8,289.9 448.4,288.7 450.1,287.5 451.7,286.3 453.4,285.1 455.0,284.0 456.7,282.9 458.3,281.8 459.9,280.7 461.6,279.6 463.2,278.6 464.9,277.6 466.5,276.6 468.1,275.6 469.8,274.6 471.4,273.6 473.1,272.7 474.7,271.7 476.3,270.8 478.0,269.9 479.6,269.1 481.3,268.2 482.9,267.4 484.5,266.5 486.2,265.7 487.8,264.9 489.5,264.1 491.1,263.4 492.7,262.6 494.4,261.9 496.0,261.1 497.7,260.4 499.3,259.7 500.9,259.0 502.6,258.4 504.2,257.7 505.9,257.1 507.5,256.5 509.1,255.8 510.8,255.2 512.4,254.7 514.1,254.1 515.7,253.5 517.3,253.0 519.0,252.4 520.6,251.9 522.3,251.4 523.9,250.9 525.5,250.4 527.2,249.9 528.8,249.5 530.5,249.0 532.1,248.6 533.7,248.1 535.4,247.7 537.0,247.3 538.7,246.9 540.3,246.5 541.9,246.1 543.6,245.7 545.2,245.4 546.9,245.0 548.5,244.7 550.1,244.3 551.8,244.0 553.4,243.7 555.1,243.4 556.7,243.1 558.3,242.8 560.0,242.5 561.6,242.2 563.3,241.9 564.9,241.7 566.5,241.4 568.2,241.2 569.8,241.0 571.5,240.7 573.1,240.5 574.8,240.3 576.4,240.1 578.0,239.9 579.7,239.7 581.3,239.5 583.0,239.3 584.6,239.2 586.2,239.0 587.9,238.8 589.5,238.7 591.2,238.5 592.8,238.4 594.4,238.2 596.1,238.1 597.7,238.0 599.4,237.9 601.0,237.8 602.6,237.6 604.3,237.5 605.9,237.5 607.6,237.4 609.2,237.3 610.8,237.2 612.5,237.1 614.1,237.0 615.8,237.0 617.4,236.9 619.0,236.9 620.7,236.8 622.3,236.8 624.0,236.7 625.6,236.7 627.2,236.6 628.9,236.6 630.5,236.6 632.2,236.6 633.8,236.5 635.4,236.5" stroke="#ff3818" stroke-width="0.8"/>
<path d="M352.5,385.0 352.7,384.8 353.3,384.1 354.0,383.3 354.6,382.6 355.2,381.9 355.9,381.2 356.5,380.5 357.1,379.7 357.8,379.0 358.4,378.3 359.0,377.6 359.7,376.9 360.3,376.2 360.9,375.4 361.6,374.7 362.2,374.0 362.8,373.3 363.5,372.6 364.1,371.9 364.7,371.1 365.4,370.4 366.0,369.7 366.6,369.0 367.3,368.3 367.9,367.6 368.5,366.9 369.2,366.2 369.8,365.4 370.4,364.7 371.1,364.0 371.7,363.3 372.3,362.6 373.0,361.9 373.6,361.2 374.2,360.5 374.9,359.8 375.5,359.1 376.1,358.4 376.8,357.7 377.4,357.0 378.1,356.3 378.7,355.6 379.3,354.9 380.0,354.2 380.6,353.5 381.2,352.8 381.9,352.2 382.5,351.5 383.1,350.8 383.8,350.1 384.4,349.4 385.0,348.7 385.7,348.0 386.3,347.4 386.9,346.7 387.6,346.0 388.2,345.3 388.8,344.7 389.5,344.0 390.1,343.3 391.0,342.3 392.7,340.6 394.3,338.9 396.0,337.2 397.6,335.5 399.2,333.8 400.9,332.2 402.5,330.5 404.2,328.9 405.8,327.3 407.4,325.7 409.1,324.1 410.7,322.5 412.4,320.9 414.0,319.4 415.6,317.9 417.3,316.4 418.9,314.9 420.6,313.4 422.2,311.9 423.8,310.4 425.5,309.0 427.1,307.6 428.8,306.2 430.4,304.8 432.0,303.4 433.7,302.1 435.3,300.7 437.0,299.4 438.6,298.1 440.2,296.8 441.9,295.6 443.5,294.3 445.2,293.1 446.8,291.9 448.4,290.7 450.1,289.5 451.7,288.3 453.4,287.2 455.0,286.0 456.7,284.9 458.3,283.8 459.9,282.7 461.6,281.7 463.2,280.6 464.9,279.6 466.5,278.6 468.1,277.6 469.8,276.6 471.4,275.6 473.1,274.7 474.7,273.8 476.3,272.8 478.0,271.9 479.6,271.1 481.3,270.2 482.9,269.3 484.5,268.5 486.2,267.7 487.8,266.9 489.5,266.1 491.1,265.3 492.7,264.5 494.4,263.8 496.0,263.0 497.7,262.3 499.3,261.6 500.9,260.9 502.6,260.2 504.2,259.6 505.9,258.9 507.5,258.3 509.1,257.7 510.8,257.0 512.4,256.4 514.1,255.9 515.7,255.3 517.3,254.7 519.0,254.2 520.6,253.6 522.3,253.1 523.9,252.6 525.5,252.1 527.2,251.6 528.8,251.1 530.5,250.6 532.1,250.2 533.7,249.7 535.4,249.3 537.0,248.8 538.7,248.4 540.3,248.0 541.9,247.6 543.6,247.2 545.2,246.9 546.9,246.5 548.5,246.1 550.1,245.8 551.8,245.4 553.4,245.1 555.1,244.8 556.7,244.5 558.3,244.1 560.0,243.8 561.6,243.6 563.3,243.3 564.9,243.0 566.5,242.7 568.2,242.5 569.8,242.2 571.5,242.0 573.1,241.7 574.8,241.5 576.4,241.3 578.0,241.1 579.7,240.9 581.3,240.7 583.0,240.5 584.6,240.3 586.2,240.1 587.9,239.9 589.5,239.8 591.2,239.6 592.8,239.4 594.4,239.3 596.1,239.1 597.7,239.0 599.4,238.9 601.0,238.7 602.6,238.6 604.3,238.5 605.9,238.4 607.6,238.3 609.2,238.2 610.8,238.1 612.5,238.0 614.1,237.9 615.8,237.8 617.4,237.8 619.0,237.7 620.7,237.6 622.3,237.6 624.0,237.5 625.6,237.5 627.2,237.4 628.9,237.4 630.5,237.3 632.2,237.3 633.8,237.3 635.4,237.3" stroke="#ff2a12" stroke-width="0.8"/>
<path d="M352.5,385.0 352.7,384.8 353.3,384.1 354.0,383.4 354.6,382.7 355.2,382.0 355.9,381.3 356.5,380.6 357.1,379.9 357.8,379.2 358.4,378.5 359.0,377.8 359.7,377.1 360.3,376.4 360.9,375.7 361.6,375.0 362.2,374.3 362.8,373.6 363.5,372.9 364.1,372.2 364.7,371.5 365.4,370.8 366.0,370.1 366.6,369.4 367.3,368.7 367.9,368.1 368.5,367.4 369.2,366.7 369.8,366.0 370.4,365.3 371.1,364.6 371.7,363.9 372.3,363.2 373.0,362.5 373.6,361.9 374.2,361.2 374.9,360.5 375.5,359.8 376.1,359.1 376.8,358.4 377.4,357.8 378.1,357.1 378.7,356.4 379.3,355.7 380.0,355.1 380.6,354.4 381.2,353.7 381.9,353.0 382.5,352.4 383.1,351.7 383.8,351.0 384.4,350.4 385.0,349.7 385.7,349.0 386.3,348.4 386.9,347.7 387.6,347.1 388.2,346.4 388.8,345.7 389.5,345.1 390.1,344.4 391.0,343.5 392.7,341.8 394.3,340.1 396.0,338.5 397.6,336.8 399.2,335.2 400.9,333.6 402.5,331.9 404.2,330.3 405.8,328.8 407.4,327.2 409.1,325.6 410.7,324.1 412.4,322.6 414.0,321.0 415.6,319.5 417.3,318.0 418.9,316.6 420.6,315.1 422.2,313.7 423.8,312.2 425.5,310.8 427.1,309.4 428.8,308.0 430.4,306.7 432.0,305.3 433.7,304.0 435.3,302.7 437.0,301.4 438.6,300.1 440.2,298.8 441.9,297.6 443.5,296.3 445.2,295.1 446.8,293.9 448.4,292.7 450.1,291.5 451.7,290.4 453.4,289.2 455.0,288.1 456.7,287.0 458.3,285.9 459.9,284.8 461.6,283.8 463.2,282.7 464.9,281.7 466.5,280.7 468.1,279.7 469.8,278.7 471.4,277.7 473.1,276.8 474.7,275.9 476.3,274.9 478.0,274.0 479.6,273.1 481.3,272.3 482.9,271.4 484.5,270.6 486.2,269.7 487.8,268.9 489.5,268.1 491.1,267.3 492.7,266.6 494.4,265.8 496.0,265.1 497.7,264.3 499.3,263.6 500.9,262.9 502.6,262.2 504.2,261.5 505.9,260.9 507.5,260.2 509.1,259.6 510.8,259.0 512.4,258.4 514.1,257.8 515.7,257.2 517.3,256.6 519.0,256.0 520.6,255.5 522.3,254.9 523.9,254.4 525.5,253.9 527.2,253.4 528.8,252.9 530.5,252.4 532.1,251.9 533.7,251.5 535.4,251.0 537.0,250.6 538.7,250.1 540.3,249.7 541.9,249.3 543.6,248.9 545.2,248.5 546.9,248.1 548.5,247.7 550.1,247.4 551.8,247.0 553.4,246.7 555.1,246.3 556.7,246.0 558.3,245.7 560.0,245.4 561.6,245.1 563.3,244.8 564.9,244.5 566.5,244.2 568.2,243.9 569.8,243.6 571.5,243.4 573.1,243.1 574.8,242.9 576.4,242.7 578.0,242.4 579.7,242.2 581.3,242.0 583.0,241.8 584.6,241.6 586.2,241.4 587.9,241.2 589.5,241.0 591.2,240.8 592.8,240.7 594.4,240.5 596.1,240.3 597.7,240.2 599.4,240.0 601.0,239.9 602.6,239.8 604.3,239.6 605.9,239.5 607.6,239.4 609.2,239.3 610.8,239.2 612.5,239.1 614.1,239.0 615.8,238.9 617.4,238.8 619.0,238.7 620.7,238.7 622.3,238.6 624.0,238.5 625.6,238.5 627.2,238.4 628.9,238.3 630.5,238.3 632.2,238.2 633.8,238.2 635.4,238.2" stroke="#ff1c0c" stroke-width="0.8"/>
<path d="M352.5,385.0 352.7,384.8 353.3,384.1 354.0,383.4 354.6,382.8 355.2,382.1 355.9,381.4 356.5,380.7 357.1,380.0 357.8,379.4 358.4,378.7 359.0,378.0 359.7,377.3 360.3,376.6 360.9,376.0 361.6,375.3 362.2,374.6 362.8,373.9 363.5,373.3 364.1,372.6 364.7,371.9 365.4,371.2 366.0,370.6 366.6,369.9 367.3,369.2 367.9,368.5 368.5,367.9 369.2,367.2 369.8,366.5 370.4,365.9 371.1,365.2 371.7,364.5 372.3,363.8 373.0,363.2 373.6,362.5 374.2,361.9 374.9,361.2 375.5,360.5 376.1,359.9 376.8,359.2 377.4,358.5 378.1,357.9 378.7,357.2 379.3,356.6 380.0,355.9 380.6,355.2 381.2,354.6 381.9,353.9 382.5,353.3 383.1,352.6 383.8,352.0 384.4,351.3 385.0,350.7 385.7,350.0 386.3,349.4 386.9,348.8 387.6,348.1 388.2,347.5 388.8,346.8 389.5,346.2 390.1,345.6 391.0,344.6 392.7,343.0 394.3,341.3 396.0,339.7 397.6,338.1 399.2,336.5 400.9,334.9 402.5,333.4 404.2,331.8 405.8,330.3 407.4,328.7 409.1,327.2 410.7,325.7 412.4,324.2 414.0,322.7 415.6,321.2 417.3,319.8 418.9,318.3 420.6,316.9 422.2,315.5 423.8,314.1 425.5,312.7 427.1,311.3 428.8,310.0 430.4,308.6 432.0,307.3 433.7,306.0 435.3,304.7 437.0,303.4 438.6,302.1 440.2,300.9 441.9,299.6 443.5,298.4 445.2,297.2 446.8,296.0 448.4,294.8 450.1,293.7 451.7,292.5 453.4,291.4 455.0,290.3 456.7,289.2 458.3,288.1 459.9,287.0 461.6,285.9 463.2,284.9 464.9,283.9 466.5,282.9 468.1,281.9 469.8,280.9 471.4,279.9 473.1,279.0 474.7,278.1 476.3,277.1 478.0,276.2 479.6,275.3 481.3,274.5 482.9,273.6 484.5,272.8 486.2,271.9 487.8,271.1 489.5,270.3 491.1,269.5 492.7,268.7 494.4,268.0 496.0,267.2 497.7,266.5 499.3,265.8 500.9,265.1 502.6,264.4 504.2,263.7 505.9,263.0 507.5,262.3 509.1,261.7 510.8,261.1 512.4,260.4 514.1,259.8 515.7,259.2 517.3,258.6 519.0,258.1 520.6,257.5 522.3,257.0 523.9,256.4 525.5,255.9 527.2,255.4 528.8,254.9 530.5,254.4 532.1,253.9 533.7,253.4 535.4,252.9 537.0,252.5 538.7,252.0 540.3,251.6 541.9,251.2 543.6,250.7 545.2,250.3 546.9,249.9 548.5,249.6 550.1,249.2 551.8,248.8 553.4,248.4 555.1,248.1 556.7,247.7 558.3,247.4 560.0,247.1 561.6,246.8 563.3,246.4 564.9,246.1 566.5,245.8 568.2,245.6 569.8,245.3 571.5,245.0 573.1,244.7 574.8,244.5 576.4,244.2 578.0,244.0 579.7,243.8 581.3,243.5 583.0,243.3 584.6,243.1 586.2,242.9 587.9,242.7 589.5,242.5 591.2,242.3 592.8,242.1 594.4,241.9 596.1,241.8 597.7,241.6 599.4,241.4 601.0,241.3 602.6,241.1 604.3,241.0 605.9,240.9 607.6,240.7 609.2,240.6 610.8,240.5 612.5,240.4 614.1,240.3 615.8,240.2 617.4,240.1 619.0,240.0 620.7,239.9 622.3,239.8 624.0,239.7 625.6,239.7 627.2,239.6 628.9,239.5 630.5,239.5 632.2,239.4 633.8,239.3 635.4,239.3" stroke="#ff0e06" stroke-width="0.8"/>
<path d="M352.5,385.0 352.7,384.8 353.3,384.1 354.0,383.5 354.6,382.8 355.2,382.2 355.9,381.5 356.5,380.8 357.1,380.2 357.8,379.5 358.4,378.9 359.0,378.2 359.7,377.6 360.3,376.9 360.9,376.2 361.6,375.6 362.2,374.9 362.8,374.3 363.5,373.6 364.1,373.0 364.7,372.3 365.4,371.6 366.0,371.0 366.6,370.3 367.3,369.7 367.9,369.0 368.5,368.4 369.2,367.7 369.8,367.1 370.4,366.4 371.1,365.8 371.7,365.1 372.3,364.5 373.0,363.8 373.6,363.2 374.2,362.5 374.9,361.9 375.5,361.2 376.1,360.6 376.8,360.0 377.4,359.3 378.1,358.7 378.7,358.0 379.3,357.4 380.0,356.8 380.6,356.1 381.2,355.5 381.9,354.9 382.5,354.2 383.1,353.6 383.8,353.0 384.4,352.3 385.0,351.7 385.7,351.1 386.3,350.4 386.9,349.8 387.6,349.2 388.2,348.6 388.8,347.9 389.5,347.3 390.1,346.7 391.0,345.8 392.7,344.2 394.3,342.6 396.0,341.0 397.6,339.5 399.2,337.9 400.9,336.4 402.5,334.8 404.2,333.3 405.8,331.8 407.4,330.3 409.1,328.8 410.7,327.3 412.4,325.9 414.0,324.4 415.6,323.0 417.3,321.5 418.9,320.1 420.6,318.7 422.2,317.3 423.8,316.0 425.5,314.6 427.1,313.3 428.8,311.9 430.4,310.6 432.0,309.3 433.7,308.0 435.3,306.7 437.0,305.5 438.6,304.2 440.2,303.0 441.9,301.8 443.5,300.6 445.2,299.4 446.8,298.2 448.4,297.0 450.1,295.9 451.7,294.7 453.4,293.6 455.0,292.5 456.7,291.4 458.3,290.4 459.9,289.3 461.6,288.2 463.2,287.2 464.9,286.2 466.5,285.2 468.1,284.2 469.8,283.2 471.4,282.3 473.1,281.3 474.7,280.4 476.3,279.5 478.0,278.6 479.6,277.7 481.3,276.8 482.9,276.0 484.5,275.1 486.2,274.3 487.8,273.5 489.5,272.7 491.1,271.9 492.7,271.1 494.4,270.3 496.0,269.6 497.7,268.8 499.3,268.1 500.9,267.4 502.6,266.7 504.2,266.0 505.9,265.3 507.5,264.6 509.1,264.0 510.8,263.3 512.4,262.7 514.1,262.1 515.7,261.5 517.3,260.9 519.0,260.3 520.6,259.7 522.3,259.2 523.9,258.6 525.5,258.1 527.2,257.6 528.8,257.0 530.5,256.5 532.1,256.0 533.7,255.5 535.4,255.1 537.0,254.6 538.7,254.1 540.3,253.7 541.9,253.3 543.6,252.8 545.2,252.4 546.9,252.0 548.5,251.6 550.1,251.2 551.8,250.8 553.4,250.5 555.1,250.1 556.7,249.7 558.3,249.4 560.0,249.0 561.6,248.7 563.3,248.4 564.9,248.1 566.5,247.8 568.2,247.5 569.8,247.2 571.5,246.9 573.1,246.6 574.8,246.3 576.4,246.1 578.0,245.8 579.7,245.6 581.3,245.3 583.0,245.1 584.6,244.9 586.2,244.6 587.9,244.4 589.5,244.2 591.2,244.0 592.8,243.8 594.4,243.6 596.1,243.5 597.7,243.3 599.4,243.1 601.0,242.9 602.6,242.8 604.3,242.6 605.9,242.5 607.6,242.3 609.2,242.2 610.8,242.1 612.5,241.9 614.1,241.8 615.8,241.7 617.4,241.6 619.0,241.5 620.7,241.4 622.3,241.3 624.0,241.2 625.6,241.1 627.2,241.0 628.9,241.0 630.5,240.9 632.2,240.8 633.8,240.8 635.4,240.7" stroke="#ff0000" stroke-width="2.3"/>
<path d="M352.5,385.0 352.7,384.8 353.3,384.2 354.0,383.5 354.6,382.9 355.2,382.3 355.9,381.6 356.5,381.0 357.1,380.3 357.8,379.7 358.4,379.1 359.0,378.4 359.7,377.8 360.3,377.1 360.9,376.5 361.6,375.9 362.2,375.2 362.8,374.6 363.5,374.0 364.1,373.3 364.7,372.7 365.4,372.0 366.0,371.4 366.6,370.8 367.3,370.1 367.9,369.5 368.5,368.9 369.2,368.2 369.8,367.6 370.4,367.0 371.1,366.3 371.7,365.7 372.3,365.1 373.0,364.5 373.6,363.8 374.2,363.2 374.9,362.6 375.5,362.0 376.1,361.3 376.8,360.7 377.4,360.1 378.1,359.5 378.7,358.8 379.3,358.2 380.0,357.6 380.6,357.0 381.2,356.4 381.9,355.7 382.5,355.1 383.1,354.5 383.8,353.9 384.4,353.3 385.0,352.7 385.7,352.1 386.3,351.4 386.9,350.8 387.6,350.2 388.2,349.6 388.8,349.0 389.5,348.4 390.1,347.8 391.0,346.9 392.7,345.4 394.3,343.8 396.0,342.3 397.6,340.8 399.2,339.3 400.9,337.8 402.5,336.3 404.2,334.8 405.8,333.3 407.4,331.8 409.1,330.4 410.7,328.9 412.4,327.5 414.0,326.1 415.6,324.7 417.3,323.3 418.9,321.9 420.6,320.5 422.2,319.2 423.8,317.8 425.5,316.5 427.1,315.2 428.8,313.9 430.4,312.6 432.0,311.3 433.7,310.0 435.3,308.8 437.0,307.5 438.6,306.3 440.2,305.1 441.9,303.9 443.5,302.7 445.2,301.5 446.8,300.4 448.4,299.2 450.1,298.1 451.7,297.0 453.4,295.8 455.0,294.8 456.7,293.7 458.3,292.6 459.9,291.6 461.6,290.5 463.2,289.5 464.9,288.5 466.5,287.5 468.1,286.5 469.8,285.6 471.4,284.6 473.1,283.7 474.7,282.7 476.3,281.8 478.0,280.9 479.6,280.0 481.3,279.2 482.9,278.3 484.5,277.5 486.2,276.6 487.8,275.8 489.5,275.0 491.1,274.2 492.7,273.4 494.4,272.7 496.0,271.9 497.7,271.2 499.3,270.4 500.9,269.7 502.6,269.0 504.2,268.3 505.9,267.6 507.5,266.9 509.1,266.3 510.8,265.6 512.4,265.0 514.1,264.4 515.7,263.8 517.3,263.2 519.0,262.6 520.6,262.0 522.3,261.4 523.9,260.9 525.5,260.3 527.2,259.8 528.8,259.2 530.5,258.7 532.1,258.2 533.7,257.7 535.4,257.2 537.0,256.8 538.7,256.3 540.3,255.8 541.9,255.4 543.6,254.9 545.2,254.5 546.9,254.1 548.5,253.7 550.1,253.3 551.8,252.9 553.4,252.5 555.1,252.1 556.7,251.8 558.3,251.4 560.0,251.0 561.6,250.7 563.3,250.4 564.9,250.0 566.5,249.7 568.2,249.4 569.8,249.1 571.5,248.8 573.1,248.5 574.8,248.2 576.4,248.0 578.0,247.7 579.7,247.4 581.3,247.2 583.0,246.9 584.6,246.7 586.2,246.4 587.9,246.2 589.5,246.0 591.2,245.8 592.8,245.6 594.4,245.4 596.1,245.2 597.7,245.0 599.4,244.8 601.0,244.6 602.6,244.5 604.3,244.3 605.9,244.1 607.6,244.0 609.2,243.8 610.8,243.7 612.5,243.5 614.1,243.4 615.8,243.3 617.4,243.2 619.0,243.0 620.7,242.9 622.3,242.8 624.0,242.7 625.6,242.6 627.2,242.5 628.9,242.4 630.5,242.4 632.2,242.3 633.8,242.2 635.4,242.1" stroke="#fa0000" stroke-width="0.8"/>
<path d="M352.5,385.0 352.7,384.8 353.3,384.2 354.0,383.6 354.6,383.0 355.2,382.3 355.9,381.7 356.5,381.1 357.1,380.5 357.8,379.8 358.4,379.2 359.0,378.6 359.7,378.0 360.3,377.4 360.9,376.7 361.6,376.1 362.2,375.5 362.8,374.9 363.5,374.3 364.1,373.6 364.7,373.0 365.4,372.4 366.0,371.8 366.6,371.2 367.3,370.6 367.9,369.9 368.5,369.3 369.2,368.7 369.8,368.1 370.4,367.5 371.1,366.9 371.7,366.3 372.3,365.7 373.0,365.0 373.6,364.4 374.2,363.8 374.9,363.2 375.5,362.6 376.1,362.0 376.8,361.4 377.4,360.8 378.1,360.2 378.7,359.6 379.3,359.0 380.0,358.4 380.6,357.8 381.2,357.2 381.9,356.6 382.5,356.0 383.1,355.4 383.8,354.8 384.4,354.2 385.0,353.6 385.7,353.0 386.3,352.4 386.9,351.8 387.6,351.2 388.2,350.6 388.8,350.0 389.5,349.4 390.1,348.8 391.0,348.0 392.7,346.5 394.3,345.0 396.0,343.5 397.6,342.0 399.2,340.5 400.9,339.0 402.5,337.6 404.2,336.1 405.8,334.7 407.4,333.3 409.1,331.8 410.7,330.4 412.4,329.0 414.0,327.6 415.6,326.3 417.3,324.9 418.9,323.5 420.6,322.2 422.2,320.9 423.8,319.5 425.5,318.2 427.1,316.9 428.8,315.7 430.4,314.4 432.0,313.1 433.7,311.9 435.3,310.6 437.0,309.4 438.6,308.2 440.2,307.0 441.9,305.8 443.5,304.7 445.2,303.5 446.8,302.4 448.4,301.2 450.1,300.1 451.7,299.0 453.4,297.9 455.0,296.8 456.7,295.8 458.3,294.7 459.9,293.7 461.6,292.6 463.2,291.6 464.9,290.6 466.5,289.6 468.1,288.7 469.8,287.7 471.4,286.8 473.1,285.8 474.7,284.9 476.3,284.0 478.0,283.1 479.6,282.2 481.3,281.3 482.9,280.5 484.5,279.6 486.2,278.8 487.8,278.0 489.5,277.2 491.1,276.4 492.7,275.6 494.4,274.8 496.0,274.1 497.7,273.3 499.3,272.6 500.9,271.9 502.6,271.1 504.2,270.4 505.9,269.8 507.5,269.1 509.1,268.4 510.8,267.8 512.4,267.1 514.1,266.5 515.7,265.9 517.3,265.2 519.0,264.6 520.6,264.1 522.3,263.5 523.9,262.9 525.5,262.4 527.2,261.8 528.8,261.3 530.5,260.7 532.1,260.2 533.7,259.7 535.4,259.2 537.0,258.7 538.7,258.3 540.3,257.8 541.9,257.3 543.6,256.9 545.2,256.4 546.9,256.0 548.5,255.6 550.1,255.2 551.8,254.8 553.4,254.4 555.1,254.0 556.7,253.6 558.3,253.2 560.0,252.8 561.6,252.5 563.3,252.1 564.9,251.8 566.5,251.5 568.2,251.1 569.8,250.8 571.5,250.5 573.1,250.2 574.8,249.9 576.4,249.6 578.0,249.4 579.7,249.1 581.3,248.8 583.0,248.6 584.6,248.3 586.2,248.1 587.9,247.8 589.5,247.6 591.2,247.4 592.8,247.1 594.4,246.9 596.1,246.7 597.7,246.5 599.4,246.3 601.0,246.1 602.6,245.9 604.3,245.8 605.9,245.6 607.6,245.4 609.2,245.3 610.8,245.1 612.5,245.0 614.1,244.8 615.8,244.7 617.4,244.5 619.0,244.4 620.7,244.3 622.3,244.2 624.0,244.0 625.6,243.9 627.2,243.8 628.9,243.7 630.5,243.6 632.2,243.5 633.8,243.5 635.4,243.4" stroke="#f50000" stroke-width="0.8"/>
<path d="M352.5,385.0 352.7,384.8 353.3,384.2 354.0,383.6 354.6,383.0 355.2,382.4 355.9,381.8 356.5,381.2 357.1,380.6 357.8,380.0 358.4,379.4 359.0,378.8 359.7,378.2 360.3,377.6 360.9,377.0 361.6,376.4 362.2,375.8 362.8,375.2 363.5,374.6 364.1,374.0 364.7,373.4 365.4,372.8 366.0,372.2 366.6,371.6 367.3,371.0 367.9,370.4 368.5,369.8 369.2,369.2 369.8,368.6 370.4,368.0 371.1,367.4 371.7,366.8 372.3,366.2 373.0,365.6 373.6,365.0 374.2,364.4 374.9,363.8 375.5,363.2 376.1,362.6 376.8,362.0 377.4,361.4 378.1,360.8 378.7,360.2 379.3,359.7 380.0,359.1 380.6,358.5 381.2,357.9 381.9,357.3 382.5,356.7 383.1,356.1 383.8,355.6 384.4,355.0 385.0,354.4 385.7,353.8 386.3,353.2 386.9,352.7 387.6,352.1 388.2,351.5 388.8,350.9 389.5,350.4 390.1,349.8 391.0,348.9 392.7,347.5 394.3,346.0 396.0,344.5 397.6,343.1 399.2,341.7 400.9,340.2 402.5,338.8 404.2,337.4 405.8,336.0 407.4,334.6 409.1,333.2 410.7,331.8 412.4,330.4 414.0,329.1 415.6,327.7 417.3,326.4 418.9,325.1 420.6,323.7 422.2,322.4 423.8,321.1 425.5,319.9 427.1,318.6 428.8,317.3 430.4,316.1 432.0,314.8 433.7,313.6 435.3,312.4 437.0,311.2 438.6,310.0 440.2,308.8 441.9,307.6 443.5,306.5 445.2,305.3 446.8,304.2 448.4,303.1 450.1,302.0 451.7,300.9 453.4,299.8 455.0,298.7 456.7,297.7 458.3,296.6 459.9,295.6 461.6,294.6 463.2,293.6 464.9,292.6 466.5,291.6 468.1,290.6 469.8,289.7 471.4,288.7 473.1,287.8 474.7,286.9 476.3,286.0 478.0,285.1 479.6,284.2 481.3,283.3 482.9,282.5 484.5,281.6 486.2,280.8 487.8,280.0 489.5,279.2 491.1,278.4 492.7,277.6 494.4,276.8 496.0,276.1 497.7,275.3 499.3,274.6 500.9,273.8 502.6,273.1 504.2,272.4 505.9,271.7 507.5,271.0 509.1,270.4 510.8,269.7 512.4,269.1 514.1,268.4 515.7,267.8 517.3,267.2 519.0,266.6 520.6,266.0 522.3,265.4 523.9,264.8 525.5,264.2 527.2,263.7 528.8,263.1 530.5,262.6 532.1,262.1 533.7,261.5 535.4,261.0 537.0,260.5 538.7,260.0 540.3,259.6 541.9,259.1 543.6,258.6 545.2,258.2 546.9,257.7 548.5,257.3 550.1,256.9 551.8,256.5 553.4,256.0 555.1,255.6 556.7,255.3 558.3,254.9 560.0,254.5 561.6,254.1 563.3,253.8 564.9,253.4 566.5,253.1 568.2,252.7 569.8,252.4 571.5,252.1 573.1,251.8 574.8,251.4 576.4,251.1 578.0,250.8 579.7,250.6 581.3,250.3 583.0,250.0 584.6,249.7 586.2,249.5 587.9,249.2 589.5,249.0 591.2,248.7 592.8,248.5 594.4,248.3 596.1,248.1 597.7,247.8 599.4,247.6 601.0,247.4 602.6,247.2 604.3,247.0 605.9,246.9 607.6,246.7 609.2,246.5 610.8,246.3 612.5,246.2 614.1,246.0 615.8,245.9 617.4,245.7 619.0,245.6 620.7,245.4 622.3,245.3 624.0,245.2 625.6,245.1 627.2,244.9 628.9,244.8 630.5,244.7 632.2,244.6 633.8,244.5 635.4,244.4" stroke="#f00000" stroke-width="0.8"/>
<path d="M352.5,385.0 352.7,384.8 353.3,384.2 354.0,383.6 354.6,383.1 355.2,382.5 355.9,381.9 356.5,381.3 357.1,380.7 357.8,380.1 358.4,379.5 359.0,378.9 359.7,378.4 360.3,377.8 360.9,377.2 361.6,376.6 362.2,376.0 362.8,375.4 363.5,374.8 364.1,374.2 364.7,373.7 365.4,373.1 366.0,372.5 366.6,371.9 367.3,371.3 367.9,370.7 368.5,370.1 369.2,369.6 369.8,369.0 370.4,368.4 371.1,367.8 371.7,367.2 372.3,366.7 373.0,366.1 373.6,365.5 374.2,364.9 374.9,364.3 375.5,363.8 376.1,363.2 376.8,362.6 377.4,362.0 378.1,361.5 378.7,360.9 379.3,360.3 380.0,359.7 380.6,359.2 381.2,358.6 381.9,358.0 382.5,357.5 383.1,356.9 383.8,356.3 384.4,355.7 385.0,355.2 385.7,354.6 386.3,354.0 386.9,353.5 387.6,352.9 388.2,352.4 388.8,351.8 389.5,351.2 390.1,350.7 391.0,349.8 392.7,348.4 394.3,347.0 396.0,345.6 397.6,344.1 399.2,342.7 400.9,341.3 402.5,339.9 404.2,338.5 405.8,337.2 407.4,335.8 409.1,334.4 410.7,333.1 412.4,331.7 414.0,330.4 415.6,329.1 417.3,327.8 418.9,326.5 420.6,325.2 422.2,323.9 423.8,322.6 425.5,321.4 427.1,320.1 428.8,318.9 430.4,317.6 432.0,316.4 433.7,315.2 435.3,314.0 437.0,312.8 438.6,311.7 440.2,310.5 441.9,309.3 443.5,308.2 445.2,307.1 446.8,305.9 448.4,304.8 450.1,303.7 451.7,302.7 453.4,301.6 455.0,300.5 456.7,299.5 458.3,298.5 459.9,297.4 461.6,296.4 463.2,295.4 464.9,294.4 466.5,293.5 468.1,292.5 469.8,291.5 471.4,290.6 473.1,289.7 474.7,288.8 476.3,287.9 478.0,287.0 479.6,286.1 481.3,285.2 482.9,284.4 484.5,283.5 486.2,282.7 487.8,281.9 489.5,281.0 491.1,280.2 492.7,279.5 494.4,278.7 496.0,277.9 497.7,277.2 499.3,276.4 500.9,275.7 502.6,275.0 504.2,274.2 505.9,273.5 507.5,272.9 509.1,272.2 510.8,271.5 512.4,270.8 514.1,270.2 515.7,269.6 517.3,268.9 519.0,268.3 520.6,267.7 522.3,267.1 523.9,266.5 525.5,266.0 527.2,265.4 528.8,264.8 530.5,264.3 532.1,263.8 533.7,263.2 535.4,262.7 537.0,262.2 538.7,261.7 540.3,261.2 541.9,260.7 543.6,260.2 545.2,259.8 546.9,259.3 548.5,258.9 550.1,258.4 551.8,258.0 553.4,257.6 555.1,257.2 556.7,256.8 558.3,256.4 560.0,256.0 561.6,255.6 563.3,255.2 564.9,254.9 566.5,254.5 568.2,254.1 569.8,253.8 571.5,253.5 573.1,253.1 574.8,252.8 576.4,252.5 578.0,252.2 579.7,251.9 581.3,251.6 583.0,251.3 584.6,251.0 586.2,250.8 587.9,250.5 589.5,250.2 591.2,250.0 592.8,249.7 594.4,249.5 596.1,249.3 597.7,249.0 599.4,248.8 601.0,248.6 602.6,248.4 604.3,248.2 605.9,248.0 607.6,247.8 609.2,247.6 610.8,247.4 612.5,247.2 614.1,247.1 615.8,246.9 617.4,246.7 619.0,246.6 620.7,246.4 622.3,246.3 624.0,246.2 625.6,246.0 627.2,245.9 628.9,245.8 630.5,245.6 632.2,245.5 633.8,245.4 635.4,245.3" stroke="#eb0000" stroke-width="0.8"/>
<path d="M352.5,385.0 352.7,384.8 353.3,384.3 354.0,383.7 354.6,383.1 355.2,382.5 355.9,382.0 356.5,381.4 357.1,380.8 357.8,380.2 358.4,379.7 359.0,379.1 359.7,378.5 360.3,377.9 360.9,377.4 361.6,376.8 362.2,376.2 362.8,375.7 363.5,375.1 364.1,374.5 364.7,373.9 365.4,373.4 366.0,372.8 366.6,372.2 367.3,371.7 367.9,371.1 368.5,370.5 369.2,369.9 369.8,369.4 370.4,368.8 371.1,368.2 371.7,367.7 372.3,367.1 373.0,366.5 373.6,366.0 374.2,365.4 374.9,364.8 375.5,364.3 376.1,363.7 376.8,363.2 377.4,362.6 378.1,362.0 378.7,361.5 379.3,360.9 380.0,360.4 380.6,359.8 381.2,359.2 381.9,358.7 382.5,358.1 383.1,357.6 383.8,357.0 384.4,356.5 385.0,355.9 385.7,355.3 386.3,354.8 386.9,354.2 387.6,353.7 388.2,353.1 388.8,352.6 389.5,352.0 390.1,351.5 391.0,350.7 392.7,349.3 394.3,347.9 396.0,346.5 397.6,345.1 399.2,343.7 400.9,342.4 402.5,341.0 404.2,339.6 405.8,338.3 407.4,336.9 409.1,335.6 410.7,334.3 412.4,333.0 414.0,331.7 415.6,330.4 417.3,329.1 418.9,327.8 420.6,326.5 422.2,325.3 423.8,324.0 425.5,322.8 427.1,321.5 428.8,320.3 430.4,319.1 432.0,317.9 433.7,316.7 435.3,315.5 437.0,314.4 438.6,313.2 440.2,312.1 441.9,310.9 443.5,309.8 445.2,308.7 446.8,307.6 448.4,306.5 450.1,305.4 451.7,304.3 453.4,303.3 455.0,302.2 456.7,301.2 458.3,300.1 459.9,299.1 461.6,298.1 463.2,297.1 464.9,296.1 466.5,295.2 468.1,294.2 469.8,293.3 471.4,292.3 473.1,291.4 474.7,290.5 476.3,289.6 478.0,288.7 479.6,287.8 481.3,287.0 482.9,286.1 484.5,285.3 486.2,284.4 487.8,283.6 489.5,282.8 491.1,282.0 492.7,281.2 494.4,280.4 496.0,279.6 497.7,278.9 499.3,278.1 500.9,277.4 502.6,276.7 504.2,275.9 505.9,275.2 507.5,274.5 509.1,273.9 510.8,273.2 512.4,272.5 514.1,271.9 515.7,271.2 517.3,270.6 519.0,270.0 520.6,269.4 522.3,268.7 523.9,268.2 525.5,267.6 527.2,267.0 528.8,266.4 530.5,265.9 532.1,265.3 533.7,264.8 535.4,264.2 537.0,263.7 538.7,263.2 540.3,262.7 541.9,262.2 543.6,261.7 545.2,261.3 546.9,260.8 548.5,260.3 550.1,259.9 551.8,259.4 553.4,259.0 555.1,258.6 556.7,258.2 558.3,257.7 560.0,257.3 561.6,257.0 563.3,256.6 564.9,256.2 566.5,255.8 568.2,255.5 569.8,255.1 571.5,254.7 573.1,254.4 574.8,254.1 576.4,253.7 578.0,253.4 579.7,253.1 581.3,252.8 583.0,252.5 584.6,252.2 586.2,251.9 587.9,251.6 589.5,251.4 591.2,251.1 592.8,250.8 594.4,250.6 596.1,250.3 597.7,250.1 599.4,249.9 601.0,249.6 602.6,249.4 604.3,249.2 605.9,249.0 607.6,248.8 609.2,248.6 610.8,248.4 612.5,248.2 614.1,248.0 615.8,247.8 617.4,247.6 619.0,247.5 620.7,247.3 622.3,247.2 624.0,247.0 625.6,246.9 627.2,246.7 628.9,246.6 630.5,246.4 632.2,246.3 633.8,246.2 635.4,246.1" stroke="#de0000" stroke-width="0.8"/>
<path d="M352.5,385.0 352.7,384.8 353.3,384.3 354.0,383.7 354.6,383.2 355.2,382.6 355.9,382.0 356.5,381.5 357.1,380.9 357.8,380.3 358.4,379.8 359.0,379.2 359.7,378.7 360.3,378.1 360.9,377.6 361.6,377.0 362.2,376.4 362.8,375.9 363.5,375.3 364.1,374.8 364.7,374.2 365.4,373.6 366.0,373.1 366.6,372.5 367.3,372.0 367.9,371.4 368.5,370.9 369.2,370.3 369.8,369.7 370.4,369.2 371.1,368.6 371.7,368.1 372.3,367.5 373.0,367.0 373.6,366.4 374.2,365.9 374.9,365.3 375.5,364.8 376.1,364.2 376.8,363.7 377.4,363.1 378.1,362.6 378.7,362.0 379.3,361.5 380.0,360.9 380.6,360.4 381.2,359.8 381.9,359.3 382.5,358.7 383.1,358.2 383.8,357.7 384.4,357.1 385.0,356.6 385.7,356.0 386.3,355.5 386.9,355.0 387.6,354.4 388.2,353.9 388.8,353.3 389.5,352.8 390.1,352.3 391.0,351.5 392.7,350.1 394.3,348.7 396.0,347.4 397.6,346.0 399.2,344.7 400.9,343.3 402.5,342.0 404.2,340.6 405.8,339.3 407.4,338.0 409.1,336.7 410.7,335.4 412.4,334.1 414.0,332.8 415.6,331.6 417.3,330.3 418.9,329.0 420.6,327.8 422.2,326.5 423.8,325.3 425.5,324.1 427.1,322.9 428.8,321.7 430.4,320.5 432.0,319.3 433.7,318.1 435.3,317.0 437.0,315.8 438.6,314.7 440.2,313.5 441.9,312.4 443.5,311.3 445.2,310.2 446.8,309.1 448.4,308.0 450.1,306.9 451.7,305.9 453.4,304.8 455.0,303.8 456.7,302.8 458.3,301.7 459.9,300.7 461.6,299.7 463.2,298.7 464.9,297.8 466.5,296.8 468.1,295.8 469.8,294.9 471.4,294.0 473.1,293.0 474.7,292.1 476.3,291.2 478.0,290.3 479.6,289.5 481.3,288.6 482.9,287.7 484.5,286.9 486.2,286.1 487.8,285.2 489.5,284.4 491.1,283.6 492.7,282.8 494.4,282.0 496.0,281.3 497.7,280.5 499.3,279.7 500.9,279.0 502.6,278.3 504.2,277.6 505.9,276.8 507.5,276.1 509.1,275.4 510.8,274.8 512.4,274.1 514.1,273.4 515.7,272.8 517.3,272.1 519.0,271.5 520.6,270.9 522.3,270.3 523.9,269.7 525.5,269.1 527.2,268.5 528.8,267.9 530.5,267.3 532.1,266.8 533.7,266.2 535.4,265.7 537.0,265.2 538.7,264.6 540.3,264.1 541.9,263.6 543.6,263.1 545.2,262.6 546.9,262.2 548.5,261.7 550.1,261.2 551.8,260.8 553.4,260.3 555.1,259.9 556.7,259.5 558.3,259.0 560.0,258.6 561.6,258.2 563.3,257.8 564.9,257.4 566.5,257.0 568.2,256.7 569.8,256.3 571.5,255.9 573.1,255.6 574.8,255.2 576.4,254.9 578.0,254.5 579.7,254.2 581.3,253.9 583.0,253.6 584.6,253.3 586.2,253.0 587.9,252.7 589.5,252.4 591.2,252.1 592.8,251.8 594.4,251.6 596.1,251.3 597.7,251.1 599.4,250.8 601.0,250.6 602.6,250.3 604.3,250.1 605.9,249.9 607.6,249.6 609.2,249.4 610.8,249.2 612.5,249.0 614.1,248.8 615.8,248.6 617.4,248.4 619.0,248.3 620.7,248.1 622.3,247.9 624.0,247.7 625.6,247.6 627.2,247.4 628.9,247.3 630.5,247.1 632.2,247.0 633.8,246.9 635.4,246.7" stroke="#d00000" stroke-width="0.8"/>
<path d="M352.5,385.0 352.7,384.8 353.3,384.3 354.0,383.7 354.6,383.2 355.2,382.6 355.9,382.1 356.5,381.6 357.1,381.0 357.8,380.5 358.4,379.9 359.0,379.4 359.7,378.8 360.3,378.3 360.9,377.7 361.6,377.2 362.2,376.6 362.8,376.1 363.5,375.5 364.1,375.0 364.7,374.4 365.4,373.9 366.0,373.4 366.6,372.8 367.3,372.3 367.9,371.7 368.5,371.2 369.2,370.6 369.8,370.1 370.4,369.6 371.1,369.0 371.7,368.5 372.3,367.9 373.0,367.4 373.6,366.9 374.2,366.3 374.9,365.8 375.5,365.2 376.1,364.7 376.8,364.2 377.4,363.6 378.1,363.1 378.7,362.5 379.3,362.0 380.0,361.5 380.6,360.9 381.2,360.4 381.9,359.9 382.5,359.3 383.1,358.8 383.8,358.3 384.4,357.8 385.0,357.2 385.7,356.7 386.3,356.2 386.9,355.6 387.6,355.1 388.2,354.6 388.8,354.1 389.5,353.5 390.1,353.0 391.0,352.2 392.7,350.9 394.3,349.5 396.0,348.2 397.6,346.9 399.2,345.5 400.9,344.2 402.5,342.9 404.2,341.6 405.8,340.3 407.4,339.0 409.1,337.7 410.7,336.5 412.4,335.2 414.0,333.9 415.6,332.7 417.3,331.4 418.9,330.2 420.6,329.0 422.2,327.8 423.8,326.5 425.5,325.3 427.1,324.1 428.8,323.0 430.4,321.8 432.0,320.6 433.7,319.5 435.3,318.3 437.0,317.2 438.6,316.0 440.2,314.9 441.9,313.8 443.5,312.7 445.2,311.6 446.8,310.5 448.4,309.5 450.1,308.4 451.7,307.3 453.4,306.3 455.0,305.3 456.7,304.3 458.3,303.2 459.9,302.2 461.6,301.2 463.2,300.3 464.9,299.3 466.5,298.3 468.1,297.4 469.8,296.4 471.4,295.5 473.1,294.6 474.7,293.7 476.3,292.8 478.0,291.9 479.6,291.0 481.3,290.2 482.9,289.3 484.5,288.5 486.2,287.6 487.8,286.8 489.5,286.0 491.1,285.2 492.7,284.4 494.4,283.6 496.0,282.8 497.7,282.0 499.3,281.3 500.9,280.5 502.6,279.8 504.2,279.1 505.9,278.4 507.5,277.7 509.1,277.0 510.8,276.3 512.4,275.6 514.1,274.9 515.7,274.3 517.3,273.6 519.0,273.0 520.6,272.3 522.3,271.7 523.9,271.1 525.5,270.5 527.2,269.9 528.8,269.3 530.5,268.7 532.1,268.2 533.7,267.6 535.4,267.1 537.0,266.5 538.7,266.0 540.3,265.5 541.9,265.0 543.6,264.4 545.2,263.9 546.9,263.5 548.5,263.0 550.1,262.5 551.8,262.0 553.4,261.6 555.1,261.1 556.7,260.7 558.3,260.2 560.0,259.8 561.6,259.4 563.3,259.0 564.9,258.6 566.5,258.2 568.2,257.8 569.8,257.4 571.5,257.0 573.1,256.7 574.8,256.3 576.4,255.9 578.0,255.6 579.7,255.3 581.3,254.9 583.0,254.6 584.6,254.3 586.2,254.0 587.9,253.7 589.5,253.4 591.2,253.1 592.8,252.8 594.4,252.5 596.1,252.2 597.7,251.9 599.4,251.7 601.0,251.4 602.6,251.2 604.3,250.9 605.9,250.7 607.6,250.5 609.2,250.2 610.8,250.0 612.5,249.8 614.1,249.6 615.8,249.4 617.4,249.2 619.0,249.0 620.7,248.8 622.3,248.6 624.0,248.4 625.6,248.2 627.2,248.1 628.9,247.9 630.5,247.8 632.2,247.6 633.8,247.5 635.4,247.3" stroke="#c30000" stroke-width="0.8"/>
<path d="M352.5,385.0 352.7,384.8 353.3,384.3 354.0,383.8 354.6,383.2 355.2,382.7 355.9,382.2 356.5,381.6 357.1,381.1 357.8,380.6 358.4,380.0 359.0,379.5 359.7,379.0 360.3,378.4 360.9,377.9 361.6,377.4 362.2,376.8 362.8,376.3 363.5,375.8 364.1,375.2 364.7,374.7 365.4,374.2 366.0,373.6 366.6,373.1 367.3,372.6 367.9,372.0 368.5,371.5 369.2,371.0 369.8,370.4 370.4,369.9 371.1,369.4 371.7,368.8 372.3,368.3 373.0,367.8 373.6,367.3 374.2,366.7 374.9,366.2 375.5,365.7 376.1,365.1 376.8,364.6 377.4,364.1 378.1,363.6 378.7,363.0 379.3,362.5 380.0,362.0 380.6,361.5 381.2,361.0 381.9,360.4 382.5,359.9 383.1,359.4 383.8,358.9 384.4,358.4 385.0,357.8 385.7,357.3 386.3,356.8 386.9,356.3 387.6,355.8 388.2,355.3 388.8,354.7 389.5,354.2 390.1,353.7 391.0,352.9 392.7,351.6 394.3,350.3 396.0,349.0 397.6,347.7 399.2,346.4 400.9,345.1 402.5,343.8 404.2,342.5 405.8,341.3 407.4,340.0 409.1,338.7 410.7,337.5 412.4,336.2 414.0,335.0 415.6,333.8 417.3,332.5 418.9,331.3 420.6,330.1 422.2,328.9 423.8,327.7 425.5,326.5 427.1,325.4 428.8,324.2 430.4,323.0 432.0,321.9 433.7,320.7 435.3,319.6 437.0,318.5 438.6,317.4 440.2,316.3 441.9,315.2 443.5,314.1 445.2,313.0 446.8,311.9 448.4,310.9 450.1,309.8 451.7,308.8 453.4,307.7 455.0,306.7 456.7,305.7 458.3,304.7 459.9,303.7 461.6,302.7 463.2,301.7 464.9,300.8 466.5,299.8 468.1,298.9 469.8,297.9 471.4,297.0 473.1,296.1 474.7,295.2 476.3,294.3 478.0,293.4 479.6,292.5 481.3,291.7 482.9,290.8 484.5,290.0 486.2,289.1 487.8,288.3 489.5,287.5 491.1,286.7 492.7,285.9 494.4,285.1 496.0,284.3 497.7,283.5 499.3,282.8 500.9,282.0 502.6,281.3 504.2,280.6 505.9,279.8 507.5,279.1 509.1,278.4 510.8,277.7 512.4,277.0 514.1,276.4 515.7,275.7 517.3,275.0 519.0,274.4 520.6,273.8 522.3,273.1 523.9,272.5 525.5,271.9 527.2,271.3 528.8,270.7 530.5,270.1 532.1,269.5 533.7,269.0 535.4,268.4 537.0,267.8 538.7,267.3 540.3,266.8 541.9,266.2 543.6,265.7 545.2,265.2 546.9,264.7 548.5,264.2 550.1,263.7 551.8,263.3 553.4,262.8 555.1,262.3 556.7,261.9 558.3,261.4 560.0,261.0 561.6,260.5 563.3,260.1 564.9,259.7 566.5,259.3 568.2,258.9 569.8,258.5 571.5,258.1 573.1,257.7 574.8,257.3 576.4,257.0 578.0,256.6 579.7,256.3 581.3,255.9 583.0,255.6 584.6,255.2 586.2,254.9 587.9,254.6 589.5,254.3 591.2,254.0 592.8,253.7 594.4,253.4 596.1,253.1 597.7,252.8 599.4,252.5 601.0,252.3 602.6,252.0 604.3,251.7 605.9,251.5 607.6,251.2 609.2,251.0 610.8,250.8 612.5,250.5 614.1,250.3 615.8,250.1 617.4,249.9 619.0,249.7 620.7,249.5 622.3,249.3 624.0,249.1 625.6,248.9 627.2,248.7 628.9,248.5 630.5,248.4 632.2,248.2 633.8,248.0 635.4,247.9" stroke="#ac0000" stroke-width="0.8"/>
<path d="M352.5,385.0 352.7,384.8 353.3,384.3 354.0,383.8 354.6,383.3 355.2,382.8 355.9,382.2 356.5,381.7 357.1,381.2 357.8,380.7 358.4,380.1 359.0,379.6 359.7,379.1 360.3,378.6 360.9,378.0 361.6,377.5 362.2,377.0 362.8,376.5 363.5,376.0 364.1,375.4 364.7,374.9 365.4,374.4 366.0,373.9 366.6,373.4 367.3,372.8 367.9,372.3 368.5,371.8 369.2,371.3 369.8,370.8 370.4,370.2 371.1,369.7 371.7,369.2 372.3,368.7 373.0,368.2 373.6,367.7 374.2,367.1 374.9,366.6 375.5,366.1 376.1,365.6 376.8,365.1 377.4,364.6 378.1,364.0 378.7,363.5 379.3,363.0 380.0,362.5 380.6,362.0 381.2,361.5 381.9,361.0 382.5,360.5 383.1,360.0 383.8,359.4 384.4,358.9 385.0,358.4 385.7,357.9 386.3,357.4 386.9,356.9 387.6,356.4 388.2,355.9 388.8,355.4 389.5,354.9 390.1,354.4 391.0,353.6 392.7,352.3 394.3,351.1 396.0,349.8 397.6,348.5 399.2,347.2 400.9,346.0 402.5,344.7 404.2,343.4 405.8,342.2 407.4,340.9 409.1,339.7 410.7,338.5 412.4,337.2 414.0,336.0 415.6,334.8 417.3,333.6 418.9,332.4 420.6,331.2 422.2,330.0 423.8,328.9 425.5,327.7 427.1,326.5 428.8,325.4 430.4,324.3 432.0,323.1 433.7,322.0 435.3,320.9 437.0,319.8 438.6,318.7 440.2,317.6 441.9,316.5 443.5,315.4 445.2,314.3 446.8,313.3 448.4,312.2 450.1,311.2 451.7,310.2 453.4,309.1 455.0,308.1 456.7,307.1 458.3,306.1 459.9,305.1 461.6,304.2 463.2,303.2 464.9,302.2 466.5,301.3 468.1,300.3 469.8,299.4 471.4,298.5 473.1,297.6 474.7,296.7 476.3,295.8 478.0,294.9 479.6,294.0 481.3,293.2 482.9,292.3 484.5,291.5 486.2,290.6 487.8,289.8 489.5,289.0 491.1,288.2 492.7,287.4 494.4,286.6 496.0,285.8 497.7,285.0 499.3,284.3 500.9,283.5 502.6,282.8 504.2,282.0 505.9,281.3 507.5,280.6 509.1,279.9 510.8,279.2 512.4,278.5 514.1,277.8 515.7,277.1 517.3,276.5 519.0,275.8 520.6,275.2 522.3,274.5 523.9,273.9 525.5,273.3 527.2,272.7 528.8,272.1 530.5,271.5 532.1,270.9 533.7,270.3 535.4,269.7 537.0,269.2 538.7,268.6 540.3,268.1 541.9,267.5 543.6,267.0 545.2,266.5 546.9,266.0 548.5,265.5 550.1,265.0 551.8,264.5 553.4,264.0 555.1,263.5 556.7,263.1 558.3,262.6 560.0,262.1 561.6,261.7 563.3,261.3 564.9,260.8 566.5,260.4 568.2,260.0 569.8,259.6 571.5,259.2 573.1,258.8 574.8,258.4 576.4,258.0 578.0,257.7 579.7,257.3 581.3,256.9 583.0,256.6 584.6,256.2 586.2,255.9 587.9,255.6 589.5,255.2 591.2,254.9 592.8,254.6 594.4,254.3 596.1,254.0 597.7,253.7 599.4,253.4 601.0,253.1 602.6,252.8 604.3,252.6 605.9,252.3 607.6,252.0 609.2,251.8 610.8,251.5 612.5,251.3 614.1,251.0 615.8,250.8 617.4,250.6 619.0,250.4 620.7,250.1 622.3,249.9 624.0,249.7 625.6,249.5 627.2,249.3 628.9,249.1 630.5,249.0 632.2,248.8 633.8,248.6 635.4,248.4" stroke="#960000" stroke-width="0.8"/>
<path d="M352.5,385.0 352.7,384.8 353.3,384.3 354.0,383.8 354.6,383.3 355.2,382.8 355.9,382.3 356.5,381.8 357.1,381.3 357.8,380.8 358.4,380.2 359.0,379.7 359.7,379.2 360.3,378.7 360.9,378.2 361.6,377.7 362.2,377.2 362.8,376.7 363.5,376.2 364.1,375.7 364.7,375.1 365.4,374.6 366.0,374.1 366.6,373.6 367.3,373.1 367.9,372.6 368.5,372.1 369.2,371.6 369.8,371.1 370.4,370.6 371.1,370.1 371.7,369.6 372.3,369.0 373.0,368.5 373.6,368.0 374.2,367.5 374.9,367.0 375.5,366.5 376.1,366.0 376.8,365.5 377.4,365.0 378.1,364.5 378.7,364.0 379.3,363.5 380.0,363.0 380.6,362.5 381.2,362.0 381.9,361.5 382.5,361.0 383.1,360.5 383.8,360.0 384.4,359.5 385.0,359.0 385.7,358.5 386.3,358.0 386.9,357.5 387.6,357.0 388.2,356.5 388.8,356.0 389.5,355.6 390.1,355.1 391.0,354.3 392.7,353.1 394.3,351.8 396.0,350.5 397.6,349.3 399.2,348.0 400.9,346.8 402.5,345.6 404.2,344.3 405.8,343.1 407.4,341.9 409.1,340.7 410.7,339.5 412.4,338.2 414.0,337.1 415.6,335.9 417.3,334.7 418.9,333.5 420.6,332.3 422.2,331.2 423.8,330.0 425.5,328.9 427.1,327.7 428.8,326.6 430.4,325.5 432.0,324.3 433.7,323.2 435.3,322.1 437.0,321.0 438.6,320.0 440.2,318.9 441.9,317.8 443.5,316.7 445.2,315.7 446.8,314.6 448.4,313.6 450.1,312.6 451.7,311.5 453.4,310.5 455.0,309.5 456.7,308.5 458.3,307.5 459.9,306.6 461.6,305.6 463.2,304.6 464.9,303.7 466.5,302.7 468.1,301.8 469.8,300.9 471.4,300.0 473.1,299.1 474.7,298.2 476.3,297.3 478.0,296.4 479.6,295.5 481.3,294.7 482.9,293.8 484.5,293.0 486.2,292.1 487.8,291.3 489.5,290.5 491.1,289.7 492.7,288.9 494.4,288.1 496.0,287.3 497.7,286.5 499.3,285.8 500.9,285.0 502.6,284.2 504.2,283.5 505.9,282.8 507.5,282.1 509.1,281.3 510.8,280.6 512.4,279.9 514.1,279.3 515.7,278.6 517.3,277.9 519.0,277.3 520.6,276.6 522.3,276.0 523.9,275.3 525.5,274.7 527.2,274.1 528.8,273.5 530.5,272.9 532.1,272.3 533.7,271.7 535.4,271.1 537.0,270.5 538.7,270.0 540.3,269.4 541.9,268.9 543.6,268.3 545.2,267.8 546.9,267.3 548.5,266.8 550.1,266.3 551.8,265.8 553.4,265.3 555.1,264.8 556.7,264.3 558.3,263.8 560.0,263.4 561.6,262.9 563.3,262.5 564.9,262.0 566.5,261.6 568.2,261.2 569.8,260.7 571.5,260.3 573.1,259.9 574.8,259.5 576.4,259.1 578.0,258.8 579.7,258.4 581.3,258.0 583.0,257.6 584.6,257.3 586.2,256.9 587.9,256.6 589.5,256.2 591.2,255.9 592.8,255.6 594.4,255.3 596.1,254.9 597.7,254.6 599.4,254.3 601.0,254.0 602.6,253.7 604.3,253.5 605.9,253.2 607.6,252.9 609.2,252.6 610.8,252.4 612.5,252.1 614.1,251.9 615.8,251.6 617.4,251.4 619.0,251.1 620.7,250.9 622.3,250.7 624.0,250.5 625.6,250.3 627.2,250.1 628.9,249.8 630.5,249.7 632.2,249.5 633.8,249.3 635.4,249.1" stroke="#690000" stroke-width="2.3"/>
</g>
<line x1="89.77" y1="385.00" x2="89.77" y2="380.50" stroke="#000" stroke-width="1.6"/>
<line x1="89.77" y1="8.00" x2="89.77" y2="12.50" stroke="#000" stroke-width="1.6"/>
<line x1="108.53" y1="385.00" x2="108.53" y2="380.50" stroke="#000" stroke-width="1.6"/>
<line x1="108.53" y1="8.00" x2="108.53" y2="12.50" stroke="#000" stroke-width="1.6"/>
<line x1="127.30" y1="385.00" x2="127.30" y2="380.50" stroke="#000" stroke-width="1.6"/>
<line x1="127.30" y1="8.00" x2="127.30" y2="12.50" stroke="#000" stroke-width="1.6"/>
<line x1="146.07" y1="385.00" x2="146.07" y2="380.50" stroke="#000" stroke-width="1.6"/>
<line x1="146.07" y1="8.00" x2="146.07" y2="12.50" stroke="#000" stroke-width="1.6"/>
<line x1="164.83" y1="385.00" x2="164.83" y2="377.50" stroke="#000" stroke-width="1.6"/>
<line x1="164.83" y1="8.00" x2="164.83" y2="15.50" stroke="#000" stroke-width="1.6"/>
<line x1="183.60" y1="385.00" x2="183.60" y2="380.50" stroke="#000" stroke-width="1.6"/>
<line x1="183.60" y1="8.00" x2="183.60" y2="12.50" stroke="#000" stroke-width="1.6"/>
<line x1="202.37" y1="385.00" x2="202.37" y2="380.50" stroke="#000" stroke-width="1.6"/>
<line x1="202.37" y1="8.00" x2="202.37" y2="12.50" stroke="#000" stroke-width="1.6"/>
<line x1="221.13" y1="385.00" x2="221.13" y2="380.50" stroke="#000" stroke-width="1.6"/>
<line x1="221.13" y1="8.00" x2="221.13" y2="12.50" stroke="#000" stroke-width="1.6"/>
<line x1="239.90" y1="385.00" x2="239.90" y2="380.50" stroke="#000" stroke-width="1.6"/>
<line x1="239.90" y1="8.00" x2="239.90" y2="12.50" stroke="#000" stroke-width="1.6"/>
<line x1="258.67" y1="385.00" x2="258.67" y2="377.50" stroke="#000" stroke-width="1.6"/>
<line x1="258.67" y1="8.00" x2="258.67" y2="15.50" stroke="#000" stroke-width="1.6"/>
<line x1="277.43" y1="385.00" x2="277.43" y2="380.50" stroke="#000" stroke-width="1.6"/>
<line x1="277.43" y1="8.00" x2="277.43" y2="12.50" stroke="#000" stroke-width="1.6"/>
<line x1="296.20" y1="385.00" x2="296.20" y2="380.50" stroke="#000" stroke-width="1.6"/>
<line x1="296.20" y1="8.00" x2="296.20" y2="12.50" stroke="#000" stroke-width="1.6"/>
<line x1="314.97" y1="385.00" x2="314.97" y2="380.50" stroke="#000" stroke-width="1.6"/>
<line x1="314.97" y1="8.00" x2="314.97" y2="12.50" stroke="#000" stroke-width="1.6"/>
<line x1="333.73" y1="385.00" x2="333.73" y2="380.50" stroke="#000" stroke-width="1.6"/>
<line x1="333.73" y1="8.00" x2="333.73" y2="12.50" stroke="#000" stroke-width="1.6"/>
<line x1="371.30" y1="385.00" x2="371.30" y2="380.50" stroke="#000" stroke-width="1.6"/>
<line x1="371.30" y1="8.00" x2="371.30" y2="12.50" stroke="#000" stroke-width="1.6"/>
<line x1="390.10" y1="385.00" x2="390.10" y2="380.50" stroke="#000" stroke-width="1.6"/>
<line x1="390.10" y1="8.00" x2="390.10" y2="12.50" stroke="#000" stroke-width="1.6"/>
<line x1="408.90" y1="385.00" x2="408.90" y2="380.50" stroke="#000" stroke-width="1.6"/>
<line x1="408.90" y1="8.00" x2="408.90" y2="12.50" stroke="#000" stroke-width="1.6"/>
<line x1="427.70" y1="385.00" x2="427.70" y2="380.50" stroke="#000" stroke-width="1.6"/>
<line x1="427.70" y1="8.00" x2="427.70" y2="12.50" stroke="#000" stroke-width="1.6"/>
<line x1="446.50" y1="385.00" x2="446.50" y2="377.50" stroke="#000" stroke-width="1.6"/>
<line x1="446.50" y1="8.00" x2="446.50" y2="15.50" stroke="#000" stroke-width="1.6"/>
<line x1="465.30" y1="385.00" x2="465.30" y2="380.50" stroke="#000" stroke-width="1.6"/>
<line x1="465.30" y1="8.00" x2="465.30" y2="12.50" stroke="#000" stroke-width="1.6"/>
<line x1="484.10" y1="385.00" x2="484.10" y2="380.50" stroke="#000" stroke-width="1.6"/>
<line x1="484.10" y1="8.00" x2="484.10" y2="12.50" stroke="#000" stroke-width="1.6"/>
<line x1="502.90" y1="385.00" x2="502.90" y2="380.50" stroke="#000" stroke-width="1.6"/>
<line x1="502.90" y1="8.00" x2="502.90" y2="12.50" stroke="#000" stroke-width="1.6"/>
<line x1="521.70" y1="385.00" x2="521.70" y2="380.50" stroke="#000" stroke-width="1.6"/>
<line x1="521.70" y1="8.00" x2="521.70" y2="12.50" stroke="#000" stroke-width="1.6"/>
<line x1="540.50" y1="385.00" x2="540.50" y2="377.50" stroke="#000" stroke-width="1.6"/>
<line x1="540.50" y1="8.00" x2="540.50" y2="15.50" stroke="#000" stroke-width="1.6"/>
<line x1="559.30" y1="385.00" x2="559.30" y2="380.50" stroke="#000" stroke-width="1.6"/>
<line x1="559.30" y1="8.00" x2="559.30" y2="12.50" stroke="#000" stroke-width="1.6"/>
<line x1="578.10" y1="385.00" x2="578.10" y2="380.50" stroke="#000" stroke-width="1.6"/>
<line x1="578.10" y1="8.00" x2="578.10" y2="12.50" stroke="#000" stroke-width="1.6"/>
<line x1="596.90" y1="385.00" x2="596.90" y2="380.50" stroke="#000" stroke-width="1.6"/>
<line x1="596.90" y1="8.00" x2="596.90" y2="12.50" stroke="#000" stroke-width="1.6"/>
<line x1="615.70" y1="385.00" x2="615.70" y2="380.50" stroke="#000" stroke-width="1.6"/>
<line x1="615.70" y1="8.00" x2="615.70" y2="12.50" stroke="#000" stroke-width="1.6"/>
<line x1="71.00" y1="353.58" x2="75.50" y2="353.58" stroke="#000" stroke-width="1.6"/>
<line x1="352.50" y1="353.58" x2="348.00" y2="353.58" stroke="#000" stroke-width="1.6"/>
<line x1="71.00" y1="322.17" x2="75.50" y2="322.17" stroke="#000" stroke-width="1.6"/>
<line x1="352.50" y1="322.17" x2="348.00" y2="322.17" stroke="#000" stroke-width="1.6"/>
<line x1="71.00" y1="290.75" x2="75.50" y2="290.75" stroke="#000" stroke-width="1.6"/>
<line x1="352.50" y1="290.75" x2="348.00" y2="290.75" stroke="#000" stroke-width="1.6"/>
<line x1="71.00" y1="259.33" x2="78.50" y2="259.33" stroke="#000" stroke-width="1.6"/>
<line x1="352.50" y1="259.33" x2="345.00" y2="259.33" stroke="#000" stroke-width="1.6"/>
<line x1="71.00" y1="227.92" x2="75.50" y2="227.92" stroke="#000" stroke-width="1.6"/>
<line x1="352.50" y1="227.92" x2="348.00" y2="227.92" stroke="#000" stroke-width="1.6"/>
<line x1="71.00" y1="196.50" x2="75.50" y2="196.50" stroke="#000" stroke-width="1.6"/>
<line x1="352.50" y1="196.50" x2="348.00" y2="196.50" stroke="#000" stroke-width="1.6"/>
<line x1="71.00" y1="165.08" x2="75.50" y2="165.08" stroke="#000" stroke-width="1.6"/>
<line x1="352.50" y1="165.08" x2="348.00" y2="165.08" stroke="#000" stroke-width="1.6"/>
<line x1="71.00" y1="133.67" x2="78.50" y2="133.67" stroke="#000" stroke-width="1.6"/>
<line x1="352.50" y1="133.67" x2="345.00" y2="133.67" stroke="#000" stroke-width="1.6"/>
<line x1="71.00" y1="102.25" x2="75.50" y2="102.25" stroke="#000" stroke-width="1.6"/>
<line x1="352.50" y1="102.25" x2="348.00" y2="102.25" stroke="#000" stroke-width="1.6"/>
<line x1="71.00" y1="70.83" x2="75.50" y2="70.83" stroke="#000" stroke-width="1.6"/>
<line x1="352.50" y1="70.83" x2="348.00" y2="70.83" stroke="#000" stroke-width="1.6"/>
<line x1="71.00" y1="39.42" x2="75.50" y2="39.42" stroke="#000" stroke-width="1.6"/>
<line x1="352.50" y1="39.42" x2="348.00" y2="39.42" stroke="#000" stroke-width="1.6"/>
<line x1="352.50" y1="359.87" x2="357.00" y2="359.87" stroke="#000" stroke-width="1.6"/>
<line x1="634.50" y1="359.87" x2="630.00" y2="359.87" stroke="#000" stroke-width="1.6"/>
<line x1="352.50" y1="334.73" x2="357.00" y2="334.73" stroke="#000" stroke-width="1.6"/>
<line x1="634.50" y1="334.73" x2="630.00" y2="334.73" stroke="#000" stroke-width="1.6"/>
<line x1="352.50" y1="309.60" x2="357.00" y2="309.60" stroke="#000" stroke-width="1.6"/>
<line x1="634.50" y1="309.60" x2="630.00" y2="309.60" stroke="#000" stroke-width="1.6"/>
<line x1="352.50" y1="284.47" x2="357.00" y2="284.47" stroke="#000" stroke-width="1.6"/>
<line x1="634.50" y1="284.47" x2="630.00" y2="284.47" stroke="#000" stroke-width="1.6"/>
<line x1="352.50" y1="259.33" x2="360.00" y2="259.33" stroke="#000" stroke-width="1.6"/>
<line x1="634.50" y1="259.33" x2="627.00" y2="259.33" stroke="#000" stroke-width="1.6"/>
<line x1="352.50" y1="234.20" x2="357.00" y2="234.20" stroke="#000" stroke-width="1.6"/>
<line x1="634.50" y1="234.20" x2="630.00" y2="234.20" stroke="#000" stroke-width="1.6"/>
<line x1="352.50" y1="209.07" x2="357.00" y2="209.07" stroke="#000" stroke-width="1.6"/>
<line x1="634.50" y1="209.07" x2="630.00" y2="209.07" stroke="#000" stroke-width="1.6"/>
<line x1="352.50" y1="183.93" x2="357.00" y2="183.93" stroke="#000" stroke-width="1.6"/>
<line x1="634.50" y1="183.93" x2="630.00" y2="183.93" stroke="#000" stroke-width="1.6"/>
<line x1="352.50" y1="158.80" x2="357.00" y2="158.80" stroke="#000" stroke-width="1.6"/>
<line x1="634.50" y1="158.80" x2="630.00" y2="158.80" stroke="#000" stroke-width="1.6"/>
<line x1="352.50" y1="133.67" x2="360.00" y2="133.67" stroke="#000" stroke-width="1.6"/>
<line x1="634.50" y1="133.67" x2="627.00" y2="133.67" stroke="#000" stroke-width="1.6"/>
<line x1="352.50" y1="108.53" x2="357.00" y2="108.53" stroke="#000" stroke-width="1.6"/>
<line x1="634.50" y1="108.53" x2="630.00" y2="108.53" stroke="#000" stroke-width="1.6"/>
<line x1="352.50" y1="83.40" x2="357.00" y2="83.40" stroke="#000" stroke-width="1.6"/>
<line x1="634.50" y1="83.40" x2="630.00" y2="83.40" stroke="#000" stroke-width="1.6"/>
<line x1="352.50" y1="58.27" x2="357.00" y2="58.27" stroke="#000" stroke-width="1.6"/>
<line x1="634.50" y1="58.27" x2="630.00" y2="58.27" stroke="#000" stroke-width="1.6"/>
<line x1="352.50" y1="33.13" x2="357.00" y2="33.13" stroke="#000" stroke-width="1.6"/>
<line x1="634.50" y1="33.13" x2="630.00" y2="33.13" stroke="#000" stroke-width="1.6"/>
<rect x="71.00" y="8.00" width="563.50" height="377.00" fill="none" stroke="#000" stroke-width="2"/>
<line x1="352.50" y1="8.00" x2="352.50" y2="385.00" stroke="#000" stroke-width="2"/>
<text x="63.8" y="390.2" font-size="18.5" text-anchor="end">0</text>
<text x="63.8" y="264.5" font-size="18.5" text-anchor="end">200</text>
<text x="63.8" y="138.9" font-size="18.5" text-anchor="end">400</text>
<text x="63.8" y="13.2" font-size="18.5" text-anchor="end">600</text>
<text x="642.3" y="390.3" font-size="18.5">0</text>
<text x="642.3" y="264.6" font-size="18.5">100</text>
<text x="642.3" y="139.0" font-size="18.5">200</text>
<text x="642.3" y="13.3" font-size="18.5">300</text>
<text x="71.0" y="407" font-size="18.5" text-anchor="middle">0</text>
<text x="164.8" y="407" font-size="18.5" text-anchor="middle">100</text>
<text x="258.7" y="407" font-size="18.5" text-anchor="middle">200</text>
<text x="352.5" y="407" font-size="18.5" text-anchor="middle">0</text>
<text x="446.5" y="407" font-size="18.5" text-anchor="middle">100</text>
<text x="540.5" y="407" font-size="18.5" text-anchor="middle">200</text>
<text x="634.5" y="407" font-size="18.5" text-anchor="middle">300</text>
<text x="211.75" y="440" font-size="21" text-anchor="middle">Energy (meV)</text>
<text x="493.5" y="440" font-size="21" text-anchor="middle">Energy (meV)</text>
<text transform="translate(17.8,194.2) rotate(-90)" font-size="19.6" letter-spacing="0.3" text-anchor="middle">1/τ<tspan font-size="12.5" dx="1" dy="-8">op</tspan><tspan dy="8">(ω) = -2Σ</tspan><tspan font-size="12.5" dx="0.5" dy="11">2</tspan><tspan font-size="12.5" dx="-7.2" dy="-18.6">op</tspan><tspan dy="7.6">(ω) (meV)</tspan></text>
<text transform="translate(696.8,193.2) rotate(-90)" font-size="19.6" letter-spacing="0.3" text-anchor="middle">-2Σ<tspan font-size="12.5" dx="0.5" dy="11">1</tspan><tspan font-size="12.5" dx="-7.2" dy="-18.6">op</tspan><tspan dy="7.6">(ω) (meV)</tspan></text>
<text x="85.8" y="33.5" font-size="23.5">(a)</text>
<text x="368.8" y="33.8" font-size="24">(b)</text>
<text x="499.5" y="50.6" font-size="22.8">Without PG</text>
<text x="318.5" y="39" font-size="23" font-style="italic">T</text>
<text x="458.3" y="133.3" font-size="23" font-style="italic">T</text>
<text x="273.3" y="69.8" font-size="19.5" style="fill:#8b1a1a">500 K</text>
<text x="475.3" y="172.6" font-size="19.8" style="fill:#8b1a1a">500 K</text>
<text x="287.5" y="186" font-size="19.5" style="fill:#800080">0 <tspan dx="2">K</tspan></text>
<text x="474.3" y="322.8" font-size="19.5" style="fill:#800080">0 <tspan dx="1.5">K</tspan></text>
<line x1="332.7" y1="50.8" x2="332.7" y2="188" stroke="#000" stroke-width="1.9" stroke-dasharray="7.5,5.4"/>
<path d="M332.7,43 L330.4,51.2 L335,51.2 Z" fill="#000"/>
<line x1="466.4" y1="147.6" x2="466.4" y2="332" stroke="#000" stroke-width="1.9" stroke-dasharray="7.4,5.5"/>
<path d="M466.4,339.7 L464.2,331.4 L468.6,331.4 Z" fill="#000"/>
</svg></body></html>
